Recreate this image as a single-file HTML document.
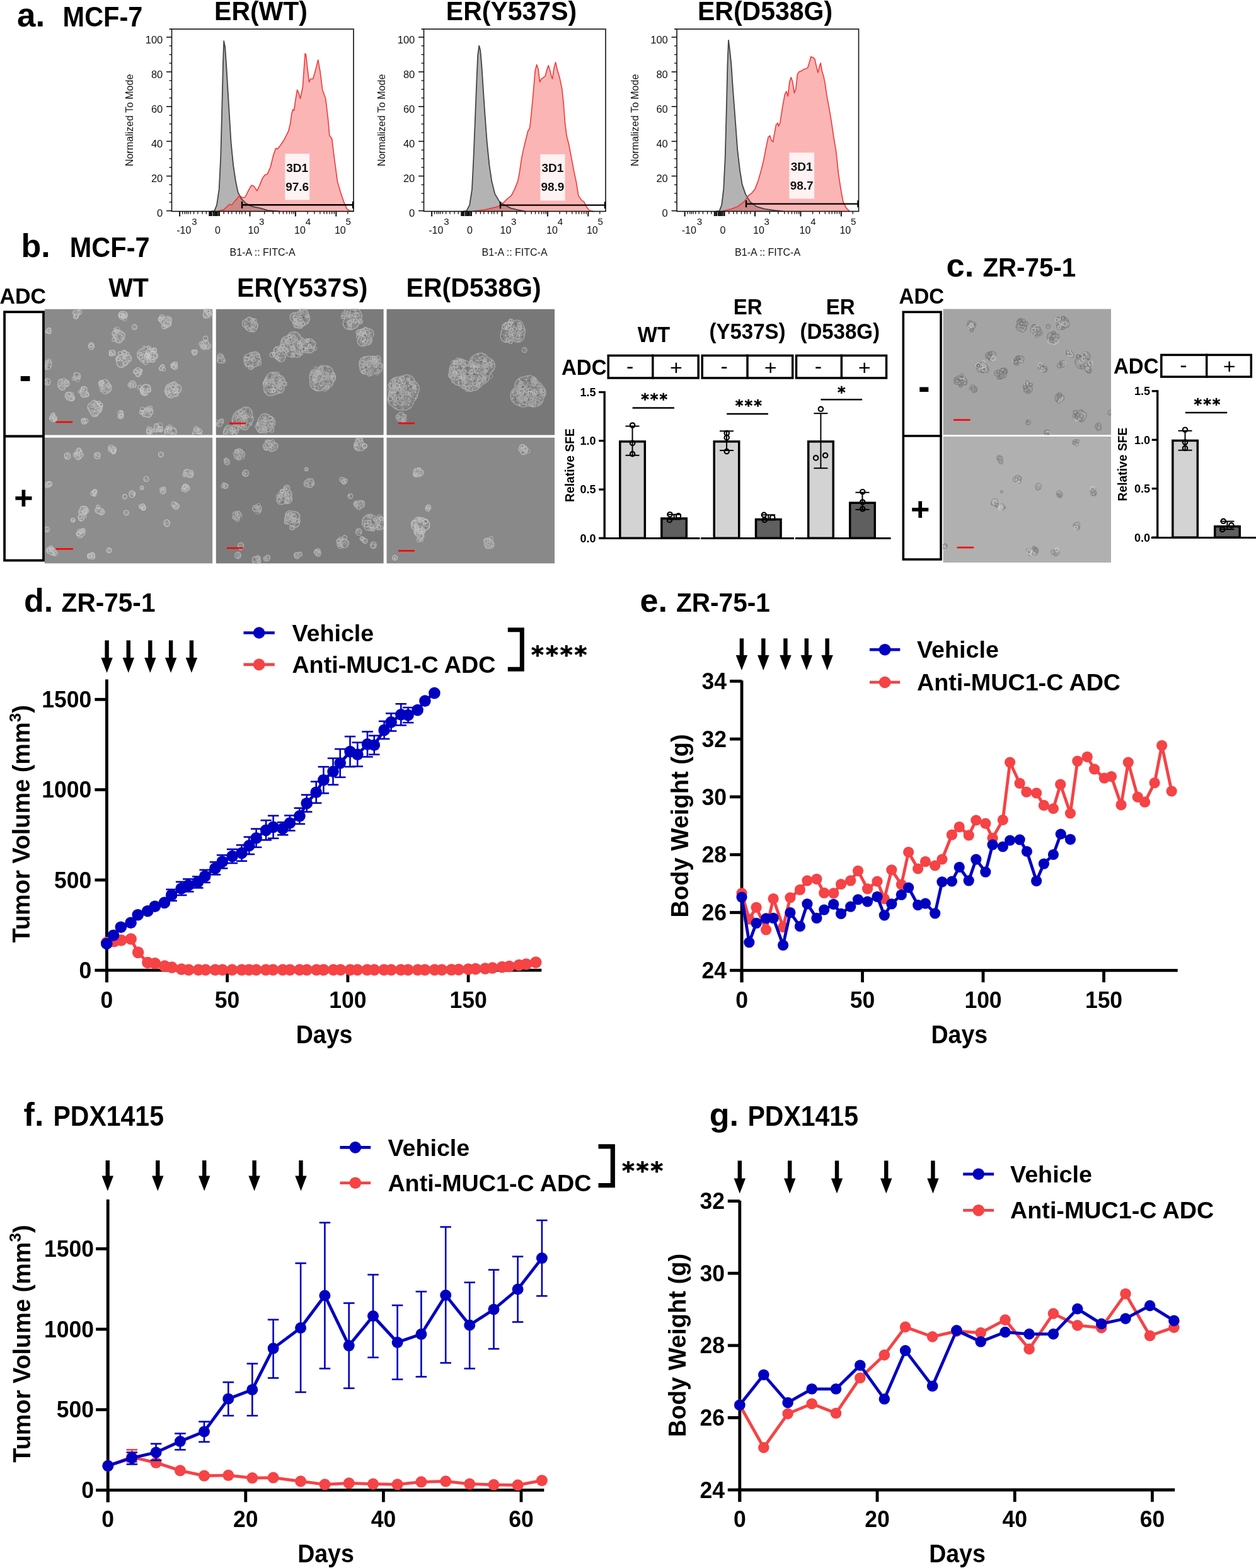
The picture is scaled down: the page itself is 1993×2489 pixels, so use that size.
<!DOCTYPE html>
<html><head><meta charset="utf-8"><title>Figure</title>
<style>
html,body{margin:0;padding:0;background:#fff;}
svg{display:block;}
.b{fill:none;stroke-width:2.8px;}
.u{stroke-opacity:.75;stroke-width:1.3px;}
text{font-family:"Liberation Sans", Arial, Helvetica, sans-serif;}
</style></head><body>
<svg width="1993" height="2489" viewBox="0 0 1993 2489" font-family='"Liberation Sans", Arial, Helvetica, sans-serif'>
<defs><pattern id="pp" width="11" height="10" patternUnits="userSpaceOnUse"><rect width="11" height="10" fill="#fff" fill-opacity=".07"/><circle cx="2" cy="2" r="1.2" fill="#fff" fill-opacity=".5"/><circle cx="7" cy="3.5" r="1" fill="#000" fill-opacity=".4"/><circle cx="4" cy="7.5" r="1.1" fill="#fff" fill-opacity=".4"/><circle cx="9" cy="8" r=".8" fill="#000" fill-opacity=".3"/><circle cx="9.5" cy="1" r=".7" fill="#fff" fill-opacity=".35"/></pattern><pattern id="pd" width="12" height="11" patternUnits="userSpaceOnUse"><rect width="12" height="11" fill="#000" fill-opacity=".03"/><circle cx="2" cy="3" r="1.2" fill="#000" fill-opacity=".35"/><circle cx="8" cy="2" r="1" fill="#fff" fill-opacity=".45"/><circle cx="5" cy="8" r="1.1" fill="#000" fill-opacity=".3"/><circle cx="10" cy="8.5" r=".9" fill="#fff" fill-opacity=".35"/></pattern><filter id="soft" x="-5%" y="-5%" width="110%" height="110%"><feGaussianBlur stdDeviation="0.7"/></filter></defs>
<rect width="1993" height="2489" fill="#fff"/>
<text transform="translate(414.0,32.0) scale(1,1.05)" font-size="41" font-weight="bold" text-anchor="middle" fill="#000" >ER(WT)</text>
<polygon points="335.2,335.4 340.2,334.9 344.0,325.4 347.7,300.4 350.2,250.3 352.2,175.2 354.0,100.1 355.2,65.1 357.2,75.1 359.7,112.6 362.7,162.7 366.5,225.3 370.2,262.8 374.0,287.9 377.7,305.4 382.8,315.4 390.3,322.9 400.3,327.9 412.8,330.4 425.3,334.2 442.8,335.4" fill="#b3b3b3" stroke="none"/>
<polygon points="345.2,335.4 355.2,332.9 364.0,324.2 367.7,325.4 372.7,319.1 380.3,310.4 385.3,314.1 389.0,312.9 395.3,300.4 399.0,294.1 402.8,295.4 407.8,302.9 411.5,295.4 416.5,282.9 420.3,277.8 424.1,276.6 429.1,265.3 434.1,245.3 437.8,235.3 440.3,236.5 445.3,230.3 450.3,222.8 455.3,212.8 457.8,207.8 460.4,197.7 462.9,180.2 464.6,174.0 466.6,175.2 469.1,157.7 471.6,142.7 474.1,147.7 476.6,156.4 480.4,137.7 484.1,85.1 485.4,86.4 490.4,130.2 492.9,125.2 496.6,125.2 500.4,112.6 504.7,95.1 507.9,112.6 511.7,142.7 516.7,156.4 520.4,187.7 522.9,215.3 526.7,220.3 530.4,250.3 535.4,287.9 540.5,305.4 545.5,320.4 550.5,331.7 555.5,334.9 560.5,335.4" fill="rgba(245,70,70,0.40)" stroke="none"/>
<polyline points="335.2,335.4 340.2,334.9 344.0,325.4 347.7,300.4 350.2,250.3 352.2,175.2 354.0,100.1 355.2,65.1 357.2,75.1 359.7,112.6 362.7,162.7 366.5,225.3 370.2,262.8 374.0,287.9 377.7,305.4 382.8,315.4 390.3,322.9 400.3,327.9 412.8,330.4 425.3,334.2 442.8,335.4" fill="none" stroke="#444" stroke-width="1.8" stroke-linejoin="round"/>
<polyline points="345.2,335.4 355.2,332.9 364.0,324.2 367.7,325.4 372.7,319.1 380.3,310.4 385.3,314.1 389.0,312.9 395.3,300.4 399.0,294.1 402.8,295.4 407.8,302.9 411.5,295.4 416.5,282.9 420.3,277.8 424.1,276.6 429.1,265.3 434.1,245.3 437.8,235.3 440.3,236.5 445.3,230.3 450.3,222.8 455.3,212.8 457.8,207.8 460.4,197.7 462.9,180.2 464.6,174.0 466.6,175.2 469.1,157.7 471.6,142.7 474.1,147.7 476.6,156.4 480.4,137.7 484.1,85.1 485.4,86.4 490.4,130.2 492.9,125.2 496.6,125.2 500.4,112.6 504.7,95.1 507.9,112.6 511.7,142.7 516.7,156.4 520.4,187.7 522.9,215.3 526.7,220.3 530.4,250.3 535.4,287.9 540.5,305.4 545.5,320.4 550.5,331.7 555.5,334.9 560.5,335.4" fill="none" stroke="#f03a3a" stroke-width="1.6" stroke-linejoin="round"/>
<rect x="452.3" y="244.0" width="38.8" height="73.4" fill="rgba(255,255,255,0.82)" stroke="none" stroke-width="0" />
<text x="471.7" y="272.5" font-size="19" font-weight="bold" text-anchor="middle" fill="#111" >3D1</text>
<text x="471.7" y="302.5" font-size="19" font-weight="bold" text-anchor="middle" fill="#111" >97.6</text>
<line x1="384.0" y1="325.3" x2="560.0" y2="325.3" stroke="#000" stroke-width="2.4" />
<line x1="384.0" y1="319.8" x2="384.0" y2="330.8" stroke="#000" stroke-width="2.4" />
<line x1="560.0" y1="319.8" x2="560.0" y2="330.8" stroke="#000" stroke-width="2.4" />
<rect x="272.5" y="46.2" width="288.5" height="289.3" fill="none" stroke="#111" stroke-width="1.6" />
<line x1="268.5" y1="46.2" x2="272.5" y2="46.2" stroke="#111" stroke-width="1.6" />
<line x1="264.1" y1="334.6" x2="272.5" y2="334.6" stroke="#111" stroke-width="1.6" />
<text x="258.3" y="344.1" font-size="16.5" font-weight="normal" text-anchor="end" fill="#111" >0</text>
<line x1="268.5" y1="320.8" x2="272.5" y2="320.8" stroke="#111" stroke-width="1.3" />
<line x1="268.5" y1="307.0" x2="272.5" y2="307.0" stroke="#111" stroke-width="1.3" />
<line x1="268.5" y1="293.3" x2="272.5" y2="293.3" stroke="#111" stroke-width="1.3" />
<line x1="264.1" y1="279.5" x2="272.5" y2="279.5" stroke="#111" stroke-width="1.6" />
<text x="258.3" y="289.0" font-size="16.5" font-weight="normal" text-anchor="end" fill="#111" >20</text>
<line x1="268.5" y1="265.7" x2="272.5" y2="265.7" stroke="#111" stroke-width="1.3" />
<line x1="268.5" y1="251.9" x2="272.5" y2="251.9" stroke="#111" stroke-width="1.3" />
<line x1="268.5" y1="238.1" x2="272.5" y2="238.1" stroke="#111" stroke-width="1.3" />
<line x1="264.1" y1="224.4" x2="272.5" y2="224.4" stroke="#111" stroke-width="1.6" />
<text x="258.3" y="233.9" font-size="16.5" font-weight="normal" text-anchor="end" fill="#111" >40</text>
<line x1="268.5" y1="210.6" x2="272.5" y2="210.6" stroke="#111" stroke-width="1.3" />
<line x1="268.5" y1="196.8" x2="272.5" y2="196.8" stroke="#111" stroke-width="1.3" />
<line x1="268.5" y1="183.0" x2="272.5" y2="183.0" stroke="#111" stroke-width="1.3" />
<line x1="264.1" y1="169.2" x2="272.5" y2="169.2" stroke="#111" stroke-width="1.6" />
<text x="258.3" y="178.7" font-size="16.5" font-weight="normal" text-anchor="end" fill="#111" >60</text>
<line x1="268.5" y1="155.5" x2="272.5" y2="155.5" stroke="#111" stroke-width="1.3" />
<line x1="268.5" y1="141.7" x2="272.5" y2="141.7" stroke="#111" stroke-width="1.3" />
<line x1="268.5" y1="127.9" x2="272.5" y2="127.9" stroke="#111" stroke-width="1.3" />
<line x1="264.1" y1="114.1" x2="272.5" y2="114.1" stroke="#111" stroke-width="1.6" />
<text x="258.3" y="123.6" font-size="16.5" font-weight="normal" text-anchor="end" fill="#111" >80</text>
<line x1="268.5" y1="100.3" x2="272.5" y2="100.3" stroke="#111" stroke-width="1.3" />
<line x1="268.5" y1="86.6" x2="272.5" y2="86.6" stroke="#111" stroke-width="1.3" />
<line x1="268.5" y1="72.8" x2="272.5" y2="72.8" stroke="#111" stroke-width="1.3" />
<line x1="264.1" y1="59.0" x2="272.5" y2="59.0" stroke="#111" stroke-width="1.6" />
<text x="258.3" y="68.5" font-size="16.5" font-weight="normal" text-anchor="end" fill="#111" >100</text>
<text transform="translate(211.2,190.9) rotate(-90)" font-size="16" text-anchor="middle" fill="#111">Normalized To Mode</text>
<line x1="285.1" y1="335.5" x2="285.1" y2="343.5" stroke="#111" stroke-width="2" />
<line x1="396.5" y1="335.5" x2="396.5" y2="343.5" stroke="#111" stroke-width="2" />
<line x1="468.9" y1="335.5" x2="468.9" y2="343.5" stroke="#111" stroke-width="2" />
<line x1="533.3" y1="335.5" x2="533.3" y2="343.5" stroke="#111" stroke-width="2" />
<line x1="332.7" y1="335.5" x2="332.7" y2="343.0" stroke="#111" stroke-width="2.8" />
<line x1="335.4" y1="335.5" x2="335.4" y2="343.0" stroke="#111" stroke-width="2.8" />
<line x1="339.0" y1="335.5" x2="339.0" y2="343.0" stroke="#111" stroke-width="2.8" />
<line x1="341.7" y1="335.5" x2="341.7" y2="343.0" stroke="#111" stroke-width="2.8" />
<line x1="344.4" y1="335.5" x2="344.4" y2="343.0" stroke="#111" stroke-width="2.8" />
<line x1="347.6" y1="335.5" x2="347.6" y2="343.0" stroke="#111" stroke-width="2.8" />
<line x1="289.6" y1="335.5" x2="289.6" y2="339.8" stroke="#111" stroke-width="1.3" />
<line x1="293.2" y1="335.5" x2="293.2" y2="339.8" stroke="#111" stroke-width="1.3" />
<line x1="295.9" y1="335.5" x2="295.9" y2="339.8" stroke="#111" stroke-width="1.3" />
<line x1="298.6" y1="335.5" x2="298.6" y2="339.8" stroke="#111" stroke-width="1.3" />
<line x1="302.2" y1="335.5" x2="302.2" y2="339.8" stroke="#111" stroke-width="1.3" />
<line x1="307.6" y1="335.5" x2="307.6" y2="339.8" stroke="#111" stroke-width="1.3" />
<line x1="313.9" y1="335.5" x2="313.9" y2="339.8" stroke="#111" stroke-width="1.3" />
<line x1="321.1" y1="335.5" x2="321.1" y2="339.8" stroke="#111" stroke-width="1.3" />
<line x1="327.3" y1="335.5" x2="327.3" y2="339.8" stroke="#111" stroke-width="1.3" />
<line x1="355.2" y1="335.5" x2="355.2" y2="339.8" stroke="#111" stroke-width="1.3" />
<line x1="362.4" y1="335.5" x2="362.4" y2="339.8" stroke="#111" stroke-width="1.3" />
<line x1="367.8" y1="335.5" x2="367.8" y2="339.8" stroke="#111" stroke-width="1.3" />
<line x1="374.9" y1="335.5" x2="374.9" y2="339.8" stroke="#111" stroke-width="1.3" />
<line x1="380.3" y1="335.5" x2="380.3" y2="339.8" stroke="#111" stroke-width="1.3" />
<line x1="383.9" y1="335.5" x2="383.9" y2="339.8" stroke="#111" stroke-width="1.3" />
<line x1="389.3" y1="335.5" x2="389.3" y2="339.8" stroke="#111" stroke-width="1.3" />
<line x1="419.8" y1="335.5" x2="419.8" y2="339.8" stroke="#111" stroke-width="1.3" />
<line x1="433.3" y1="335.5" x2="433.3" y2="339.8" stroke="#111" stroke-width="1.3" />
<line x1="443.2" y1="335.5" x2="443.2" y2="339.8" stroke="#111" stroke-width="1.3" />
<line x1="449.5" y1="335.5" x2="449.5" y2="339.8" stroke="#111" stroke-width="1.3" />
<line x1="454.9" y1="335.5" x2="454.9" y2="339.8" stroke="#111" stroke-width="1.3" />
<line x1="459.4" y1="335.5" x2="459.4" y2="339.8" stroke="#111" stroke-width="1.3" />
<line x1="463.0" y1="335.5" x2="463.0" y2="339.8" stroke="#111" stroke-width="1.3" />
<line x1="466.2" y1="335.5" x2="466.2" y2="339.8" stroke="#111" stroke-width="1.3" />
<line x1="488.1" y1="335.5" x2="488.1" y2="339.8" stroke="#111" stroke-width="1.3" />
<line x1="498.9" y1="335.5" x2="498.9" y2="339.8" stroke="#111" stroke-width="1.3" />
<line x1="507.8" y1="335.5" x2="507.8" y2="339.8" stroke="#111" stroke-width="1.3" />
<line x1="514.1" y1="335.5" x2="514.1" y2="339.8" stroke="#111" stroke-width="1.3" />
<line x1="518.6" y1="335.5" x2="518.6" y2="339.8" stroke="#111" stroke-width="1.3" />
<line x1="523.1" y1="335.5" x2="523.1" y2="339.8" stroke="#111" stroke-width="1.3" />
<line x1="526.7" y1="335.5" x2="526.7" y2="339.8" stroke="#111" stroke-width="1.3" />
<line x1="530.3" y1="335.5" x2="530.3" y2="339.8" stroke="#111" stroke-width="1.3" />
<line x1="551.8" y1="335.5" x2="551.8" y2="339.8" stroke="#111" stroke-width="1.3" />
<text x="303.3" y="371.0" font-size="16" font-weight="normal" text-anchor="end" fill="#111" >-10</text>
<text x="304.2" y="357.2" font-size="15" font-weight="normal" text-anchor="start" fill="#111" >3</text>
<text x="345.5" y="371.0" font-size="16" font-weight="normal" text-anchor="middle" fill="#111" >0</text>
<text x="393.5" y="371.0" font-size="16" font-weight="normal" text-anchor="start" fill="#111" >10</text>
<text x="411.1" y="357.2" font-size="15" font-weight="normal" text-anchor="start" fill="#111" >3</text>
<text x="467.1" y="371.0" font-size="16" font-weight="normal" text-anchor="start" fill="#111" >10</text>
<text x="484.7" y="357.2" font-size="15" font-weight="normal" text-anchor="start" fill="#111" >4</text>
<text x="530.9" y="371.0" font-size="16" font-weight="normal" text-anchor="start" fill="#111" >10</text>
<text x="548.5" y="357.2" font-size="15" font-weight="normal" text-anchor="start" fill="#111" >5</text>
<text x="416.6" y="405.6" font-size="16" font-weight="normal" text-anchor="middle" fill="#111" >B1-A :: FITC-A</text>
<text transform="translate(811.5,32.0) scale(1,1.05)" font-size="41" font-weight="bold" text-anchor="middle" fill="#000" >ER(Y537S)</text>
<polygon points="735.2,335.4 740.2,334.9 745.2,325.4 749.0,300.4 751.5,250.3 754.0,187.7 756.5,125.2 758.2,87.6 760.2,72.6 762.2,80.1 764.0,100.1 766.5,137.7 769.0,175.2 772.7,225.3 776.5,262.8 780.3,287.9 785.3,307.9 792.8,320.4 800.3,325.4 810.3,330.4 820.3,332.9 832.8,335.4" fill="#b3b3b3" stroke="none"/>
<polygon points="750.2,335.4 770.2,332.9 780.3,330.4 790.3,327.9 797.8,322.9 805.3,315.4 811.5,310.4 816.5,300.4 821.6,287.9 824.1,275.3 827.8,250.3 831.6,232.8 835.3,217.8 837.8,207.8 840.3,204.0 841.6,195.2 844.1,170.2 846.6,142.7 849.1,112.6 851.6,102.6 854.1,110.1 856.6,130.2 859.1,125.2 862.9,122.7 865.4,120.2 867.9,110.1 870.4,103.9 872.9,112.6 875.4,122.7 876.6,125.2 879.1,107.6 881.6,98.9 884.1,110.1 887.9,122.7 891.6,140.2 894.1,162.7 896.6,195.2 899.1,215.3 902.9,230.3 906.7,250.3 910.4,270.3 914.2,287.9 917.9,310.4 922.9,317.9 926.7,320.4 930.4,327.9 935.4,334.2 943.0,335.9" fill="rgba(245,70,70,0.40)" stroke="none"/>
<polyline points="735.2,335.4 740.2,334.9 745.2,325.4 749.0,300.4 751.5,250.3 754.0,187.7 756.5,125.2 758.2,87.6 760.2,72.6 762.2,80.1 764.0,100.1 766.5,137.7 769.0,175.2 772.7,225.3 776.5,262.8 780.3,287.9 785.3,307.9 792.8,320.4 800.3,325.4 810.3,330.4 820.3,332.9 832.8,335.4" fill="none" stroke="#444" stroke-width="1.8" stroke-linejoin="round"/>
<polyline points="750.2,335.4 770.2,332.9 780.3,330.4 790.3,327.9 797.8,322.9 805.3,315.4 811.5,310.4 816.5,300.4 821.6,287.9 824.1,275.3 827.8,250.3 831.6,232.8 835.3,217.8 837.8,207.8 840.3,204.0 841.6,195.2 844.1,170.2 846.6,142.7 849.1,112.6 851.6,102.6 854.1,110.1 856.6,130.2 859.1,125.2 862.9,122.7 865.4,120.2 867.9,110.1 870.4,103.9 872.9,112.6 875.4,122.7 876.6,125.2 879.1,107.6 881.6,98.9 884.1,110.1 887.9,122.7 891.6,140.2 894.1,162.7 896.6,195.2 899.1,215.3 902.9,230.3 906.7,250.3 910.4,270.3 914.2,287.9 917.9,310.4 922.9,317.9 926.7,320.4 930.4,327.9 935.4,334.2 943.0,335.9" fill="none" stroke="#f03a3a" stroke-width="1.6" stroke-linejoin="round"/>
<rect x="857.3" y="244.8" width="39.3" height="73.6" fill="rgba(255,255,255,0.82)" stroke="none" stroke-width="0" />
<text x="876.9" y="273.3" font-size="19" font-weight="bold" text-anchor="middle" fill="#111" >3D1</text>
<text x="876.9" y="303.3" font-size="19" font-weight="bold" text-anchor="middle" fill="#111" >98.9</text>
<line x1="794.0" y1="325.6" x2="960.0" y2="325.6" stroke="#000" stroke-width="2.4" />
<line x1="794.0" y1="320.1" x2="794.0" y2="331.1" stroke="#000" stroke-width="2.4" />
<line x1="960.0" y1="320.1" x2="960.0" y2="331.1" stroke="#000" stroke-width="2.4" />
<rect x="672.5" y="46.2" width="288.5" height="289.3" fill="none" stroke="#111" stroke-width="1.6" />
<line x1="668.5" y1="46.2" x2="672.5" y2="46.2" stroke="#111" stroke-width="1.6" />
<line x1="664.1" y1="334.6" x2="672.5" y2="334.6" stroke="#111" stroke-width="1.6" />
<text x="658.3" y="344.1" font-size="16.5" font-weight="normal" text-anchor="end" fill="#111" >0</text>
<line x1="668.5" y1="320.8" x2="672.5" y2="320.8" stroke="#111" stroke-width="1.3" />
<line x1="668.5" y1="307.0" x2="672.5" y2="307.0" stroke="#111" stroke-width="1.3" />
<line x1="668.5" y1="293.3" x2="672.5" y2="293.3" stroke="#111" stroke-width="1.3" />
<line x1="664.1" y1="279.5" x2="672.5" y2="279.5" stroke="#111" stroke-width="1.6" />
<text x="658.3" y="289.0" font-size="16.5" font-weight="normal" text-anchor="end" fill="#111" >20</text>
<line x1="668.5" y1="265.7" x2="672.5" y2="265.7" stroke="#111" stroke-width="1.3" />
<line x1="668.5" y1="251.9" x2="672.5" y2="251.9" stroke="#111" stroke-width="1.3" />
<line x1="668.5" y1="238.1" x2="672.5" y2="238.1" stroke="#111" stroke-width="1.3" />
<line x1="664.1" y1="224.4" x2="672.5" y2="224.4" stroke="#111" stroke-width="1.6" />
<text x="658.3" y="233.9" font-size="16.5" font-weight="normal" text-anchor="end" fill="#111" >40</text>
<line x1="668.5" y1="210.6" x2="672.5" y2="210.6" stroke="#111" stroke-width="1.3" />
<line x1="668.5" y1="196.8" x2="672.5" y2="196.8" stroke="#111" stroke-width="1.3" />
<line x1="668.5" y1="183.0" x2="672.5" y2="183.0" stroke="#111" stroke-width="1.3" />
<line x1="664.1" y1="169.2" x2="672.5" y2="169.2" stroke="#111" stroke-width="1.6" />
<text x="658.3" y="178.7" font-size="16.5" font-weight="normal" text-anchor="end" fill="#111" >60</text>
<line x1="668.5" y1="155.5" x2="672.5" y2="155.5" stroke="#111" stroke-width="1.3" />
<line x1="668.5" y1="141.7" x2="672.5" y2="141.7" stroke="#111" stroke-width="1.3" />
<line x1="668.5" y1="127.9" x2="672.5" y2="127.9" stroke="#111" stroke-width="1.3" />
<line x1="664.1" y1="114.1" x2="672.5" y2="114.1" stroke="#111" stroke-width="1.6" />
<text x="658.3" y="123.6" font-size="16.5" font-weight="normal" text-anchor="end" fill="#111" >80</text>
<line x1="668.5" y1="100.3" x2="672.5" y2="100.3" stroke="#111" stroke-width="1.3" />
<line x1="668.5" y1="86.6" x2="672.5" y2="86.6" stroke="#111" stroke-width="1.3" />
<line x1="668.5" y1="72.8" x2="672.5" y2="72.8" stroke="#111" stroke-width="1.3" />
<line x1="664.1" y1="59.0" x2="672.5" y2="59.0" stroke="#111" stroke-width="1.6" />
<text x="658.3" y="68.5" font-size="16.5" font-weight="normal" text-anchor="end" fill="#111" >100</text>
<text transform="translate(611.2,190.9) rotate(-90)" font-size="16" text-anchor="middle" fill="#111">Normalized To Mode</text>
<line x1="685.1" y1="335.5" x2="685.1" y2="343.5" stroke="#111" stroke-width="2" />
<line x1="796.5" y1="335.5" x2="796.5" y2="343.5" stroke="#111" stroke-width="2" />
<line x1="868.9" y1="335.5" x2="868.9" y2="343.5" stroke="#111" stroke-width="2" />
<line x1="933.3" y1="335.5" x2="933.3" y2="343.5" stroke="#111" stroke-width="2" />
<line x1="732.7" y1="335.5" x2="732.7" y2="343.0" stroke="#111" stroke-width="2.8" />
<line x1="735.4" y1="335.5" x2="735.4" y2="343.0" stroke="#111" stroke-width="2.8" />
<line x1="739.0" y1="335.5" x2="739.0" y2="343.0" stroke="#111" stroke-width="2.8" />
<line x1="741.7" y1="335.5" x2="741.7" y2="343.0" stroke="#111" stroke-width="2.8" />
<line x1="744.4" y1="335.5" x2="744.4" y2="343.0" stroke="#111" stroke-width="2.8" />
<line x1="747.6" y1="335.5" x2="747.6" y2="343.0" stroke="#111" stroke-width="2.8" />
<line x1="689.6" y1="335.5" x2="689.6" y2="339.8" stroke="#111" stroke-width="1.3" />
<line x1="693.2" y1="335.5" x2="693.2" y2="339.8" stroke="#111" stroke-width="1.3" />
<line x1="695.9" y1="335.5" x2="695.9" y2="339.8" stroke="#111" stroke-width="1.3" />
<line x1="698.6" y1="335.5" x2="698.6" y2="339.8" stroke="#111" stroke-width="1.3" />
<line x1="702.2" y1="335.5" x2="702.2" y2="339.8" stroke="#111" stroke-width="1.3" />
<line x1="707.6" y1="335.5" x2="707.6" y2="339.8" stroke="#111" stroke-width="1.3" />
<line x1="713.9" y1="335.5" x2="713.9" y2="339.8" stroke="#111" stroke-width="1.3" />
<line x1="721.1" y1="335.5" x2="721.1" y2="339.8" stroke="#111" stroke-width="1.3" />
<line x1="727.3" y1="335.5" x2="727.3" y2="339.8" stroke="#111" stroke-width="1.3" />
<line x1="755.2" y1="335.5" x2="755.2" y2="339.8" stroke="#111" stroke-width="1.3" />
<line x1="762.4" y1="335.5" x2="762.4" y2="339.8" stroke="#111" stroke-width="1.3" />
<line x1="767.8" y1="335.5" x2="767.8" y2="339.8" stroke="#111" stroke-width="1.3" />
<line x1="774.9" y1="335.5" x2="774.9" y2="339.8" stroke="#111" stroke-width="1.3" />
<line x1="780.3" y1="335.5" x2="780.3" y2="339.8" stroke="#111" stroke-width="1.3" />
<line x1="783.9" y1="335.5" x2="783.9" y2="339.8" stroke="#111" stroke-width="1.3" />
<line x1="789.3" y1="335.5" x2="789.3" y2="339.8" stroke="#111" stroke-width="1.3" />
<line x1="819.8" y1="335.5" x2="819.8" y2="339.8" stroke="#111" stroke-width="1.3" />
<line x1="833.3" y1="335.5" x2="833.3" y2="339.8" stroke="#111" stroke-width="1.3" />
<line x1="843.2" y1="335.5" x2="843.2" y2="339.8" stroke="#111" stroke-width="1.3" />
<line x1="849.5" y1="335.5" x2="849.5" y2="339.8" stroke="#111" stroke-width="1.3" />
<line x1="854.9" y1="335.5" x2="854.9" y2="339.8" stroke="#111" stroke-width="1.3" />
<line x1="859.4" y1="335.5" x2="859.4" y2="339.8" stroke="#111" stroke-width="1.3" />
<line x1="863.0" y1="335.5" x2="863.0" y2="339.8" stroke="#111" stroke-width="1.3" />
<line x1="866.2" y1="335.5" x2="866.2" y2="339.8" stroke="#111" stroke-width="1.3" />
<line x1="888.1" y1="335.5" x2="888.1" y2="339.8" stroke="#111" stroke-width="1.3" />
<line x1="898.9" y1="335.5" x2="898.9" y2="339.8" stroke="#111" stroke-width="1.3" />
<line x1="907.8" y1="335.5" x2="907.8" y2="339.8" stroke="#111" stroke-width="1.3" />
<line x1="914.1" y1="335.5" x2="914.1" y2="339.8" stroke="#111" stroke-width="1.3" />
<line x1="918.6" y1="335.5" x2="918.6" y2="339.8" stroke="#111" stroke-width="1.3" />
<line x1="923.1" y1="335.5" x2="923.1" y2="339.8" stroke="#111" stroke-width="1.3" />
<line x1="926.7" y1="335.5" x2="926.7" y2="339.8" stroke="#111" stroke-width="1.3" />
<line x1="930.3" y1="335.5" x2="930.3" y2="339.8" stroke="#111" stroke-width="1.3" />
<line x1="951.8" y1="335.5" x2="951.8" y2="339.8" stroke="#111" stroke-width="1.3" />
<text x="703.3" y="371.0" font-size="16" font-weight="normal" text-anchor="end" fill="#111" >-10</text>
<text x="704.2" y="357.2" font-size="15" font-weight="normal" text-anchor="start" fill="#111" >3</text>
<text x="745.5" y="371.0" font-size="16" font-weight="normal" text-anchor="middle" fill="#111" >0</text>
<text x="793.5" y="371.0" font-size="16" font-weight="normal" text-anchor="start" fill="#111" >10</text>
<text x="811.1" y="357.2" font-size="15" font-weight="normal" text-anchor="start" fill="#111" >3</text>
<text x="867.1" y="371.0" font-size="16" font-weight="normal" text-anchor="start" fill="#111" >10</text>
<text x="884.7" y="357.2" font-size="15" font-weight="normal" text-anchor="start" fill="#111" >4</text>
<text x="930.9" y="371.0" font-size="16" font-weight="normal" text-anchor="start" fill="#111" >10</text>
<text x="948.5" y="357.2" font-size="15" font-weight="normal" text-anchor="start" fill="#111" >5</text>
<text x="816.6" y="405.6" font-size="16" font-weight="normal" text-anchor="middle" fill="#111" >B1-A :: FITC-A</text>
<text transform="translate(1214.0,32.0) scale(1,1.05)" font-size="41" font-weight="bold" text-anchor="middle" fill="#000" >ER(D538G)</text>
<polygon points="1136.4,335.4 1141.5,334.9 1145.2,325.4 1148.2,300.4 1150.7,250.3 1152.7,175.2 1154.5,100.1 1156.0,63.8 1157.7,77.6 1160.2,100.1 1162.7,137.7 1166.5,187.7 1170.2,237.8 1174.0,270.3 1177.7,292.9 1182.8,307.9 1190.3,320.4 1200.3,327.9 1212.8,331.7 1230.3,334.2 1242.8,335.4" fill="#b3b3b3" stroke="none"/>
<polygon points="1145.2,335.4 1160.2,331.7 1170.2,327.9 1180.3,320.4 1187.8,310.4 1192.8,306.6 1197.8,300.4 1202.8,287.9 1207.8,270.3 1211.5,255.3 1215.3,235.3 1219.0,217.8 1221.6,215.3 1224.1,222.8 1226.6,225.3 1229.1,210.3 1231.6,197.7 1234.1,195.2 1235.3,200.3 1237.8,195.2 1241.6,170.2 1245.3,150.2 1247.8,145.2 1250.3,152.7 1252.8,130.2 1255.3,122.7 1257.8,130.2 1260.4,147.7 1262.9,140.2 1265.4,117.6 1267.9,113.9 1271.6,112.6 1275.4,110.1 1279.1,108.9 1281.6,107.6 1284.1,100.1 1286.6,90.1 1290.4,91.4 1292.9,93.9 1295.4,105.1 1297.9,115.1 1300.4,105.1 1302.2,100.1 1304.2,112.6 1306.7,120.2 1309.2,132.7 1311.7,150.2 1315.4,170.2 1319.2,192.7 1322.9,217.8 1326.7,240.3 1330.4,275.3 1334.2,300.4 1337.9,320.4 1343.0,330.4 1348.0,335.4" fill="rgba(245,70,70,0.40)" stroke="none"/>
<polyline points="1136.4,335.4 1141.5,334.9 1145.2,325.4 1148.2,300.4 1150.7,250.3 1152.7,175.2 1154.5,100.1 1156.0,63.8 1157.7,77.6 1160.2,100.1 1162.7,137.7 1166.5,187.7 1170.2,237.8 1174.0,270.3 1177.7,292.9 1182.8,307.9 1190.3,320.4 1200.3,327.9 1212.8,331.7 1230.3,334.2 1242.8,335.4" fill="none" stroke="#444" stroke-width="1.8" stroke-linejoin="round"/>
<polyline points="1145.2,335.4 1160.2,331.7 1170.2,327.9 1180.3,320.4 1187.8,310.4 1192.8,306.6 1197.8,300.4 1202.8,287.9 1207.8,270.3 1211.5,255.3 1215.3,235.3 1219.0,217.8 1221.6,215.3 1224.1,222.8 1226.6,225.3 1229.1,210.3 1231.6,197.7 1234.1,195.2 1235.3,200.3 1237.8,195.2 1241.6,170.2 1245.3,150.2 1247.8,145.2 1250.3,152.7 1252.8,130.2 1255.3,122.7 1257.8,130.2 1260.4,147.7 1262.9,140.2 1265.4,117.6 1267.9,113.9 1271.6,112.6 1275.4,110.1 1279.1,108.9 1281.6,107.6 1284.1,100.1 1286.6,90.1 1290.4,91.4 1292.9,93.9 1295.4,105.1 1297.9,115.1 1300.4,105.1 1302.2,100.1 1304.2,112.6 1306.7,120.2 1309.2,132.7 1311.7,150.2 1315.4,170.2 1319.2,192.7 1322.9,217.8 1326.7,240.3 1330.4,275.3 1334.2,300.4 1337.9,320.4 1343.0,330.4 1348.0,335.4" fill="none" stroke="#f03a3a" stroke-width="1.6" stroke-linejoin="round"/>
<rect x="1252.3" y="242.3" width="39.8" height="73.1" fill="rgba(255,255,255,0.82)" stroke="none" stroke-width="0" />
<text x="1272.2" y="270.8" font-size="19" font-weight="bold" text-anchor="middle" fill="#111" >3D1</text>
<text x="1272.2" y="300.8" font-size="19" font-weight="bold" text-anchor="middle" fill="#111" >98.7</text>
<line x1="1184.0" y1="323.6" x2="1361.5" y2="323.6" stroke="#000" stroke-width="2.4" />
<line x1="1184.0" y1="318.1" x2="1184.0" y2="329.1" stroke="#000" stroke-width="2.4" />
<line x1="1361.5" y1="318.1" x2="1361.5" y2="329.1" stroke="#000" stroke-width="2.4" />
<rect x="1074.0" y="46.2" width="288.5" height="289.3" fill="none" stroke="#111" stroke-width="1.6" />
<line x1="1070.0" y1="46.2" x2="1074.0" y2="46.2" stroke="#111" stroke-width="1.6" />
<line x1="1065.6" y1="334.6" x2="1074.0" y2="334.6" stroke="#111" stroke-width="1.6" />
<text x="1059.8" y="344.1" font-size="16.5" font-weight="normal" text-anchor="end" fill="#111" >0</text>
<line x1="1070.0" y1="320.8" x2="1074.0" y2="320.8" stroke="#111" stroke-width="1.3" />
<line x1="1070.0" y1="307.0" x2="1074.0" y2="307.0" stroke="#111" stroke-width="1.3" />
<line x1="1070.0" y1="293.3" x2="1074.0" y2="293.3" stroke="#111" stroke-width="1.3" />
<line x1="1065.6" y1="279.5" x2="1074.0" y2="279.5" stroke="#111" stroke-width="1.6" />
<text x="1059.8" y="289.0" font-size="16.5" font-weight="normal" text-anchor="end" fill="#111" >20</text>
<line x1="1070.0" y1="265.7" x2="1074.0" y2="265.7" stroke="#111" stroke-width="1.3" />
<line x1="1070.0" y1="251.9" x2="1074.0" y2="251.9" stroke="#111" stroke-width="1.3" />
<line x1="1070.0" y1="238.1" x2="1074.0" y2="238.1" stroke="#111" stroke-width="1.3" />
<line x1="1065.6" y1="224.4" x2="1074.0" y2="224.4" stroke="#111" stroke-width="1.6" />
<text x="1059.8" y="233.9" font-size="16.5" font-weight="normal" text-anchor="end" fill="#111" >40</text>
<line x1="1070.0" y1="210.6" x2="1074.0" y2="210.6" stroke="#111" stroke-width="1.3" />
<line x1="1070.0" y1="196.8" x2="1074.0" y2="196.8" stroke="#111" stroke-width="1.3" />
<line x1="1070.0" y1="183.0" x2="1074.0" y2="183.0" stroke="#111" stroke-width="1.3" />
<line x1="1065.6" y1="169.2" x2="1074.0" y2="169.2" stroke="#111" stroke-width="1.6" />
<text x="1059.8" y="178.7" font-size="16.5" font-weight="normal" text-anchor="end" fill="#111" >60</text>
<line x1="1070.0" y1="155.5" x2="1074.0" y2="155.5" stroke="#111" stroke-width="1.3" />
<line x1="1070.0" y1="141.7" x2="1074.0" y2="141.7" stroke="#111" stroke-width="1.3" />
<line x1="1070.0" y1="127.9" x2="1074.0" y2="127.9" stroke="#111" stroke-width="1.3" />
<line x1="1065.6" y1="114.1" x2="1074.0" y2="114.1" stroke="#111" stroke-width="1.6" />
<text x="1059.8" y="123.6" font-size="16.5" font-weight="normal" text-anchor="end" fill="#111" >80</text>
<line x1="1070.0" y1="100.3" x2="1074.0" y2="100.3" stroke="#111" stroke-width="1.3" />
<line x1="1070.0" y1="86.6" x2="1074.0" y2="86.6" stroke="#111" stroke-width="1.3" />
<line x1="1070.0" y1="72.8" x2="1074.0" y2="72.8" stroke="#111" stroke-width="1.3" />
<line x1="1065.6" y1="59.0" x2="1074.0" y2="59.0" stroke="#111" stroke-width="1.6" />
<text x="1059.8" y="68.5" font-size="16.5" font-weight="normal" text-anchor="end" fill="#111" >100</text>
<text transform="translate(1012.7,190.9) rotate(-90)" font-size="16" text-anchor="middle" fill="#111">Normalized To Mode</text>
<line x1="1086.6" y1="335.5" x2="1086.6" y2="343.5" stroke="#111" stroke-width="2" />
<line x1="1198.0" y1="335.5" x2="1198.0" y2="343.5" stroke="#111" stroke-width="2" />
<line x1="1270.4" y1="335.5" x2="1270.4" y2="343.5" stroke="#111" stroke-width="2" />
<line x1="1334.8" y1="335.5" x2="1334.8" y2="343.5" stroke="#111" stroke-width="2" />
<line x1="1134.2" y1="335.5" x2="1134.2" y2="343.0" stroke="#111" stroke-width="2.8" />
<line x1="1136.9" y1="335.5" x2="1136.9" y2="343.0" stroke="#111" stroke-width="2.8" />
<line x1="1140.5" y1="335.5" x2="1140.5" y2="343.0" stroke="#111" stroke-width="2.8" />
<line x1="1143.2" y1="335.5" x2="1143.2" y2="343.0" stroke="#111" stroke-width="2.8" />
<line x1="1145.9" y1="335.5" x2="1145.9" y2="343.0" stroke="#111" stroke-width="2.8" />
<line x1="1149.1" y1="335.5" x2="1149.1" y2="343.0" stroke="#111" stroke-width="2.8" />
<line x1="1091.1" y1="335.5" x2="1091.1" y2="339.8" stroke="#111" stroke-width="1.3" />
<line x1="1094.7" y1="335.5" x2="1094.7" y2="339.8" stroke="#111" stroke-width="1.3" />
<line x1="1097.4" y1="335.5" x2="1097.4" y2="339.8" stroke="#111" stroke-width="1.3" />
<line x1="1100.1" y1="335.5" x2="1100.1" y2="339.8" stroke="#111" stroke-width="1.3" />
<line x1="1103.7" y1="335.5" x2="1103.7" y2="339.8" stroke="#111" stroke-width="1.3" />
<line x1="1109.1" y1="335.5" x2="1109.1" y2="339.8" stroke="#111" stroke-width="1.3" />
<line x1="1115.4" y1="335.5" x2="1115.4" y2="339.8" stroke="#111" stroke-width="1.3" />
<line x1="1122.6" y1="335.5" x2="1122.6" y2="339.8" stroke="#111" stroke-width="1.3" />
<line x1="1128.8" y1="335.5" x2="1128.8" y2="339.8" stroke="#111" stroke-width="1.3" />
<line x1="1156.7" y1="335.5" x2="1156.7" y2="339.8" stroke="#111" stroke-width="1.3" />
<line x1="1163.9" y1="335.5" x2="1163.9" y2="339.8" stroke="#111" stroke-width="1.3" />
<line x1="1169.3" y1="335.5" x2="1169.3" y2="339.8" stroke="#111" stroke-width="1.3" />
<line x1="1176.4" y1="335.5" x2="1176.4" y2="339.8" stroke="#111" stroke-width="1.3" />
<line x1="1181.8" y1="335.5" x2="1181.8" y2="339.8" stroke="#111" stroke-width="1.3" />
<line x1="1185.4" y1="335.5" x2="1185.4" y2="339.8" stroke="#111" stroke-width="1.3" />
<line x1="1190.8" y1="335.5" x2="1190.8" y2="339.8" stroke="#111" stroke-width="1.3" />
<line x1="1221.3" y1="335.5" x2="1221.3" y2="339.8" stroke="#111" stroke-width="1.3" />
<line x1="1234.8" y1="335.5" x2="1234.8" y2="339.8" stroke="#111" stroke-width="1.3" />
<line x1="1244.7" y1="335.5" x2="1244.7" y2="339.8" stroke="#111" stroke-width="1.3" />
<line x1="1251.0" y1="335.5" x2="1251.0" y2="339.8" stroke="#111" stroke-width="1.3" />
<line x1="1256.4" y1="335.5" x2="1256.4" y2="339.8" stroke="#111" stroke-width="1.3" />
<line x1="1260.9" y1="335.5" x2="1260.9" y2="339.8" stroke="#111" stroke-width="1.3" />
<line x1="1264.5" y1="335.5" x2="1264.5" y2="339.8" stroke="#111" stroke-width="1.3" />
<line x1="1267.7" y1="335.5" x2="1267.7" y2="339.8" stroke="#111" stroke-width="1.3" />
<line x1="1289.6" y1="335.5" x2="1289.6" y2="339.8" stroke="#111" stroke-width="1.3" />
<line x1="1300.4" y1="335.5" x2="1300.4" y2="339.8" stroke="#111" stroke-width="1.3" />
<line x1="1309.3" y1="335.5" x2="1309.3" y2="339.8" stroke="#111" stroke-width="1.3" />
<line x1="1315.6" y1="335.5" x2="1315.6" y2="339.8" stroke="#111" stroke-width="1.3" />
<line x1="1320.1" y1="335.5" x2="1320.1" y2="339.8" stroke="#111" stroke-width="1.3" />
<line x1="1324.6" y1="335.5" x2="1324.6" y2="339.8" stroke="#111" stroke-width="1.3" />
<line x1="1328.2" y1="335.5" x2="1328.2" y2="339.8" stroke="#111" stroke-width="1.3" />
<line x1="1331.8" y1="335.5" x2="1331.8" y2="339.8" stroke="#111" stroke-width="1.3" />
<line x1="1353.3" y1="335.5" x2="1353.3" y2="339.8" stroke="#111" stroke-width="1.3" />
<text x="1104.8" y="371.0" font-size="16" font-weight="normal" text-anchor="end" fill="#111" >-10</text>
<text x="1105.7" y="357.2" font-size="15" font-weight="normal" text-anchor="start" fill="#111" >3</text>
<text x="1147.0" y="371.0" font-size="16" font-weight="normal" text-anchor="middle" fill="#111" >0</text>
<text x="1195.0" y="371.0" font-size="16" font-weight="normal" text-anchor="start" fill="#111" >10</text>
<text x="1212.6" y="357.2" font-size="15" font-weight="normal" text-anchor="start" fill="#111" >3</text>
<text x="1268.6" y="371.0" font-size="16" font-weight="normal" text-anchor="start" fill="#111" >10</text>
<text x="1286.2" y="357.2" font-size="15" font-weight="normal" text-anchor="start" fill="#111" >4</text>
<text x="1332.4" y="371.0" font-size="16" font-weight="normal" text-anchor="start" fill="#111" >10</text>
<text x="1350.0" y="357.2" font-size="15" font-weight="normal" text-anchor="start" fill="#111" >5</text>
<text x="1218.1" y="405.6" font-size="16" font-weight="normal" text-anchor="middle" fill="#111" >B1-A :: FITC-A</text>
<text x="27.0" y="42.0" font-size="53" font-weight="bold" text-anchor="start" fill="#000" >a.</text>
<text transform="translate(99.6,42.0) scale(1,1.065)" font-size="41.5" font-weight="bold" text-anchor="start" fill="#000" >MCF-7</text>
<text x="33.5" y="407.6" font-size="52" font-weight="bold" text-anchor="start" fill="#000" >b.</text>
<text transform="translate(110.8,407.6) scale(1,1.065)" font-size="41.5" font-weight="bold" text-anchor="start" fill="#000" >MCF-7</text>
<text transform="translate(-0.6,482.2) scale(1,1.05)" font-size="34" font-weight="bold" text-anchor="start" fill="#000" >ADC</text>
<text transform="translate(204.0,471.3) scale(1,1.05)" font-size="41" font-weight="bold" text-anchor="middle" fill="#000" >WT</text>
<text transform="translate(479.7,471.3) scale(1,1.05)" font-size="41" font-weight="bold" text-anchor="middle" fill="#000" >ER(Y537S)</text>
<text transform="translate(751.6,471.3) scale(1,1.05)" font-size="41" font-weight="bold" text-anchor="middle" fill="#000" >ER(D538G)</text>
<svg x="70.6" y="490.5" width="266.8" height="200.2" overflow="hidden">
<rect width="266.8" height="200.2" fill="#8a8a8a"/>
<g filter="url(#soft)">
<path d="M50.3 5.2a2.6 2.6 0 1 0 5.3 0a2.6 2.6 0 1 0 -5.3 0zM48.5 10.3a2.6 2.6 0 1 0 5.2 0a2.6 2.6 0 1 0 -5.2 0zM49.0 5.9a2.7 2.7 0 1 0 5.4 0a2.7 2.7 0 1 0 -5.4 0zM45.6 6.1a2.7 2.7 0 1 0 5.5 0a2.7 2.7 0 1 0 -5.5 0z" fill="none" stroke="#bcbcbc" stroke-width="2.6"/>
<path d="M50.3 5.2a2.6 2.6 0 1 0 5.3 0a2.6 2.6 0 1 0 -5.3 0zM48.5 10.3a2.6 2.6 0 1 0 5.2 0a2.6 2.6 0 1 0 -5.2 0zM49.0 5.9a2.7 2.7 0 1 0 5.4 0a2.7 2.7 0 1 0 -5.4 0zM45.6 6.1a2.7 2.7 0 1 0 5.5 0a2.7 2.7 0 1 0 -5.5 0z" fill="#909090"/>
<path d="M50.3 5.2a2.6 2.6 0 1 0 5.3 0a2.6 2.6 0 1 0 -5.3 0zM48.5 10.3a2.6 2.6 0 1 0 5.2 0a2.6 2.6 0 1 0 -5.2 0zM49.0 5.9a2.7 2.7 0 1 0 5.4 0a2.7 2.7 0 1 0 -5.4 0zM45.6 6.1a2.7 2.7 0 1 0 5.5 0a2.7 2.7 0 1 0 -5.5 0z" fill="url(#pp)"/>
<circle class="u" cx="50.3" cy="12.2" r="3.1" fill="none" stroke="#b6b6b6"/>
<circle class="u" cx="55.6" cy="5.0" r="3.5" fill="none" stroke="#cecece"/>
<circle class="u" cx="49.6" cy="11.9" r="3.6" fill="none" stroke="#c6c6c6"/>
<path d="M121.6 11.9a3.5 3.5 0 1 0 7.0 0a3.5 3.5 0 1 0 -7.0 0zM118.7 8.8a4.4 4.4 0 1 0 8.8 0a4.4 4.4 0 1 0 -8.8 0zM119.0 12.3a3.2 3.2 0 1 0 6.5 0a3.2 3.2 0 1 0 -6.5 0zM124.9 8.4a2.8 2.8 0 1 0 5.6 0a2.8 2.8 0 1 0 -5.6 0zM121.8 8.8a4.2 4.2 0 1 0 8.4 0a4.2 4.2 0 1 0 -8.4 0z" fill="none" stroke="#bcbcbc" stroke-width="2.6"/>
<path d="M121.6 11.9a3.5 3.5 0 1 0 7.0 0a3.5 3.5 0 1 0 -7.0 0zM118.7 8.8a4.4 4.4 0 1 0 8.8 0a4.4 4.4 0 1 0 -8.8 0zM119.0 12.3a3.2 3.2 0 1 0 6.5 0a3.2 3.2 0 1 0 -6.5 0zM124.9 8.4a2.8 2.8 0 1 0 5.6 0a2.8 2.8 0 1 0 -5.6 0zM121.8 8.8a4.2 4.2 0 1 0 8.4 0a4.2 4.2 0 1 0 -8.4 0z" fill="#909090"/>
<path d="M121.6 11.9a3.5 3.5 0 1 0 7.0 0a3.5 3.5 0 1 0 -7.0 0zM118.7 8.8a4.4 4.4 0 1 0 8.8 0a4.4 4.4 0 1 0 -8.8 0zM119.0 12.3a3.2 3.2 0 1 0 6.5 0a3.2 3.2 0 1 0 -6.5 0zM124.9 8.4a2.8 2.8 0 1 0 5.6 0a2.8 2.8 0 1 0 -5.6 0zM121.8 8.8a4.2 4.2 0 1 0 8.4 0a4.2 4.2 0 1 0 -8.4 0z" fill="url(#pp)"/>
<circle class="u" cx="126.4" cy="11.4" r="2.9" fill="none" stroke="#cdcdcd"/>
<circle class="u" cx="126.7" cy="15.6" r="3.6" fill="none" stroke="#b4b4b4"/>
<circle class="u" cx="123.4" cy="10.2" r="3.7" fill="none" stroke="#cacaca"/>
<circle class="u" cx="124.7" cy="12.3" r="2.6" fill="none" stroke="#bfbfbf"/>
<circle class="u" cx="128.7" cy="10.7" r="3.0" fill="none" stroke="#c7c7c7"/>
<circle class="u" cx="120.5" cy="9.8" r="3.0" fill="none" stroke="#d0d0d0"/>
<path d="M183.0 17.5a4.4 4.4 0 1 0 8.9 0a4.4 4.4 0 1 0 -8.9 0zM183.3 18.1a4.7 4.7 0 1 0 9.4 0a4.7 4.7 0 1 0 -9.4 0zM186.5 22.6a3.9 3.9 0 1 0 7.8 0a3.9 3.9 0 1 0 -7.8 0zM182.9 17.1a4.5 4.5 0 1 0 9.0 0a4.5 4.5 0 1 0 -9.0 0zM189.9 22.9a5.3 5.3 0 1 0 10.7 0a5.3 5.3 0 1 0 -10.7 0zM190.4 17.7a5.4 5.4 0 1 0 10.8 0a5.4 5.4 0 1 0 -10.8 0z" fill="none" stroke="#bcbcbc" stroke-width="2.6"/>
<path d="M183.0 17.5a4.4 4.4 0 1 0 8.9 0a4.4 4.4 0 1 0 -8.9 0zM183.3 18.1a4.7 4.7 0 1 0 9.4 0a4.7 4.7 0 1 0 -9.4 0zM186.5 22.6a3.9 3.9 0 1 0 7.8 0a3.9 3.9 0 1 0 -7.8 0zM182.9 17.1a4.5 4.5 0 1 0 9.0 0a4.5 4.5 0 1 0 -9.0 0zM189.9 22.9a5.3 5.3 0 1 0 10.7 0a5.3 5.3 0 1 0 -10.7 0zM190.4 17.7a5.4 5.4 0 1 0 10.8 0a5.4 5.4 0 1 0 -10.8 0z" fill="#909090"/>
<path d="M183.0 17.5a4.4 4.4 0 1 0 8.9 0a4.4 4.4 0 1 0 -8.9 0zM183.3 18.1a4.7 4.7 0 1 0 9.4 0a4.7 4.7 0 1 0 -9.4 0zM186.5 22.6a3.9 3.9 0 1 0 7.8 0a3.9 3.9 0 1 0 -7.8 0zM182.9 17.1a4.5 4.5 0 1 0 9.0 0a4.5 4.5 0 1 0 -9.0 0zM189.9 22.9a5.3 5.3 0 1 0 10.7 0a5.3 5.3 0 1 0 -10.7 0zM190.4 17.7a5.4 5.4 0 1 0 10.8 0a5.4 5.4 0 1 0 -10.8 0z" fill="url(#pp)"/>
<circle class="u" cx="196.7" cy="17.2" r="2.7" fill="none" stroke="#c7c7c7"/>
<circle class="u" cx="189.7" cy="28.0" r="3.5" fill="none" stroke="#cecece"/>
<circle class="u" cx="183.8" cy="15.6" r="3.0" fill="none" stroke="#bdbdbd"/>
<circle class="u" cx="186.3" cy="12.8" r="3.7" fill="none" stroke="#cacaca"/>
<circle class="u" cx="196.9" cy="23.6" r="2.9" fill="none" stroke="#c4c4c4"/>
<circle class="u" cx="193.4" cy="16.6" r="3.3" fill="none" stroke="#b1b1b1"/>
<circle class="u" cx="192.4" cy="27.8" r="2.6" fill="none" stroke="#cbcbcb"/>
<circle class="u" cx="193.7" cy="22.2" r="3.3" fill="none" stroke="#aeaeae"/>
<circle class="u" cx="183.5" cy="16.5" r="3.0" fill="none" stroke="#c6c6c6"/>
<path d="M139.6 28.7a3.3 3.3 0 1 0 6.6 0a3.3 3.3 0 1 0 -6.6 0z" fill="none" stroke="#bcbcbc" stroke-width="2.6"/>
<path d="M139.6 28.7a3.3 3.3 0 1 0 6.6 0a3.3 3.3 0 1 0 -6.6 0z" fill="#909090"/>
<path d="M139.6 28.7a3.3 3.3 0 1 0 6.6 0a3.3 3.3 0 1 0 -6.6 0z" fill="url(#pp)"/>
<path d="M116.2 42.0a5.4 5.4 0 1 0 10.8 0a5.4 5.4 0 1 0 -10.8 0zM108.0 39.3a4.8 4.8 0 1 0 9.7 0a4.8 4.8 0 1 0 -9.7 0zM113.7 41.0a4.0 4.0 0 1 0 8.0 0a4.0 4.0 0 1 0 -8.0 0zM115.0 40.5a4.3 4.3 0 1 0 8.5 0a4.3 4.3 0 1 0 -8.5 0zM111.7 46.9a6.2 6.2 0 1 0 12.4 0a6.2 6.2 0 1 0 -12.4 0zM116.5 41.8a4.2 4.2 0 1 0 8.4 0a4.2 4.2 0 1 0 -8.4 0zM110.8 44.2a5.5 5.5 0 1 0 11.0 0a5.5 5.5 0 1 0 -11.0 0z" fill="none" stroke="#bcbcbc" stroke-width="2.6"/>
<path d="M116.2 42.0a5.4 5.4 0 1 0 10.8 0a5.4 5.4 0 1 0 -10.8 0zM108.0 39.3a4.8 4.8 0 1 0 9.7 0a4.8 4.8 0 1 0 -9.7 0zM113.7 41.0a4.0 4.0 0 1 0 8.0 0a4.0 4.0 0 1 0 -8.0 0zM115.0 40.5a4.3 4.3 0 1 0 8.5 0a4.3 4.3 0 1 0 -8.5 0zM111.7 46.9a6.2 6.2 0 1 0 12.4 0a6.2 6.2 0 1 0 -12.4 0zM116.5 41.8a4.2 4.2 0 1 0 8.4 0a4.2 4.2 0 1 0 -8.4 0zM110.8 44.2a5.5 5.5 0 1 0 11.0 0a5.5 5.5 0 1 0 -11.0 0z" fill="#8c8c8c"/>
<path d="M116.2 42.0a5.4 5.4 0 1 0 10.8 0a5.4 5.4 0 1 0 -10.8 0zM108.0 39.3a4.8 4.8 0 1 0 9.7 0a4.8 4.8 0 1 0 -9.7 0zM113.7 41.0a4.0 4.0 0 1 0 8.0 0a4.0 4.0 0 1 0 -8.0 0zM115.0 40.5a4.3 4.3 0 1 0 8.5 0a4.3 4.3 0 1 0 -8.5 0zM111.7 46.9a6.2 6.2 0 1 0 12.4 0a6.2 6.2 0 1 0 -12.4 0zM116.5 41.8a4.2 4.2 0 1 0 8.4 0a4.2 4.2 0 1 0 -8.4 0zM110.8 44.2a5.5 5.5 0 1 0 11.0 0a5.5 5.5 0 1 0 -11.0 0z" fill="url(#pp)"/>
<circle class="u" cx="114.0" cy="44.5" r="2.9" fill="none" stroke="#aeaeae"/>
<circle class="u" cx="124.4" cy="47.0" r="2.4" fill="none" stroke="#bababa"/>
<circle class="u" cx="115.4" cy="32.1" r="3.7" fill="none" stroke="#b3b3b3"/>
<circle class="u" cx="111.9" cy="32.5" r="2.1" fill="none" stroke="#c6c6c6"/>
<circle class="u" cx="119.7" cy="36.4" r="2.5" fill="none" stroke="#c3c3c3"/>
<circle class="u" cx="112.6" cy="42.6" r="2.8" fill="none" stroke="#bcbcbc"/>
<circle class="u" cx="110.1" cy="38.2" r="2.6" fill="none" stroke="#bababa"/>
<circle class="u" cx="119.1" cy="36.9" r="3.0" fill="none" stroke="#adadad"/>
<circle class="u" cx="116.2" cy="35.4" r="2.1" fill="none" stroke="#b7b7b7"/>
<circle class="u" cx="117.1" cy="50.8" r="2.6" fill="none" stroke="#b7b7b7"/>
<circle class="u" cx="110.4" cy="48.6" r="3.1" fill="none" stroke="#c3c3c3"/>
<circle class="u" cx="115.1" cy="35.1" r="2.7" fill="none" stroke="#c5c5c5"/>
<path d="M5.4 34.2a2.0 2.0 0 1 0 3.9 0a2.0 2.0 0 1 0 -3.9 0zM4.4 36.3a2.0 2.0 0 1 0 4.0 0a2.0 2.0 0 1 0 -4.0 0zM5.6 32.7a2.0 2.0 0 1 0 4.1 0a2.0 2.0 0 1 0 -4.1 0zM2.3 35.5a2.0 2.0 0 1 0 4.1 0a2.0 2.0 0 1 0 -4.1 0z" fill="none" stroke="#bcbcbc" stroke-width="2.6"/>
<path d="M5.4 34.2a2.0 2.0 0 1 0 3.9 0a2.0 2.0 0 1 0 -3.9 0zM4.4 36.3a2.0 2.0 0 1 0 4.0 0a2.0 2.0 0 1 0 -4.0 0zM5.6 32.7a2.0 2.0 0 1 0 4.1 0a2.0 2.0 0 1 0 -4.1 0zM2.3 35.5a2.0 2.0 0 1 0 4.1 0a2.0 2.0 0 1 0 -4.1 0z" fill="#909090"/>
<path d="M5.4 34.2a2.0 2.0 0 1 0 3.9 0a2.0 2.0 0 1 0 -3.9 0zM4.4 36.3a2.0 2.0 0 1 0 4.0 0a2.0 2.0 0 1 0 -4.0 0zM5.6 32.7a2.0 2.0 0 1 0 4.1 0a2.0 2.0 0 1 0 -4.1 0zM2.3 35.5a2.0 2.0 0 1 0 4.1 0a2.0 2.0 0 1 0 -4.1 0z" fill="url(#pp)"/>
<circle class="u" cx="5.7" cy="33.4" r="2.8" fill="none" stroke="#b6b6b6"/>
<circle class="u" cx="7.8" cy="36.6" r="2.9" fill="none" stroke="#c1c1c1"/>
<path d="M254.3 1.8a3.6 3.6 0 1 0 7.2 0a3.6 3.6 0 1 0 -7.2 0zM252.4 9.2a4.2 4.2 0 1 0 8.3 0a4.2 4.2 0 1 0 -8.3 0zM257.6 3.2a3.1 3.1 0 1 0 6.2 0a3.1 3.1 0 1 0 -6.2 0zM258.5 6.2a2.9 2.9 0 1 0 5.9 0a2.9 2.9 0 1 0 -5.9 0zM253.6 1.6a3.5 3.5 0 1 0 6.9 0a3.5 3.5 0 1 0 -6.9 0z" fill="none" stroke="#bcbcbc" stroke-width="2.6"/>
<path d="M254.3 1.8a3.6 3.6 0 1 0 7.2 0a3.6 3.6 0 1 0 -7.2 0zM252.4 9.2a4.2 4.2 0 1 0 8.3 0a4.2 4.2 0 1 0 -8.3 0zM257.6 3.2a3.1 3.1 0 1 0 6.2 0a3.1 3.1 0 1 0 -6.2 0zM258.5 6.2a2.9 2.9 0 1 0 5.9 0a2.9 2.9 0 1 0 -5.9 0zM253.6 1.6a3.5 3.5 0 1 0 6.9 0a3.5 3.5 0 1 0 -6.9 0z" fill="#909090"/>
<path d="M254.3 1.8a3.6 3.6 0 1 0 7.2 0a3.6 3.6 0 1 0 -7.2 0zM252.4 9.2a4.2 4.2 0 1 0 8.3 0a4.2 4.2 0 1 0 -8.3 0zM257.6 3.2a3.1 3.1 0 1 0 6.2 0a3.1 3.1 0 1 0 -6.2 0zM258.5 6.2a2.9 2.9 0 1 0 5.9 0a2.9 2.9 0 1 0 -5.9 0zM253.6 1.6a3.5 3.5 0 1 0 6.9 0a3.5 3.5 0 1 0 -6.9 0z" fill="url(#pp)"/>
<circle class="u" cx="256.1" cy="2.7" r="2.4" fill="none" stroke="#c7c7c7"/>
<circle class="u" cx="264.1" cy="6.3" r="3.0" fill="none" stroke="#b0b0b0"/>
<circle class="u" cx="261.9" cy="10.0" r="3.6" fill="none" stroke="#b7b7b7"/>
<circle class="u" cx="260.0" cy="5.9" r="3.5" fill="none" stroke="#bbbbbb"/>
<circle class="u" cx="261.0" cy="8.0" r="2.8" fill="none" stroke="#cacaca"/>
<circle class="u" cx="259.4" cy="4.3" r="2.9" fill="none" stroke="#c5c5c5"/>
<path d="M72.0 61.9a1.9 1.9 0 1 0 3.8 0a1.9 1.9 0 1 0 -3.8 0zM73.6 59.8a2.3 2.3 0 1 0 4.6 0a2.3 2.3 0 1 0 -4.6 0zM70.3 58.8a2.5 2.5 0 1 0 5.1 0a2.5 2.5 0 1 0 -5.1 0zM73.4 59.5a2.4 2.4 0 1 0 4.7 0a2.4 2.4 0 1 0 -4.7 0z" fill="none" stroke="#bcbcbc" stroke-width="2.6"/>
<path d="M72.0 61.9a1.9 1.9 0 1 0 3.8 0a1.9 1.9 0 1 0 -3.8 0zM73.6 59.8a2.3 2.3 0 1 0 4.6 0a2.3 2.3 0 1 0 -4.6 0zM70.3 58.8a2.5 2.5 0 1 0 5.1 0a2.5 2.5 0 1 0 -5.1 0zM73.4 59.5a2.4 2.4 0 1 0 4.7 0a2.4 2.4 0 1 0 -4.7 0z" fill="#909090"/>
<path d="M72.0 61.9a1.9 1.9 0 1 0 3.8 0a1.9 1.9 0 1 0 -3.8 0zM73.6 59.8a2.3 2.3 0 1 0 4.6 0a2.3 2.3 0 1 0 -4.6 0zM70.3 58.8a2.5 2.5 0 1 0 5.1 0a2.5 2.5 0 1 0 -5.1 0zM73.4 59.5a2.4 2.4 0 1 0 4.7 0a2.4 2.4 0 1 0 -4.7 0z" fill="url(#pp)"/>
<circle class="u" cx="74.3" cy="56.6" r="3.3" fill="none" stroke="#cecece"/>
<circle class="u" cx="73.7" cy="57.9" r="3.0" fill="none" stroke="#b4b4b4"/>
<path d="M252.2 54.1a3.6 3.6 0 1 0 7.1 0a3.6 3.6 0 1 0 -7.1 0zM249.1 58.5a4.7 4.7 0 1 0 9.3 0a4.7 4.7 0 1 0 -9.3 0zM250.6 58.0a3.3 3.3 0 1 0 6.7 0a3.3 3.3 0 1 0 -6.7 0zM255.2 59.0a3.8 3.8 0 1 0 7.7 0a3.8 3.8 0 1 0 -7.7 0zM249.2 56.8a3.8 3.8 0 1 0 7.7 0a3.8 3.8 0 1 0 -7.7 0zM250.2 54.7a3.4 3.4 0 1 0 6.7 0a3.4 3.4 0 1 0 -6.7 0z" fill="none" stroke="#bcbcbc" stroke-width="2.6"/>
<path d="M252.2 54.1a3.6 3.6 0 1 0 7.1 0a3.6 3.6 0 1 0 -7.1 0zM249.1 58.5a4.7 4.7 0 1 0 9.3 0a4.7 4.7 0 1 0 -9.3 0zM250.6 58.0a3.3 3.3 0 1 0 6.7 0a3.3 3.3 0 1 0 -6.7 0zM255.2 59.0a3.8 3.8 0 1 0 7.7 0a3.8 3.8 0 1 0 -7.7 0zM249.2 56.8a3.8 3.8 0 1 0 7.7 0a3.8 3.8 0 1 0 -7.7 0zM250.2 54.7a3.4 3.4 0 1 0 6.7 0a3.4 3.4 0 1 0 -6.7 0z" fill="#909090"/>
<path d="M252.2 54.1a3.6 3.6 0 1 0 7.1 0a3.6 3.6 0 1 0 -7.1 0zM249.1 58.5a4.7 4.7 0 1 0 9.3 0a4.7 4.7 0 1 0 -9.3 0zM250.6 58.0a3.3 3.3 0 1 0 6.7 0a3.3 3.3 0 1 0 -6.7 0zM255.2 59.0a3.8 3.8 0 1 0 7.7 0a3.8 3.8 0 1 0 -7.7 0zM249.2 56.8a3.8 3.8 0 1 0 7.7 0a3.8 3.8 0 1 0 -7.7 0zM250.2 54.7a3.4 3.4 0 1 0 6.7 0a3.4 3.4 0 1 0 -6.7 0z" fill="url(#pp)"/>
<circle class="u" cx="258.7" cy="59.7" r="2.1" fill="none" stroke="#bbbbbb"/>
<circle class="u" cx="253.7" cy="59.0" r="2.2" fill="none" stroke="#cecece"/>
<circle class="u" cx="248.8" cy="55.6" r="3.8" fill="none" stroke="#b9b9b9"/>
<circle class="u" cx="249.5" cy="55.2" r="2.8" fill="none" stroke="#b8b8b8"/>
<circle class="u" cx="255.5" cy="46.7" r="3.7" fill="none" stroke="#c4c4c4"/>
<circle class="u" cx="250.5" cy="60.0" r="3.1" fill="none" stroke="#afafaf"/>
<circle class="u" cx="262.3" cy="57.9" r="2.1" fill="none" stroke="#adadad"/>
<circle class="u" cx="251.6" cy="58.0" r="2.8" fill="none" stroke="#bfbfbf"/>
<path d="M103.2 68.7a2.0 2.0 0 1 0 4.1 0a2.0 2.0 0 1 0 -4.1 0zM103.4 71.9a1.9 1.9 0 1 0 3.8 0a1.9 1.9 0 1 0 -3.8 0zM105.5 68.1a2.0 2.0 0 1 0 4.0 0a2.0 2.0 0 1 0 -4.0 0zM107.2 70.9a2.3 2.3 0 1 0 4.6 0a2.3 2.3 0 1 0 -4.6 0z" fill="none" stroke="#bcbcbc" stroke-width="2.6"/>
<path d="M103.2 68.7a2.0 2.0 0 1 0 4.1 0a2.0 2.0 0 1 0 -4.1 0zM103.4 71.9a1.9 1.9 0 1 0 3.8 0a1.9 1.9 0 1 0 -3.8 0zM105.5 68.1a2.0 2.0 0 1 0 4.0 0a2.0 2.0 0 1 0 -4.0 0zM107.2 70.9a2.3 2.3 0 1 0 4.6 0a2.3 2.3 0 1 0 -4.6 0z" fill="#909090"/>
<path d="M103.2 68.7a2.0 2.0 0 1 0 4.1 0a2.0 2.0 0 1 0 -4.1 0zM103.4 71.9a1.9 1.9 0 1 0 3.8 0a1.9 1.9 0 1 0 -3.8 0zM105.5 68.1a2.0 2.0 0 1 0 4.0 0a2.0 2.0 0 1 0 -4.0 0zM107.2 70.9a2.3 2.3 0 1 0 4.6 0a2.3 2.3 0 1 0 -4.6 0z" fill="url(#pp)"/>
<circle class="u" cx="109.4" cy="68.3" r="3.2" fill="none" stroke="#b1b1b1"/>
<circle class="u" cx="105.7" cy="71.0" r="2.1" fill="none" stroke="#d0d0d0"/>
<path d="M121.7 81.8a4.7 4.7 0 1 0 9.4 0a4.7 4.7 0 1 0 -9.4 0zM117.5 82.8a4.6 4.6 0 1 0 9.1 0a4.6 4.6 0 1 0 -9.1 0zM128.1 78.7a4.6 4.6 0 1 0 9.1 0a4.6 4.6 0 1 0 -9.1 0zM114.6 82.4a6.4 6.4 0 1 0 12.8 0a6.4 6.4 0 1 0 -12.8 0zM114.1 79.4a5.0 5.0 0 1 0 10.0 0a5.0 5.0 0 1 0 -10.0 0zM115.0 79.2a5.9 5.9 0 1 0 11.8 0a5.9 5.9 0 1 0 -11.8 0zM122.7 84.4a4.7 4.7 0 1 0 9.5 0a4.7 4.7 0 1 0 -9.5 0zM115.6 85.0a6.5 6.5 0 1 0 12.9 0a6.5 6.5 0 1 0 -12.9 0z" fill="none" stroke="#bcbcbc" stroke-width="2.6"/>
<path d="M121.7 81.8a4.7 4.7 0 1 0 9.4 0a4.7 4.7 0 1 0 -9.4 0zM117.5 82.8a4.6 4.6 0 1 0 9.1 0a4.6 4.6 0 1 0 -9.1 0zM128.1 78.7a4.6 4.6 0 1 0 9.1 0a4.6 4.6 0 1 0 -9.1 0zM114.6 82.4a6.4 6.4 0 1 0 12.8 0a6.4 6.4 0 1 0 -12.8 0zM114.1 79.4a5.0 5.0 0 1 0 10.0 0a5.0 5.0 0 1 0 -10.0 0zM115.0 79.2a5.9 5.9 0 1 0 11.8 0a5.9 5.9 0 1 0 -11.8 0zM122.7 84.4a4.7 4.7 0 1 0 9.5 0a4.7 4.7 0 1 0 -9.5 0zM115.6 85.0a6.5 6.5 0 1 0 12.9 0a6.5 6.5 0 1 0 -12.9 0z" fill="#8c8c8c"/>
<path d="M121.7 81.8a4.7 4.7 0 1 0 9.4 0a4.7 4.7 0 1 0 -9.4 0zM117.5 82.8a4.6 4.6 0 1 0 9.1 0a4.6 4.6 0 1 0 -9.1 0zM128.1 78.7a4.6 4.6 0 1 0 9.1 0a4.6 4.6 0 1 0 -9.1 0zM114.6 82.4a6.4 6.4 0 1 0 12.8 0a6.4 6.4 0 1 0 -12.8 0zM114.1 79.4a5.0 5.0 0 1 0 10.0 0a5.0 5.0 0 1 0 -10.0 0zM115.0 79.2a5.9 5.9 0 1 0 11.8 0a5.9 5.9 0 1 0 -11.8 0zM122.7 84.4a4.7 4.7 0 1 0 9.5 0a4.7 4.7 0 1 0 -9.5 0zM115.6 85.0a6.5 6.5 0 1 0 12.9 0a6.5 6.5 0 1 0 -12.9 0z" fill="url(#pp)"/>
<circle class="u" cx="126.6" cy="77.4" r="2.3" fill="none" stroke="#b6b6b6"/>
<circle class="u" cx="127.8" cy="69.8" r="3.0" fill="none" stroke="#c7c7c7"/>
<circle class="u" cx="126.7" cy="76.7" r="2.2" fill="none" stroke="#cdcdcd"/>
<circle class="u" cx="130.6" cy="80.4" r="2.1" fill="none" stroke="#adadad"/>
<circle class="u" cx="129.1" cy="74.2" r="2.3" fill="none" stroke="#b2b2b2"/>
<circle class="u" cx="120.0" cy="70.6" r="2.9" fill="none" stroke="#cecece"/>
<circle class="u" cx="117.8" cy="79.1" r="3.2" fill="none" stroke="#cacaca"/>
<circle class="u" cx="126.3" cy="68.8" r="3.3" fill="none" stroke="#cecece"/>
<circle class="u" cx="127.9" cy="86.6" r="3.1" fill="none" stroke="#cbcbcb"/>
<circle class="u" cx="116.5" cy="80.2" r="2.7" fill="none" stroke="#c2c2c2"/>
<circle class="u" cx="131.3" cy="71.7" r="3.2" fill="none" stroke="#adadad"/>
<circle class="u" cx="128.9" cy="86.0" r="2.5" fill="none" stroke="#afafaf"/>
<circle class="u" cx="132.3" cy="71.3" r="2.5" fill="none" stroke="#bcbcbc"/>
<path d="M157.2 70.1a7.4 7.4 0 1 0 14.8 0a7.4 7.4 0 1 0 -14.8 0zM159.1 75.6a8.0 8.0 0 1 0 16.0 0a8.0 8.0 0 1 0 -16.0 0zM158.7 72.8a6.7 6.7 0 1 0 13.4 0a6.7 6.7 0 1 0 -13.4 0zM147.9 72.6a7.7 7.7 0 1 0 15.3 0a7.7 7.7 0 1 0 -15.3 0zM153.7 69.1a8.5 8.5 0 1 0 17.1 0a8.5 8.5 0 1 0 -17.1 0zM151.3 75.9a6.6 6.6 0 1 0 13.2 0a6.6 6.6 0 1 0 -13.2 0zM163.8 74.0a5.8 5.8 0 1 0 11.7 0a5.8 5.8 0 1 0 -11.7 0zM163.3 73.6a7.4 7.4 0 1 0 14.8 0a7.4 7.4 0 1 0 -14.8 0zM162.6 76.3a6.5 6.5 0 1 0 12.9 0a6.5 6.5 0 1 0 -12.9 0zM151.0 77.5a6.9 6.9 0 1 0 13.9 0a6.9 6.9 0 1 0 -13.9 0z" fill="none" stroke="#bcbcbc" stroke-width="2.6"/>
<path d="M157.2 70.1a7.4 7.4 0 1 0 14.8 0a7.4 7.4 0 1 0 -14.8 0zM159.1 75.6a8.0 8.0 0 1 0 16.0 0a8.0 8.0 0 1 0 -16.0 0zM158.7 72.8a6.7 6.7 0 1 0 13.4 0a6.7 6.7 0 1 0 -13.4 0zM147.9 72.6a7.7 7.7 0 1 0 15.3 0a7.7 7.7 0 1 0 -15.3 0zM153.7 69.1a8.5 8.5 0 1 0 17.1 0a8.5 8.5 0 1 0 -17.1 0zM151.3 75.9a6.6 6.6 0 1 0 13.2 0a6.6 6.6 0 1 0 -13.2 0zM163.8 74.0a5.8 5.8 0 1 0 11.7 0a5.8 5.8 0 1 0 -11.7 0zM163.3 73.6a7.4 7.4 0 1 0 14.8 0a7.4 7.4 0 1 0 -14.8 0zM162.6 76.3a6.5 6.5 0 1 0 12.9 0a6.5 6.5 0 1 0 -12.9 0zM151.0 77.5a6.9 6.9 0 1 0 13.9 0a6.9 6.9 0 1 0 -13.9 0z" fill="#8c8c8c"/>
<path d="M157.2 70.1a7.4 7.4 0 1 0 14.8 0a7.4 7.4 0 1 0 -14.8 0zM159.1 75.6a8.0 8.0 0 1 0 16.0 0a8.0 8.0 0 1 0 -16.0 0zM158.7 72.8a6.7 6.7 0 1 0 13.4 0a6.7 6.7 0 1 0 -13.4 0zM147.9 72.6a7.7 7.7 0 1 0 15.3 0a7.7 7.7 0 1 0 -15.3 0zM153.7 69.1a8.5 8.5 0 1 0 17.1 0a8.5 8.5 0 1 0 -17.1 0zM151.3 75.9a6.6 6.6 0 1 0 13.2 0a6.6 6.6 0 1 0 -13.2 0zM163.8 74.0a5.8 5.8 0 1 0 11.7 0a5.8 5.8 0 1 0 -11.7 0zM163.3 73.6a7.4 7.4 0 1 0 14.8 0a7.4 7.4 0 1 0 -14.8 0zM162.6 76.3a6.5 6.5 0 1 0 12.9 0a6.5 6.5 0 1 0 -12.9 0zM151.0 77.5a6.9 6.9 0 1 0 13.9 0a6.9 6.9 0 1 0 -13.9 0z" fill="url(#pp)"/>
<circle class="u" cx="171.5" cy="65.1" r="2.8" fill="none" stroke="#c4c4c4"/>
<circle class="u" cx="161.3" cy="76.2" r="3.2" fill="none" stroke="#c4c4c4"/>
<circle class="u" cx="165.0" cy="67.6" r="3.6" fill="none" stroke="#cacaca"/>
<circle class="u" cx="174.7" cy="66.0" r="3.2" fill="none" stroke="#cacaca"/>
<circle class="u" cx="152.0" cy="70.8" r="2.3" fill="none" stroke="#c9c9c9"/>
<circle class="u" cx="152.9" cy="76.2" r="2.8" fill="none" stroke="#cacaca"/>
<circle class="u" cx="166.3" cy="73.5" r="3.7" fill="none" stroke="#bebebe"/>
<circle class="u" cx="174.4" cy="64.6" r="3.2" fill="none" stroke="#c2c2c2"/>
<circle class="u" cx="164.7" cy="76.2" r="3.5" fill="none" stroke="#cdcdcd"/>
<circle class="u" cx="165.9" cy="61.2" r="2.8" fill="none" stroke="#b8b8b8"/>
<circle class="u" cx="170.4" cy="77.9" r="3.0" fill="none" stroke="#cfcfcf"/>
<circle class="u" cx="171.8" cy="68.8" r="2.2" fill="none" stroke="#c9c9c9"/>
<circle class="u" cx="163.6" cy="69.9" r="2.8" fill="none" stroke="#c6c6c6"/>
<circle class="u" cx="176.4" cy="74.6" r="3.7" fill="none" stroke="#c7c7c7"/>
<circle class="u" cx="166.9" cy="73.9" r="2.6" fill="none" stroke="#aeaeae"/>
<circle class="u" cx="163.0" cy="73.3" r="3.8" fill="none" stroke="#cbcbcb"/>
<circle class="u" cx="175.3" cy="77.6" r="2.4" fill="none" stroke="#b4b4b4"/>
<circle class="u" cx="157.8" cy="60.7" r="2.2" fill="none" stroke="#adadad"/>
<circle class="u" cx="162.4" cy="73.7" r="3.1" fill="none" stroke="#cccccc"/>
<circle class="u" cx="165.6" cy="76.3" r="2.6" fill="none" stroke="#d0d0d0"/>
<circle class="u" cx="172.8" cy="81.8" r="2.7" fill="none" stroke="#bebebe"/>
<circle class="u" cx="160.4" cy="84.7" r="3.7" fill="none" stroke="#c4c4c4"/>
<path d="M236.9 70.8a1.7 1.7 0 1 0 3.5 0a1.7 1.7 0 1 0 -3.5 0zM234.1 67.8a2.5 2.5 0 1 0 5.0 0a2.5 2.5 0 1 0 -5.0 0zM237.9 67.5a1.9 1.9 0 1 0 3.9 0a1.9 1.9 0 1 0 -3.9 0zM235.8 70.7a1.9 1.9 0 1 0 3.8 0a1.9 1.9 0 1 0 -3.8 0z" fill="none" stroke="#bcbcbc" stroke-width="2.6"/>
<path d="M236.9 70.8a1.7 1.7 0 1 0 3.5 0a1.7 1.7 0 1 0 -3.5 0zM234.1 67.8a2.5 2.5 0 1 0 5.0 0a2.5 2.5 0 1 0 -5.0 0zM237.9 67.5a1.9 1.9 0 1 0 3.9 0a1.9 1.9 0 1 0 -3.9 0zM235.8 70.7a1.9 1.9 0 1 0 3.8 0a1.9 1.9 0 1 0 -3.8 0z" fill="#909090"/>
<path d="M236.9 70.8a1.7 1.7 0 1 0 3.5 0a1.7 1.7 0 1 0 -3.5 0zM234.1 67.8a2.5 2.5 0 1 0 5.0 0a2.5 2.5 0 1 0 -5.0 0zM237.9 67.5a1.9 1.9 0 1 0 3.9 0a1.9 1.9 0 1 0 -3.9 0zM235.8 70.7a1.9 1.9 0 1 0 3.8 0a1.9 1.9 0 1 0 -3.8 0z" fill="url(#pp)"/>
<circle class="u" cx="236.8" cy="68.7" r="2.2" fill="none" stroke="#adadad"/>
<circle class="u" cx="238.6" cy="68.8" r="2.8" fill="none" stroke="#c1c1c1"/>
<path d="M3.1 86.6a3.8 3.8 0 1 0 7.6 0a3.8 3.8 0 1 0 -7.6 0zM2.2 87.4a3.8 3.8 0 1 0 7.7 0a3.8 3.8 0 1 0 -7.7 0zM0.5 92.1a3.1 3.1 0 1 0 6.3 0a3.1 3.1 0 1 0 -6.3 0zM-0.1 90.3a4.4 4.4 0 1 0 8.7 0a4.4 4.4 0 1 0 -8.7 0zM2.4 90.6a3.6 3.6 0 1 0 7.1 0a3.6 3.6 0 1 0 -7.1 0z" fill="none" stroke="#bcbcbc" stroke-width="2.6"/>
<path d="M3.1 86.6a3.8 3.8 0 1 0 7.6 0a3.8 3.8 0 1 0 -7.6 0zM2.2 87.4a3.8 3.8 0 1 0 7.7 0a3.8 3.8 0 1 0 -7.7 0zM0.5 92.1a3.1 3.1 0 1 0 6.3 0a3.1 3.1 0 1 0 -6.3 0zM-0.1 90.3a4.4 4.4 0 1 0 8.7 0a4.4 4.4 0 1 0 -8.7 0zM2.4 90.6a3.6 3.6 0 1 0 7.1 0a3.6 3.6 0 1 0 -7.1 0z" fill="#909090"/>
<path d="M3.1 86.6a3.8 3.8 0 1 0 7.6 0a3.8 3.8 0 1 0 -7.6 0zM2.2 87.4a3.8 3.8 0 1 0 7.7 0a3.8 3.8 0 1 0 -7.7 0zM0.5 92.1a3.1 3.1 0 1 0 6.3 0a3.1 3.1 0 1 0 -6.3 0zM-0.1 90.3a4.4 4.4 0 1 0 8.7 0a4.4 4.4 0 1 0 -8.7 0zM2.4 90.6a3.6 3.6 0 1 0 7.1 0a3.6 3.6 0 1 0 -7.1 0z" fill="url(#pp)"/>
<circle class="u" cx="-0.3" cy="89.9" r="3.4" fill="none" stroke="#b7b7b7"/>
<circle class="u" cx="1.1" cy="86.3" r="3.4" fill="none" stroke="#bdbdbd"/>
<circle class="u" cx="1.7" cy="92.4" r="2.8" fill="none" stroke="#b6b6b6"/>
<circle class="u" cx="-0.0" cy="90.6" r="2.3" fill="none" stroke="#bebebe"/>
<circle class="u" cx="3.6" cy="84.5" r="2.4" fill="none" stroke="#adadad"/>
<circle class="u" cx="5.1" cy="82.9" r="2.0" fill="none" stroke="#b8b8b8"/>
<circle class="u" cx="7.7" cy="82.5" r="3.0" fill="none" stroke="#b2b2b2"/>
<path d="M144.7 97.3a3.6 3.6 0 1 0 7.2 0a3.6 3.6 0 1 0 -7.2 0zM145.5 98.1a3.7 3.7 0 1 0 7.5 0a3.7 3.7 0 1 0 -7.5 0zM145.5 104.3a2.7 2.7 0 1 0 5.5 0a2.7 2.7 0 1 0 -5.5 0zM146.8 99.6a3.0 3.0 0 1 0 5.9 0a3.0 3.0 0 1 0 -5.9 0zM142.7 99.6a3.2 3.2 0 1 0 6.3 0a3.2 3.2 0 1 0 -6.3 0z" fill="none" stroke="#bcbcbc" stroke-width="2.6"/>
<path d="M144.7 97.3a3.6 3.6 0 1 0 7.2 0a3.6 3.6 0 1 0 -7.2 0zM145.5 98.1a3.7 3.7 0 1 0 7.5 0a3.7 3.7 0 1 0 -7.5 0zM145.5 104.3a2.7 2.7 0 1 0 5.5 0a2.7 2.7 0 1 0 -5.5 0zM146.8 99.6a3.0 3.0 0 1 0 5.9 0a3.0 3.0 0 1 0 -5.9 0zM142.7 99.6a3.2 3.2 0 1 0 6.3 0a3.2 3.2 0 1 0 -6.3 0z" fill="#909090"/>
<path d="M144.7 97.3a3.6 3.6 0 1 0 7.2 0a3.6 3.6 0 1 0 -7.2 0zM145.5 98.1a3.7 3.7 0 1 0 7.5 0a3.7 3.7 0 1 0 -7.5 0zM145.5 104.3a2.7 2.7 0 1 0 5.5 0a2.7 2.7 0 1 0 -5.5 0zM146.8 99.6a3.0 3.0 0 1 0 5.9 0a3.0 3.0 0 1 0 -5.9 0zM142.7 99.6a3.2 3.2 0 1 0 6.3 0a3.2 3.2 0 1 0 -6.3 0z" fill="url(#pp)"/>
<circle class="u" cx="151.6" cy="102.1" r="2.5" fill="none" stroke="#c8c8c8"/>
<circle class="u" cx="153.2" cy="97.5" r="2.1" fill="none" stroke="#cacaca"/>
<circle class="u" cx="147.8" cy="103.7" r="3.0" fill="none" stroke="#b6b6b6"/>
<circle class="u" cx="151.3" cy="98.9" r="2.7" fill="none" stroke="#b7b7b7"/>
<circle class="u" cx="144.3" cy="99.6" r="3.1" fill="none" stroke="#c0c0c0"/>
<path d="M183.3 94.3a2.0 2.0 0 1 0 4.1 0a2.0 2.0 0 1 0 -4.1 0zM185.6 90.8a1.9 1.9 0 1 0 3.8 0a1.9 1.9 0 1 0 -3.8 0zM183.8 94.7a1.8 1.8 0 1 0 3.6 0a1.8 1.8 0 1 0 -3.6 0zM184.4 91.6a2.2 2.2 0 1 0 4.4 0a2.2 2.2 0 1 0 -4.4 0z" fill="none" stroke="#bcbcbc" stroke-width="2.6"/>
<path d="M183.3 94.3a2.0 2.0 0 1 0 4.1 0a2.0 2.0 0 1 0 -4.1 0zM185.6 90.8a1.9 1.9 0 1 0 3.8 0a1.9 1.9 0 1 0 -3.8 0zM183.8 94.7a1.8 1.8 0 1 0 3.6 0a1.8 1.8 0 1 0 -3.6 0zM184.4 91.6a2.2 2.2 0 1 0 4.4 0a2.2 2.2 0 1 0 -4.4 0z" fill="#909090"/>
<path d="M183.3 94.3a2.0 2.0 0 1 0 4.1 0a2.0 2.0 0 1 0 -4.1 0zM185.6 90.8a1.9 1.9 0 1 0 3.8 0a1.9 1.9 0 1 0 -3.8 0zM183.8 94.7a1.8 1.8 0 1 0 3.6 0a1.8 1.8 0 1 0 -3.6 0zM184.4 91.6a2.2 2.2 0 1 0 4.4 0a2.2 2.2 0 1 0 -4.4 0z" fill="url(#pp)"/>
<circle class="u" cx="189.2" cy="95.7" r="2.6" fill="none" stroke="#bebebe"/>
<circle class="u" cx="184.7" cy="94.6" r="3.3" fill="none" stroke="#b8b8b8"/>
<path d="M200.9 90.1a2.7 2.7 0 1 0 5.5 0a2.7 2.7 0 1 0 -5.5 0zM201.0 90.0a3.2 3.2 0 1 0 6.4 0a3.2 3.2 0 1 0 -6.4 0zM203.3 91.3a3.6 3.6 0 1 0 7.1 0a3.6 3.6 0 1 0 -7.1 0zM204.6 91.0a2.4 2.4 0 1 0 4.8 0a2.4 2.4 0 1 0 -4.8 0z" fill="none" stroke="#bcbcbc" stroke-width="2.6"/>
<path d="M200.9 90.1a2.7 2.7 0 1 0 5.5 0a2.7 2.7 0 1 0 -5.5 0zM201.0 90.0a3.2 3.2 0 1 0 6.4 0a3.2 3.2 0 1 0 -6.4 0zM203.3 91.3a3.6 3.6 0 1 0 7.1 0a3.6 3.6 0 1 0 -7.1 0zM204.6 91.0a2.4 2.4 0 1 0 4.8 0a2.4 2.4 0 1 0 -4.8 0z" fill="#909090"/>
<path d="M200.9 90.1a2.7 2.7 0 1 0 5.5 0a2.7 2.7 0 1 0 -5.5 0zM201.0 90.0a3.2 3.2 0 1 0 6.4 0a3.2 3.2 0 1 0 -6.4 0zM203.3 91.3a3.6 3.6 0 1 0 7.1 0a3.6 3.6 0 1 0 -7.1 0zM204.6 91.0a2.4 2.4 0 1 0 4.8 0a2.4 2.4 0 1 0 -4.8 0z" fill="url(#pp)"/>
<circle class="u" cx="207.4" cy="87.3" r="3.3" fill="none" stroke="#c5c5c5"/>
<circle class="u" cx="205.4" cy="90.9" r="3.1" fill="none" stroke="#d1d1d1"/>
<circle class="u" cx="207.6" cy="87.4" r="3.3" fill="none" stroke="#b5b5b5"/>
<circle class="u" cx="204.2" cy="87.7" r="2.2" fill="none" stroke="#bebebe"/>
<path d="M46.8 108.5a2.9 2.9 0 1 0 5.8 0a2.9 2.9 0 1 0 -5.8 0zM49.6 105.6a3.0 3.0 0 1 0 5.9 0a3.0 3.0 0 1 0 -5.9 0zM47.2 104.4a2.5 2.5 0 1 0 5.0 0a2.5 2.5 0 1 0 -5.0 0zM49.2 105.8a3.4 3.4 0 1 0 6.9 0a3.4 3.4 0 1 0 -6.9 0z" fill="none" stroke="#bcbcbc" stroke-width="2.6"/>
<path d="M46.8 108.5a2.9 2.9 0 1 0 5.8 0a2.9 2.9 0 1 0 -5.8 0zM49.6 105.6a3.0 3.0 0 1 0 5.9 0a3.0 3.0 0 1 0 -5.9 0zM47.2 104.4a2.5 2.5 0 1 0 5.0 0a2.5 2.5 0 1 0 -5.0 0zM49.2 105.8a3.4 3.4 0 1 0 6.9 0a3.4 3.4 0 1 0 -6.9 0z" fill="#909090"/>
<path d="M46.8 108.5a2.9 2.9 0 1 0 5.8 0a2.9 2.9 0 1 0 -5.8 0zM49.6 105.6a3.0 3.0 0 1 0 5.9 0a3.0 3.0 0 1 0 -5.9 0zM47.2 104.4a2.5 2.5 0 1 0 5.0 0a2.5 2.5 0 1 0 -5.0 0zM49.2 105.8a3.4 3.4 0 1 0 6.9 0a3.4 3.4 0 1 0 -6.9 0z" fill="url(#pp)"/>
<circle class="u" cx="46.5" cy="110.5" r="2.7" fill="none" stroke="#b5b5b5"/>
<circle class="u" cx="52.3" cy="112.5" r="3.1" fill="none" stroke="#aeaeae"/>
<circle class="u" cx="48.3" cy="109.0" r="2.2" fill="none" stroke="#b3b3b3"/>
<circle class="u" cx="54.8" cy="108.8" r="2.3" fill="none" stroke="#c3c3c3"/>
<path d="M22.3 116.8a4.0 4.0 0 1 0 7.9 0a4.0 4.0 0 1 0 -7.9 0zM24.8 124.2a3.7 3.7 0 1 0 7.3 0a3.7 3.7 0 1 0 -7.3 0zM21.7 120.6a4.0 4.0 0 1 0 7.9 0a4.0 4.0 0 1 0 -7.9 0zM29.5 118.2a4.7 4.7 0 1 0 9.4 0a4.7 4.7 0 1 0 -9.4 0zM29.1 118.0a3.9 3.9 0 1 0 7.8 0a3.9 3.9 0 1 0 -7.8 0z" fill="none" stroke="#bcbcbc" stroke-width="2.6"/>
<path d="M22.3 116.8a4.0 4.0 0 1 0 7.9 0a4.0 4.0 0 1 0 -7.9 0zM24.8 124.2a3.7 3.7 0 1 0 7.3 0a3.7 3.7 0 1 0 -7.3 0zM21.7 120.6a4.0 4.0 0 1 0 7.9 0a4.0 4.0 0 1 0 -7.9 0zM29.5 118.2a4.7 4.7 0 1 0 9.4 0a4.7 4.7 0 1 0 -9.4 0zM29.1 118.0a3.9 3.9 0 1 0 7.8 0a3.9 3.9 0 1 0 -7.8 0z" fill="#909090"/>
<path d="M22.3 116.8a4.0 4.0 0 1 0 7.9 0a4.0 4.0 0 1 0 -7.9 0zM24.8 124.2a3.7 3.7 0 1 0 7.3 0a3.7 3.7 0 1 0 -7.3 0zM21.7 120.6a4.0 4.0 0 1 0 7.9 0a4.0 4.0 0 1 0 -7.9 0zM29.5 118.2a4.7 4.7 0 1 0 9.4 0a4.7 4.7 0 1 0 -9.4 0zM29.1 118.0a3.9 3.9 0 1 0 7.8 0a3.9 3.9 0 1 0 -7.8 0z" fill="url(#pp)"/>
<circle class="u" cx="28.5" cy="116.2" r="2.5" fill="none" stroke="#aeaeae"/>
<circle class="u" cx="29.7" cy="120.0" r="3.2" fill="none" stroke="#b2b2b2"/>
<circle class="u" cx="30.9" cy="113.5" r="3.7" fill="none" stroke="#bbbbbb"/>
<circle class="u" cx="34.0" cy="117.1" r="2.6" fill="none" stroke="#b0b0b0"/>
<circle class="u" cx="34.5" cy="115.0" r="2.6" fill="none" stroke="#bdbdbd"/>
<circle class="u" cx="28.9" cy="120.7" r="2.1" fill="none" stroke="#bababa"/>
<circle class="u" cx="30.9" cy="124.9" r="2.3" fill="none" stroke="#b4b4b4"/>
<path d="M33.6 136.2a3.3 3.3 0 1 0 6.6 0a3.3 3.3 0 1 0 -6.6 0zM36.9 137.9a3.4 3.4 0 1 0 6.7 0a3.4 3.4 0 1 0 -6.7 0zM34.2 138.8a4.4 4.4 0 1 0 8.7 0a4.4 4.4 0 1 0 -8.7 0zM37.7 141.1a4.0 4.0 0 1 0 8.0 0a4.0 4.0 0 1 0 -8.0 0zM38.4 141.0a4.4 4.4 0 1 0 8.9 0a4.4 4.4 0 1 0 -8.9 0z" fill="none" stroke="#bcbcbc" stroke-width="2.6"/>
<path d="M33.6 136.2a3.3 3.3 0 1 0 6.6 0a3.3 3.3 0 1 0 -6.6 0zM36.9 137.9a3.4 3.4 0 1 0 6.7 0a3.4 3.4 0 1 0 -6.7 0zM34.2 138.8a4.4 4.4 0 1 0 8.7 0a4.4 4.4 0 1 0 -8.7 0zM37.7 141.1a4.0 4.0 0 1 0 8.0 0a4.0 4.0 0 1 0 -8.0 0zM38.4 141.0a4.4 4.4 0 1 0 8.9 0a4.4 4.4 0 1 0 -8.9 0z" fill="#909090"/>
<path d="M33.6 136.2a3.3 3.3 0 1 0 6.6 0a3.3 3.3 0 1 0 -6.6 0zM36.9 137.9a3.4 3.4 0 1 0 6.7 0a3.4 3.4 0 1 0 -6.7 0zM34.2 138.8a4.4 4.4 0 1 0 8.7 0a4.4 4.4 0 1 0 -8.7 0zM37.7 141.1a4.0 4.0 0 1 0 8.0 0a4.0 4.0 0 1 0 -8.0 0zM38.4 141.0a4.4 4.4 0 1 0 8.9 0a4.4 4.4 0 1 0 -8.9 0z" fill="url(#pp)"/>
<circle class="u" cx="36.5" cy="140.3" r="2.1" fill="none" stroke="#b0b0b0"/>
<circle class="u" cx="39.3" cy="135.3" r="3.7" fill="none" stroke="#bdbdbd"/>
<circle class="u" cx="42.9" cy="141.9" r="3.4" fill="none" stroke="#cbcbcb"/>
<circle class="u" cx="41.7" cy="140.5" r="2.9" fill="none" stroke="#b1b1b1"/>
<circle class="u" cx="43.5" cy="134.9" r="2.6" fill="none" stroke="#bdbdbd"/>
<circle class="u" cx="35.3" cy="138.4" r="3.0" fill="none" stroke="#b4b4b4"/>
<path d="M57.8 135.2a4.1 4.1 0 1 0 8.3 0a4.1 4.1 0 1 0 -8.3 0zM56.9 131.4a3.4 3.4 0 1 0 6.9 0a3.4 3.4 0 1 0 -6.9 0zM63.0 135.0a3.2 3.2 0 1 0 6.4 0a3.2 3.2 0 1 0 -6.4 0zM59.1 129.5a3.5 3.5 0 1 0 7.1 0a3.5 3.5 0 1 0 -7.1 0zM58.2 127.9a4.4 4.4 0 1 0 8.8 0a4.4 4.4 0 1 0 -8.8 0z" fill="none" stroke="#bcbcbc" stroke-width="2.6"/>
<path d="M57.8 135.2a4.1 4.1 0 1 0 8.3 0a4.1 4.1 0 1 0 -8.3 0zM56.9 131.4a3.4 3.4 0 1 0 6.9 0a3.4 3.4 0 1 0 -6.9 0zM63.0 135.0a3.2 3.2 0 1 0 6.4 0a3.2 3.2 0 1 0 -6.4 0zM59.1 129.5a3.5 3.5 0 1 0 7.1 0a3.5 3.5 0 1 0 -7.1 0zM58.2 127.9a4.4 4.4 0 1 0 8.8 0a4.4 4.4 0 1 0 -8.8 0z" fill="#909090"/>
<path d="M57.8 135.2a4.1 4.1 0 1 0 8.3 0a4.1 4.1 0 1 0 -8.3 0zM56.9 131.4a3.4 3.4 0 1 0 6.9 0a3.4 3.4 0 1 0 -6.9 0zM63.0 135.0a3.2 3.2 0 1 0 6.4 0a3.2 3.2 0 1 0 -6.4 0zM59.1 129.5a3.5 3.5 0 1 0 7.1 0a3.5 3.5 0 1 0 -7.1 0zM58.2 127.9a4.4 4.4 0 1 0 8.8 0a4.4 4.4 0 1 0 -8.8 0z" fill="url(#pp)"/>
<circle class="u" cx="55.9" cy="131.3" r="2.2" fill="none" stroke="#c4c4c4"/>
<circle class="u" cx="67.7" cy="136.4" r="2.6" fill="none" stroke="#c5c5c5"/>
<circle class="u" cx="61.1" cy="126.1" r="2.4" fill="none" stroke="#cbcbcb"/>
<circle class="u" cx="63.2" cy="137.4" r="3.2" fill="none" stroke="#b5b5b5"/>
<circle class="u" cx="60.1" cy="129.1" r="2.3" fill="none" stroke="#cacaca"/>
<circle class="u" cx="58.8" cy="130.6" r="3.1" fill="none" stroke="#adadad"/>
<circle class="u" cx="66.2" cy="135.5" r="3.8" fill="none" stroke="#bfbfbf"/>
<path d="M94.8 125.2a5.5 5.5 0 1 0 10.9 0a5.5 5.5 0 1 0 -10.9 0zM90.9 118.0a5.3 5.3 0 1 0 10.6 0a5.3 5.3 0 1 0 -10.6 0zM91.2 127.8a5.6 5.6 0 1 0 11.1 0a5.6 5.6 0 1 0 -11.1 0zM90.7 119.0a5.0 5.0 0 1 0 10.1 0a5.0 5.0 0 1 0 -10.1 0zM87.5 118.4a4.0 4.0 0 1 0 7.9 0a4.0 4.0 0 1 0 -7.9 0zM93.2 118.8a4.5 4.5 0 1 0 9.1 0a4.5 4.5 0 1 0 -9.1 0zM90.6 122.9a4.2 4.2 0 1 0 8.4 0a4.2 4.2 0 1 0 -8.4 0z" fill="none" stroke="#bcbcbc" stroke-width="2.6"/>
<path d="M94.8 125.2a5.5 5.5 0 1 0 10.9 0a5.5 5.5 0 1 0 -10.9 0zM90.9 118.0a5.3 5.3 0 1 0 10.6 0a5.3 5.3 0 1 0 -10.6 0zM91.2 127.8a5.6 5.6 0 1 0 11.1 0a5.6 5.6 0 1 0 -11.1 0zM90.7 119.0a5.0 5.0 0 1 0 10.1 0a5.0 5.0 0 1 0 -10.1 0zM87.5 118.4a4.0 4.0 0 1 0 7.9 0a4.0 4.0 0 1 0 -7.9 0zM93.2 118.8a4.5 4.5 0 1 0 9.1 0a4.5 4.5 0 1 0 -9.1 0zM90.6 122.9a4.2 4.2 0 1 0 8.4 0a4.2 4.2 0 1 0 -8.4 0z" fill="#8c8c8c"/>
<path d="M94.8 125.2a5.5 5.5 0 1 0 10.9 0a5.5 5.5 0 1 0 -10.9 0zM90.9 118.0a5.3 5.3 0 1 0 10.6 0a5.3 5.3 0 1 0 -10.6 0zM91.2 127.8a5.6 5.6 0 1 0 11.1 0a5.6 5.6 0 1 0 -11.1 0zM90.7 119.0a5.0 5.0 0 1 0 10.1 0a5.0 5.0 0 1 0 -10.1 0zM87.5 118.4a4.0 4.0 0 1 0 7.9 0a4.0 4.0 0 1 0 -7.9 0zM93.2 118.8a4.5 4.5 0 1 0 9.1 0a4.5 4.5 0 1 0 -9.1 0zM90.6 122.9a4.2 4.2 0 1 0 8.4 0a4.2 4.2 0 1 0 -8.4 0z" fill="url(#pp)"/>
<circle class="u" cx="91.2" cy="116.5" r="2.9" fill="none" stroke="#d0d0d0"/>
<circle class="u" cx="90.3" cy="123.3" r="3.5" fill="none" stroke="#b6b6b6"/>
<circle class="u" cx="89.3" cy="117.9" r="3.5" fill="none" stroke="#cacaca"/>
<circle class="u" cx="93.8" cy="124.2" r="2.1" fill="none" stroke="#c7c7c7"/>
<circle class="u" cx="100.8" cy="121.4" r="2.8" fill="none" stroke="#c7c7c7"/>
<circle class="u" cx="92.9" cy="118.7" r="3.2" fill="none" stroke="#b8b8b8"/>
<circle class="u" cx="91.3" cy="128.0" r="3.3" fill="none" stroke="#b2b2b2"/>
<circle class="u" cx="102.8" cy="123.7" r="2.0" fill="none" stroke="#aeaeae"/>
<circle class="u" cx="96.6" cy="130.1" r="2.1" fill="none" stroke="#afafaf"/>
<circle class="u" cx="101.5" cy="121.6" r="3.6" fill="none" stroke="#b5b5b5"/>
<path d="M0.7 115.7a4.0 4.0 0 1 0 7.9 0a4.0 4.0 0 1 0 -7.9 0z" fill="none" stroke="#bcbcbc" stroke-width="2.6"/>
<path d="M0.7 115.7a4.0 4.0 0 1 0 7.9 0a4.0 4.0 0 1 0 -7.9 0z" fill="#909090"/>
<path d="M0.7 115.7a4.0 4.0 0 1 0 7.9 0a4.0 4.0 0 1 0 -7.9 0z" fill="url(#pp)"/>
<circle class="u" cx="2.7" cy="116.5" r="2.3" fill="none" stroke="#b9b9b9"/>
<path d="M139.4 120.1a2.6 2.6 0 1 0 5.2 0a2.6 2.6 0 1 0 -5.2 0zM134.7 121.3a2.8 2.8 0 1 0 5.5 0a2.8 2.8 0 1 0 -5.5 0zM136.0 117.5a2.7 2.7 0 1 0 5.4 0a2.7 2.7 0 1 0 -5.4 0zM139.6 121.2a2.6 2.6 0 1 0 5.2 0a2.6 2.6 0 1 0 -5.2 0z" fill="none" stroke="#bcbcbc" stroke-width="2.6"/>
<path d="M139.4 120.1a2.6 2.6 0 1 0 5.2 0a2.6 2.6 0 1 0 -5.2 0zM134.7 121.3a2.8 2.8 0 1 0 5.5 0a2.8 2.8 0 1 0 -5.5 0zM136.0 117.5a2.7 2.7 0 1 0 5.4 0a2.7 2.7 0 1 0 -5.4 0zM139.6 121.2a2.6 2.6 0 1 0 5.2 0a2.6 2.6 0 1 0 -5.2 0z" fill="#909090"/>
<path d="M139.4 120.1a2.6 2.6 0 1 0 5.2 0a2.6 2.6 0 1 0 -5.2 0zM134.7 121.3a2.8 2.8 0 1 0 5.5 0a2.8 2.8 0 1 0 -5.5 0zM136.0 117.5a2.7 2.7 0 1 0 5.4 0a2.7 2.7 0 1 0 -5.4 0zM139.6 121.2a2.6 2.6 0 1 0 5.2 0a2.6 2.6 0 1 0 -5.2 0z" fill="url(#pp)"/>
<circle class="u" cx="138.7" cy="120.5" r="2.2" fill="none" stroke="#cdcdcd"/>
<circle class="u" cx="134.5" cy="119.9" r="2.3" fill="none" stroke="#b9b9b9"/>
<circle class="u" cx="141.5" cy="116.3" r="2.4" fill="none" stroke="#adadad"/>
<path d="M155.1 125.2a4.8 4.8 0 1 0 9.6 0a4.8 4.8 0 1 0 -9.6 0zM154.8 125.3a3.4 3.4 0 1 0 6.8 0a3.4 3.4 0 1 0 -6.8 0zM158.5 125.5a4.5 4.5 0 1 0 8.9 0a4.5 4.5 0 1 0 -8.9 0zM152.7 127.9a4.4 4.4 0 1 0 8.9 0a4.4 4.4 0 1 0 -8.9 0zM154.4 132.2a4.7 4.7 0 1 0 9.4 0a4.7 4.7 0 1 0 -9.4 0zM161.0 128.2a3.3 3.3 0 1 0 6.7 0a3.3 3.3 0 1 0 -6.7 0z" fill="none" stroke="#bcbcbc" stroke-width="2.6"/>
<path d="M155.1 125.2a4.8 4.8 0 1 0 9.6 0a4.8 4.8 0 1 0 -9.6 0zM154.8 125.3a3.4 3.4 0 1 0 6.8 0a3.4 3.4 0 1 0 -6.8 0zM158.5 125.5a4.5 4.5 0 1 0 8.9 0a4.5 4.5 0 1 0 -8.9 0zM152.7 127.9a4.4 4.4 0 1 0 8.9 0a4.4 4.4 0 1 0 -8.9 0zM154.4 132.2a4.7 4.7 0 1 0 9.4 0a4.7 4.7 0 1 0 -9.4 0zM161.0 128.2a3.3 3.3 0 1 0 6.7 0a3.3 3.3 0 1 0 -6.7 0z" fill="#909090"/>
<path d="M155.1 125.2a4.8 4.8 0 1 0 9.6 0a4.8 4.8 0 1 0 -9.6 0zM154.8 125.3a3.4 3.4 0 1 0 6.8 0a3.4 3.4 0 1 0 -6.8 0zM158.5 125.5a4.5 4.5 0 1 0 8.9 0a4.5 4.5 0 1 0 -8.9 0zM152.7 127.9a4.4 4.4 0 1 0 8.9 0a4.4 4.4 0 1 0 -8.9 0zM154.4 132.2a4.7 4.7 0 1 0 9.4 0a4.7 4.7 0 1 0 -9.4 0zM161.0 128.2a3.3 3.3 0 1 0 6.7 0a3.3 3.3 0 1 0 -6.7 0z" fill="url(#pp)"/>
<circle class="u" cx="162.9" cy="129.7" r="2.3" fill="none" stroke="#b5b5b5"/>
<circle class="u" cx="154.8" cy="132.8" r="2.7" fill="none" stroke="#b6b6b6"/>
<circle class="u" cx="154.1" cy="127.6" r="2.6" fill="none" stroke="#cecece"/>
<circle class="u" cx="151.5" cy="124.8" r="3.4" fill="none" stroke="#c2c2c2"/>
<circle class="u" cx="158.6" cy="134.1" r="2.8" fill="none" stroke="#c7c7c7"/>
<circle class="u" cx="154.4" cy="130.6" r="2.0" fill="none" stroke="#c8c8c8"/>
<circle class="u" cx="165.7" cy="128.8" r="3.0" fill="none" stroke="#c9c9c9"/>
<circle class="u" cx="157.5" cy="133.9" r="2.4" fill="none" stroke="#c0c0c0"/>
<path d="M193.8 133.9a6.6 6.6 0 1 0 13.3 0a6.6 6.6 0 1 0 -13.3 0zM200.5 133.2a5.0 5.0 0 1 0 10.0 0a5.0 5.0 0 1 0 -10.0 0zM205.1 126.8a5.7 5.7 0 1 0 11.3 0a5.7 5.7 0 1 0 -11.3 0zM198.0 122.4a5.1 5.1 0 1 0 10.2 0a5.1 5.1 0 1 0 -10.2 0zM204.9 124.8a5.0 5.0 0 1 0 10.0 0a5.0 5.0 0 1 0 -10.0 0zM197.9 127.4a6.2 6.2 0 1 0 12.5 0a6.2 6.2 0 1 0 -12.5 0zM192.8 125.4a5.1 5.1 0 1 0 10.2 0a5.1 5.1 0 1 0 -10.2 0zM195.2 125.3a6.2 6.2 0 1 0 12.3 0a6.2 6.2 0 1 0 -12.3 0z" fill="none" stroke="#bcbcbc" stroke-width="2.6"/>
<path d="M193.8 133.9a6.6 6.6 0 1 0 13.3 0a6.6 6.6 0 1 0 -13.3 0zM200.5 133.2a5.0 5.0 0 1 0 10.0 0a5.0 5.0 0 1 0 -10.0 0zM205.1 126.8a5.7 5.7 0 1 0 11.3 0a5.7 5.7 0 1 0 -11.3 0zM198.0 122.4a5.1 5.1 0 1 0 10.2 0a5.1 5.1 0 1 0 -10.2 0zM204.9 124.8a5.0 5.0 0 1 0 10.0 0a5.0 5.0 0 1 0 -10.0 0zM197.9 127.4a6.2 6.2 0 1 0 12.5 0a6.2 6.2 0 1 0 -12.5 0zM192.8 125.4a5.1 5.1 0 1 0 10.2 0a5.1 5.1 0 1 0 -10.2 0zM195.2 125.3a6.2 6.2 0 1 0 12.3 0a6.2 6.2 0 1 0 -12.3 0z" fill="#8c8c8c"/>
<path d="M193.8 133.9a6.6 6.6 0 1 0 13.3 0a6.6 6.6 0 1 0 -13.3 0zM200.5 133.2a5.0 5.0 0 1 0 10.0 0a5.0 5.0 0 1 0 -10.0 0zM205.1 126.8a5.7 5.7 0 1 0 11.3 0a5.7 5.7 0 1 0 -11.3 0zM198.0 122.4a5.1 5.1 0 1 0 10.2 0a5.1 5.1 0 1 0 -10.2 0zM204.9 124.8a5.0 5.0 0 1 0 10.0 0a5.0 5.0 0 1 0 -10.0 0zM197.9 127.4a6.2 6.2 0 1 0 12.5 0a6.2 6.2 0 1 0 -12.5 0zM192.8 125.4a5.1 5.1 0 1 0 10.2 0a5.1 5.1 0 1 0 -10.2 0zM195.2 125.3a6.2 6.2 0 1 0 12.3 0a6.2 6.2 0 1 0 -12.3 0z" fill="url(#pp)"/>
<circle class="u" cx="195.8" cy="121.9" r="2.0" fill="none" stroke="#b2b2b2"/>
<circle class="u" cx="207.8" cy="129.1" r="3.7" fill="none" stroke="#d0d0d0"/>
<circle class="u" cx="194.1" cy="129.4" r="3.5" fill="none" stroke="#c9c9c9"/>
<circle class="u" cx="204.1" cy="123.6" r="3.0" fill="none" stroke="#bcbcbc"/>
<circle class="u" cx="208.3" cy="126.7" r="2.3" fill="none" stroke="#c5c5c5"/>
<circle class="u" cx="206.1" cy="131.0" r="2.9" fill="none" stroke="#cacaca"/>
<circle class="u" cx="197.0" cy="122.5" r="2.5" fill="none" stroke="#b7b7b7"/>
<circle class="u" cx="194.8" cy="132.6" r="3.3" fill="none" stroke="#d0d0d0"/>
<circle class="u" cx="196.6" cy="126.3" r="3.8" fill="none" stroke="#b4b4b4"/>
<circle class="u" cx="206.1" cy="119.0" r="3.5" fill="none" stroke="#c8c8c8"/>
<circle class="u" cx="209.0" cy="135.2" r="3.7" fill="none" stroke="#c1c1c1"/>
<circle class="u" cx="197.6" cy="135.9" r="3.0" fill="none" stroke="#bcbcbc"/>
<circle class="u" cx="197.1" cy="121.9" r="2.4" fill="none" stroke="#adadad"/>
<path d="M68.9 155.7a5.6 5.6 0 1 0 11.2 0a5.6 5.6 0 1 0 -11.2 0zM72.0 153.0a5.1 5.1 0 1 0 10.3 0a5.1 5.1 0 1 0 -10.3 0zM74.3 153.6a6.1 6.1 0 1 0 12.2 0a6.1 6.1 0 1 0 -12.2 0zM73.6 163.2a6.2 6.2 0 1 0 12.3 0a6.2 6.2 0 1 0 -12.3 0zM78.9 158.9a5.7 5.7 0 1 0 11.5 0a5.7 5.7 0 1 0 -11.5 0zM70.4 158.3a5.9 5.9 0 1 0 11.8 0a5.9 5.9 0 1 0 -11.8 0zM74.6 150.6a4.4 4.4 0 1 0 8.7 0a4.4 4.4 0 1 0 -8.7 0z" fill="none" stroke="#bcbcbc" stroke-width="2.6"/>
<path d="M68.9 155.7a5.6 5.6 0 1 0 11.2 0a5.6 5.6 0 1 0 -11.2 0zM72.0 153.0a5.1 5.1 0 1 0 10.3 0a5.1 5.1 0 1 0 -10.3 0zM74.3 153.6a6.1 6.1 0 1 0 12.2 0a6.1 6.1 0 1 0 -12.2 0zM73.6 163.2a6.2 6.2 0 1 0 12.3 0a6.2 6.2 0 1 0 -12.3 0zM78.9 158.9a5.7 5.7 0 1 0 11.5 0a5.7 5.7 0 1 0 -11.5 0zM70.4 158.3a5.9 5.9 0 1 0 11.8 0a5.9 5.9 0 1 0 -11.8 0zM74.6 150.6a4.4 4.4 0 1 0 8.7 0a4.4 4.4 0 1 0 -8.7 0z" fill="#8c8c8c"/>
<path d="M68.9 155.7a5.6 5.6 0 1 0 11.2 0a5.6 5.6 0 1 0 -11.2 0zM72.0 153.0a5.1 5.1 0 1 0 10.3 0a5.1 5.1 0 1 0 -10.3 0zM74.3 153.6a6.1 6.1 0 1 0 12.2 0a6.1 6.1 0 1 0 -12.2 0zM73.6 163.2a6.2 6.2 0 1 0 12.3 0a6.2 6.2 0 1 0 -12.3 0zM78.9 158.9a5.7 5.7 0 1 0 11.5 0a5.7 5.7 0 1 0 -11.5 0zM70.4 158.3a5.9 5.9 0 1 0 11.8 0a5.9 5.9 0 1 0 -11.8 0zM74.6 150.6a4.4 4.4 0 1 0 8.7 0a4.4 4.4 0 1 0 -8.7 0z" fill="url(#pp)"/>
<circle class="u" cx="89.2" cy="152.4" r="3.1" fill="none" stroke="#cfcfcf"/>
<circle class="u" cx="80.6" cy="166.1" r="3.4" fill="none" stroke="#c3c3c3"/>
<circle class="u" cx="82.2" cy="157.8" r="2.0" fill="none" stroke="#b6b6b6"/>
<circle class="u" cx="81.2" cy="150.7" r="3.4" fill="none" stroke="#c4c4c4"/>
<circle class="u" cx="73.6" cy="162.8" r="2.1" fill="none" stroke="#bebebe"/>
<circle class="u" cx="82.4" cy="153.7" r="3.3" fill="none" stroke="#b9b9b9"/>
<circle class="u" cx="87.5" cy="157.9" r="2.9" fill="none" stroke="#aeaeae"/>
<circle class="u" cx="75.4" cy="154.5" r="2.0" fill="none" stroke="#b4b4b4"/>
<circle class="u" cx="86.3" cy="161.5" r="2.1" fill="none" stroke="#cfcfcf"/>
<circle class="u" cx="86.2" cy="148.9" r="2.6" fill="none" stroke="#cecece"/>
<circle class="u" cx="89.4" cy="156.0" r="2.5" fill="none" stroke="#c5c5c5"/>
<circle class="u" cx="75.6" cy="153.3" r="2.6" fill="none" stroke="#afafaf"/>
<path d="M119.3 168.6a2.7 2.7 0 1 0 5.4 0a2.7 2.7 0 1 0 -5.4 0zM117.0 165.3a2.2 2.2 0 1 0 4.3 0a2.2 2.2 0 1 0 -4.3 0zM118.6 167.1a2.8 2.8 0 1 0 5.6 0a2.8 2.8 0 1 0 -5.6 0zM117.7 164.9a3.3 3.3 0 1 0 6.6 0a3.3 3.3 0 1 0 -6.6 0z" fill="none" stroke="#bcbcbc" stroke-width="2.6"/>
<path d="M119.3 168.6a2.7 2.7 0 1 0 5.4 0a2.7 2.7 0 1 0 -5.4 0zM117.0 165.3a2.2 2.2 0 1 0 4.3 0a2.2 2.2 0 1 0 -4.3 0zM118.6 167.1a2.8 2.8 0 1 0 5.6 0a2.8 2.8 0 1 0 -5.6 0zM117.7 164.9a3.3 3.3 0 1 0 6.6 0a3.3 3.3 0 1 0 -6.6 0z" fill="#909090"/>
<path d="M119.3 168.6a2.7 2.7 0 1 0 5.4 0a2.7 2.7 0 1 0 -5.4 0zM117.0 165.3a2.2 2.2 0 1 0 4.3 0a2.2 2.2 0 1 0 -4.3 0zM118.6 167.1a2.8 2.8 0 1 0 5.6 0a2.8 2.8 0 1 0 -5.6 0zM117.7 164.9a3.3 3.3 0 1 0 6.6 0a3.3 3.3 0 1 0 -6.6 0z" fill="url(#pp)"/>
<circle class="u" cx="118.9" cy="171.0" r="2.1" fill="none" stroke="#c1c1c1"/>
<circle class="u" cx="122.0" cy="165.5" r="2.5" fill="none" stroke="#c6c6c6"/>
<circle class="u" cx="121.1" cy="170.4" r="3.7" fill="none" stroke="#d1d1d1"/>
<path d="M159.9 166.1a4.7 4.7 0 1 0 9.3 0a4.7 4.7 0 1 0 -9.3 0zM161.0 162.6a4.8 4.8 0 1 0 9.7 0a4.8 4.8 0 1 0 -9.7 0zM161.2 162.6a5.2 5.2 0 1 0 10.4 0a5.2 5.2 0 1 0 -10.4 0zM161.3 163.5a4.5 4.5 0 1 0 8.9 0a4.5 4.5 0 1 0 -8.9 0zM157.9 165.4a3.8 3.8 0 1 0 7.7 0a3.8 3.8 0 1 0 -7.7 0zM154.6 165.6a4.5 4.5 0 1 0 9.0 0a4.5 4.5 0 1 0 -9.0 0z" fill="none" stroke="#bcbcbc" stroke-width="2.6"/>
<path d="M159.9 166.1a4.7 4.7 0 1 0 9.3 0a4.7 4.7 0 1 0 -9.3 0zM161.0 162.6a4.8 4.8 0 1 0 9.7 0a4.8 4.8 0 1 0 -9.7 0zM161.2 162.6a5.2 5.2 0 1 0 10.4 0a5.2 5.2 0 1 0 -10.4 0zM161.3 163.5a4.5 4.5 0 1 0 8.9 0a4.5 4.5 0 1 0 -8.9 0zM157.9 165.4a3.8 3.8 0 1 0 7.7 0a3.8 3.8 0 1 0 -7.7 0zM154.6 165.6a4.5 4.5 0 1 0 9.0 0a4.5 4.5 0 1 0 -9.0 0z" fill="#909090"/>
<path d="M159.9 166.1a4.7 4.7 0 1 0 9.3 0a4.7 4.7 0 1 0 -9.3 0zM161.0 162.6a4.8 4.8 0 1 0 9.7 0a4.8 4.8 0 1 0 -9.7 0zM161.2 162.6a5.2 5.2 0 1 0 10.4 0a5.2 5.2 0 1 0 -10.4 0zM161.3 163.5a4.5 4.5 0 1 0 8.9 0a4.5 4.5 0 1 0 -8.9 0zM157.9 165.4a3.8 3.8 0 1 0 7.7 0a3.8 3.8 0 1 0 -7.7 0zM154.6 165.6a4.5 4.5 0 1 0 9.0 0a4.5 4.5 0 1 0 -9.0 0z" fill="url(#pp)"/>
<circle class="u" cx="155.4" cy="159.3" r="3.5" fill="none" stroke="#b9b9b9"/>
<circle class="u" cx="162.4" cy="159.2" r="2.8" fill="none" stroke="#bababa"/>
<circle class="u" cx="153.9" cy="163.9" r="2.9" fill="none" stroke="#d1d1d1"/>
<circle class="u" cx="163.4" cy="159.2" r="2.6" fill="none" stroke="#adadad"/>
<circle class="u" cx="161.4" cy="160.3" r="3.6" fill="none" stroke="#b4b4b4"/>
<circle class="u" cx="159.6" cy="162.6" r="2.6" fill="none" stroke="#bbbbbb"/>
<circle class="u" cx="168.7" cy="164.0" r="3.3" fill="none" stroke="#bababa"/>
<circle class="u" cx="162.7" cy="159.4" r="2.1" fill="none" stroke="#bababa"/>
<circle class="u" cx="167.7" cy="157.1" r="3.2" fill="none" stroke="#c1c1c1"/>
<path d="M10.9 170.0a2.4 2.4 0 1 0 4.7 0a2.4 2.4 0 1 0 -4.7 0zM10.1 170.8a2.9 2.9 0 1 0 5.7 0a2.9 2.9 0 1 0 -5.7 0zM8.7 173.4a2.8 2.8 0 1 0 5.6 0a2.8 2.8 0 1 0 -5.6 0zM10.5 175.1a3.2 3.2 0 1 0 6.5 0a3.2 3.2 0 1 0 -6.5 0z" fill="none" stroke="#bcbcbc" stroke-width="2.6"/>
<path d="M10.9 170.0a2.4 2.4 0 1 0 4.7 0a2.4 2.4 0 1 0 -4.7 0zM10.1 170.8a2.9 2.9 0 1 0 5.7 0a2.9 2.9 0 1 0 -5.7 0zM8.7 173.4a2.8 2.8 0 1 0 5.6 0a2.8 2.8 0 1 0 -5.6 0zM10.5 175.1a3.2 3.2 0 1 0 6.5 0a3.2 3.2 0 1 0 -6.5 0z" fill="#909090"/>
<path d="M10.9 170.0a2.4 2.4 0 1 0 4.7 0a2.4 2.4 0 1 0 -4.7 0zM10.1 170.8a2.9 2.9 0 1 0 5.7 0a2.9 2.9 0 1 0 -5.7 0zM8.7 173.4a2.8 2.8 0 1 0 5.6 0a2.8 2.8 0 1 0 -5.6 0zM10.5 175.1a3.2 3.2 0 1 0 6.5 0a3.2 3.2 0 1 0 -6.5 0z" fill="url(#pp)"/>
<circle class="u" cx="16.3" cy="172.7" r="3.0" fill="none" stroke="#cdcdcd"/>
<circle class="u" cx="10.8" cy="172.4" r="2.1" fill="none" stroke="#cccccc"/>
<circle class="u" cx="13.8" cy="167.1" r="2.5" fill="none" stroke="#c4c4c4"/>
<circle class="u" cx="16.8" cy="175.4" r="2.6" fill="none" stroke="#d0d0d0"/>
<path d="M59.9 178.7a2.5 2.5 0 1 0 5.0 0a2.5 2.5 0 1 0 -5.0 0zM60.2 177.5a1.7 1.7 0 1 0 3.3 0a1.7 1.7 0 1 0 -3.3 0zM60.0 179.3a2.2 2.2 0 1 0 4.3 0a2.2 2.2 0 1 0 -4.3 0zM61.0 179.5a2.5 2.5 0 1 0 5.1 0a2.5 2.5 0 1 0 -5.1 0z" fill="none" stroke="#bcbcbc" stroke-width="2.6"/>
<path d="M59.9 178.7a2.5 2.5 0 1 0 5.0 0a2.5 2.5 0 1 0 -5.0 0zM60.2 177.5a1.7 1.7 0 1 0 3.3 0a1.7 1.7 0 1 0 -3.3 0zM60.0 179.3a2.2 2.2 0 1 0 4.3 0a2.2 2.2 0 1 0 -4.3 0zM61.0 179.5a2.5 2.5 0 1 0 5.1 0a2.5 2.5 0 1 0 -5.1 0z" fill="#909090"/>
<path d="M59.9 178.7a2.5 2.5 0 1 0 5.0 0a2.5 2.5 0 1 0 -5.0 0zM60.2 177.5a1.7 1.7 0 1 0 3.3 0a1.7 1.7 0 1 0 -3.3 0zM60.0 179.3a2.2 2.2 0 1 0 4.3 0a2.2 2.2 0 1 0 -4.3 0zM61.0 179.5a2.5 2.5 0 1 0 5.1 0a2.5 2.5 0 1 0 -5.1 0z" fill="url(#pp)"/>
<circle class="u" cx="61.6" cy="177.0" r="3.6" fill="none" stroke="#c4c4c4"/>
<circle class="u" cx="65.6" cy="177.6" r="3.6" fill="none" stroke="#c6c6c6"/>
<path d="M163.7 194.6a2.7 2.7 0 1 0 5.4 0a2.7 2.7 0 1 0 -5.4 0zM162.9 195.8a2.6 2.6 0 1 0 5.3 0a2.6 2.6 0 1 0 -5.3 0zM162.9 192.3a3.6 3.6 0 1 0 7.1 0a3.6 3.6 0 1 0 -7.1 0zM164.1 196.3a2.3 2.3 0 1 0 4.7 0a2.3 2.3 0 1 0 -4.7 0z" fill="none" stroke="#bcbcbc" stroke-width="2.6"/>
<path d="M163.7 194.6a2.7 2.7 0 1 0 5.4 0a2.7 2.7 0 1 0 -5.4 0zM162.9 195.8a2.6 2.6 0 1 0 5.3 0a2.6 2.6 0 1 0 -5.3 0zM162.9 192.3a3.6 3.6 0 1 0 7.1 0a3.6 3.6 0 1 0 -7.1 0zM164.1 196.3a2.3 2.3 0 1 0 4.7 0a2.3 2.3 0 1 0 -4.7 0z" fill="#909090"/>
<path d="M163.7 194.6a2.7 2.7 0 1 0 5.4 0a2.7 2.7 0 1 0 -5.4 0zM162.9 195.8a2.6 2.6 0 1 0 5.3 0a2.6 2.6 0 1 0 -5.3 0zM162.9 192.3a3.6 3.6 0 1 0 7.1 0a3.6 3.6 0 1 0 -7.1 0zM164.1 196.3a2.3 2.3 0 1 0 4.7 0a2.3 2.3 0 1 0 -4.7 0z" fill="url(#pp)"/>
<circle class="u" cx="165.0" cy="193.9" r="2.7" fill="none" stroke="#cacaca"/>
<circle class="u" cx="165.4" cy="194.1" r="3.5" fill="none" stroke="#bfbfbf"/>
<circle class="u" cx="169.6" cy="195.3" r="2.2" fill="none" stroke="#c3c3c3"/>
<circle class="u" cx="165.4" cy="189.4" r="2.7" fill="none" stroke="#adadad"/>
<path d="M173.3 191.0a3.1 3.1 0 1 0 6.1 0a3.1 3.1 0 1 0 -6.1 0zM176.8 191.0a3.3 3.3 0 1 0 6.7 0a3.3 3.3 0 1 0 -6.7 0zM175.8 189.2a3.2 3.2 0 1 0 6.4 0a3.2 3.2 0 1 0 -6.4 0zM174.6 185.9a3.2 3.2 0 1 0 6.5 0a3.2 3.2 0 1 0 -6.5 0zM174.5 190.6a2.9 2.9 0 1 0 5.8 0a2.9 2.9 0 1 0 -5.8 0z" fill="none" stroke="#bcbcbc" stroke-width="2.6"/>
<path d="M173.3 191.0a3.1 3.1 0 1 0 6.1 0a3.1 3.1 0 1 0 -6.1 0zM176.8 191.0a3.3 3.3 0 1 0 6.7 0a3.3 3.3 0 1 0 -6.7 0zM175.8 189.2a3.2 3.2 0 1 0 6.4 0a3.2 3.2 0 1 0 -6.4 0zM174.6 185.9a3.2 3.2 0 1 0 6.5 0a3.2 3.2 0 1 0 -6.5 0zM174.5 190.6a2.9 2.9 0 1 0 5.8 0a2.9 2.9 0 1 0 -5.8 0z" fill="#909090"/>
<path d="M173.3 191.0a3.1 3.1 0 1 0 6.1 0a3.1 3.1 0 1 0 -6.1 0zM176.8 191.0a3.3 3.3 0 1 0 6.7 0a3.3 3.3 0 1 0 -6.7 0zM175.8 189.2a3.2 3.2 0 1 0 6.4 0a3.2 3.2 0 1 0 -6.4 0zM174.6 185.9a3.2 3.2 0 1 0 6.5 0a3.2 3.2 0 1 0 -6.5 0zM174.5 190.6a2.9 2.9 0 1 0 5.8 0a2.9 2.9 0 1 0 -5.8 0z" fill="url(#pp)"/>
<circle class="u" cx="176.1" cy="192.6" r="2.7" fill="none" stroke="#c2c2c2"/>
<circle class="u" cx="183.4" cy="183.9" r="3.6" fill="none" stroke="#bababa"/>
<circle class="u" cx="185.1" cy="190.1" r="2.9" fill="none" stroke="#b5b5b5"/>
<circle class="u" cx="183.6" cy="190.4" r="3.4" fill="none" stroke="#d0d0d0"/>
<circle class="u" cx="184.8" cy="193.2" r="2.1" fill="none" stroke="#c7c7c7"/>
<path d="M198.8 194.7a5.0 5.0 0 1 0 9.9 0a5.0 5.0 0 1 0 -9.9 0zM191.6 197.4a4.7 4.7 0 1 0 9.3 0a4.7 4.7 0 1 0 -9.3 0zM194.7 192.8a3.9 3.9 0 1 0 7.9 0a3.9 3.9 0 1 0 -7.9 0zM191.6 196.3a5.2 5.2 0 1 0 10.4 0a5.2 5.2 0 1 0 -10.4 0zM194.4 197.9a5.1 5.1 0 1 0 10.2 0a5.1 5.1 0 1 0 -10.2 0zM193.1 197.7a4.8 4.8 0 1 0 9.5 0a4.8 4.8 0 1 0 -9.5 0z" fill="none" stroke="#bcbcbc" stroke-width="2.6"/>
<path d="M198.8 194.7a5.0 5.0 0 1 0 9.9 0a5.0 5.0 0 1 0 -9.9 0zM191.6 197.4a4.7 4.7 0 1 0 9.3 0a4.7 4.7 0 1 0 -9.3 0zM194.7 192.8a3.9 3.9 0 1 0 7.9 0a3.9 3.9 0 1 0 -7.9 0zM191.6 196.3a5.2 5.2 0 1 0 10.4 0a5.2 5.2 0 1 0 -10.4 0zM194.4 197.9a5.1 5.1 0 1 0 10.2 0a5.1 5.1 0 1 0 -10.2 0zM193.1 197.7a4.8 4.8 0 1 0 9.5 0a4.8 4.8 0 1 0 -9.5 0z" fill="#909090"/>
<path d="M198.8 194.7a5.0 5.0 0 1 0 9.9 0a5.0 5.0 0 1 0 -9.9 0zM191.6 197.4a4.7 4.7 0 1 0 9.3 0a4.7 4.7 0 1 0 -9.3 0zM194.7 192.8a3.9 3.9 0 1 0 7.9 0a3.9 3.9 0 1 0 -7.9 0zM191.6 196.3a5.2 5.2 0 1 0 10.4 0a5.2 5.2 0 1 0 -10.4 0zM194.4 197.9a5.1 5.1 0 1 0 10.2 0a5.1 5.1 0 1 0 -10.2 0zM193.1 197.7a4.8 4.8 0 1 0 9.5 0a4.8 4.8 0 1 0 -9.5 0z" fill="url(#pp)"/>
<circle class="u" cx="195.5" cy="188.9" r="2.4" fill="none" stroke="#d0d0d0"/>
<circle class="u" cx="203.1" cy="199.7" r="2.5" fill="none" stroke="#c4c4c4"/>
<circle class="u" cx="198.9" cy="199.3" r="3.2" fill="none" stroke="#b6b6b6"/>
<circle class="u" cx="199.6" cy="189.3" r="2.2" fill="none" stroke="#c3c3c3"/>
<circle class="u" cx="203.0" cy="198.7" r="2.7" fill="none" stroke="#afafaf"/>
<circle class="u" cx="198.7" cy="187.6" r="3.4" fill="none" stroke="#c1c1c1"/>
<circle class="u" cx="197.1" cy="193.0" r="2.4" fill="none" stroke="#b5b5b5"/>
<circle class="u" cx="193.0" cy="192.9" r="2.6" fill="none" stroke="#cdcdcd"/>
<path d="M239.1 192.4a2.8 2.8 0 1 0 5.6 0a2.8 2.8 0 1 0 -5.6 0zM241.5 198.2a3.5 3.5 0 1 0 7.0 0a3.5 3.5 0 1 0 -7.0 0zM235.6 197.6a3.6 3.6 0 1 0 7.2 0a3.6 3.6 0 1 0 -7.2 0zM237.9 198.0a2.8 2.8 0 1 0 5.6 0a2.8 2.8 0 1 0 -5.6 0z" fill="none" stroke="#bcbcbc" stroke-width="2.6"/>
<path d="M239.1 192.4a2.8 2.8 0 1 0 5.6 0a2.8 2.8 0 1 0 -5.6 0zM241.5 198.2a3.5 3.5 0 1 0 7.0 0a3.5 3.5 0 1 0 -7.0 0zM235.6 197.6a3.6 3.6 0 1 0 7.2 0a3.6 3.6 0 1 0 -7.2 0zM237.9 198.0a2.8 2.8 0 1 0 5.6 0a2.8 2.8 0 1 0 -5.6 0z" fill="#909090"/>
<path d="M239.1 192.4a2.8 2.8 0 1 0 5.6 0a2.8 2.8 0 1 0 -5.6 0zM241.5 198.2a3.5 3.5 0 1 0 7.0 0a3.5 3.5 0 1 0 -7.0 0zM235.6 197.6a3.6 3.6 0 1 0 7.2 0a3.6 3.6 0 1 0 -7.2 0zM237.9 198.0a2.8 2.8 0 1 0 5.6 0a2.8 2.8 0 1 0 -5.6 0z" fill="url(#pp)"/>
<circle class="u" cx="240.4" cy="190.4" r="3.8" fill="none" stroke="#c8c8c8"/>
<circle class="u" cx="240.4" cy="200.8" r="3.8" fill="none" stroke="#b9b9b9"/>
<circle class="u" cx="246.2" cy="194.3" r="3.7" fill="none" stroke="#d1d1d1"/>
<circle class="u" cx="244.1" cy="191.2" r="2.3" fill="none" stroke="#adadad"/>
</g>
</svg>
<svg x="342.5" y="490.5" width="266.3" height="200.2" overflow="hidden">
<rect width="266.3" height="200.2" fill="#7b7b7b"/>
<g filter="url(#soft)">
<path d="M52.5 29.7a6.1 6.1 0 1 0 12.2 0a6.1 6.1 0 1 0 -12.2 0zM48.9 29.8a5.3 5.3 0 1 0 10.6 0a5.3 5.3 0 1 0 -10.6 0zM46.3 19.8a4.4 4.4 0 1 0 8.9 0a4.4 4.4 0 1 0 -8.9 0zM55.4 26.0a5.3 5.3 0 1 0 10.6 0a5.3 5.3 0 1 0 -10.6 0zM49.1 24.5a5.3 5.3 0 1 0 10.6 0a5.3 5.3 0 1 0 -10.6 0zM47.2 21.6a6.6 6.6 0 1 0 13.1 0a6.6 6.6 0 1 0 -13.1 0zM51.1 24.1a4.3 4.3 0 1 0 8.5 0a4.3 4.3 0 1 0 -8.5 0zM42.7 23.1a5.2 5.2 0 1 0 10.3 0a5.2 5.2 0 1 0 -10.3 0z" fill="none" stroke="#adadad" stroke-width="2.6"/>
<path d="M52.5 29.7a6.1 6.1 0 1 0 12.2 0a6.1 6.1 0 1 0 -12.2 0zM48.9 29.8a5.3 5.3 0 1 0 10.6 0a5.3 5.3 0 1 0 -10.6 0zM46.3 19.8a4.4 4.4 0 1 0 8.9 0a4.4 4.4 0 1 0 -8.9 0zM55.4 26.0a5.3 5.3 0 1 0 10.6 0a5.3 5.3 0 1 0 -10.6 0zM49.1 24.5a5.3 5.3 0 1 0 10.6 0a5.3 5.3 0 1 0 -10.6 0zM47.2 21.6a6.6 6.6 0 1 0 13.1 0a6.6 6.6 0 1 0 -13.1 0zM51.1 24.1a4.3 4.3 0 1 0 8.5 0a4.3 4.3 0 1 0 -8.5 0zM42.7 23.1a5.2 5.2 0 1 0 10.3 0a5.2 5.2 0 1 0 -10.3 0z" fill="#7d7d7d"/>
<path d="M52.5 29.7a6.1 6.1 0 1 0 12.2 0a6.1 6.1 0 1 0 -12.2 0zM48.9 29.8a5.3 5.3 0 1 0 10.6 0a5.3 5.3 0 1 0 -10.6 0zM46.3 19.8a4.4 4.4 0 1 0 8.9 0a4.4 4.4 0 1 0 -8.9 0zM55.4 26.0a5.3 5.3 0 1 0 10.6 0a5.3 5.3 0 1 0 -10.6 0zM49.1 24.5a5.3 5.3 0 1 0 10.6 0a5.3 5.3 0 1 0 -10.6 0zM47.2 21.6a6.6 6.6 0 1 0 13.1 0a6.6 6.6 0 1 0 -13.1 0zM51.1 24.1a4.3 4.3 0 1 0 8.5 0a4.3 4.3 0 1 0 -8.5 0zM42.7 23.1a5.2 5.2 0 1 0 10.3 0a5.2 5.2 0 1 0 -10.3 0z" fill="url(#pp)"/>
<circle class="u" cx="55.8" cy="31.5" r="2.1" fill="none" stroke="#a6a6a6"/>
<circle class="u" cx="47.5" cy="27.7" r="2.4" fill="none" stroke="#a6a6a6"/>
<circle class="u" cx="55.7" cy="31.8" r="2.5" fill="none" stroke="#9e9e9e"/>
<circle class="u" cx="58.4" cy="18.2" r="3.2" fill="none" stroke="#a4a4a4"/>
<circle class="u" cx="64.1" cy="24.4" r="2.2" fill="none" stroke="#aaaaaa"/>
<circle class="u" cx="52.8" cy="16.1" r="3.7" fill="none" stroke="#adadad"/>
<circle class="u" cx="58.5" cy="17.3" r="2.5" fill="none" stroke="#b3b3b3"/>
<circle class="u" cx="61.5" cy="18.4" r="2.9" fill="none" stroke="#b3b3b3"/>
<circle class="u" cx="59.4" cy="26.0" r="3.4" fill="none" stroke="#adadad"/>
<circle class="u" cx="58.0" cy="31.7" r="3.3" fill="none" stroke="#b6b6b6"/>
<circle class="u" cx="49.4" cy="29.8" r="2.9" fill="none" stroke="#bababa"/>
<circle class="u" cx="47.8" cy="24.0" r="2.9" fill="none" stroke="#9f9f9f"/>
<circle class="u" cx="62.8" cy="27.2" r="3.8" fill="none" stroke="#b3b3b3"/>
<path d="M121.7 16.4a7.3 7.3 0 1 0 14.5 0a7.3 7.3 0 1 0 -14.5 0zM132.7 13.1a7.4 7.4 0 1 0 14.8 0a7.4 7.4 0 1 0 -14.8 0zM127.5 10.5a7.3 7.3 0 1 0 14.6 0a7.3 7.3 0 1 0 -14.6 0zM131.6 11.9a7.1 7.1 0 1 0 14.3 0a7.1 7.1 0 1 0 -14.3 0zM122.4 20.8a8.8 8.8 0 1 0 17.6 0a8.8 8.8 0 1 0 -17.6 0zM131.9 14.3a8.3 8.3 0 1 0 16.7 0a8.3 8.3 0 1 0 -16.7 0zM129.7 8.7a8.3 8.3 0 1 0 16.6 0a8.3 8.3 0 1 0 -16.6 0zM118.0 13.2a7.0 7.0 0 1 0 14.0 0a7.0 7.0 0 1 0 -14.0 0zM132.6 17.0a7.5 7.5 0 1 0 15.0 0a7.5 7.5 0 1 0 -15.0 0zM126.8 20.3a7.2 7.2 0 1 0 14.4 0a7.2 7.2 0 1 0 -14.4 0z" fill="none" stroke="#adadad" stroke-width="2.6"/>
<path d="M121.7 16.4a7.3 7.3 0 1 0 14.5 0a7.3 7.3 0 1 0 -14.5 0zM132.7 13.1a7.4 7.4 0 1 0 14.8 0a7.4 7.4 0 1 0 -14.8 0zM127.5 10.5a7.3 7.3 0 1 0 14.6 0a7.3 7.3 0 1 0 -14.6 0zM131.6 11.9a7.1 7.1 0 1 0 14.3 0a7.1 7.1 0 1 0 -14.3 0zM122.4 20.8a8.8 8.8 0 1 0 17.6 0a8.8 8.8 0 1 0 -17.6 0zM131.9 14.3a8.3 8.3 0 1 0 16.7 0a8.3 8.3 0 1 0 -16.7 0zM129.7 8.7a8.3 8.3 0 1 0 16.6 0a8.3 8.3 0 1 0 -16.6 0zM118.0 13.2a7.0 7.0 0 1 0 14.0 0a7.0 7.0 0 1 0 -14.0 0zM132.6 17.0a7.5 7.5 0 1 0 15.0 0a7.5 7.5 0 1 0 -15.0 0zM126.8 20.3a7.2 7.2 0 1 0 14.4 0a7.2 7.2 0 1 0 -14.4 0z" fill="#7d7d7d"/>
<path d="M121.7 16.4a7.3 7.3 0 1 0 14.5 0a7.3 7.3 0 1 0 -14.5 0zM132.7 13.1a7.4 7.4 0 1 0 14.8 0a7.4 7.4 0 1 0 -14.8 0zM127.5 10.5a7.3 7.3 0 1 0 14.6 0a7.3 7.3 0 1 0 -14.6 0zM131.6 11.9a7.1 7.1 0 1 0 14.3 0a7.1 7.1 0 1 0 -14.3 0zM122.4 20.8a8.8 8.8 0 1 0 17.6 0a8.8 8.8 0 1 0 -17.6 0zM131.9 14.3a8.3 8.3 0 1 0 16.7 0a8.3 8.3 0 1 0 -16.7 0zM129.7 8.7a8.3 8.3 0 1 0 16.6 0a8.3 8.3 0 1 0 -16.6 0zM118.0 13.2a7.0 7.0 0 1 0 14.0 0a7.0 7.0 0 1 0 -14.0 0zM132.6 17.0a7.5 7.5 0 1 0 15.0 0a7.5 7.5 0 1 0 -15.0 0zM126.8 20.3a7.2 7.2 0 1 0 14.4 0a7.2 7.2 0 1 0 -14.4 0z" fill="url(#pp)"/>
<circle class="u" cx="126.9" cy="20.4" r="3.0" fill="none" stroke="#b5b5b5"/>
<circle class="u" cx="124.8" cy="7.8" r="2.1" fill="none" stroke="#a6a6a6"/>
<circle class="u" cx="136.7" cy="23.6" r="3.5" fill="none" stroke="#bbbbbb"/>
<circle class="u" cx="135.7" cy="1.9" r="2.5" fill="none" stroke="#bdbdbd"/>
<circle class="u" cx="130.1" cy="10.4" r="2.0" fill="none" stroke="#9e9e9e"/>
<circle class="u" cx="132.2" cy="7.0" r="2.2" fill="none" stroke="#b5b5b5"/>
<circle class="u" cx="129.9" cy="17.0" r="2.3" fill="none" stroke="#b1b1b1"/>
<circle class="u" cx="135.6" cy="20.3" r="3.3" fill="none" stroke="#aeaeae"/>
<circle class="u" cx="127.8" cy="22.6" r="2.0" fill="none" stroke="#acacac"/>
<circle class="u" cx="126.7" cy="16.9" r="2.2" fill="none" stroke="#bfbfbf"/>
<circle class="u" cx="125.6" cy="13.6" r="3.1" fill="none" stroke="#bcbcbc"/>
<circle class="u" cx="133.8" cy="14.2" r="2.3" fill="none" stroke="#b8b8b8"/>
<circle class="u" cx="138.3" cy="23.9" r="3.2" fill="none" stroke="#b2b2b2"/>
<circle class="u" cx="134.5" cy="27.5" r="3.4" fill="none" stroke="#b1b1b1"/>
<circle class="u" cx="133.9" cy="25.1" r="2.7" fill="none" stroke="#b3b3b3"/>
<circle class="u" cx="127.2" cy="24.0" r="2.1" fill="none" stroke="#a9a9a9"/>
<circle class="u" cx="144.8" cy="11.4" r="2.6" fill="none" stroke="#bdbdbd"/>
<circle class="u" cx="127.0" cy="26.6" r="3.3" fill="none" stroke="#adadad"/>
<circle class="u" cx="132.0" cy="15.3" r="3.6" fill="none" stroke="#9f9f9f"/>
<circle class="u" cx="137.8" cy="1.5" r="3.0" fill="none" stroke="#a4a4a4"/>
<circle class="u" cx="141.3" cy="3.8" r="3.3" fill="none" stroke="#b0b0b0"/>
<circle class="u" cx="126.1" cy="19.7" r="2.4" fill="none" stroke="#b6b6b6"/>
<circle class="u" cx="126.4" cy="16.5" r="2.2" fill="none" stroke="#b6b6b6"/>
<circle class="u" cx="129.2" cy="23.4" r="2.6" fill="none" stroke="#bebebe"/>
<path d="M210.1 13.2a6.8 6.8 0 1 0 13.6 0a6.8 6.8 0 1 0 -13.6 0zM202.2 22.8a8.9 8.9 0 1 0 17.8 0a8.9 8.9 0 1 0 -17.8 0zM204.9 17.9a8.5 8.5 0 1 0 17.0 0a8.5 8.5 0 1 0 -17.0 0zM213.6 5.7a7.3 7.3 0 1 0 14.6 0a7.3 7.3 0 1 0 -14.6 0zM214.2 8.3a7.8 7.8 0 1 0 15.6 0a7.8 7.8 0 1 0 -15.6 0zM212.0 13.5a8.7 8.7 0 1 0 17.4 0a8.7 8.7 0 1 0 -17.4 0zM210.1 16.1a9.4 9.4 0 1 0 18.7 0a9.4 9.4 0 1 0 -18.7 0zM209.6 22.5a8.2 8.2 0 1 0 16.5 0a8.2 8.2 0 1 0 -16.5 0zM211.9 8.8a7.3 7.3 0 1 0 14.6 0a7.3 7.3 0 1 0 -14.6 0zM205.2 23.1a8.3 8.3 0 1 0 16.5 0a8.3 8.3 0 1 0 -16.5 0zM218.4 11.3a6.5 6.5 0 1 0 13.1 0a6.5 6.5 0 1 0 -13.1 0z" fill="none" stroke="#adadad" stroke-width="2.6"/>
<path d="M210.1 13.2a6.8 6.8 0 1 0 13.6 0a6.8 6.8 0 1 0 -13.6 0zM202.2 22.8a8.9 8.9 0 1 0 17.8 0a8.9 8.9 0 1 0 -17.8 0zM204.9 17.9a8.5 8.5 0 1 0 17.0 0a8.5 8.5 0 1 0 -17.0 0zM213.6 5.7a7.3 7.3 0 1 0 14.6 0a7.3 7.3 0 1 0 -14.6 0zM214.2 8.3a7.8 7.8 0 1 0 15.6 0a7.8 7.8 0 1 0 -15.6 0zM212.0 13.5a8.7 8.7 0 1 0 17.4 0a8.7 8.7 0 1 0 -17.4 0zM210.1 16.1a9.4 9.4 0 1 0 18.7 0a9.4 9.4 0 1 0 -18.7 0zM209.6 22.5a8.2 8.2 0 1 0 16.5 0a8.2 8.2 0 1 0 -16.5 0zM211.9 8.8a7.3 7.3 0 1 0 14.6 0a7.3 7.3 0 1 0 -14.6 0zM205.2 23.1a8.3 8.3 0 1 0 16.5 0a8.3 8.3 0 1 0 -16.5 0zM218.4 11.3a6.5 6.5 0 1 0 13.1 0a6.5 6.5 0 1 0 -13.1 0z" fill="#7d7d7d"/>
<path d="M210.1 13.2a6.8 6.8 0 1 0 13.6 0a6.8 6.8 0 1 0 -13.6 0zM202.2 22.8a8.9 8.9 0 1 0 17.8 0a8.9 8.9 0 1 0 -17.8 0zM204.9 17.9a8.5 8.5 0 1 0 17.0 0a8.5 8.5 0 1 0 -17.0 0zM213.6 5.7a7.3 7.3 0 1 0 14.6 0a7.3 7.3 0 1 0 -14.6 0zM214.2 8.3a7.8 7.8 0 1 0 15.6 0a7.8 7.8 0 1 0 -15.6 0zM212.0 13.5a8.7 8.7 0 1 0 17.4 0a8.7 8.7 0 1 0 -17.4 0zM210.1 16.1a9.4 9.4 0 1 0 18.7 0a9.4 9.4 0 1 0 -18.7 0zM209.6 22.5a8.2 8.2 0 1 0 16.5 0a8.2 8.2 0 1 0 -16.5 0zM211.9 8.8a7.3 7.3 0 1 0 14.6 0a7.3 7.3 0 1 0 -14.6 0zM205.2 23.1a8.3 8.3 0 1 0 16.5 0a8.3 8.3 0 1 0 -16.5 0zM218.4 11.3a6.5 6.5 0 1 0 13.1 0a6.5 6.5 0 1 0 -13.1 0z" fill="url(#pp)"/>
<circle class="u" cx="211.2" cy="12.4" r="2.1" fill="none" stroke="#a0a0a0"/>
<circle class="u" cx="224.8" cy="4.0" r="3.5" fill="none" stroke="#aaaaaa"/>
<circle class="u" cx="205.8" cy="5.1" r="2.7" fill="none" stroke="#b3b3b3"/>
<circle class="u" cx="216.6" cy="18.2" r="2.5" fill="none" stroke="#bebebe"/>
<circle class="u" cx="202.5" cy="8.2" r="2.8" fill="none" stroke="#a8a8a8"/>
<circle class="u" cx="219.0" cy="0.6" r="2.0" fill="none" stroke="#b6b6b6"/>
<circle class="u" cx="220.1" cy="16.8" r="3.6" fill="none" stroke="#9f9f9f"/>
<circle class="u" cx="216.8" cy="29.0" r="2.8" fill="none" stroke="#a2a2a2"/>
<circle class="u" cx="219.5" cy="20.4" r="3.3" fill="none" stroke="#a1a1a1"/>
<circle class="u" cx="223.7" cy="9.0" r="3.7" fill="none" stroke="#bfbfbf"/>
<circle class="u" cx="213.8" cy="21.3" r="2.9" fill="none" stroke="#a1a1a1"/>
<circle class="u" cx="214.1" cy="11.5" r="2.0" fill="none" stroke="#c2c2c2"/>
<circle class="u" cx="212.5" cy="25.2" r="2.8" fill="none" stroke="#a9a9a9"/>
<circle class="u" cx="229.2" cy="19.6" r="3.7" fill="none" stroke="#c1c1c1"/>
<circle class="u" cx="221.2" cy="18.5" r="3.1" fill="none" stroke="#c2c2c2"/>
<circle class="u" cx="203.7" cy="10.6" r="3.2" fill="none" stroke="#a7a7a7"/>
<circle class="u" cx="207.7" cy="11.8" r="2.4" fill="none" stroke="#a1a1a1"/>
<circle class="u" cx="213.0" cy="28.7" r="2.8" fill="none" stroke="#b6b6b6"/>
<circle class="u" cx="206.7" cy="2.5" r="2.7" fill="none" stroke="#a9a9a9"/>
<circle class="u" cx="211.9" cy="21.5" r="3.5" fill="none" stroke="#bfbfbf"/>
<circle class="u" cx="213.0" cy="22.3" r="3.0" fill="none" stroke="#b3b3b3"/>
<circle class="u" cx="209.7" cy="9.7" r="2.0" fill="none" stroke="#a7a7a7"/>
<circle class="u" cx="225.9" cy="18.9" r="2.1" fill="none" stroke="#a0a0a0"/>
<circle class="u" cx="210.5" cy="7.8" r="3.4" fill="none" stroke="#b0b0b0"/>
<circle class="u" cx="219.7" cy="9.5" r="2.9" fill="none" stroke="#bbbbbb"/>
<circle class="u" cx="228.9" cy="20.8" r="2.3" fill="none" stroke="#bababa"/>
<circle class="u" cx="229.5" cy="12.7" r="2.6" fill="none" stroke="#a1a1a1"/>
<circle class="u" cx="201.4" cy="12.7" r="2.5" fill="none" stroke="#bfbfbf"/>
<path d="M235.9 49.8a5.2 5.2 0 1 0 10.4 0a5.2 5.2 0 1 0 -10.4 0zM225.2 50.9a7.6 7.6 0 1 0 15.2 0a7.6 7.6 0 1 0 -15.2 0zM235.1 39.2a7.4 7.4 0 1 0 14.8 0a7.4 7.4 0 1 0 -14.8 0zM228.2 40.1a6.5 6.5 0 1 0 12.9 0a6.5 6.5 0 1 0 -12.9 0zM232.8 49.5a7.2 7.2 0 1 0 14.4 0a7.2 7.2 0 1 0 -14.4 0zM227.9 45.6a8.1 8.1 0 1 0 16.2 0a8.1 8.1 0 1 0 -16.2 0zM231.5 37.6a6.8 6.8 0 1 0 13.6 0a6.8 6.8 0 1 0 -13.6 0zM233.1 38.9a6.3 6.3 0 1 0 12.7 0a6.3 6.3 0 1 0 -12.7 0zM228.5 47.2a5.2 5.2 0 1 0 10.4 0a5.2 5.2 0 1 0 -10.4 0zM225.8 39.1a6.9 6.9 0 1 0 13.8 0a6.9 6.9 0 1 0 -13.8 0z" fill="none" stroke="#adadad" stroke-width="2.6"/>
<path d="M235.9 49.8a5.2 5.2 0 1 0 10.4 0a5.2 5.2 0 1 0 -10.4 0zM225.2 50.9a7.6 7.6 0 1 0 15.2 0a7.6 7.6 0 1 0 -15.2 0zM235.1 39.2a7.4 7.4 0 1 0 14.8 0a7.4 7.4 0 1 0 -14.8 0zM228.2 40.1a6.5 6.5 0 1 0 12.9 0a6.5 6.5 0 1 0 -12.9 0zM232.8 49.5a7.2 7.2 0 1 0 14.4 0a7.2 7.2 0 1 0 -14.4 0zM227.9 45.6a8.1 8.1 0 1 0 16.2 0a8.1 8.1 0 1 0 -16.2 0zM231.5 37.6a6.8 6.8 0 1 0 13.6 0a6.8 6.8 0 1 0 -13.6 0zM233.1 38.9a6.3 6.3 0 1 0 12.7 0a6.3 6.3 0 1 0 -12.7 0zM228.5 47.2a5.2 5.2 0 1 0 10.4 0a5.2 5.2 0 1 0 -10.4 0zM225.8 39.1a6.9 6.9 0 1 0 13.8 0a6.9 6.9 0 1 0 -13.8 0z" fill="#7d7d7d"/>
<path d="M235.9 49.8a5.2 5.2 0 1 0 10.4 0a5.2 5.2 0 1 0 -10.4 0zM225.2 50.9a7.6 7.6 0 1 0 15.2 0a7.6 7.6 0 1 0 -15.2 0zM235.1 39.2a7.4 7.4 0 1 0 14.8 0a7.4 7.4 0 1 0 -14.8 0zM228.2 40.1a6.5 6.5 0 1 0 12.9 0a6.5 6.5 0 1 0 -12.9 0zM232.8 49.5a7.2 7.2 0 1 0 14.4 0a7.2 7.2 0 1 0 -14.4 0zM227.9 45.6a8.1 8.1 0 1 0 16.2 0a8.1 8.1 0 1 0 -16.2 0zM231.5 37.6a6.8 6.8 0 1 0 13.6 0a6.8 6.8 0 1 0 -13.6 0zM233.1 38.9a6.3 6.3 0 1 0 12.7 0a6.3 6.3 0 1 0 -12.7 0zM228.5 47.2a5.2 5.2 0 1 0 10.4 0a5.2 5.2 0 1 0 -10.4 0zM225.8 39.1a6.9 6.9 0 1 0 13.8 0a6.9 6.9 0 1 0 -13.8 0z" fill="url(#pp)"/>
<circle class="u" cx="243.1" cy="46.4" r="2.2" fill="none" stroke="#a2a2a2"/>
<circle class="u" cx="235.4" cy="55.1" r="2.7" fill="none" stroke="#acacac"/>
<circle class="u" cx="231.3" cy="39.5" r="2.0" fill="none" stroke="#b1b1b1"/>
<circle class="u" cx="225.7" cy="43.4" r="2.8" fill="none" stroke="#b7b7b7"/>
<circle class="u" cx="235.3" cy="37.3" r="2.9" fill="none" stroke="#afafaf"/>
<circle class="u" cx="237.3" cy="51.6" r="3.0" fill="none" stroke="#bfbfbf"/>
<circle class="u" cx="241.9" cy="40.2" r="3.2" fill="none" stroke="#9f9f9f"/>
<circle class="u" cx="244.3" cy="47.5" r="3.6" fill="none" stroke="#a3a3a3"/>
<circle class="u" cx="237.2" cy="31.5" r="2.6" fill="none" stroke="#b7b7b7"/>
<circle class="u" cx="240.6" cy="37.1" r="3.3" fill="none" stroke="#b9b9b9"/>
<circle class="u" cx="226.2" cy="36.8" r="3.6" fill="none" stroke="#c1c1c1"/>
<circle class="u" cx="231.2" cy="41.2" r="2.5" fill="none" stroke="#a6a6a6"/>
<circle class="u" cx="225.9" cy="38.8" r="2.1" fill="none" stroke="#b7b7b7"/>
<circle class="u" cx="234.5" cy="36.1" r="2.9" fill="none" stroke="#a4a4a4"/>
<circle class="u" cx="235.7" cy="40.9" r="3.8" fill="none" stroke="#bbbbbb"/>
<circle class="u" cx="231.4" cy="38.7" r="3.6" fill="none" stroke="#c1c1c1"/>
<circle class="u" cx="243.3" cy="52.1" r="3.5" fill="none" stroke="#b6b6b6"/>
<circle class="u" cx="233.4" cy="35.3" r="3.7" fill="none" stroke="#c1c1c1"/>
<circle class="u" cx="227.5" cy="51.2" r="2.8" fill="none" stroke="#a4a4a4"/>
<circle class="u" cx="233.9" cy="47.5" r="3.6" fill="none" stroke="#c1c1c1"/>
<path d="M119.0 65.2a8.7 8.7 0 1 0 17.4 0a8.7 8.7 0 1 0 -17.4 0zM117.8 63.3a8.0 8.0 0 1 0 16.1 0a8.0 8.0 0 1 0 -16.1 0zM113.3 58.3a7.8 7.8 0 1 0 15.6 0a7.8 7.8 0 1 0 -15.6 0zM109.9 59.6a9.6 9.6 0 1 0 19.2 0a9.6 9.6 0 1 0 -19.2 0zM104.9 52.5a7.9 7.9 0 1 0 15.7 0a7.9 7.9 0 1 0 -15.7 0zM111.1 67.4a8.1 8.1 0 1 0 16.3 0a8.1 8.1 0 1 0 -16.3 0zM106.3 56.0a9.9 9.9 0 1 0 19.7 0a9.9 9.9 0 1 0 -19.7 0zM112.7 48.9a11.1 11.1 0 1 0 22.1 0a11.1 11.1 0 1 0 -22.1 0zM102.7 56.7a10.6 10.6 0 1 0 21.2 0a10.6 10.6 0 1 0 -21.2 0zM113.6 50.3a8.6 8.6 0 1 0 17.2 0a8.6 8.6 0 1 0 -17.2 0zM109.9 62.7a10.4 10.4 0 1 0 20.7 0a10.4 10.4 0 1 0 -20.7 0zM119.3 65.8a9.3 9.3 0 1 0 18.5 0a9.3 9.3 0 1 0 -18.5 0zM120.0 56.8a11.1 11.1 0 1 0 22.1 0a11.1 11.1 0 1 0 -22.1 0z" fill="none" stroke="#adadad" stroke-width="2.6"/>
<path d="M119.0 65.2a8.7 8.7 0 1 0 17.4 0a8.7 8.7 0 1 0 -17.4 0zM117.8 63.3a8.0 8.0 0 1 0 16.1 0a8.0 8.0 0 1 0 -16.1 0zM113.3 58.3a7.8 7.8 0 1 0 15.6 0a7.8 7.8 0 1 0 -15.6 0zM109.9 59.6a9.6 9.6 0 1 0 19.2 0a9.6 9.6 0 1 0 -19.2 0zM104.9 52.5a7.9 7.9 0 1 0 15.7 0a7.9 7.9 0 1 0 -15.7 0zM111.1 67.4a8.1 8.1 0 1 0 16.3 0a8.1 8.1 0 1 0 -16.3 0zM106.3 56.0a9.9 9.9 0 1 0 19.7 0a9.9 9.9 0 1 0 -19.7 0zM112.7 48.9a11.1 11.1 0 1 0 22.1 0a11.1 11.1 0 1 0 -22.1 0zM102.7 56.7a10.6 10.6 0 1 0 21.2 0a10.6 10.6 0 1 0 -21.2 0zM113.6 50.3a8.6 8.6 0 1 0 17.2 0a8.6 8.6 0 1 0 -17.2 0zM109.9 62.7a10.4 10.4 0 1 0 20.7 0a10.4 10.4 0 1 0 -20.7 0zM119.3 65.8a9.3 9.3 0 1 0 18.5 0a9.3 9.3 0 1 0 -18.5 0zM120.0 56.8a11.1 11.1 0 1 0 22.1 0a11.1 11.1 0 1 0 -22.1 0z" fill="#7d7d7d"/>
<path d="M119.0 65.2a8.7 8.7 0 1 0 17.4 0a8.7 8.7 0 1 0 -17.4 0zM117.8 63.3a8.0 8.0 0 1 0 16.1 0a8.0 8.0 0 1 0 -16.1 0zM113.3 58.3a7.8 7.8 0 1 0 15.6 0a7.8 7.8 0 1 0 -15.6 0zM109.9 59.6a9.6 9.6 0 1 0 19.2 0a9.6 9.6 0 1 0 -19.2 0zM104.9 52.5a7.9 7.9 0 1 0 15.7 0a7.9 7.9 0 1 0 -15.7 0zM111.1 67.4a8.1 8.1 0 1 0 16.3 0a8.1 8.1 0 1 0 -16.3 0zM106.3 56.0a9.9 9.9 0 1 0 19.7 0a9.9 9.9 0 1 0 -19.7 0zM112.7 48.9a11.1 11.1 0 1 0 22.1 0a11.1 11.1 0 1 0 -22.1 0zM102.7 56.7a10.6 10.6 0 1 0 21.2 0a10.6 10.6 0 1 0 -21.2 0zM113.6 50.3a8.6 8.6 0 1 0 17.2 0a8.6 8.6 0 1 0 -17.2 0zM109.9 62.7a10.4 10.4 0 1 0 20.7 0a10.4 10.4 0 1 0 -20.7 0zM119.3 65.8a9.3 9.3 0 1 0 18.5 0a9.3 9.3 0 1 0 -18.5 0zM120.0 56.8a11.1 11.1 0 1 0 22.1 0a11.1 11.1 0 1 0 -22.1 0z" fill="url(#pp)"/>
<circle class="u" cx="129.2" cy="68.4" r="3.0" fill="none" stroke="#a9a9a9"/>
<circle class="u" cx="110.7" cy="58.8" r="3.0" fill="none" stroke="#9e9e9e"/>
<circle class="u" cx="110.2" cy="63.2" r="2.5" fill="none" stroke="#acacac"/>
<circle class="u" cx="124.1" cy="44.9" r="2.9" fill="none" stroke="#b5b5b5"/>
<circle class="u" cx="115.5" cy="64.5" r="2.0" fill="none" stroke="#a8a8a8"/>
<circle class="u" cx="107.7" cy="49.5" r="3.5" fill="none" stroke="#b0b0b0"/>
<circle class="u" cx="132.9" cy="58.0" r="3.5" fill="none" stroke="#adadad"/>
<circle class="u" cx="120.5" cy="41.7" r="2.5" fill="none" stroke="#a4a4a4"/>
<circle class="u" cx="111.8" cy="50.3" r="2.6" fill="none" stroke="#9e9e9e"/>
<circle class="u" cx="112.4" cy="66.3" r="2.7" fill="none" stroke="#bdbdbd"/>
<circle class="u" cx="108.2" cy="51.4" r="3.6" fill="none" stroke="#b9b9b9"/>
<circle class="u" cx="106.0" cy="59.7" r="3.2" fill="none" stroke="#b6b6b6"/>
<circle class="u" cx="113.5" cy="50.9" r="3.1" fill="none" stroke="#b5b5b5"/>
<circle class="u" cx="135.4" cy="53.1" r="3.5" fill="none" stroke="#bababa"/>
<circle class="u" cx="126.5" cy="46.5" r="2.6" fill="none" stroke="#a7a7a7"/>
<circle class="u" cx="116.9" cy="43.2" r="3.0" fill="none" stroke="#a3a3a3"/>
<circle class="u" cx="127.2" cy="48.5" r="2.8" fill="none" stroke="#9f9f9f"/>
<circle class="u" cx="106.1" cy="58.0" r="2.8" fill="none" stroke="#ababab"/>
<circle class="u" cx="119.8" cy="57.0" r="2.9" fill="none" stroke="#c1c1c1"/>
<circle class="u" cx="117.1" cy="48.7" r="3.2" fill="none" stroke="#b4b4b4"/>
<circle class="u" cx="123.2" cy="66.7" r="3.6" fill="none" stroke="#a7a7a7"/>
<circle class="u" cx="135.3" cy="66.2" r="2.9" fill="none" stroke="#ababab"/>
<circle class="u" cx="106.2" cy="57.9" r="2.3" fill="none" stroke="#b6b6b6"/>
<circle class="u" cx="117.5" cy="43.7" r="2.5" fill="none" stroke="#b4b4b4"/>
<circle class="u" cx="122.6" cy="72.0" r="2.3" fill="none" stroke="#bbbbbb"/>
<circle class="u" cx="127.8" cy="51.6" r="2.4" fill="none" stroke="#c1c1c1"/>
<circle class="u" cx="116.8" cy="43.6" r="2.1" fill="none" stroke="#bfbfbf"/>
<circle class="u" cx="114.1" cy="52.2" r="2.8" fill="none" stroke="#bababa"/>
<circle class="u" cx="122.8" cy="51.6" r="3.1" fill="none" stroke="#a4a4a4"/>
<circle class="u" cx="132.6" cy="57.0" r="3.6" fill="none" stroke="#b8b8b8"/>
<circle class="u" cx="114.1" cy="53.5" r="2.9" fill="none" stroke="#a3a3a3"/>
<circle class="u" cx="130.7" cy="70.3" r="2.6" fill="none" stroke="#b9b9b9"/>
<circle class="u" cx="122.0" cy="73.8" r="3.3" fill="none" stroke="#a9a9a9"/>
<circle class="u" cx="129.8" cy="65.8" r="2.9" fill="none" stroke="#a1a1a1"/>
<circle class="u" cx="122.7" cy="62.8" r="3.1" fill="none" stroke="#bebebe"/>
<circle class="u" cx="121.8" cy="62.2" r="3.3" fill="none" stroke="#bcbcbc"/>
<circle class="u" cx="134.5" cy="55.9" r="2.6" fill="none" stroke="#bdbdbd"/>
<path d="M147.4 62.9a4.4 4.4 0 1 0 8.9 0a4.4 4.4 0 1 0 -8.9 0zM138.4 61.9a5.1 5.1 0 1 0 10.3 0a5.1 5.1 0 1 0 -10.3 0zM142.9 61.9a6.3 6.3 0 1 0 12.5 0a6.3 6.3 0 1 0 -12.5 0zM137.6 60.2a4.7 4.7 0 1 0 9.5 0a4.7 4.7 0 1 0 -9.5 0zM141.0 55.1a5.7 5.7 0 1 0 11.4 0a5.7 5.7 0 1 0 -11.4 0zM149.1 55.3a4.3 4.3 0 1 0 8.6 0a4.3 4.3 0 1 0 -8.6 0zM144.4 52.8a5.0 5.0 0 1 0 10.0 0a5.0 5.0 0 1 0 -10.0 0zM137.1 62.6a6.5 6.5 0 1 0 13.0 0a6.5 6.5 0 1 0 -13.0 0z" fill="none" stroke="#adadad" stroke-width="2.6"/>
<path d="M147.4 62.9a4.4 4.4 0 1 0 8.9 0a4.4 4.4 0 1 0 -8.9 0zM138.4 61.9a5.1 5.1 0 1 0 10.3 0a5.1 5.1 0 1 0 -10.3 0zM142.9 61.9a6.3 6.3 0 1 0 12.5 0a6.3 6.3 0 1 0 -12.5 0zM137.6 60.2a4.7 4.7 0 1 0 9.5 0a4.7 4.7 0 1 0 -9.5 0zM141.0 55.1a5.7 5.7 0 1 0 11.4 0a5.7 5.7 0 1 0 -11.4 0zM149.1 55.3a4.3 4.3 0 1 0 8.6 0a4.3 4.3 0 1 0 -8.6 0zM144.4 52.8a5.0 5.0 0 1 0 10.0 0a5.0 5.0 0 1 0 -10.0 0zM137.1 62.6a6.5 6.5 0 1 0 13.0 0a6.5 6.5 0 1 0 -13.0 0z" fill="#7d7d7d"/>
<path d="M147.4 62.9a4.4 4.4 0 1 0 8.9 0a4.4 4.4 0 1 0 -8.9 0zM138.4 61.9a5.1 5.1 0 1 0 10.3 0a5.1 5.1 0 1 0 -10.3 0zM142.9 61.9a6.3 6.3 0 1 0 12.5 0a6.3 6.3 0 1 0 -12.5 0zM137.6 60.2a4.7 4.7 0 1 0 9.5 0a4.7 4.7 0 1 0 -9.5 0zM141.0 55.1a5.7 5.7 0 1 0 11.4 0a5.7 5.7 0 1 0 -11.4 0zM149.1 55.3a4.3 4.3 0 1 0 8.6 0a4.3 4.3 0 1 0 -8.6 0zM144.4 52.8a5.0 5.0 0 1 0 10.0 0a5.0 5.0 0 1 0 -10.0 0zM137.1 62.6a6.5 6.5 0 1 0 13.0 0a6.5 6.5 0 1 0 -13.0 0z" fill="url(#pp)"/>
<circle class="u" cx="139.6" cy="64.8" r="3.4" fill="none" stroke="#a3a3a3"/>
<circle class="u" cx="148.6" cy="58.3" r="2.3" fill="none" stroke="#b6b6b6"/>
<circle class="u" cx="153.6" cy="61.3" r="2.2" fill="none" stroke="#afafaf"/>
<circle class="u" cx="152.9" cy="50.6" r="2.1" fill="none" stroke="#a0a0a0"/>
<circle class="u" cx="148.7" cy="57.2" r="2.5" fill="none" stroke="#a2a2a2"/>
<circle class="u" cx="149.0" cy="59.9" r="3.1" fill="none" stroke="#b9b9b9"/>
<circle class="u" cx="143.8" cy="50.1" r="3.2" fill="none" stroke="#acacac"/>
<circle class="u" cx="140.5" cy="51.4" r="3.2" fill="none" stroke="#a6a6a6"/>
<circle class="u" cx="156.9" cy="62.7" r="3.1" fill="none" stroke="#aaaaaa"/>
<circle class="u" cx="141.3" cy="54.2" r="2.9" fill="none" stroke="#a0a0a0"/>
<circle class="u" cx="143.4" cy="64.4" r="2.4" fill="none" stroke="#bebebe"/>
<circle class="u" cx="139.9" cy="62.9" r="3.3" fill="none" stroke="#b9b9b9"/>
<circle class="u" cx="145.9" cy="50.1" r="2.5" fill="none" stroke="#c2c2c2"/>
<path d="M96.9 76.9a6.3 6.3 0 1 0 12.7 0a6.3 6.3 0 1 0 -12.7 0zM95.9 70.1a4.4 4.4 0 1 0 8.8 0a4.4 4.4 0 1 0 -8.8 0zM96.1 67.0a5.1 5.1 0 1 0 10.2 0a5.1 5.1 0 1 0 -10.2 0zM95.2 71.3a5.5 5.5 0 1 0 11.1 0a5.5 5.5 0 1 0 -11.1 0zM91.8 72.3a5.2 5.2 0 1 0 10.4 0a5.2 5.2 0 1 0 -10.4 0zM93.4 65.1a4.3 4.3 0 1 0 8.5 0a4.3 4.3 0 1 0 -8.5 0zM91.1 71.1a6.2 6.2 0 1 0 12.4 0a6.2 6.2 0 1 0 -12.4 0zM95.3 72.1a5.2 5.2 0 1 0 10.3 0a5.2 5.2 0 1 0 -10.3 0z" fill="none" stroke="#adadad" stroke-width="2.6"/>
<path d="M96.9 76.9a6.3 6.3 0 1 0 12.7 0a6.3 6.3 0 1 0 -12.7 0zM95.9 70.1a4.4 4.4 0 1 0 8.8 0a4.4 4.4 0 1 0 -8.8 0zM96.1 67.0a5.1 5.1 0 1 0 10.2 0a5.1 5.1 0 1 0 -10.2 0zM95.2 71.3a5.5 5.5 0 1 0 11.1 0a5.5 5.5 0 1 0 -11.1 0zM91.8 72.3a5.2 5.2 0 1 0 10.4 0a5.2 5.2 0 1 0 -10.4 0zM93.4 65.1a4.3 4.3 0 1 0 8.5 0a4.3 4.3 0 1 0 -8.5 0zM91.1 71.1a6.2 6.2 0 1 0 12.4 0a6.2 6.2 0 1 0 -12.4 0zM95.3 72.1a5.2 5.2 0 1 0 10.3 0a5.2 5.2 0 1 0 -10.3 0z" fill="#7d7d7d"/>
<path d="M96.9 76.9a6.3 6.3 0 1 0 12.7 0a6.3 6.3 0 1 0 -12.7 0zM95.9 70.1a4.4 4.4 0 1 0 8.8 0a4.4 4.4 0 1 0 -8.8 0zM96.1 67.0a5.1 5.1 0 1 0 10.2 0a5.1 5.1 0 1 0 -10.2 0zM95.2 71.3a5.5 5.5 0 1 0 11.1 0a5.5 5.5 0 1 0 -11.1 0zM91.8 72.3a5.2 5.2 0 1 0 10.4 0a5.2 5.2 0 1 0 -10.4 0zM93.4 65.1a4.3 4.3 0 1 0 8.5 0a4.3 4.3 0 1 0 -8.5 0zM91.1 71.1a6.2 6.2 0 1 0 12.4 0a6.2 6.2 0 1 0 -12.4 0zM95.3 72.1a5.2 5.2 0 1 0 10.3 0a5.2 5.2 0 1 0 -10.3 0z" fill="url(#pp)"/>
<circle class="u" cx="98.7" cy="65.6" r="2.2" fill="none" stroke="#bbbbbb"/>
<circle class="u" cx="102.8" cy="62.3" r="2.5" fill="none" stroke="#adadad"/>
<circle class="u" cx="99.6" cy="79.2" r="2.6" fill="none" stroke="#aaaaaa"/>
<circle class="u" cx="101.5" cy="61.4" r="3.1" fill="none" stroke="#a1a1a1"/>
<circle class="u" cx="95.3" cy="65.7" r="3.8" fill="none" stroke="#b8b8b8"/>
<circle class="u" cx="103.8" cy="63.9" r="3.0" fill="none" stroke="#bfbfbf"/>
<circle class="u" cx="102.2" cy="66.5" r="2.3" fill="none" stroke="#ababab"/>
<circle class="u" cx="96.1" cy="71.0" r="2.6" fill="none" stroke="#b3b3b3"/>
<circle class="u" cx="108.5" cy="74.0" r="3.2" fill="none" stroke="#a9a9a9"/>
<circle class="u" cx="97.5" cy="77.4" r="2.6" fill="none" stroke="#b9b9b9"/>
<circle class="u" cx="91.8" cy="71.4" r="2.3" fill="none" stroke="#bfbfbf"/>
<circle class="u" cx="96.6" cy="76.8" r="2.1" fill="none" stroke="#c2c2c2"/>
<circle class="u" cx="89.4" cy="72.7" r="3.7" fill="none" stroke="#c1c1c1"/>
<path d="M54.8 75.5a7.2 7.2 0 1 0 14.5 0a7.2 7.2 0 1 0 -14.5 0zM53.8 79.6a6.1 6.1 0 1 0 12.2 0a6.1 6.1 0 1 0 -12.2 0zM45.3 78.8a6.8 6.8 0 1 0 13.7 0a6.8 6.8 0 1 0 -13.7 0zM51.4 75.9a5.7 5.7 0 1 0 11.3 0a5.7 5.7 0 1 0 -11.3 0zM59.0 80.1a5.8 5.8 0 1 0 11.6 0a5.8 5.8 0 1 0 -11.6 0zM45.4 84.0a6.1 6.1 0 1 0 12.3 0a6.1 6.1 0 1 0 -12.3 0zM53.9 84.9a6.6 6.6 0 1 0 13.2 0a6.6 6.6 0 1 0 -13.2 0zM47.0 79.5a5.2 5.2 0 1 0 10.3 0a5.2 5.2 0 1 0 -10.3 0zM48.6 85.8a4.8 4.8 0 1 0 9.6 0a4.8 4.8 0 1 0 -9.6 0z" fill="none" stroke="#adadad" stroke-width="2.6"/>
<path d="M54.8 75.5a7.2 7.2 0 1 0 14.5 0a7.2 7.2 0 1 0 -14.5 0zM53.8 79.6a6.1 6.1 0 1 0 12.2 0a6.1 6.1 0 1 0 -12.2 0zM45.3 78.8a6.8 6.8 0 1 0 13.7 0a6.8 6.8 0 1 0 -13.7 0zM51.4 75.9a5.7 5.7 0 1 0 11.3 0a5.7 5.7 0 1 0 -11.3 0zM59.0 80.1a5.8 5.8 0 1 0 11.6 0a5.8 5.8 0 1 0 -11.6 0zM45.4 84.0a6.1 6.1 0 1 0 12.3 0a6.1 6.1 0 1 0 -12.3 0zM53.9 84.9a6.6 6.6 0 1 0 13.2 0a6.6 6.6 0 1 0 -13.2 0zM47.0 79.5a5.2 5.2 0 1 0 10.3 0a5.2 5.2 0 1 0 -10.3 0zM48.6 85.8a4.8 4.8 0 1 0 9.6 0a4.8 4.8 0 1 0 -9.6 0z" fill="#7d7d7d"/>
<path d="M54.8 75.5a7.2 7.2 0 1 0 14.5 0a7.2 7.2 0 1 0 -14.5 0zM53.8 79.6a6.1 6.1 0 1 0 12.2 0a6.1 6.1 0 1 0 -12.2 0zM45.3 78.8a6.8 6.8 0 1 0 13.7 0a6.8 6.8 0 1 0 -13.7 0zM51.4 75.9a5.7 5.7 0 1 0 11.3 0a5.7 5.7 0 1 0 -11.3 0zM59.0 80.1a5.8 5.8 0 1 0 11.6 0a5.8 5.8 0 1 0 -11.6 0zM45.4 84.0a6.1 6.1 0 1 0 12.3 0a6.1 6.1 0 1 0 -12.3 0zM53.9 84.9a6.6 6.6 0 1 0 13.2 0a6.6 6.6 0 1 0 -13.2 0zM47.0 79.5a5.2 5.2 0 1 0 10.3 0a5.2 5.2 0 1 0 -10.3 0zM48.6 85.8a4.8 4.8 0 1 0 9.6 0a4.8 4.8 0 1 0 -9.6 0z" fill="url(#pp)"/>
<circle class="u" cx="66.0" cy="87.3" r="2.5" fill="none" stroke="#a1a1a1"/>
<circle class="u" cx="58.3" cy="91.5" r="2.9" fill="none" stroke="#a0a0a0"/>
<circle class="u" cx="68.6" cy="87.0" r="3.2" fill="none" stroke="#a4a4a4"/>
<circle class="u" cx="60.1" cy="81.0" r="2.7" fill="none" stroke="#bdbdbd"/>
<circle class="u" cx="57.5" cy="76.3" r="3.6" fill="none" stroke="#b4b4b4"/>
<circle class="u" cx="66.3" cy="74.1" r="2.8" fill="none" stroke="#b6b6b6"/>
<circle class="u" cx="48.1" cy="79.2" r="3.4" fill="none" stroke="#b8b8b8"/>
<circle class="u" cx="63.6" cy="71.6" r="2.5" fill="none" stroke="#a5a5a5"/>
<circle class="u" cx="58.8" cy="72.1" r="2.9" fill="none" stroke="#b0b0b0"/>
<circle class="u" cx="50.0" cy="88.5" r="3.4" fill="none" stroke="#b3b3b3"/>
<circle class="u" cx="69.4" cy="85.0" r="2.8" fill="none" stroke="#a5a5a5"/>
<circle class="u" cx="56.1" cy="91.5" r="2.0" fill="none" stroke="#a2a2a2"/>
<circle class="u" cx="55.4" cy="92.7" r="3.3" fill="none" stroke="#c1c1c1"/>
<circle class="u" cx="50.5" cy="79.9" r="3.0" fill="none" stroke="#b1b1b1"/>
<circle class="u" cx="48.8" cy="79.5" r="3.7" fill="none" stroke="#adadad"/>
<circle class="u" cx="54.6" cy="77.6" r="2.5" fill="none" stroke="#b0b0b0"/>
<path d="M3.2 77.7a3.7 3.7 0 1 0 7.4 0a3.7 3.7 0 1 0 -7.4 0zM7.2 81.8a3.7 3.7 0 1 0 7.4 0a3.7 3.7 0 1 0 -7.4 0zM6.2 76.3a2.8 2.8 0 1 0 5.7 0a2.8 2.8 0 1 0 -5.7 0zM2.7 81.4a3.6 3.6 0 1 0 7.2 0a3.6 3.6 0 1 0 -7.2 0z" fill="none" stroke="#adadad" stroke-width="2.6"/>
<path d="M3.2 77.7a3.7 3.7 0 1 0 7.4 0a3.7 3.7 0 1 0 -7.4 0zM7.2 81.8a3.7 3.7 0 1 0 7.4 0a3.7 3.7 0 1 0 -7.4 0zM6.2 76.3a2.8 2.8 0 1 0 5.7 0a2.8 2.8 0 1 0 -5.7 0zM2.7 81.4a3.6 3.6 0 1 0 7.2 0a3.6 3.6 0 1 0 -7.2 0z" fill="#818181"/>
<path d="M3.2 77.7a3.7 3.7 0 1 0 7.4 0a3.7 3.7 0 1 0 -7.4 0zM7.2 81.8a3.7 3.7 0 1 0 7.4 0a3.7 3.7 0 1 0 -7.4 0zM6.2 76.3a2.8 2.8 0 1 0 5.7 0a2.8 2.8 0 1 0 -5.7 0zM2.7 81.4a3.6 3.6 0 1 0 7.2 0a3.6 3.6 0 1 0 -7.2 0z" fill="url(#pp)"/>
<circle class="u" cx="6.6" cy="74.4" r="3.7" fill="none" stroke="#bdbdbd"/>
<circle class="u" cx="6.4" cy="81.8" r="3.4" fill="none" stroke="#ababab"/>
<circle class="u" cx="9.3" cy="75.2" r="2.6" fill="none" stroke="#aeaeae"/>
<circle class="u" cx="11.9" cy="81.5" r="2.7" fill="none" stroke="#9e9e9e"/>
<path d="M85.9 122.9a9.9 9.9 0 1 0 19.8 0a9.9 9.9 0 1 0 -19.8 0zM77.8 114.9a10.4 10.4 0 1 0 20.9 0a10.4 10.4 0 1 0 -20.9 0zM83.4 125.8a9.4 9.4 0 1 0 18.8 0a9.4 9.4 0 1 0 -18.8 0zM81.0 111.3a9.6 9.6 0 1 0 19.1 0a9.6 9.6 0 1 0 -19.1 0zM75.6 118.8a8.4 8.4 0 1 0 16.9 0a8.4 8.4 0 1 0 -16.9 0zM95.3 116.4a6.9 6.9 0 1 0 13.8 0a6.9 6.9 0 1 0 -13.8 0zM93.1 125.8a7.4 7.4 0 1 0 14.8 0a7.4 7.4 0 1 0 -14.8 0zM90.2 118.9a8.4 8.4 0 1 0 16.8 0a8.4 8.4 0 1 0 -16.8 0zM90.4 116.0a9.4 9.4 0 1 0 18.7 0a9.4 9.4 0 1 0 -18.7 0zM85.9 115.2a8.9 8.9 0 1 0 17.8 0a8.9 8.9 0 1 0 -17.8 0zM92.6 117.8a8.6 8.6 0 1 0 17.2 0a8.6 8.6 0 1 0 -17.2 0zM76.8 126.7a10.3 10.3 0 1 0 20.6 0a10.3 10.3 0 1 0 -20.6 0z" fill="none" stroke="#adadad" stroke-width="2.6"/>
<path d="M85.9 122.9a9.9 9.9 0 1 0 19.8 0a9.9 9.9 0 1 0 -19.8 0zM77.8 114.9a10.4 10.4 0 1 0 20.9 0a10.4 10.4 0 1 0 -20.9 0zM83.4 125.8a9.4 9.4 0 1 0 18.8 0a9.4 9.4 0 1 0 -18.8 0zM81.0 111.3a9.6 9.6 0 1 0 19.1 0a9.6 9.6 0 1 0 -19.1 0zM75.6 118.8a8.4 8.4 0 1 0 16.9 0a8.4 8.4 0 1 0 -16.9 0zM95.3 116.4a6.9 6.9 0 1 0 13.8 0a6.9 6.9 0 1 0 -13.8 0zM93.1 125.8a7.4 7.4 0 1 0 14.8 0a7.4 7.4 0 1 0 -14.8 0zM90.2 118.9a8.4 8.4 0 1 0 16.8 0a8.4 8.4 0 1 0 -16.8 0zM90.4 116.0a9.4 9.4 0 1 0 18.7 0a9.4 9.4 0 1 0 -18.7 0zM85.9 115.2a8.9 8.9 0 1 0 17.8 0a8.9 8.9 0 1 0 -17.8 0zM92.6 117.8a8.6 8.6 0 1 0 17.2 0a8.6 8.6 0 1 0 -17.2 0zM76.8 126.7a10.3 10.3 0 1 0 20.6 0a10.3 10.3 0 1 0 -20.6 0z" fill="#7d7d7d"/>
<path d="M85.9 122.9a9.9 9.9 0 1 0 19.8 0a9.9 9.9 0 1 0 -19.8 0zM77.8 114.9a10.4 10.4 0 1 0 20.9 0a10.4 10.4 0 1 0 -20.9 0zM83.4 125.8a9.4 9.4 0 1 0 18.8 0a9.4 9.4 0 1 0 -18.8 0zM81.0 111.3a9.6 9.6 0 1 0 19.1 0a9.6 9.6 0 1 0 -19.1 0zM75.6 118.8a8.4 8.4 0 1 0 16.9 0a8.4 8.4 0 1 0 -16.9 0zM95.3 116.4a6.9 6.9 0 1 0 13.8 0a6.9 6.9 0 1 0 -13.8 0zM93.1 125.8a7.4 7.4 0 1 0 14.8 0a7.4 7.4 0 1 0 -14.8 0zM90.2 118.9a8.4 8.4 0 1 0 16.8 0a8.4 8.4 0 1 0 -16.8 0zM90.4 116.0a9.4 9.4 0 1 0 18.7 0a9.4 9.4 0 1 0 -18.7 0zM85.9 115.2a8.9 8.9 0 1 0 17.8 0a8.9 8.9 0 1 0 -17.8 0zM92.6 117.8a8.6 8.6 0 1 0 17.2 0a8.6 8.6 0 1 0 -17.2 0zM76.8 126.7a10.3 10.3 0 1 0 20.6 0a10.3 10.3 0 1 0 -20.6 0z" fill="url(#pp)"/>
<circle class="u" cx="102.8" cy="125.3" r="2.8" fill="none" stroke="#b6b6b6"/>
<circle class="u" cx="99.3" cy="123.7" r="2.5" fill="none" stroke="#afafaf"/>
<circle class="u" cx="97.2" cy="103.5" r="3.4" fill="none" stroke="#b7b7b7"/>
<circle class="u" cx="101.9" cy="123.3" r="3.2" fill="none" stroke="#a8a8a8"/>
<circle class="u" cx="77.7" cy="117.3" r="2.2" fill="none" stroke="#bdbdbd"/>
<circle class="u" cx="101.1" cy="124.3" r="3.6" fill="none" stroke="#a5a5a5"/>
<circle class="u" cx="82.7" cy="116.6" r="3.6" fill="none" stroke="#c2c2c2"/>
<circle class="u" cx="90.4" cy="129.1" r="3.6" fill="none" stroke="#b2b2b2"/>
<circle class="u" cx="96.3" cy="131.9" r="2.6" fill="none" stroke="#afafaf"/>
<circle class="u" cx="109.4" cy="118.9" r="3.2" fill="none" stroke="#c0c0c0"/>
<circle class="u" cx="101.4" cy="116.4" r="3.0" fill="none" stroke="#aeaeae"/>
<circle class="u" cx="94.1" cy="103.1" r="2.4" fill="none" stroke="#a8a8a8"/>
<circle class="u" cx="90.3" cy="107.9" r="2.2" fill="none" stroke="#a5a5a5"/>
<circle class="u" cx="81.5" cy="113.3" r="3.7" fill="none" stroke="#b1b1b1"/>
<circle class="u" cx="88.3" cy="114.0" r="2.7" fill="none" stroke="#a8a8a8"/>
<circle class="u" cx="90.3" cy="110.1" r="2.4" fill="none" stroke="#ababab"/>
<circle class="u" cx="83.8" cy="119.8" r="3.1" fill="none" stroke="#a4a4a4"/>
<circle class="u" cx="103.1" cy="108.7" r="3.0" fill="none" stroke="#a0a0a0"/>
<circle class="u" cx="86.9" cy="130.0" r="3.2" fill="none" stroke="#bcbcbc"/>
<circle class="u" cx="100.3" cy="112.2" r="2.9" fill="none" stroke="#aaaaaa"/>
<circle class="u" cx="97.4" cy="122.4" r="2.5" fill="none" stroke="#a1a1a1"/>
<circle class="u" cx="79.9" cy="114.7" r="3.0" fill="none" stroke="#b7b7b7"/>
<circle class="u" cx="94.3" cy="125.2" r="3.0" fill="none" stroke="#bebebe"/>
<circle class="u" cx="92.2" cy="118.5" r="2.0" fill="none" stroke="#a9a9a9"/>
<circle class="u" cx="89.6" cy="114.9" r="2.4" fill="none" stroke="#b7b7b7"/>
<circle class="u" cx="102.6" cy="117.1" r="3.1" fill="none" stroke="#b1b1b1"/>
<circle class="u" cx="102.4" cy="119.4" r="2.3" fill="none" stroke="#a7a7a7"/>
<circle class="u" cx="94.9" cy="104.7" r="2.1" fill="none" stroke="#a0a0a0"/>
<circle class="u" cx="92.3" cy="112.8" r="2.6" fill="none" stroke="#a7a7a7"/>
<circle class="u" cx="95.9" cy="118.9" r="2.3" fill="none" stroke="#acacac"/>
<circle class="u" cx="105.1" cy="112.7" r="2.4" fill="none" stroke="#b7b7b7"/>
<circle class="u" cx="91.4" cy="129.6" r="2.6" fill="none" stroke="#c1c1c1"/>
<path d="M152.3 119.2a10.3 10.3 0 1 0 20.6 0a10.3 10.3 0 1 0 -20.6 0zM163.3 102.2a11.3 11.3 0 1 0 22.7 0a11.3 11.3 0 1 0 -22.7 0zM150.6 116.0a10.2 10.2 0 1 0 20.5 0a10.2 10.2 0 1 0 -20.5 0zM150.2 108.6a9.8 9.8 0 1 0 19.7 0a9.8 9.8 0 1 0 -19.7 0zM149.7 117.5a10.3 10.3 0 1 0 20.6 0a10.3 10.3 0 1 0 -20.6 0zM156.8 109.4a9.7 9.7 0 1 0 19.5 0a9.7 9.7 0 1 0 -19.5 0zM162.5 115.4a9.4 9.4 0 1 0 18.8 0a9.4 9.4 0 1 0 -18.8 0zM154.6 108.5a8.7 8.7 0 1 0 17.3 0a8.7 8.7 0 1 0 -17.3 0zM151.6 108.6a9.3 9.3 0 1 0 18.5 0a9.3 9.3 0 1 0 -18.5 0zM164.9 114.9a10.4 10.4 0 1 0 20.8 0a10.4 10.4 0 1 0 -20.8 0zM149.2 107.7a11.2 11.2 0 1 0 22.5 0a11.2 11.2 0 1 0 -22.5 0zM159.9 100.1a7.6 7.6 0 1 0 15.2 0a7.6 7.6 0 1 0 -15.2 0zM157.4 119.8a8.2 8.2 0 1 0 16.3 0a8.2 8.2 0 1 0 -16.3 0zM161.9 107.8a11.4 11.4 0 1 0 22.8 0a11.4 11.4 0 1 0 -22.8 0z" fill="none" stroke="#adadad" stroke-width="2.6"/>
<path d="M152.3 119.2a10.3 10.3 0 1 0 20.6 0a10.3 10.3 0 1 0 -20.6 0zM163.3 102.2a11.3 11.3 0 1 0 22.7 0a11.3 11.3 0 1 0 -22.7 0zM150.6 116.0a10.2 10.2 0 1 0 20.5 0a10.2 10.2 0 1 0 -20.5 0zM150.2 108.6a9.8 9.8 0 1 0 19.7 0a9.8 9.8 0 1 0 -19.7 0zM149.7 117.5a10.3 10.3 0 1 0 20.6 0a10.3 10.3 0 1 0 -20.6 0zM156.8 109.4a9.7 9.7 0 1 0 19.5 0a9.7 9.7 0 1 0 -19.5 0zM162.5 115.4a9.4 9.4 0 1 0 18.8 0a9.4 9.4 0 1 0 -18.8 0zM154.6 108.5a8.7 8.7 0 1 0 17.3 0a8.7 8.7 0 1 0 -17.3 0zM151.6 108.6a9.3 9.3 0 1 0 18.5 0a9.3 9.3 0 1 0 -18.5 0zM164.9 114.9a10.4 10.4 0 1 0 20.8 0a10.4 10.4 0 1 0 -20.8 0zM149.2 107.7a11.2 11.2 0 1 0 22.5 0a11.2 11.2 0 1 0 -22.5 0zM159.9 100.1a7.6 7.6 0 1 0 15.2 0a7.6 7.6 0 1 0 -15.2 0zM157.4 119.8a8.2 8.2 0 1 0 16.3 0a8.2 8.2 0 1 0 -16.3 0zM161.9 107.8a11.4 11.4 0 1 0 22.8 0a11.4 11.4 0 1 0 -22.8 0z" fill="#7d7d7d"/>
<path d="M152.3 119.2a10.3 10.3 0 1 0 20.6 0a10.3 10.3 0 1 0 -20.6 0zM163.3 102.2a11.3 11.3 0 1 0 22.7 0a11.3 11.3 0 1 0 -22.7 0zM150.6 116.0a10.2 10.2 0 1 0 20.5 0a10.2 10.2 0 1 0 -20.5 0zM150.2 108.6a9.8 9.8 0 1 0 19.7 0a9.8 9.8 0 1 0 -19.7 0zM149.7 117.5a10.3 10.3 0 1 0 20.6 0a10.3 10.3 0 1 0 -20.6 0zM156.8 109.4a9.7 9.7 0 1 0 19.5 0a9.7 9.7 0 1 0 -19.5 0zM162.5 115.4a9.4 9.4 0 1 0 18.8 0a9.4 9.4 0 1 0 -18.8 0zM154.6 108.5a8.7 8.7 0 1 0 17.3 0a8.7 8.7 0 1 0 -17.3 0zM151.6 108.6a9.3 9.3 0 1 0 18.5 0a9.3 9.3 0 1 0 -18.5 0zM164.9 114.9a10.4 10.4 0 1 0 20.8 0a10.4 10.4 0 1 0 -20.8 0zM149.2 107.7a11.2 11.2 0 1 0 22.5 0a11.2 11.2 0 1 0 -22.5 0zM159.9 100.1a7.6 7.6 0 1 0 15.2 0a7.6 7.6 0 1 0 -15.2 0zM157.4 119.8a8.2 8.2 0 1 0 16.3 0a8.2 8.2 0 1 0 -16.3 0zM161.9 107.8a11.4 11.4 0 1 0 22.8 0a11.4 11.4 0 1 0 -22.8 0z" fill="url(#pp)"/>
<circle class="u" cx="172.9" cy="127.0" r="3.5" fill="none" stroke="#aaaaaa"/>
<circle class="u" cx="175.0" cy="105.4" r="3.5" fill="none" stroke="#acacac"/>
<circle class="u" cx="163.3" cy="112.6" r="3.1" fill="none" stroke="#a7a7a7"/>
<circle class="u" cx="160.9" cy="95.8" r="3.1" fill="none" stroke="#9e9e9e"/>
<circle class="u" cx="186.3" cy="105.0" r="3.2" fill="none" stroke="#acacac"/>
<circle class="u" cx="153.1" cy="103.6" r="2.8" fill="none" stroke="#bababa"/>
<circle class="u" cx="159.4" cy="103.2" r="3.7" fill="none" stroke="#adadad"/>
<circle class="u" cx="165.9" cy="107.6" r="2.8" fill="none" stroke="#9f9f9f"/>
<circle class="u" cx="169.1" cy="109.8" r="2.1" fill="none" stroke="#a2a2a2"/>
<circle class="u" cx="177.7" cy="120.5" r="2.6" fill="none" stroke="#a8a8a8"/>
<circle class="u" cx="186.9" cy="108.4" r="3.2" fill="none" stroke="#bbbbbb"/>
<circle class="u" cx="173.2" cy="101.9" r="3.5" fill="none" stroke="#a6a6a6"/>
<circle class="u" cx="159.0" cy="106.0" r="2.3" fill="none" stroke="#bababa"/>
<circle class="u" cx="178.3" cy="105.0" r="3.6" fill="none" stroke="#aaaaaa"/>
<circle class="u" cx="159.0" cy="94.7" r="3.4" fill="none" stroke="#a0a0a0"/>
<circle class="u" cx="158.8" cy="114.8" r="2.5" fill="none" stroke="#bcbcbc"/>
<circle class="u" cx="154.7" cy="115.9" r="3.1" fill="none" stroke="#b1b1b1"/>
<circle class="u" cx="183.6" cy="115.5" r="3.6" fill="none" stroke="#a4a4a4"/>
<circle class="u" cx="161.1" cy="100.1" r="2.6" fill="none" stroke="#b8b8b8"/>
<circle class="u" cx="172.0" cy="109.8" r="3.6" fill="none" stroke="#acacac"/>
<circle class="u" cx="173.2" cy="103.5" r="3.3" fill="none" stroke="#a1a1a1"/>
<circle class="u" cx="159.9" cy="126.0" r="3.2" fill="none" stroke="#bbbbbb"/>
<circle class="u" cx="156.8" cy="113.3" r="2.9" fill="none" stroke="#bababa"/>
<circle class="u" cx="167.9" cy="102.2" r="2.8" fill="none" stroke="#b2b2b2"/>
<circle class="u" cx="153.1" cy="102.5" r="3.5" fill="none" stroke="#a3a3a3"/>
<circle class="u" cx="164.9" cy="114.6" r="2.0" fill="none" stroke="#a0a0a0"/>
<circle class="u" cx="175.9" cy="125.1" r="3.2" fill="none" stroke="#bbbbbb"/>
<circle class="u" cx="167.5" cy="117.4" r="3.7" fill="none" stroke="#bcbcbc"/>
<circle class="u" cx="171.7" cy="109.4" r="2.7" fill="none" stroke="#b5b5b5"/>
<circle class="u" cx="167.7" cy="92.5" r="3.0" fill="none" stroke="#acacac"/>
<circle class="u" cx="186.0" cy="110.8" r="3.8" fill="none" stroke="#bfbfbf"/>
<circle class="u" cx="163.5" cy="101.0" r="2.4" fill="none" stroke="#bababa"/>
<circle class="u" cx="186.0" cy="103.0" r="2.3" fill="none" stroke="#b3b3b3"/>
<circle class="u" cx="157.1" cy="109.2" r="3.4" fill="none" stroke="#c0c0c0"/>
<circle class="u" cx="166.8" cy="94.9" r="3.2" fill="none" stroke="#b6b6b6"/>
<circle class="u" cx="160.2" cy="108.1" r="3.4" fill="none" stroke="#a2a2a2"/>
<circle class="u" cx="162.1" cy="101.1" r="3.0" fill="none" stroke="#b5b5b5"/>
<circle class="u" cx="151.0" cy="112.7" r="2.4" fill="none" stroke="#9e9e9e"/>
<circle class="u" cx="179.3" cy="107.4" r="2.5" fill="none" stroke="#adadad"/>
<circle class="u" cx="153.9" cy="99.9" r="3.3" fill="none" stroke="#a9a9a9"/>
<circle class="u" cx="157.1" cy="107.6" r="2.9" fill="none" stroke="#adadad"/>
<circle class="u" cx="175.1" cy="120.4" r="2.7" fill="none" stroke="#a5a5a5"/>
<path d="M242.4 84.1a7.1 7.1 0 1 0 14.2 0a7.1 7.1 0 1 0 -14.2 0zM228.2 86.0a9.6 9.6 0 1 0 19.2 0a9.6 9.6 0 1 0 -19.2 0zM232.4 83.6a7.8 7.8 0 1 0 15.7 0a7.8 7.8 0 1 0 -15.7 0zM242.4 94.4a7.9 7.9 0 1 0 15.8 0a7.9 7.9 0 1 0 -15.8 0zM238.4 97.4a7.1 7.1 0 1 0 14.2 0a7.1 7.1 0 1 0 -14.2 0zM243.3 94.1a7.3 7.3 0 1 0 14.6 0a7.3 7.3 0 1 0 -14.6 0zM242.1 82.5a7.3 7.3 0 1 0 14.6 0a7.3 7.3 0 1 0 -14.6 0zM229.0 94.4a8.8 8.8 0 1 0 17.6 0a8.8 8.8 0 1 0 -17.6 0zM233.2 87.8a7.3 7.3 0 1 0 14.6 0a7.3 7.3 0 1 0 -14.6 0zM235.2 87.9a9.6 9.6 0 1 0 19.2 0a9.6 9.6 0 1 0 -19.2 0zM247.7 93.4a8.0 8.0 0 1 0 16.0 0a8.0 8.0 0 1 0 -16.0 0zM236.4 82.4a7.0 7.0 0 1 0 14.1 0a7.0 7.0 0 1 0 -14.1 0z" fill="none" stroke="#adadad" stroke-width="2.6"/>
<path d="M242.4 84.1a7.1 7.1 0 1 0 14.2 0a7.1 7.1 0 1 0 -14.2 0zM228.2 86.0a9.6 9.6 0 1 0 19.2 0a9.6 9.6 0 1 0 -19.2 0zM232.4 83.6a7.8 7.8 0 1 0 15.7 0a7.8 7.8 0 1 0 -15.7 0zM242.4 94.4a7.9 7.9 0 1 0 15.8 0a7.9 7.9 0 1 0 -15.8 0zM238.4 97.4a7.1 7.1 0 1 0 14.2 0a7.1 7.1 0 1 0 -14.2 0zM243.3 94.1a7.3 7.3 0 1 0 14.6 0a7.3 7.3 0 1 0 -14.6 0zM242.1 82.5a7.3 7.3 0 1 0 14.6 0a7.3 7.3 0 1 0 -14.6 0zM229.0 94.4a8.8 8.8 0 1 0 17.6 0a8.8 8.8 0 1 0 -17.6 0zM233.2 87.8a7.3 7.3 0 1 0 14.6 0a7.3 7.3 0 1 0 -14.6 0zM235.2 87.9a9.6 9.6 0 1 0 19.2 0a9.6 9.6 0 1 0 -19.2 0zM247.7 93.4a8.0 8.0 0 1 0 16.0 0a8.0 8.0 0 1 0 -16.0 0zM236.4 82.4a7.0 7.0 0 1 0 14.1 0a7.0 7.0 0 1 0 -14.1 0z" fill="#7d7d7d"/>
<path d="M242.4 84.1a7.1 7.1 0 1 0 14.2 0a7.1 7.1 0 1 0 -14.2 0zM228.2 86.0a9.6 9.6 0 1 0 19.2 0a9.6 9.6 0 1 0 -19.2 0zM232.4 83.6a7.8 7.8 0 1 0 15.7 0a7.8 7.8 0 1 0 -15.7 0zM242.4 94.4a7.9 7.9 0 1 0 15.8 0a7.9 7.9 0 1 0 -15.8 0zM238.4 97.4a7.1 7.1 0 1 0 14.2 0a7.1 7.1 0 1 0 -14.2 0zM243.3 94.1a7.3 7.3 0 1 0 14.6 0a7.3 7.3 0 1 0 -14.6 0zM242.1 82.5a7.3 7.3 0 1 0 14.6 0a7.3 7.3 0 1 0 -14.6 0zM229.0 94.4a8.8 8.8 0 1 0 17.6 0a8.8 8.8 0 1 0 -17.6 0zM233.2 87.8a7.3 7.3 0 1 0 14.6 0a7.3 7.3 0 1 0 -14.6 0zM235.2 87.9a9.6 9.6 0 1 0 19.2 0a9.6 9.6 0 1 0 -19.2 0zM247.7 93.4a8.0 8.0 0 1 0 16.0 0a8.0 8.0 0 1 0 -16.0 0zM236.4 82.4a7.0 7.0 0 1 0 14.1 0a7.0 7.0 0 1 0 -14.1 0z" fill="url(#pp)"/>
<circle class="u" cx="242.6" cy="89.0" r="2.4" fill="none" stroke="#acacac"/>
<circle class="u" cx="243.9" cy="103.0" r="3.8" fill="none" stroke="#ababab"/>
<circle class="u" cx="251.0" cy="83.5" r="3.3" fill="none" stroke="#aaaaaa"/>
<circle class="u" cx="242.2" cy="89.0" r="3.5" fill="none" stroke="#a5a5a5"/>
<circle class="u" cx="238.3" cy="92.1" r="3.5" fill="none" stroke="#b3b3b3"/>
<circle class="u" cx="236.3" cy="80.7" r="2.5" fill="none" stroke="#a0a0a0"/>
<circle class="u" cx="251.2" cy="82.0" r="3.5" fill="none" stroke="#c1c1c1"/>
<circle class="u" cx="243.3" cy="86.3" r="3.5" fill="none" stroke="#b5b5b5"/>
<circle class="u" cx="247.1" cy="97.5" r="2.9" fill="none" stroke="#a2a2a2"/>
<circle class="u" cx="258.3" cy="82.4" r="3.5" fill="none" stroke="#acacac"/>
<circle class="u" cx="252.2" cy="87.3" r="3.3" fill="none" stroke="#a7a7a7"/>
<circle class="u" cx="252.6" cy="90.2" r="2.4" fill="none" stroke="#bababa"/>
<circle class="u" cx="238.7" cy="97.9" r="3.1" fill="none" stroke="#a7a7a7"/>
<circle class="u" cx="238.3" cy="79.9" r="3.7" fill="none" stroke="#b0b0b0"/>
<circle class="u" cx="256.7" cy="77.4" r="3.4" fill="none" stroke="#adadad"/>
<circle class="u" cx="246.2" cy="95.1" r="3.5" fill="none" stroke="#a2a2a2"/>
<circle class="u" cx="236.7" cy="86.1" r="2.1" fill="none" stroke="#a5a5a5"/>
<circle class="u" cx="252.2" cy="79.3" r="3.7" fill="none" stroke="#bfbfbf"/>
<circle class="u" cx="258.0" cy="97.5" r="2.1" fill="none" stroke="#adadad"/>
<circle class="u" cx="232.0" cy="95.8" r="3.1" fill="none" stroke="#a5a5a5"/>
<circle class="u" cx="235.1" cy="89.3" r="2.4" fill="none" stroke="#ababab"/>
<circle class="u" cx="258.5" cy="78.8" r="3.4" fill="none" stroke="#a0a0a0"/>
<circle class="u" cx="256.1" cy="83.9" r="3.5" fill="none" stroke="#a4a4a4"/>
<circle class="u" cx="256.2" cy="102.5" r="2.5" fill="none" stroke="#9f9f9f"/>
<circle class="u" cx="230.7" cy="90.0" r="3.5" fill="none" stroke="#acacac"/>
<circle class="u" cx="261.4" cy="89.4" r="3.5" fill="none" stroke="#b5b5b5"/>
<circle class="u" cx="234.7" cy="99.6" r="2.8" fill="none" stroke="#c0c0c0"/>
<circle class="u" cx="232.2" cy="85.1" r="2.9" fill="none" stroke="#adadad"/>
<circle class="u" cx="239.1" cy="85.2" r="2.3" fill="none" stroke="#b3b3b3"/>
<circle class="u" cx="252.0" cy="83.1" r="3.6" fill="none" stroke="#bbbbbb"/>
<circle class="u" cx="248.6" cy="79.7" r="3.8" fill="none" stroke="#bbbbbb"/>
<circle class="u" cx="242.0" cy="87.5" r="3.0" fill="none" stroke="#9e9e9e"/>
<path d="M40.9 172.1a7.4 7.4 0 1 0 14.8 0a7.4 7.4 0 1 0 -14.8 0zM27.7 172.9a8.2 8.2 0 1 0 16.3 0a8.2 8.2 0 1 0 -16.3 0zM26.3 176.2a9.1 9.1 0 1 0 18.3 0a9.1 9.1 0 1 0 -18.3 0zM27.7 177.8a9.0 9.0 0 1 0 18.0 0a9.0 9.0 0 1 0 -18.0 0zM40.3 175.6a7.2 7.2 0 1 0 14.5 0a7.2 7.2 0 1 0 -14.5 0zM39.0 184.8a6.6 6.6 0 1 0 13.2 0a6.6 6.6 0 1 0 -13.2 0zM40.0 179.0a7.9 7.9 0 1 0 15.8 0a7.9 7.9 0 1 0 -15.8 0zM38.7 166.4a9.2 9.2 0 1 0 18.3 0a9.2 9.2 0 1 0 -18.3 0zM35.7 174.2a6.3 6.3 0 1 0 12.6 0a6.3 6.3 0 1 0 -12.6 0zM30.2 168.8a7.0 7.0 0 1 0 14.0 0a7.0 7.0 0 1 0 -14.0 0zM42.7 174.0a8.1 8.1 0 1 0 16.3 0a8.1 8.1 0 1 0 -16.3 0z" fill="none" stroke="#adadad" stroke-width="2.6"/>
<path d="M40.9 172.1a7.4 7.4 0 1 0 14.8 0a7.4 7.4 0 1 0 -14.8 0zM27.7 172.9a8.2 8.2 0 1 0 16.3 0a8.2 8.2 0 1 0 -16.3 0zM26.3 176.2a9.1 9.1 0 1 0 18.3 0a9.1 9.1 0 1 0 -18.3 0zM27.7 177.8a9.0 9.0 0 1 0 18.0 0a9.0 9.0 0 1 0 -18.0 0zM40.3 175.6a7.2 7.2 0 1 0 14.5 0a7.2 7.2 0 1 0 -14.5 0zM39.0 184.8a6.6 6.6 0 1 0 13.2 0a6.6 6.6 0 1 0 -13.2 0zM40.0 179.0a7.9 7.9 0 1 0 15.8 0a7.9 7.9 0 1 0 -15.8 0zM38.7 166.4a9.2 9.2 0 1 0 18.3 0a9.2 9.2 0 1 0 -18.3 0zM35.7 174.2a6.3 6.3 0 1 0 12.6 0a6.3 6.3 0 1 0 -12.6 0zM30.2 168.8a7.0 7.0 0 1 0 14.0 0a7.0 7.0 0 1 0 -14.0 0zM42.7 174.0a8.1 8.1 0 1 0 16.3 0a8.1 8.1 0 1 0 -16.3 0z" fill="#7d7d7d"/>
<path d="M40.9 172.1a7.4 7.4 0 1 0 14.8 0a7.4 7.4 0 1 0 -14.8 0zM27.7 172.9a8.2 8.2 0 1 0 16.3 0a8.2 8.2 0 1 0 -16.3 0zM26.3 176.2a9.1 9.1 0 1 0 18.3 0a9.1 9.1 0 1 0 -18.3 0zM27.7 177.8a9.0 9.0 0 1 0 18.0 0a9.0 9.0 0 1 0 -18.0 0zM40.3 175.6a7.2 7.2 0 1 0 14.5 0a7.2 7.2 0 1 0 -14.5 0zM39.0 184.8a6.6 6.6 0 1 0 13.2 0a6.6 6.6 0 1 0 -13.2 0zM40.0 179.0a7.9 7.9 0 1 0 15.8 0a7.9 7.9 0 1 0 -15.8 0zM38.7 166.4a9.2 9.2 0 1 0 18.3 0a9.2 9.2 0 1 0 -18.3 0zM35.7 174.2a6.3 6.3 0 1 0 12.6 0a6.3 6.3 0 1 0 -12.6 0zM30.2 168.8a7.0 7.0 0 1 0 14.0 0a7.0 7.0 0 1 0 -14.0 0zM42.7 174.0a8.1 8.1 0 1 0 16.3 0a8.1 8.1 0 1 0 -16.3 0z" fill="url(#pp)"/>
<circle class="u" cx="40.4" cy="172.7" r="2.3" fill="none" stroke="#c0c0c0"/>
<circle class="u" cx="43.0" cy="179.8" r="2.5" fill="none" stroke="#b8b8b8"/>
<circle class="u" cx="42.9" cy="182.4" r="2.5" fill="none" stroke="#afafaf"/>
<circle class="u" cx="42.8" cy="167.2" r="3.6" fill="none" stroke="#c2c2c2"/>
<circle class="u" cx="45.3" cy="171.7" r="2.6" fill="none" stroke="#c0c0c0"/>
<circle class="u" cx="47.0" cy="171.2" r="2.8" fill="none" stroke="#ababab"/>
<circle class="u" cx="43.4" cy="172.9" r="2.6" fill="none" stroke="#b9b9b9"/>
<circle class="u" cx="45.8" cy="173.5" r="3.1" fill="none" stroke="#b6b6b6"/>
<circle class="u" cx="50.4" cy="168.4" r="3.8" fill="none" stroke="#a5a5a5"/>
<circle class="u" cx="47.6" cy="179.1" r="3.1" fill="none" stroke="#a2a2a2"/>
<circle class="u" cx="42.8" cy="182.1" r="2.1" fill="none" stroke="#c1c1c1"/>
<circle class="u" cx="35.9" cy="188.3" r="3.3" fill="none" stroke="#a6a6a6"/>
<circle class="u" cx="44.8" cy="174.9" r="3.8" fill="none" stroke="#9f9f9f"/>
<circle class="u" cx="43.2" cy="186.7" r="2.0" fill="none" stroke="#bababa"/>
<circle class="u" cx="55.3" cy="182.4" r="2.1" fill="none" stroke="#b1b1b1"/>
<circle class="u" cx="45.5" cy="183.3" r="2.9" fill="none" stroke="#ababab"/>
<circle class="u" cx="34.0" cy="183.1" r="2.4" fill="none" stroke="#a4a4a4"/>
<circle class="u" cx="40.2" cy="167.9" r="3.7" fill="none" stroke="#adadad"/>
<circle class="u" cx="41.2" cy="175.8" r="2.0" fill="none" stroke="#a1a1a1"/>
<circle class="u" cx="34.8" cy="166.7" r="3.7" fill="none" stroke="#aeaeae"/>
<circle class="u" cx="41.1" cy="166.9" r="2.1" fill="none" stroke="#adadad"/>
<circle class="u" cx="39.4" cy="162.5" r="3.7" fill="none" stroke="#bcbcbc"/>
<circle class="u" cx="33.1" cy="171.1" r="2.9" fill="none" stroke="#afafaf"/>
<circle class="u" cx="38.6" cy="165.1" r="3.5" fill="none" stroke="#aeaeae"/>
<circle class="u" cx="29.9" cy="178.0" r="3.2" fill="none" stroke="#b1b1b1"/>
<circle class="u" cx="31.0" cy="170.2" r="3.1" fill="none" stroke="#a7a7a7"/>
<circle class="u" cx="39.1" cy="186.4" r="2.1" fill="none" stroke="#aeaeae"/>
<circle class="u" cx="49.2" cy="170.9" r="2.8" fill="none" stroke="#b7b7b7"/>
<path d="M76.8 179.4a8.3 8.3 0 1 0 16.7 0a8.3 8.3 0 1 0 -16.7 0zM64.3 187.7a8.4 8.4 0 1 0 16.8 0a8.4 8.4 0 1 0 -16.8 0zM66.0 190.2a6.1 6.1 0 1 0 12.2 0a6.1 6.1 0 1 0 -12.2 0zM70.5 174.5a7.2 7.2 0 1 0 14.3 0a7.2 7.2 0 1 0 -14.3 0zM75.3 183.8a8.2 8.2 0 1 0 16.4 0a8.2 8.2 0 1 0 -16.4 0zM73.0 174.1a6.8 6.8 0 1 0 13.6 0a6.8 6.8 0 1 0 -13.6 0zM71.0 184.9a9.6 9.6 0 1 0 19.3 0a9.6 9.6 0 1 0 -19.3 0zM66.9 180.4a8.6 8.6 0 1 0 17.1 0a8.6 8.6 0 1 0 -17.1 0zM78.4 181.2a6.9 6.9 0 1 0 13.8 0a6.9 6.9 0 1 0 -13.8 0zM79.1 181.3a6.7 6.7 0 1 0 13.4 0a6.7 6.7 0 1 0 -13.4 0zM70.2 176.1a8.1 8.1 0 1 0 16.3 0a8.1 8.1 0 1 0 -16.3 0z" fill="none" stroke="#adadad" stroke-width="2.6"/>
<path d="M76.8 179.4a8.3 8.3 0 1 0 16.7 0a8.3 8.3 0 1 0 -16.7 0zM64.3 187.7a8.4 8.4 0 1 0 16.8 0a8.4 8.4 0 1 0 -16.8 0zM66.0 190.2a6.1 6.1 0 1 0 12.2 0a6.1 6.1 0 1 0 -12.2 0zM70.5 174.5a7.2 7.2 0 1 0 14.3 0a7.2 7.2 0 1 0 -14.3 0zM75.3 183.8a8.2 8.2 0 1 0 16.4 0a8.2 8.2 0 1 0 -16.4 0zM73.0 174.1a6.8 6.8 0 1 0 13.6 0a6.8 6.8 0 1 0 -13.6 0zM71.0 184.9a9.6 9.6 0 1 0 19.3 0a9.6 9.6 0 1 0 -19.3 0zM66.9 180.4a8.6 8.6 0 1 0 17.1 0a8.6 8.6 0 1 0 -17.1 0zM78.4 181.2a6.9 6.9 0 1 0 13.8 0a6.9 6.9 0 1 0 -13.8 0zM79.1 181.3a6.7 6.7 0 1 0 13.4 0a6.7 6.7 0 1 0 -13.4 0zM70.2 176.1a8.1 8.1 0 1 0 16.3 0a8.1 8.1 0 1 0 -16.3 0z" fill="#7d7d7d"/>
<path d="M76.8 179.4a8.3 8.3 0 1 0 16.7 0a8.3 8.3 0 1 0 -16.7 0zM64.3 187.7a8.4 8.4 0 1 0 16.8 0a8.4 8.4 0 1 0 -16.8 0zM66.0 190.2a6.1 6.1 0 1 0 12.2 0a6.1 6.1 0 1 0 -12.2 0zM70.5 174.5a7.2 7.2 0 1 0 14.3 0a7.2 7.2 0 1 0 -14.3 0zM75.3 183.8a8.2 8.2 0 1 0 16.4 0a8.2 8.2 0 1 0 -16.4 0zM73.0 174.1a6.8 6.8 0 1 0 13.6 0a6.8 6.8 0 1 0 -13.6 0zM71.0 184.9a9.6 9.6 0 1 0 19.3 0a9.6 9.6 0 1 0 -19.3 0zM66.9 180.4a8.6 8.6 0 1 0 17.1 0a8.6 8.6 0 1 0 -17.1 0zM78.4 181.2a6.9 6.9 0 1 0 13.8 0a6.9 6.9 0 1 0 -13.8 0zM79.1 181.3a6.7 6.7 0 1 0 13.4 0a6.7 6.7 0 1 0 -13.4 0zM70.2 176.1a8.1 8.1 0 1 0 16.3 0a8.1 8.1 0 1 0 -16.3 0z" fill="url(#pp)"/>
<circle class="u" cx="72.2" cy="189.4" r="2.8" fill="none" stroke="#b1b1b1"/>
<circle class="u" cx="64.0" cy="186.6" r="2.1" fill="none" stroke="#a5a5a5"/>
<circle class="u" cx="88.5" cy="178.7" r="3.1" fill="none" stroke="#b5b5b5"/>
<circle class="u" cx="78.0" cy="192.7" r="2.4" fill="none" stroke="#a3a3a3"/>
<circle class="u" cx="90.7" cy="182.4" r="3.6" fill="none" stroke="#9e9e9e"/>
<circle class="u" cx="75.3" cy="175.2" r="2.9" fill="none" stroke="#b6b6b6"/>
<circle class="u" cx="86.7" cy="185.0" r="3.0" fill="none" stroke="#bebebe"/>
<circle class="u" cx="69.1" cy="182.5" r="3.1" fill="none" stroke="#b3b3b3"/>
<circle class="u" cx="74.7" cy="194.0" r="2.5" fill="none" stroke="#9e9e9e"/>
<circle class="u" cx="76.0" cy="187.4" r="2.9" fill="none" stroke="#b0b0b0"/>
<circle class="u" cx="86.6" cy="173.7" r="3.3" fill="none" stroke="#c2c2c2"/>
<circle class="u" cx="76.8" cy="192.4" r="2.4" fill="none" stroke="#a1a1a1"/>
<circle class="u" cx="66.9" cy="182.2" r="2.2" fill="none" stroke="#c0c0c0"/>
<circle class="u" cx="81.6" cy="182.7" r="2.0" fill="none" stroke="#a0a0a0"/>
<circle class="u" cx="76.0" cy="169.3" r="2.1" fill="none" stroke="#9e9e9e"/>
<circle class="u" cx="69.2" cy="181.2" r="2.0" fill="none" stroke="#9e9e9e"/>
<circle class="u" cx="79.3" cy="189.8" r="2.5" fill="none" stroke="#b2b2b2"/>
<circle class="u" cx="77.6" cy="190.5" r="2.4" fill="none" stroke="#bebebe"/>
<circle class="u" cx="78.4" cy="194.5" r="2.8" fill="none" stroke="#aaaaaa"/>
<circle class="u" cx="76.0" cy="184.3" r="2.3" fill="none" stroke="#b5b5b5"/>
<circle class="u" cx="78.1" cy="176.2" r="2.3" fill="none" stroke="#bfbfbf"/>
<circle class="u" cx="88.7" cy="191.0" r="3.6" fill="none" stroke="#a3a3a3"/>
<circle class="u" cx="80.6" cy="178.1" r="2.1" fill="none" stroke="#a8a8a8"/>
<circle class="u" cx="71.1" cy="192.9" r="2.8" fill="none" stroke="#bbbbbb"/>
<circle class="u" cx="75.0" cy="178.7" r="2.4" fill="none" stroke="#b9b9b9"/>
<circle class="u" cx="88.7" cy="193.1" r="3.5" fill="none" stroke="#a6a6a6"/>
<circle class="u" cx="75.9" cy="190.6" r="2.8" fill="none" stroke="#a7a7a7"/>
<circle class="u" cx="85.1" cy="184.8" r="2.4" fill="none" stroke="#aaaaaa"/>
<path d="M12.7 197.5a5.9 5.9 0 1 0 11.7 0a5.9 5.9 0 1 0 -11.7 0zM14.8 191.3a5.2 5.2 0 1 0 10.3 0a5.2 5.2 0 1 0 -10.3 0zM15.5 197.2a6.3 6.3 0 1 0 12.6 0a6.3 6.3 0 1 0 -12.6 0zM23.9 191.0a5.7 5.7 0 1 0 11.4 0a5.7 5.7 0 1 0 -11.4 0zM20.1 196.9a6.2 6.2 0 1 0 12.4 0a6.2 6.2 0 1 0 -12.4 0zM22.2 192.3a6.5 6.5 0 1 0 13.0 0a6.5 6.5 0 1 0 -13.0 0zM25.2 193.1a5.1 5.1 0 1 0 10.2 0a5.1 5.1 0 1 0 -10.2 0zM15.7 196.8a5.2 5.2 0 1 0 10.4 0a5.2 5.2 0 1 0 -10.4 0z" fill="none" stroke="#adadad" stroke-width="2.6"/>
<path d="M12.7 197.5a5.9 5.9 0 1 0 11.7 0a5.9 5.9 0 1 0 -11.7 0zM14.8 191.3a5.2 5.2 0 1 0 10.3 0a5.2 5.2 0 1 0 -10.3 0zM15.5 197.2a6.3 6.3 0 1 0 12.6 0a6.3 6.3 0 1 0 -12.6 0zM23.9 191.0a5.7 5.7 0 1 0 11.4 0a5.7 5.7 0 1 0 -11.4 0zM20.1 196.9a6.2 6.2 0 1 0 12.4 0a6.2 6.2 0 1 0 -12.4 0zM22.2 192.3a6.5 6.5 0 1 0 13.0 0a6.5 6.5 0 1 0 -13.0 0zM25.2 193.1a5.1 5.1 0 1 0 10.2 0a5.1 5.1 0 1 0 -10.2 0zM15.7 196.8a5.2 5.2 0 1 0 10.4 0a5.2 5.2 0 1 0 -10.4 0z" fill="#7d7d7d"/>
<path d="M12.7 197.5a5.9 5.9 0 1 0 11.7 0a5.9 5.9 0 1 0 -11.7 0zM14.8 191.3a5.2 5.2 0 1 0 10.3 0a5.2 5.2 0 1 0 -10.3 0zM15.5 197.2a6.3 6.3 0 1 0 12.6 0a6.3 6.3 0 1 0 -12.6 0zM23.9 191.0a5.7 5.7 0 1 0 11.4 0a5.7 5.7 0 1 0 -11.4 0zM20.1 196.9a6.2 6.2 0 1 0 12.4 0a6.2 6.2 0 1 0 -12.4 0zM22.2 192.3a6.5 6.5 0 1 0 13.0 0a6.5 6.5 0 1 0 -13.0 0zM25.2 193.1a5.1 5.1 0 1 0 10.2 0a5.1 5.1 0 1 0 -10.2 0zM15.7 196.8a5.2 5.2 0 1 0 10.4 0a5.2 5.2 0 1 0 -10.4 0z" fill="url(#pp)"/>
<circle class="u" cx="23.5" cy="195.9" r="2.2" fill="none" stroke="#a4a4a4"/>
<circle class="u" cx="15.9" cy="191.7" r="3.3" fill="none" stroke="#a3a3a3"/>
<circle class="u" cx="16.8" cy="197.8" r="2.2" fill="none" stroke="#a0a0a0"/>
<circle class="u" cx="21.0" cy="192.4" r="3.2" fill="none" stroke="#a4a4a4"/>
<circle class="u" cx="28.4" cy="191.1" r="2.8" fill="none" stroke="#b2b2b2"/>
<circle class="u" cx="32.4" cy="189.1" r="3.5" fill="none" stroke="#b7b7b7"/>
<circle class="u" cx="29.0" cy="197.6" r="3.0" fill="none" stroke="#c2c2c2"/>
<circle class="u" cx="24.2" cy="191.1" r="2.6" fill="none" stroke="#c1c1c1"/>
<circle class="u" cx="15.1" cy="195.2" r="3.5" fill="none" stroke="#bababa"/>
<circle class="u" cx="18.9" cy="189.5" r="2.6" fill="none" stroke="#a2a2a2"/>
<circle class="u" cx="26.6" cy="195.1" r="2.5" fill="none" stroke="#b4b4b4"/>
<circle class="u" cx="29.5" cy="194.6" r="2.4" fill="none" stroke="#bdbdbd"/>
<circle class="u" cx="21.7" cy="201.5" r="2.6" fill="none" stroke="#9f9f9f"/>
<path d="M6.9 179.0a2.3 2.3 0 1 0 4.7 0a2.3 2.3 0 1 0 -4.7 0zM4.5 180.9a2.8 2.8 0 1 0 5.7 0a2.8 2.8 0 1 0 -5.7 0zM4.7 179.2a2.6 2.6 0 1 0 5.3 0a2.6 2.6 0 1 0 -5.3 0zM1.6 182.7a3.6 3.6 0 1 0 7.2 0a3.6 3.6 0 1 0 -7.2 0z" fill="none" stroke="#adadad" stroke-width="2.6"/>
<path d="M6.9 179.0a2.3 2.3 0 1 0 4.7 0a2.3 2.3 0 1 0 -4.7 0zM4.5 180.9a2.8 2.8 0 1 0 5.7 0a2.8 2.8 0 1 0 -5.7 0zM4.7 179.2a2.6 2.6 0 1 0 5.3 0a2.6 2.6 0 1 0 -5.3 0zM1.6 182.7a3.6 3.6 0 1 0 7.2 0a3.6 3.6 0 1 0 -7.2 0z" fill="#818181"/>
<path d="M6.9 179.0a2.3 2.3 0 1 0 4.7 0a2.3 2.3 0 1 0 -4.7 0zM4.5 180.9a2.8 2.8 0 1 0 5.7 0a2.8 2.8 0 1 0 -5.7 0zM4.7 179.2a2.6 2.6 0 1 0 5.3 0a2.6 2.6 0 1 0 -5.3 0zM1.6 182.7a3.6 3.6 0 1 0 7.2 0a3.6 3.6 0 1 0 -7.2 0z" fill="url(#pp)"/>
<circle class="u" cx="0.8" cy="178.8" r="3.0" fill="none" stroke="#adadad"/>
<circle class="u" cx="9.3" cy="176.9" r="2.9" fill="none" stroke="#b0b0b0"/>
<circle class="u" cx="3.9" cy="183.1" r="2.1" fill="none" stroke="#a5a5a5"/>
<circle class="u" cx="6.4" cy="178.0" r="2.4" fill="none" stroke="#a4a4a4"/>
</g>
</svg>
<svg x="613.3" y="490.5" width="266.8" height="200.2" overflow="hidden">
<rect width="266.8" height="200.2" fill="#787878"/>
<g filter="url(#soft)">
<path d="M202.4 32.6a7.2 7.2 0 1 0 14.4 0a7.2 7.2 0 1 0 -14.4 0zM197.9 41.1a10.1 10.1 0 1 0 20.1 0a10.1 10.1 0 1 0 -20.1 0zM186.1 30.1a9.5 9.5 0 1 0 19.1 0a9.5 9.5 0 1 0 -19.1 0zM184.2 30.2a7.7 7.7 0 1 0 15.3 0a7.7 7.7 0 1 0 -15.3 0zM182.1 38.8a10.0 10.0 0 1 0 20.0 0a10.0 10.0 0 1 0 -20.0 0zM200.8 35.3a9.3 9.3 0 1 0 18.5 0a9.3 9.3 0 1 0 -18.5 0zM185.9 37.8a7.1 7.1 0 1 0 14.3 0a7.1 7.1 0 1 0 -14.3 0zM198.3 37.1a8.3 8.3 0 1 0 16.6 0a8.3 8.3 0 1 0 -16.6 0zM181.5 43.2a9.2 9.2 0 1 0 18.4 0a9.2 9.2 0 1 0 -18.4 0zM186.4 33.6a7.1 7.1 0 1 0 14.2 0a7.1 7.1 0 1 0 -14.2 0zM187.7 39.5a9.1 9.1 0 1 0 18.3 0a9.1 9.1 0 1 0 -18.3 0zM200.6 35.6a7.7 7.7 0 1 0 15.5 0a7.7 7.7 0 1 0 -15.5 0zM196.8 29.3a10.1 10.1 0 1 0 20.1 0a10.1 10.1 0 1 0 -20.1 0z" fill="none" stroke="#aaaaaa" stroke-width="2.6"/>
<path d="M202.4 32.6a7.2 7.2 0 1 0 14.4 0a7.2 7.2 0 1 0 -14.4 0zM197.9 41.1a10.1 10.1 0 1 0 20.1 0a10.1 10.1 0 1 0 -20.1 0zM186.1 30.1a9.5 9.5 0 1 0 19.1 0a9.5 9.5 0 1 0 -19.1 0zM184.2 30.2a7.7 7.7 0 1 0 15.3 0a7.7 7.7 0 1 0 -15.3 0zM182.1 38.8a10.0 10.0 0 1 0 20.0 0a10.0 10.0 0 1 0 -20.0 0zM200.8 35.3a9.3 9.3 0 1 0 18.5 0a9.3 9.3 0 1 0 -18.5 0zM185.9 37.8a7.1 7.1 0 1 0 14.3 0a7.1 7.1 0 1 0 -14.3 0zM198.3 37.1a8.3 8.3 0 1 0 16.6 0a8.3 8.3 0 1 0 -16.6 0zM181.5 43.2a9.2 9.2 0 1 0 18.4 0a9.2 9.2 0 1 0 -18.4 0zM186.4 33.6a7.1 7.1 0 1 0 14.2 0a7.1 7.1 0 1 0 -14.2 0zM187.7 39.5a9.1 9.1 0 1 0 18.3 0a9.1 9.1 0 1 0 -18.3 0zM200.6 35.6a7.7 7.7 0 1 0 15.5 0a7.7 7.7 0 1 0 -15.5 0zM196.8 29.3a10.1 10.1 0 1 0 20.1 0a10.1 10.1 0 1 0 -20.1 0z" fill="#7a7a7a"/>
<path d="M202.4 32.6a7.2 7.2 0 1 0 14.4 0a7.2 7.2 0 1 0 -14.4 0zM197.9 41.1a10.1 10.1 0 1 0 20.1 0a10.1 10.1 0 1 0 -20.1 0zM186.1 30.1a9.5 9.5 0 1 0 19.1 0a9.5 9.5 0 1 0 -19.1 0zM184.2 30.2a7.7 7.7 0 1 0 15.3 0a7.7 7.7 0 1 0 -15.3 0zM182.1 38.8a10.0 10.0 0 1 0 20.0 0a10.0 10.0 0 1 0 -20.0 0zM200.8 35.3a9.3 9.3 0 1 0 18.5 0a9.3 9.3 0 1 0 -18.5 0zM185.9 37.8a7.1 7.1 0 1 0 14.3 0a7.1 7.1 0 1 0 -14.3 0zM198.3 37.1a8.3 8.3 0 1 0 16.6 0a8.3 8.3 0 1 0 -16.6 0zM181.5 43.2a9.2 9.2 0 1 0 18.4 0a9.2 9.2 0 1 0 -18.4 0zM186.4 33.6a7.1 7.1 0 1 0 14.2 0a7.1 7.1 0 1 0 -14.2 0zM187.7 39.5a9.1 9.1 0 1 0 18.3 0a9.1 9.1 0 1 0 -18.3 0zM200.6 35.6a7.7 7.7 0 1 0 15.5 0a7.7 7.7 0 1 0 -15.5 0zM196.8 29.3a10.1 10.1 0 1 0 20.1 0a10.1 10.1 0 1 0 -20.1 0z" fill="url(#pp)"/>
<circle class="u" cx="211.5" cy="27.3" r="3.4" fill="none" stroke="#a8a8a8"/>
<circle class="u" cx="215.8" cy="33.7" r="2.3" fill="none" stroke="#b6b6b6"/>
<circle class="u" cx="196.2" cy="24.1" r="3.0" fill="none" stroke="#adadad"/>
<circle class="u" cx="209.8" cy="30.1" r="3.5" fill="none" stroke="#a8a8a8"/>
<circle class="u" cx="211.0" cy="24.6" r="2.8" fill="none" stroke="#b0b0b0"/>
<circle class="u" cx="211.8" cy="28.6" r="2.9" fill="none" stroke="#a3a3a3"/>
<circle class="u" cx="192.2" cy="48.7" r="2.3" fill="none" stroke="#bcbcbc"/>
<circle class="u" cx="196.9" cy="52.3" r="2.6" fill="none" stroke="#bebebe"/>
<circle class="u" cx="195.4" cy="23.8" r="2.9" fill="none" stroke="#b3b3b3"/>
<circle class="u" cx="190.5" cy="30.6" r="2.4" fill="none" stroke="#adadad"/>
<circle class="u" cx="211.4" cy="30.2" r="2.1" fill="none" stroke="#b9b9b9"/>
<circle class="u" cx="196.3" cy="19.3" r="2.3" fill="none" stroke="#b6b6b6"/>
<circle class="u" cx="211.9" cy="40.8" r="2.5" fill="none" stroke="#a3a3a3"/>
<circle class="u" cx="202.8" cy="31.7" r="2.9" fill="none" stroke="#bababa"/>
<circle class="u" cx="199.0" cy="43.7" r="3.6" fill="none" stroke="#aaaaaa"/>
<circle class="u" cx="198.1" cy="32.7" r="2.7" fill="none" stroke="#a1a1a1"/>
<circle class="u" cx="196.4" cy="31.3" r="3.7" fill="none" stroke="#9b9b9b"/>
<circle class="u" cx="198.4" cy="33.2" r="2.5" fill="none" stroke="#b9b9b9"/>
<circle class="u" cx="202.9" cy="42.0" r="3.2" fill="none" stroke="#a9a9a9"/>
<circle class="u" cx="215.5" cy="40.4" r="2.3" fill="none" stroke="#9c9c9c"/>
<circle class="u" cx="191.1" cy="47.1" r="3.3" fill="none" stroke="#9f9f9f"/>
<circle class="u" cx="197.2" cy="38.3" r="2.8" fill="none" stroke="#b7b7b7"/>
<circle class="u" cx="197.7" cy="19.2" r="3.4" fill="none" stroke="#bababa"/>
<circle class="u" cx="195.4" cy="24.2" r="2.4" fill="none" stroke="#b3b3b3"/>
<circle class="u" cx="196.5" cy="40.8" r="2.8" fill="none" stroke="#bbbbbb"/>
<circle class="u" cx="208.1" cy="45.3" r="2.7" fill="none" stroke="#aeaeae"/>
<circle class="u" cx="209.3" cy="49.2" r="2.5" fill="none" stroke="#b1b1b1"/>
<circle class="u" cx="196.7" cy="36.8" r="3.0" fill="none" stroke="#a0a0a0"/>
<circle class="u" cx="201.8" cy="36.8" r="2.3" fill="none" stroke="#9e9e9e"/>
<circle class="u" cx="190.5" cy="26.4" r="3.8" fill="none" stroke="#bdbdbd"/>
<circle class="u" cx="207.2" cy="35.4" r="2.8" fill="none" stroke="#a4a4a4"/>
<circle class="u" cx="187.2" cy="28.2" r="3.4" fill="none" stroke="#b5b5b5"/>
<circle class="u" cx="198.3" cy="47.1" r="2.9" fill="none" stroke="#9b9b9b"/>
<circle class="u" cx="209.6" cy="38.2" r="2.2" fill="none" stroke="#b5b5b5"/>
<circle class="u" cx="199.1" cy="41.2" r="2.3" fill="none" stroke="#a3a3a3"/>
<circle class="u" cx="201.3" cy="48.1" r="2.8" fill="none" stroke="#a6a6a6"/>
<circle class="u" cx="193.7" cy="29.5" r="3.6" fill="none" stroke="#bebebe"/>
<path d="M215.6 65.2a3.3 3.3 0 1 0 6.6 0a3.3 3.3 0 1 0 -6.6 0z" fill="none" stroke="#aaaaaa" stroke-width="2.6"/>
<path d="M215.6 65.2a3.3 3.3 0 1 0 6.6 0a3.3 3.3 0 1 0 -6.6 0z" fill="#7e7e7e"/>
<path d="M215.6 65.2a3.3 3.3 0 1 0 6.6 0a3.3 3.3 0 1 0 -6.6 0z" fill="url(#pp)"/>
<path d="M106.5 90.8a10.3 10.3 0 1 0 20.7 0a10.3 10.3 0 1 0 -20.7 0zM105.5 97.9a9.9 9.9 0 1 0 19.8 0a9.9 9.9 0 1 0 -19.8 0zM104.1 98.5a8.4 8.4 0 1 0 16.7 0a8.4 8.4 0 1 0 -16.7 0zM110.2 91.8a10.4 10.4 0 1 0 20.8 0a10.4 10.4 0 1 0 -20.8 0zM117.8 94.5a9.3 9.3 0 1 0 18.6 0a9.3 9.3 0 1 0 -18.6 0zM118.0 98.5a8.0 8.0 0 1 0 16.0 0a8.0 8.0 0 1 0 -16.0 0zM107.0 95.5a9.4 9.4 0 1 0 18.7 0a9.4 9.4 0 1 0 -18.7 0zM115.9 90.3a8.0 8.0 0 1 0 16.0 0a8.0 8.0 0 1 0 -16.0 0zM99.7 101.9a10.2 10.2 0 1 0 20.5 0a10.2 10.2 0 1 0 -20.5 0zM112.4 109.2a8.3 8.3 0 1 0 16.5 0a8.3 8.3 0 1 0 -16.5 0zM103.9 107.3a12.4 12.4 0 1 0 24.7 0a12.4 12.4 0 1 0 -24.7 0zM119.3 104.7a8.8 8.8 0 1 0 17.7 0a8.8 8.8 0 1 0 -17.7 0zM100.5 95.8a10.1 10.1 0 1 0 20.2 0a10.1 10.1 0 1 0 -20.2 0zM109.7 91.1a8.5 8.5 0 1 0 17.0 0a8.5 8.5 0 1 0 -17.0 0zM108.8 102.0a12.0 12.0 0 1 0 23.9 0a12.0 12.0 0 1 0 -23.9 0z" fill="none" stroke="#aaaaaa" stroke-width="2.6"/>
<path d="M106.5 90.8a10.3 10.3 0 1 0 20.7 0a10.3 10.3 0 1 0 -20.7 0zM105.5 97.9a9.9 9.9 0 1 0 19.8 0a9.9 9.9 0 1 0 -19.8 0zM104.1 98.5a8.4 8.4 0 1 0 16.7 0a8.4 8.4 0 1 0 -16.7 0zM110.2 91.8a10.4 10.4 0 1 0 20.8 0a10.4 10.4 0 1 0 -20.8 0zM117.8 94.5a9.3 9.3 0 1 0 18.6 0a9.3 9.3 0 1 0 -18.6 0zM118.0 98.5a8.0 8.0 0 1 0 16.0 0a8.0 8.0 0 1 0 -16.0 0zM107.0 95.5a9.4 9.4 0 1 0 18.7 0a9.4 9.4 0 1 0 -18.7 0zM115.9 90.3a8.0 8.0 0 1 0 16.0 0a8.0 8.0 0 1 0 -16.0 0zM99.7 101.9a10.2 10.2 0 1 0 20.5 0a10.2 10.2 0 1 0 -20.5 0zM112.4 109.2a8.3 8.3 0 1 0 16.5 0a8.3 8.3 0 1 0 -16.5 0zM103.9 107.3a12.4 12.4 0 1 0 24.7 0a12.4 12.4 0 1 0 -24.7 0zM119.3 104.7a8.8 8.8 0 1 0 17.7 0a8.8 8.8 0 1 0 -17.7 0zM100.5 95.8a10.1 10.1 0 1 0 20.2 0a10.1 10.1 0 1 0 -20.2 0zM109.7 91.1a8.5 8.5 0 1 0 17.0 0a8.5 8.5 0 1 0 -17.0 0zM108.8 102.0a12.0 12.0 0 1 0 23.9 0a12.0 12.0 0 1 0 -23.9 0z" fill="#7a7a7a"/>
<path d="M106.5 90.8a10.3 10.3 0 1 0 20.7 0a10.3 10.3 0 1 0 -20.7 0zM105.5 97.9a9.9 9.9 0 1 0 19.8 0a9.9 9.9 0 1 0 -19.8 0zM104.1 98.5a8.4 8.4 0 1 0 16.7 0a8.4 8.4 0 1 0 -16.7 0zM110.2 91.8a10.4 10.4 0 1 0 20.8 0a10.4 10.4 0 1 0 -20.8 0zM117.8 94.5a9.3 9.3 0 1 0 18.6 0a9.3 9.3 0 1 0 -18.6 0zM118.0 98.5a8.0 8.0 0 1 0 16.0 0a8.0 8.0 0 1 0 -16.0 0zM107.0 95.5a9.4 9.4 0 1 0 18.7 0a9.4 9.4 0 1 0 -18.7 0zM115.9 90.3a8.0 8.0 0 1 0 16.0 0a8.0 8.0 0 1 0 -16.0 0zM99.7 101.9a10.2 10.2 0 1 0 20.5 0a10.2 10.2 0 1 0 -20.5 0zM112.4 109.2a8.3 8.3 0 1 0 16.5 0a8.3 8.3 0 1 0 -16.5 0zM103.9 107.3a12.4 12.4 0 1 0 24.7 0a12.4 12.4 0 1 0 -24.7 0zM119.3 104.7a8.8 8.8 0 1 0 17.7 0a8.8 8.8 0 1 0 -17.7 0zM100.5 95.8a10.1 10.1 0 1 0 20.2 0a10.1 10.1 0 1 0 -20.2 0zM109.7 91.1a8.5 8.5 0 1 0 17.0 0a8.5 8.5 0 1 0 -17.0 0zM108.8 102.0a12.0 12.0 0 1 0 23.9 0a12.0 12.0 0 1 0 -23.9 0z" fill="url(#pp)"/>
<circle class="u" cx="105.7" cy="84.4" r="3.2" fill="none" stroke="#9b9b9b"/>
<circle class="u" cx="108.6" cy="84.7" r="3.3" fill="none" stroke="#adadad"/>
<circle class="u" cx="109.6" cy="109.8" r="3.4" fill="none" stroke="#a4a4a4"/>
<circle class="u" cx="104.5" cy="97.1" r="3.7" fill="none" stroke="#b8b8b8"/>
<circle class="u" cx="134.5" cy="91.9" r="2.5" fill="none" stroke="#a3a3a3"/>
<circle class="u" cx="108.0" cy="100.1" r="2.8" fill="none" stroke="#b4b4b4"/>
<circle class="u" cx="131.2" cy="92.0" r="3.5" fill="none" stroke="#9e9e9e"/>
<circle class="u" cx="105.8" cy="114.9" r="2.3" fill="none" stroke="#aaaaaa"/>
<circle class="u" cx="123.3" cy="101.7" r="3.6" fill="none" stroke="#bfbfbf"/>
<circle class="u" cx="113.8" cy="93.7" r="2.5" fill="none" stroke="#a3a3a3"/>
<circle class="u" cx="110.2" cy="85.0" r="2.8" fill="none" stroke="#aeaeae"/>
<circle class="u" cx="129.1" cy="108.8" r="3.7" fill="none" stroke="#b6b6b6"/>
<circle class="u" cx="129.7" cy="107.5" r="3.3" fill="none" stroke="#a4a4a4"/>
<circle class="u" cx="128.6" cy="91.1" r="3.3" fill="none" stroke="#a9a9a9"/>
<circle class="u" cx="135.5" cy="98.8" r="3.0" fill="none" stroke="#a0a0a0"/>
<circle class="u" cx="114.8" cy="100.6" r="3.1" fill="none" stroke="#bbbbbb"/>
<circle class="u" cx="124.0" cy="112.2" r="2.9" fill="none" stroke="#a9a9a9"/>
<circle class="u" cx="113.3" cy="80.8" r="3.3" fill="none" stroke="#acacac"/>
<circle class="u" cx="129.1" cy="96.7" r="3.3" fill="none" stroke="#b3b3b3"/>
<circle class="u" cx="119.3" cy="81.2" r="2.4" fill="none" stroke="#b1b1b1"/>
<circle class="u" cx="104.8" cy="108.7" r="3.8" fill="none" stroke="#b2b2b2"/>
<circle class="u" cx="131.5" cy="100.4" r="3.3" fill="none" stroke="#bbbbbb"/>
<circle class="u" cx="107.5" cy="84.9" r="2.0" fill="none" stroke="#bdbdbd"/>
<circle class="u" cx="116.0" cy="84.1" r="3.6" fill="none" stroke="#bbbbbb"/>
<circle class="u" cx="132.4" cy="109.9" r="3.4" fill="none" stroke="#a2a2a2"/>
<circle class="u" cx="117.5" cy="84.2" r="2.3" fill="none" stroke="#b8b8b8"/>
<circle class="u" cx="128.0" cy="111.2" r="2.8" fill="none" stroke="#a4a4a4"/>
<circle class="u" cx="105.6" cy="93.9" r="2.4" fill="none" stroke="#bebebe"/>
<circle class="u" cx="119.0" cy="99.9" r="2.9" fill="none" stroke="#b9b9b9"/>
<circle class="u" cx="108.6" cy="85.0" r="2.9" fill="none" stroke="#b3b3b3"/>
<circle class="u" cx="112.8" cy="108.2" r="2.9" fill="none" stroke="#9c9c9c"/>
<circle class="u" cx="133.1" cy="107.6" r="2.3" fill="none" stroke="#b6b6b6"/>
<circle class="u" cx="120.7" cy="87.1" r="3.2" fill="none" stroke="#b8b8b8"/>
<circle class="u" cx="122.8" cy="93.9" r="2.3" fill="none" stroke="#a9a9a9"/>
<circle class="u" cx="107.5" cy="101.7" r="2.0" fill="none" stroke="#afafaf"/>
<circle class="u" cx="129.7" cy="96.9" r="3.0" fill="none" stroke="#a9a9a9"/>
<circle class="u" cx="100.7" cy="105.9" r="2.6" fill="none" stroke="#b3b3b3"/>
<circle class="u" cx="103.6" cy="100.9" r="3.6" fill="none" stroke="#9d9d9d"/>
<circle class="u" cx="122.9" cy="89.6" r="3.2" fill="none" stroke="#b8b8b8"/>
<circle class="u" cx="110.9" cy="89.2" r="3.5" fill="none" stroke="#9e9e9e"/>
<circle class="u" cx="109.7" cy="90.2" r="3.0" fill="none" stroke="#bababa"/>
<circle class="u" cx="122.7" cy="84.4" r="2.6" fill="none" stroke="#a3a3a3"/>
<circle class="u" cx="108.8" cy="101.9" r="2.5" fill="none" stroke="#bebebe"/>
<circle class="u" cx="131.7" cy="111.0" r="2.7" fill="none" stroke="#a8a8a8"/>
<circle class="u" cx="115.7" cy="104.4" r="2.8" fill="none" stroke="#a1a1a1"/>
<circle class="u" cx="108.0" cy="103.2" r="3.6" fill="none" stroke="#bdbdbd"/>
<circle class="u" cx="103.2" cy="105.0" r="3.7" fill="none" stroke="#a7a7a7"/>
<circle class="u" cx="125.8" cy="105.0" r="2.3" fill="none" stroke="#b4b4b4"/>
<path d="M131.8 101.9a11.7 11.7 0 1 0 23.4 0a11.7 11.7 0 1 0 -23.4 0zM139.4 108.1a10.9 10.9 0 1 0 21.9 0a10.9 10.9 0 1 0 -21.9 0zM129.8 103.3a9.5 9.5 0 1 0 19.1 0a9.5 9.5 0 1 0 -19.1 0zM147.9 87.5a10.3 10.3 0 1 0 20.6 0a10.3 10.3 0 1 0 -20.6 0zM132.9 84.3a11.4 11.4 0 1 0 22.9 0a11.4 11.4 0 1 0 -22.9 0zM136.8 84.0a12.4 12.4 0 1 0 24.7 0a12.4 12.4 0 1 0 -24.7 0zM140.1 83.2a9.3 9.3 0 1 0 18.6 0a9.3 9.3 0 1 0 -18.6 0zM131.6 88.8a9.7 9.7 0 1 0 19.3 0a9.7 9.7 0 1 0 -19.3 0zM132.2 99.7a12.5 12.5 0 1 0 24.9 0a12.5 12.5 0 1 0 -24.9 0zM131.4 103.5a12.2 12.2 0 1 0 24.3 0a12.2 12.2 0 1 0 -24.3 0zM145.6 108.2a8.5 8.5 0 1 0 17.0 0a8.5 8.5 0 1 0 -17.0 0zM147.1 97.6a9.6 9.6 0 1 0 19.3 0a9.6 9.6 0 1 0 -19.3 0zM148.3 90.1a11.5 11.5 0 1 0 23.1 0a11.5 11.5 0 1 0 -23.1 0zM131.1 100.1a9.0 9.0 0 1 0 18.1 0a9.0 9.0 0 1 0 -18.1 0zM143.9 89.1a9.3 9.3 0 1 0 18.5 0a9.3 9.3 0 1 0 -18.5 0z" fill="none" stroke="#aaaaaa" stroke-width="2.6"/>
<path d="M131.8 101.9a11.7 11.7 0 1 0 23.4 0a11.7 11.7 0 1 0 -23.4 0zM139.4 108.1a10.9 10.9 0 1 0 21.9 0a10.9 10.9 0 1 0 -21.9 0zM129.8 103.3a9.5 9.5 0 1 0 19.1 0a9.5 9.5 0 1 0 -19.1 0zM147.9 87.5a10.3 10.3 0 1 0 20.6 0a10.3 10.3 0 1 0 -20.6 0zM132.9 84.3a11.4 11.4 0 1 0 22.9 0a11.4 11.4 0 1 0 -22.9 0zM136.8 84.0a12.4 12.4 0 1 0 24.7 0a12.4 12.4 0 1 0 -24.7 0zM140.1 83.2a9.3 9.3 0 1 0 18.6 0a9.3 9.3 0 1 0 -18.6 0zM131.6 88.8a9.7 9.7 0 1 0 19.3 0a9.7 9.7 0 1 0 -19.3 0zM132.2 99.7a12.5 12.5 0 1 0 24.9 0a12.5 12.5 0 1 0 -24.9 0zM131.4 103.5a12.2 12.2 0 1 0 24.3 0a12.2 12.2 0 1 0 -24.3 0zM145.6 108.2a8.5 8.5 0 1 0 17.0 0a8.5 8.5 0 1 0 -17.0 0zM147.1 97.6a9.6 9.6 0 1 0 19.3 0a9.6 9.6 0 1 0 -19.3 0zM148.3 90.1a11.5 11.5 0 1 0 23.1 0a11.5 11.5 0 1 0 -23.1 0zM131.1 100.1a9.0 9.0 0 1 0 18.1 0a9.0 9.0 0 1 0 -18.1 0zM143.9 89.1a9.3 9.3 0 1 0 18.5 0a9.3 9.3 0 1 0 -18.5 0z" fill="#7a7a7a"/>
<path d="M131.8 101.9a11.7 11.7 0 1 0 23.4 0a11.7 11.7 0 1 0 -23.4 0zM139.4 108.1a10.9 10.9 0 1 0 21.9 0a10.9 10.9 0 1 0 -21.9 0zM129.8 103.3a9.5 9.5 0 1 0 19.1 0a9.5 9.5 0 1 0 -19.1 0zM147.9 87.5a10.3 10.3 0 1 0 20.6 0a10.3 10.3 0 1 0 -20.6 0zM132.9 84.3a11.4 11.4 0 1 0 22.9 0a11.4 11.4 0 1 0 -22.9 0zM136.8 84.0a12.4 12.4 0 1 0 24.7 0a12.4 12.4 0 1 0 -24.7 0zM140.1 83.2a9.3 9.3 0 1 0 18.6 0a9.3 9.3 0 1 0 -18.6 0zM131.6 88.8a9.7 9.7 0 1 0 19.3 0a9.7 9.7 0 1 0 -19.3 0zM132.2 99.7a12.5 12.5 0 1 0 24.9 0a12.5 12.5 0 1 0 -24.9 0zM131.4 103.5a12.2 12.2 0 1 0 24.3 0a12.2 12.2 0 1 0 -24.3 0zM145.6 108.2a8.5 8.5 0 1 0 17.0 0a8.5 8.5 0 1 0 -17.0 0zM147.1 97.6a9.6 9.6 0 1 0 19.3 0a9.6 9.6 0 1 0 -19.3 0zM148.3 90.1a11.5 11.5 0 1 0 23.1 0a11.5 11.5 0 1 0 -23.1 0zM131.1 100.1a9.0 9.0 0 1 0 18.1 0a9.0 9.0 0 1 0 -18.1 0zM143.9 89.1a9.3 9.3 0 1 0 18.5 0a9.3 9.3 0 1 0 -18.5 0z" fill="url(#pp)"/>
<circle class="u" cx="144.1" cy="90.4" r="2.6" fill="none" stroke="#bdbdbd"/>
<circle class="u" cx="155.2" cy="100.5" r="2.4" fill="none" stroke="#a4a4a4"/>
<circle class="u" cx="140.4" cy="101.0" r="2.6" fill="none" stroke="#a4a4a4"/>
<circle class="u" cx="150.0" cy="111.7" r="2.6" fill="none" stroke="#a8a8a8"/>
<circle class="u" cx="149.6" cy="91.4" r="2.3" fill="none" stroke="#bababa"/>
<circle class="u" cx="133.3" cy="103.7" r="2.2" fill="none" stroke="#aeaeae"/>
<circle class="u" cx="155.6" cy="86.8" r="3.4" fill="none" stroke="#b1b1b1"/>
<circle class="u" cx="133.5" cy="108.4" r="2.7" fill="none" stroke="#acacac"/>
<circle class="u" cx="140.9" cy="88.7" r="3.5" fill="none" stroke="#b1b1b1"/>
<circle class="u" cx="136.7" cy="88.6" r="3.8" fill="none" stroke="#bfbfbf"/>
<circle class="u" cx="156.3" cy="85.0" r="2.7" fill="none" stroke="#aeaeae"/>
<circle class="u" cx="155.3" cy="98.1" r="3.8" fill="none" stroke="#9f9f9f"/>
<circle class="u" cx="164.1" cy="90.0" r="3.6" fill="none" stroke="#9d9d9d"/>
<circle class="u" cx="143.0" cy="112.9" r="2.0" fill="none" stroke="#9e9e9e"/>
<circle class="u" cx="144.2" cy="102.9" r="2.3" fill="none" stroke="#b3b3b3"/>
<circle class="u" cx="165.4" cy="106.9" r="3.2" fill="none" stroke="#9c9c9c"/>
<circle class="u" cx="156.9" cy="90.5" r="2.9" fill="none" stroke="#afafaf"/>
<circle class="u" cx="158.1" cy="107.0" r="2.1" fill="none" stroke="#a2a2a2"/>
<circle class="u" cx="164.7" cy="87.5" r="2.9" fill="none" stroke="#b4b4b4"/>
<circle class="u" cx="154.3" cy="91.1" r="2.9" fill="none" stroke="#9f9f9f"/>
<circle class="u" cx="153.9" cy="100.6" r="2.4" fill="none" stroke="#9c9c9c"/>
<circle class="u" cx="151.7" cy="108.2" r="3.1" fill="none" stroke="#bababa"/>
<circle class="u" cx="162.9" cy="86.8" r="2.9" fill="none" stroke="#bcbcbc"/>
<circle class="u" cx="152.4" cy="101.8" r="3.5" fill="none" stroke="#b2b2b2"/>
<circle class="u" cx="152.1" cy="108.1" r="2.5" fill="none" stroke="#aaaaaa"/>
<circle class="u" cx="137.8" cy="101.8" r="3.4" fill="none" stroke="#b9b9b9"/>
<circle class="u" cx="136.5" cy="91.1" r="2.5" fill="none" stroke="#b7b7b7"/>
<circle class="u" cx="158.5" cy="95.5" r="3.3" fill="none" stroke="#b4b4b4"/>
<circle class="u" cx="147.2" cy="93.4" r="3.0" fill="none" stroke="#a2a2a2"/>
<circle class="u" cx="154.2" cy="110.4" r="3.2" fill="none" stroke="#b2b2b2"/>
<circle class="u" cx="148.3" cy="79.7" r="2.9" fill="none" stroke="#9c9c9c"/>
<circle class="u" cx="151.6" cy="78.5" r="3.5" fill="none" stroke="#b1b1b1"/>
<circle class="u" cx="157.6" cy="98.4" r="2.2" fill="none" stroke="#b2b2b2"/>
<circle class="u" cx="140.8" cy="93.9" r="3.7" fill="none" stroke="#bfbfbf"/>
<circle class="u" cx="159.9" cy="88.3" r="2.5" fill="none" stroke="#a2a2a2"/>
<circle class="u" cx="156.5" cy="81.5" r="2.5" fill="none" stroke="#bcbcbc"/>
<circle class="u" cx="137.5" cy="90.9" r="2.7" fill="none" stroke="#b5b5b5"/>
<circle class="u" cx="133.6" cy="100.7" r="2.2" fill="none" stroke="#b4b4b4"/>
<circle class="u" cx="146.4" cy="115.0" r="2.4" fill="none" stroke="#a7a7a7"/>
<circle class="u" cx="137.0" cy="93.3" r="2.9" fill="none" stroke="#bdbdbd"/>
<circle class="u" cx="154.3" cy="112.9" r="3.2" fill="none" stroke="#b8b8b8"/>
<circle class="u" cx="136.4" cy="100.6" r="2.6" fill="none" stroke="#acacac"/>
<circle class="u" cx="148.8" cy="104.9" r="2.9" fill="none" stroke="#a2a2a2"/>
<circle class="u" cx="134.4" cy="99.1" r="2.6" fill="none" stroke="#a1a1a1"/>
<circle class="u" cx="134.6" cy="85.0" r="2.4" fill="none" stroke="#b1b1b1"/>
<circle class="u" cx="139.0" cy="80.6" r="3.2" fill="none" stroke="#a6a6a6"/>
<circle class="u" cx="153.9" cy="113.7" r="2.5" fill="none" stroke="#9b9b9b"/>
<circle class="u" cx="155.1" cy="89.9" r="2.6" fill="none" stroke="#a6a6a6"/>
<path d="M124.7 121.7a8.4 8.4 0 1 0 16.8 0a8.4 8.4 0 1 0 -16.8 0zM116.0 114.6a10.5 10.5 0 1 0 21.0 0a10.5 10.5 0 1 0 -21.0 0zM134.8 112.8a7.5 7.5 0 1 0 15.1 0a7.5 7.5 0 1 0 -15.1 0zM130.3 119.2a8.6 8.6 0 1 0 17.1 0a8.6 8.6 0 1 0 -17.1 0zM130.9 115.3a10.8 10.8 0 1 0 21.6 0a10.8 10.8 0 1 0 -21.6 0zM118.2 105.3a10.3 10.3 0 1 0 20.7 0a10.3 10.3 0 1 0 -20.7 0zM129.2 109.5a8.2 8.2 0 1 0 16.5 0a8.2 8.2 0 1 0 -16.5 0zM136.6 109.3a7.8 7.8 0 1 0 15.7 0a7.8 7.8 0 1 0 -15.7 0zM120.9 101.4a9.5 9.5 0 1 0 18.9 0a9.5 9.5 0 1 0 -18.9 0zM123.1 103.7a8.0 8.0 0 1 0 15.9 0a8.0 8.0 0 1 0 -15.9 0zM124.4 114.6a9.8 9.8 0 1 0 19.6 0a9.8 9.8 0 1 0 -19.6 0zM130.8 118.8a8.6 8.6 0 1 0 17.3 0a8.6 8.6 0 1 0 -17.3 0zM114.3 116.3a8.6 8.6 0 1 0 17.3 0a8.6 8.6 0 1 0 -17.3 0z" fill="none" stroke="#aaaaaa" stroke-width="2.6"/>
<path d="M124.7 121.7a8.4 8.4 0 1 0 16.8 0a8.4 8.4 0 1 0 -16.8 0zM116.0 114.6a10.5 10.5 0 1 0 21.0 0a10.5 10.5 0 1 0 -21.0 0zM134.8 112.8a7.5 7.5 0 1 0 15.1 0a7.5 7.5 0 1 0 -15.1 0zM130.3 119.2a8.6 8.6 0 1 0 17.1 0a8.6 8.6 0 1 0 -17.1 0zM130.9 115.3a10.8 10.8 0 1 0 21.6 0a10.8 10.8 0 1 0 -21.6 0zM118.2 105.3a10.3 10.3 0 1 0 20.7 0a10.3 10.3 0 1 0 -20.7 0zM129.2 109.5a8.2 8.2 0 1 0 16.5 0a8.2 8.2 0 1 0 -16.5 0zM136.6 109.3a7.8 7.8 0 1 0 15.7 0a7.8 7.8 0 1 0 -15.7 0zM120.9 101.4a9.5 9.5 0 1 0 18.9 0a9.5 9.5 0 1 0 -18.9 0zM123.1 103.7a8.0 8.0 0 1 0 15.9 0a8.0 8.0 0 1 0 -15.9 0zM124.4 114.6a9.8 9.8 0 1 0 19.6 0a9.8 9.8 0 1 0 -19.6 0zM130.8 118.8a8.6 8.6 0 1 0 17.3 0a8.6 8.6 0 1 0 -17.3 0zM114.3 116.3a8.6 8.6 0 1 0 17.3 0a8.6 8.6 0 1 0 -17.3 0z" fill="#7a7a7a"/>
<path d="M124.7 121.7a8.4 8.4 0 1 0 16.8 0a8.4 8.4 0 1 0 -16.8 0zM116.0 114.6a10.5 10.5 0 1 0 21.0 0a10.5 10.5 0 1 0 -21.0 0zM134.8 112.8a7.5 7.5 0 1 0 15.1 0a7.5 7.5 0 1 0 -15.1 0zM130.3 119.2a8.6 8.6 0 1 0 17.1 0a8.6 8.6 0 1 0 -17.1 0zM130.9 115.3a10.8 10.8 0 1 0 21.6 0a10.8 10.8 0 1 0 -21.6 0zM118.2 105.3a10.3 10.3 0 1 0 20.7 0a10.3 10.3 0 1 0 -20.7 0zM129.2 109.5a8.2 8.2 0 1 0 16.5 0a8.2 8.2 0 1 0 -16.5 0zM136.6 109.3a7.8 7.8 0 1 0 15.7 0a7.8 7.8 0 1 0 -15.7 0zM120.9 101.4a9.5 9.5 0 1 0 18.9 0a9.5 9.5 0 1 0 -18.9 0zM123.1 103.7a8.0 8.0 0 1 0 15.9 0a8.0 8.0 0 1 0 -15.9 0zM124.4 114.6a9.8 9.8 0 1 0 19.6 0a9.8 9.8 0 1 0 -19.6 0zM130.8 118.8a8.6 8.6 0 1 0 17.3 0a8.6 8.6 0 1 0 -17.3 0zM114.3 116.3a8.6 8.6 0 1 0 17.3 0a8.6 8.6 0 1 0 -17.3 0z" fill="url(#pp)"/>
<circle class="u" cx="122.9" cy="113.5" r="2.4" fill="none" stroke="#a3a3a3"/>
<circle class="u" cx="118.1" cy="108.6" r="2.2" fill="none" stroke="#bdbdbd"/>
<circle class="u" cx="131.7" cy="108.2" r="3.3" fill="none" stroke="#a9a9a9"/>
<circle class="u" cx="128.0" cy="111.3" r="2.9" fill="none" stroke="#aeaeae"/>
<circle class="u" cx="136.2" cy="98.8" r="3.3" fill="none" stroke="#b6b6b6"/>
<circle class="u" cx="134.0" cy="114.5" r="2.9" fill="none" stroke="#9f9f9f"/>
<circle class="u" cx="139.8" cy="119.5" r="3.0" fill="none" stroke="#b1b1b1"/>
<circle class="u" cx="123.3" cy="98.3" r="2.2" fill="none" stroke="#afafaf"/>
<circle class="u" cx="145.8" cy="119.2" r="2.8" fill="none" stroke="#a0a0a0"/>
<circle class="u" cx="128.3" cy="125.0" r="2.9" fill="none" stroke="#bdbdbd"/>
<circle class="u" cx="127.3" cy="119.8" r="3.7" fill="none" stroke="#b1b1b1"/>
<circle class="u" cx="145.6" cy="121.4" r="2.7" fill="none" stroke="#bebebe"/>
<circle class="u" cx="123.2" cy="100.0" r="3.6" fill="none" stroke="#adadad"/>
<circle class="u" cx="136.3" cy="111.2" r="2.6" fill="none" stroke="#b9b9b9"/>
<circle class="u" cx="147.8" cy="112.5" r="3.8" fill="none" stroke="#b5b5b5"/>
<circle class="u" cx="136.7" cy="108.1" r="3.0" fill="none" stroke="#b1b1b1"/>
<circle class="u" cx="123.1" cy="116.3" r="3.4" fill="none" stroke="#a1a1a1"/>
<circle class="u" cx="146.5" cy="115.6" r="3.7" fill="none" stroke="#b9b9b9"/>
<circle class="u" cx="129.1" cy="103.4" r="3.6" fill="none" stroke="#9c9c9c"/>
<circle class="u" cx="133.9" cy="127.3" r="3.6" fill="none" stroke="#a9a9a9"/>
<circle class="u" cx="138.4" cy="108.7" r="3.1" fill="none" stroke="#9d9d9d"/>
<circle class="u" cx="134.3" cy="119.4" r="2.0" fill="none" stroke="#a9a9a9"/>
<circle class="u" cx="124.3" cy="111.8" r="3.2" fill="none" stroke="#9c9c9c"/>
<circle class="u" cx="120.9" cy="110.4" r="2.7" fill="none" stroke="#bcbcbc"/>
<circle class="u" cx="141.5" cy="120.0" r="2.8" fill="none" stroke="#a8a8a8"/>
<circle class="u" cx="146.6" cy="109.6" r="2.9" fill="none" stroke="#ababab"/>
<circle class="u" cx="117.8" cy="118.3" r="3.4" fill="none" stroke="#b2b2b2"/>
<circle class="u" cx="140.6" cy="123.3" r="2.2" fill="none" stroke="#a7a7a7"/>
<circle class="u" cx="148.1" cy="113.9" r="3.8" fill="none" stroke="#b2b2b2"/>
<circle class="u" cx="125.6" cy="108.1" r="2.8" fill="none" stroke="#acacac"/>
<circle class="u" cx="125.5" cy="116.0" r="2.4" fill="none" stroke="#b6b6b6"/>
<circle class="u" cx="148.7" cy="107.1" r="3.1" fill="none" stroke="#9c9c9c"/>
<circle class="u" cx="128.4" cy="127.0" r="3.8" fill="none" stroke="#afafaf"/>
<circle class="u" cx="120.4" cy="105.7" r="2.4" fill="none" stroke="#b5b5b5"/>
<circle class="u" cx="122.9" cy="123.9" r="2.8" fill="none" stroke="#b3b3b3"/>
<circle class="u" cx="121.6" cy="107.4" r="2.8" fill="none" stroke="#bebebe"/>
<circle class="u" cx="133.9" cy="100.5" r="2.9" fill="none" stroke="#bcbcbc"/>
<path d="M211.8 121.0a14.7 14.7 0 1 0 29.4 0a14.7 14.7 0 1 0 -29.4 0zM222.8 141.6a12.8 12.8 0 1 0 25.6 0a12.8 12.8 0 1 0 -25.6 0zM197.4 137.8a14.7 14.7 0 1 0 29.4 0a14.7 14.7 0 1 0 -29.4 0zM203.7 141.3a13.6 13.6 0 1 0 27.2 0a13.6 13.6 0 1 0 -27.2 0zM209.8 124.7a13.8 13.8 0 1 0 27.6 0a13.8 13.8 0 1 0 -27.6 0zM210.2 138.4a13.0 13.0 0 1 0 26.1 0a13.0 13.0 0 1 0 -26.1 0zM208.7 125.5a12.1 12.1 0 1 0 24.2 0a12.1 12.1 0 1 0 -24.2 0zM229.0 132.5a11.6 11.6 0 1 0 23.2 0a11.6 11.6 0 1 0 -23.2 0zM225.1 127.4a11.6 11.6 0 1 0 23.2 0a11.6 11.6 0 1 0 -23.2 0zM204.1 122.6a14.3 14.3 0 1 0 28.7 0a14.3 14.3 0 1 0 -28.7 0zM209.1 122.4a11.6 11.6 0 1 0 23.1 0a11.6 11.6 0 1 0 -23.1 0zM226.9 136.2a10.0 10.0 0 1 0 19.9 0a10.0 10.0 0 1 0 -19.9 0zM222.7 130.2a12.7 12.7 0 1 0 25.4 0a12.7 12.7 0 1 0 -25.4 0zM212.0 127.0a14.0 14.0 0 1 0 28.0 0a14.0 14.0 0 1 0 -28.0 0zM212.0 137.5a12.7 12.7 0 1 0 25.3 0a12.7 12.7 0 1 0 -25.3 0zM202.7 142.1a11.8 11.8 0 1 0 23.6 0a11.8 11.8 0 1 0 -23.6 0zM219.0 134.7a9.5 9.5 0 1 0 19.0 0a9.5 9.5 0 1 0 -19.0 0zM204.0 134.1a9.6 9.6 0 1 0 19.2 0a9.6 9.6 0 1 0 -19.2 0z" fill="none" stroke="#aaaaaa" stroke-width="2.6"/>
<path d="M211.8 121.0a14.7 14.7 0 1 0 29.4 0a14.7 14.7 0 1 0 -29.4 0zM222.8 141.6a12.8 12.8 0 1 0 25.6 0a12.8 12.8 0 1 0 -25.6 0zM197.4 137.8a14.7 14.7 0 1 0 29.4 0a14.7 14.7 0 1 0 -29.4 0zM203.7 141.3a13.6 13.6 0 1 0 27.2 0a13.6 13.6 0 1 0 -27.2 0zM209.8 124.7a13.8 13.8 0 1 0 27.6 0a13.8 13.8 0 1 0 -27.6 0zM210.2 138.4a13.0 13.0 0 1 0 26.1 0a13.0 13.0 0 1 0 -26.1 0zM208.7 125.5a12.1 12.1 0 1 0 24.2 0a12.1 12.1 0 1 0 -24.2 0zM229.0 132.5a11.6 11.6 0 1 0 23.2 0a11.6 11.6 0 1 0 -23.2 0zM225.1 127.4a11.6 11.6 0 1 0 23.2 0a11.6 11.6 0 1 0 -23.2 0zM204.1 122.6a14.3 14.3 0 1 0 28.7 0a14.3 14.3 0 1 0 -28.7 0zM209.1 122.4a11.6 11.6 0 1 0 23.1 0a11.6 11.6 0 1 0 -23.1 0zM226.9 136.2a10.0 10.0 0 1 0 19.9 0a10.0 10.0 0 1 0 -19.9 0zM222.7 130.2a12.7 12.7 0 1 0 25.4 0a12.7 12.7 0 1 0 -25.4 0zM212.0 127.0a14.0 14.0 0 1 0 28.0 0a14.0 14.0 0 1 0 -28.0 0zM212.0 137.5a12.7 12.7 0 1 0 25.3 0a12.7 12.7 0 1 0 -25.3 0zM202.7 142.1a11.8 11.8 0 1 0 23.6 0a11.8 11.8 0 1 0 -23.6 0zM219.0 134.7a9.5 9.5 0 1 0 19.0 0a9.5 9.5 0 1 0 -19.0 0zM204.0 134.1a9.6 9.6 0 1 0 19.2 0a9.6 9.6 0 1 0 -19.2 0z" fill="#7a7a7a"/>
<path d="M211.8 121.0a14.7 14.7 0 1 0 29.4 0a14.7 14.7 0 1 0 -29.4 0zM222.8 141.6a12.8 12.8 0 1 0 25.6 0a12.8 12.8 0 1 0 -25.6 0zM197.4 137.8a14.7 14.7 0 1 0 29.4 0a14.7 14.7 0 1 0 -29.4 0zM203.7 141.3a13.6 13.6 0 1 0 27.2 0a13.6 13.6 0 1 0 -27.2 0zM209.8 124.7a13.8 13.8 0 1 0 27.6 0a13.8 13.8 0 1 0 -27.6 0zM210.2 138.4a13.0 13.0 0 1 0 26.1 0a13.0 13.0 0 1 0 -26.1 0zM208.7 125.5a12.1 12.1 0 1 0 24.2 0a12.1 12.1 0 1 0 -24.2 0zM229.0 132.5a11.6 11.6 0 1 0 23.2 0a11.6 11.6 0 1 0 -23.2 0zM225.1 127.4a11.6 11.6 0 1 0 23.2 0a11.6 11.6 0 1 0 -23.2 0zM204.1 122.6a14.3 14.3 0 1 0 28.7 0a14.3 14.3 0 1 0 -28.7 0zM209.1 122.4a11.6 11.6 0 1 0 23.1 0a11.6 11.6 0 1 0 -23.1 0zM226.9 136.2a10.0 10.0 0 1 0 19.9 0a10.0 10.0 0 1 0 -19.9 0zM222.7 130.2a12.7 12.7 0 1 0 25.4 0a12.7 12.7 0 1 0 -25.4 0zM212.0 127.0a14.0 14.0 0 1 0 28.0 0a14.0 14.0 0 1 0 -28.0 0zM212.0 137.5a12.7 12.7 0 1 0 25.3 0a12.7 12.7 0 1 0 -25.3 0zM202.7 142.1a11.8 11.8 0 1 0 23.6 0a11.8 11.8 0 1 0 -23.6 0zM219.0 134.7a9.5 9.5 0 1 0 19.0 0a9.5 9.5 0 1 0 -19.0 0zM204.0 134.1a9.6 9.6 0 1 0 19.2 0a9.6 9.6 0 1 0 -19.2 0z" fill="url(#pp)"/>
<circle class="u" cx="219.0" cy="147.7" r="3.6" fill="none" stroke="#bebebe"/>
<circle class="u" cx="239.9" cy="120.4" r="3.0" fill="none" stroke="#a3a3a3"/>
<circle class="u" cx="219.5" cy="127.4" r="2.5" fill="none" stroke="#b9b9b9"/>
<circle class="u" cx="208.6" cy="125.3" r="2.8" fill="none" stroke="#a5a5a5"/>
<circle class="u" cx="209.1" cy="133.1" r="2.4" fill="none" stroke="#bababa"/>
<circle class="u" cx="236.6" cy="132.4" r="2.4" fill="none" stroke="#b9b9b9"/>
<circle class="u" cx="224.8" cy="122.7" r="3.1" fill="none" stroke="#a3a3a3"/>
<circle class="u" cx="238.3" cy="120.0" r="2.9" fill="none" stroke="#a0a0a0"/>
<circle class="u" cx="213.4" cy="142.5" r="2.7" fill="none" stroke="#a1a1a1"/>
<circle class="u" cx="232.9" cy="152.0" r="3.7" fill="none" stroke="#bababa"/>
<circle class="u" cx="211.2" cy="119.8" r="2.2" fill="none" stroke="#a2a2a2"/>
<circle class="u" cx="226.5" cy="132.7" r="2.2" fill="none" stroke="#b7b7b7"/>
<circle class="u" cx="230.0" cy="143.0" r="2.7" fill="none" stroke="#b9b9b9"/>
<circle class="u" cx="248.5" cy="135.0" r="2.5" fill="none" stroke="#b0b0b0"/>
<circle class="u" cx="218.7" cy="134.9" r="3.7" fill="none" stroke="#a1a1a1"/>
<circle class="u" cx="234.1" cy="113.0" r="2.8" fill="none" stroke="#bebebe"/>
<circle class="u" cx="235.0" cy="137.0" r="2.9" fill="none" stroke="#9d9d9d"/>
<circle class="u" cx="232.7" cy="117.7" r="3.4" fill="none" stroke="#a5a5a5"/>
<circle class="u" cx="248.4" cy="137.3" r="2.4" fill="none" stroke="#aaaaaa"/>
<circle class="u" cx="239.3" cy="146.2" r="2.8" fill="none" stroke="#a2a2a2"/>
<circle class="u" cx="239.8" cy="136.8" r="3.4" fill="none" stroke="#a0a0a0"/>
<circle class="u" cx="229.2" cy="151.7" r="3.1" fill="none" stroke="#b8b8b8"/>
<circle class="u" cx="213.6" cy="116.6" r="2.3" fill="none" stroke="#bdbdbd"/>
<circle class="u" cx="234.6" cy="135.0" r="2.2" fill="none" stroke="#b7b7b7"/>
<circle class="u" cx="204.4" cy="132.9" r="3.8" fill="none" stroke="#bebebe"/>
<circle class="u" cx="216.3" cy="124.5" r="3.7" fill="none" stroke="#b6b6b6"/>
<circle class="u" cx="232.5" cy="149.9" r="2.0" fill="none" stroke="#9b9b9b"/>
<circle class="u" cx="214.0" cy="118.4" r="3.5" fill="none" stroke="#b6b6b6"/>
<circle class="u" cx="239.8" cy="148.7" r="3.8" fill="none" stroke="#b4b4b4"/>
<circle class="u" cx="214.2" cy="135.1" r="2.1" fill="none" stroke="#b2b2b2"/>
<circle class="u" cx="234.4" cy="131.7" r="3.5" fill="none" stroke="#bcbcbc"/>
<circle class="u" cx="213.9" cy="150.7" r="2.3" fill="none" stroke="#a6a6a6"/>
<circle class="u" cx="206.7" cy="124.7" r="3.0" fill="none" stroke="#9e9e9e"/>
<circle class="u" cx="242.6" cy="126.0" r="3.4" fill="none" stroke="#a3a3a3"/>
<circle class="u" cx="223.2" cy="139.6" r="2.3" fill="none" stroke="#ababab"/>
<circle class="u" cx="210.7" cy="143.6" r="3.5" fill="none" stroke="#a7a7a7"/>
<circle class="u" cx="243.5" cy="125.0" r="2.6" fill="none" stroke="#a1a1a1"/>
<circle class="u" cx="244.9" cy="128.4" r="2.1" fill="none" stroke="#b4b4b4"/>
<circle class="u" cx="215.8" cy="144.0" r="3.4" fill="none" stroke="#a3a3a3"/>
<circle class="u" cx="224.7" cy="150.5" r="3.6" fill="none" stroke="#9e9e9e"/>
<circle class="u" cx="236.7" cy="116.5" r="2.3" fill="none" stroke="#b3b3b3"/>
<circle class="u" cx="212.5" cy="120.0" r="3.0" fill="none" stroke="#a6a6a6"/>
<circle class="u" cx="215.4" cy="133.4" r="2.8" fill="none" stroke="#aaaaaa"/>
<circle class="u" cx="235.5" cy="140.5" r="2.6" fill="none" stroke="#a9a9a9"/>
<circle class="u" cx="208.1" cy="125.7" r="2.5" fill="none" stroke="#afafaf"/>
<circle class="u" cx="220.9" cy="143.0" r="2.3" fill="none" stroke="#bebebe"/>
<circle class="u" cx="246.0" cy="124.8" r="2.3" fill="none" stroke="#a0a0a0"/>
<circle class="u" cx="236.8" cy="141.3" r="2.8" fill="none" stroke="#9b9b9b"/>
<circle class="u" cx="209.6" cy="142.6" r="3.5" fill="none" stroke="#a2a2a2"/>
<circle class="u" cx="247.5" cy="133.8" r="2.7" fill="none" stroke="#a6a6a6"/>
<circle class="u" cx="233.5" cy="143.5" r="2.5" fill="none" stroke="#a4a4a4"/>
<circle class="u" cx="228.5" cy="150.2" r="3.5" fill="none" stroke="#a6a6a6"/>
<circle class="u" cx="212.7" cy="141.7" r="3.5" fill="none" stroke="#b7b7b7"/>
<circle class="u" cx="236.4" cy="132.7" r="3.4" fill="none" stroke="#a5a5a5"/>
<circle class="u" cx="211.7" cy="125.7" r="3.0" fill="none" stroke="#a6a6a6"/>
<circle class="u" cx="228.6" cy="134.4" r="3.7" fill="none" stroke="#bbbbbb"/>
<circle class="u" cx="219.9" cy="135.3" r="3.5" fill="none" stroke="#adadad"/>
<circle class="u" cx="208.4" cy="137.0" r="2.3" fill="none" stroke="#a3a3a3"/>
<circle class="u" cx="234.6" cy="115.2" r="3.8" fill="none" stroke="#ababab"/>
<circle class="u" cx="248.3" cy="129.7" r="2.9" fill="none" stroke="#bcbcbc"/>
<circle class="u" cx="229.9" cy="138.8" r="3.5" fill="none" stroke="#a0a0a0"/>
<circle class="u" cx="206.8" cy="131.6" r="3.2" fill="none" stroke="#a3a3a3"/>
<circle class="u" cx="227.8" cy="128.9" r="3.0" fill="none" stroke="#bcbcbc"/>
<circle class="u" cx="214.4" cy="129.9" r="3.8" fill="none" stroke="#b5b5b5"/>
<circle class="u" cx="232.4" cy="112.2" r="3.7" fill="none" stroke="#b0b0b0"/>
<circle class="u" cx="234.1" cy="118.8" r="2.5" fill="none" stroke="#a5a5a5"/>
<path d="M11.9 134.5a12.8 12.8 0 1 0 25.6 0a12.8 12.8 0 1 0 -25.6 0zM3.2 140.7a9.6 9.6 0 1 0 19.2 0a9.6 9.6 0 1 0 -19.2 0zM15.1 125.3a11.1 11.1 0 1 0 22.3 0a11.1 11.1 0 1 0 -22.3 0zM7.9 146.6a12.9 12.9 0 1 0 25.9 0a12.9 12.9 0 1 0 -25.9 0zM8.7 133.3a9.6 9.6 0 1 0 19.2 0a9.6 9.6 0 1 0 -19.2 0zM2.7 143.3a11.8 11.8 0 1 0 23.6 0a11.8 11.8 0 1 0 -23.6 0zM8.7 119.0a9.6 9.6 0 1 0 19.2 0a9.6 9.6 0 1 0 -19.2 0zM9.9 141.0a10.6 10.6 0 1 0 21.2 0a10.6 10.6 0 1 0 -21.2 0zM5.3 140.6a10.1 10.1 0 1 0 20.1 0a10.1 10.1 0 1 0 -20.1 0zM9.0 124.0a13.0 13.0 0 1 0 26.0 0a13.0 13.0 0 1 0 -26.0 0zM19.5 144.2a11.7 11.7 0 1 0 23.3 0a11.7 11.7 0 1 0 -23.3 0zM19.8 118.7a12.6 12.6 0 1 0 25.1 0a12.6 12.6 0 1 0 -25.1 0zM19.4 133.2a14.8 14.8 0 1 0 29.5 0a14.8 14.8 0 1 0 -29.5 0zM5.1 120.9a12.0 12.0 0 1 0 24.0 0a12.0 12.0 0 1 0 -24.0 0zM25.9 126.6a12.7 12.7 0 1 0 25.5 0a12.7 12.7 0 1 0 -25.5 0zM11.3 129.3a9.4 9.4 0 1 0 18.7 0a9.4 9.4 0 1 0 -18.7 0zM14.4 144.7a14.1 14.1 0 1 0 28.1 0a14.1 14.1 0 1 0 -28.1 0zM17.2 117.5a9.5 9.5 0 1 0 19.0 0a9.5 9.5 0 1 0 -19.0 0z" fill="none" stroke="#aaaaaa" stroke-width="2.6"/>
<path d="M11.9 134.5a12.8 12.8 0 1 0 25.6 0a12.8 12.8 0 1 0 -25.6 0zM3.2 140.7a9.6 9.6 0 1 0 19.2 0a9.6 9.6 0 1 0 -19.2 0zM15.1 125.3a11.1 11.1 0 1 0 22.3 0a11.1 11.1 0 1 0 -22.3 0zM7.9 146.6a12.9 12.9 0 1 0 25.9 0a12.9 12.9 0 1 0 -25.9 0zM8.7 133.3a9.6 9.6 0 1 0 19.2 0a9.6 9.6 0 1 0 -19.2 0zM2.7 143.3a11.8 11.8 0 1 0 23.6 0a11.8 11.8 0 1 0 -23.6 0zM8.7 119.0a9.6 9.6 0 1 0 19.2 0a9.6 9.6 0 1 0 -19.2 0zM9.9 141.0a10.6 10.6 0 1 0 21.2 0a10.6 10.6 0 1 0 -21.2 0zM5.3 140.6a10.1 10.1 0 1 0 20.1 0a10.1 10.1 0 1 0 -20.1 0zM9.0 124.0a13.0 13.0 0 1 0 26.0 0a13.0 13.0 0 1 0 -26.0 0zM19.5 144.2a11.7 11.7 0 1 0 23.3 0a11.7 11.7 0 1 0 -23.3 0zM19.8 118.7a12.6 12.6 0 1 0 25.1 0a12.6 12.6 0 1 0 -25.1 0zM19.4 133.2a14.8 14.8 0 1 0 29.5 0a14.8 14.8 0 1 0 -29.5 0zM5.1 120.9a12.0 12.0 0 1 0 24.0 0a12.0 12.0 0 1 0 -24.0 0zM25.9 126.6a12.7 12.7 0 1 0 25.5 0a12.7 12.7 0 1 0 -25.5 0zM11.3 129.3a9.4 9.4 0 1 0 18.7 0a9.4 9.4 0 1 0 -18.7 0zM14.4 144.7a14.1 14.1 0 1 0 28.1 0a14.1 14.1 0 1 0 -28.1 0zM17.2 117.5a9.5 9.5 0 1 0 19.0 0a9.5 9.5 0 1 0 -19.0 0z" fill="#7a7a7a"/>
<path d="M11.9 134.5a12.8 12.8 0 1 0 25.6 0a12.8 12.8 0 1 0 -25.6 0zM3.2 140.7a9.6 9.6 0 1 0 19.2 0a9.6 9.6 0 1 0 -19.2 0zM15.1 125.3a11.1 11.1 0 1 0 22.3 0a11.1 11.1 0 1 0 -22.3 0zM7.9 146.6a12.9 12.9 0 1 0 25.9 0a12.9 12.9 0 1 0 -25.9 0zM8.7 133.3a9.6 9.6 0 1 0 19.2 0a9.6 9.6 0 1 0 -19.2 0zM2.7 143.3a11.8 11.8 0 1 0 23.6 0a11.8 11.8 0 1 0 -23.6 0zM8.7 119.0a9.6 9.6 0 1 0 19.2 0a9.6 9.6 0 1 0 -19.2 0zM9.9 141.0a10.6 10.6 0 1 0 21.2 0a10.6 10.6 0 1 0 -21.2 0zM5.3 140.6a10.1 10.1 0 1 0 20.1 0a10.1 10.1 0 1 0 -20.1 0zM9.0 124.0a13.0 13.0 0 1 0 26.0 0a13.0 13.0 0 1 0 -26.0 0zM19.5 144.2a11.7 11.7 0 1 0 23.3 0a11.7 11.7 0 1 0 -23.3 0zM19.8 118.7a12.6 12.6 0 1 0 25.1 0a12.6 12.6 0 1 0 -25.1 0zM19.4 133.2a14.8 14.8 0 1 0 29.5 0a14.8 14.8 0 1 0 -29.5 0zM5.1 120.9a12.0 12.0 0 1 0 24.0 0a12.0 12.0 0 1 0 -24.0 0zM25.9 126.6a12.7 12.7 0 1 0 25.5 0a12.7 12.7 0 1 0 -25.5 0zM11.3 129.3a9.4 9.4 0 1 0 18.7 0a9.4 9.4 0 1 0 -18.7 0zM14.4 144.7a14.1 14.1 0 1 0 28.1 0a14.1 14.1 0 1 0 -28.1 0zM17.2 117.5a9.5 9.5 0 1 0 19.0 0a9.5 9.5 0 1 0 -19.0 0z" fill="url(#pp)"/>
<circle class="u" cx="36.4" cy="134.1" r="2.0" fill="none" stroke="#b0b0b0"/>
<circle class="u" cx="44.8" cy="122.5" r="2.2" fill="none" stroke="#b3b3b3"/>
<circle class="u" cx="15.9" cy="115.4" r="2.7" fill="none" stroke="#a3a3a3"/>
<circle class="u" cx="41.6" cy="117.5" r="3.3" fill="none" stroke="#afafaf"/>
<circle class="u" cx="36.8" cy="134.5" r="2.4" fill="none" stroke="#a3a3a3"/>
<circle class="u" cx="28.9" cy="150.6" r="3.2" fill="none" stroke="#a1a1a1"/>
<circle class="u" cx="25.3" cy="131.7" r="3.7" fill="none" stroke="#b0b0b0"/>
<circle class="u" cx="17.3" cy="122.2" r="3.2" fill="none" stroke="#bbbbbb"/>
<circle class="u" cx="27.2" cy="140.1" r="3.4" fill="none" stroke="#a4a4a4"/>
<circle class="u" cx="37.7" cy="142.0" r="2.3" fill="none" stroke="#a2a2a2"/>
<circle class="u" cx="23.4" cy="138.6" r="3.5" fill="none" stroke="#afafaf"/>
<circle class="u" cx="17.7" cy="121.7" r="3.4" fill="none" stroke="#bebebe"/>
<circle class="u" cx="29.6" cy="132.0" r="2.6" fill="none" stroke="#9e9e9e"/>
<circle class="u" cx="6.2" cy="135.0" r="3.1" fill="none" stroke="#a8a8a8"/>
<circle class="u" cx="42.8" cy="127.8" r="3.8" fill="none" stroke="#aaaaaa"/>
<circle class="u" cx="20.3" cy="126.2" r="3.0" fill="none" stroke="#b2b2b2"/>
<circle class="u" cx="26.8" cy="150.3" r="2.2" fill="none" stroke="#acacac"/>
<circle class="u" cx="12.2" cy="121.9" r="2.3" fill="none" stroke="#a2a2a2"/>
<circle class="u" cx="11.5" cy="145.3" r="2.8" fill="none" stroke="#a2a2a2"/>
<circle class="u" cx="18.1" cy="143.0" r="2.2" fill="none" stroke="#b0b0b0"/>
<circle class="u" cx="11.8" cy="134.4" r="2.0" fill="none" stroke="#bcbcbc"/>
<circle class="u" cx="32.4" cy="134.2" r="2.5" fill="none" stroke="#b8b8b8"/>
<circle class="u" cx="43.5" cy="124.1" r="2.4" fill="none" stroke="#bababa"/>
<circle class="u" cx="32.5" cy="133.6" r="2.2" fill="none" stroke="#afafaf"/>
<circle class="u" cx="9.5" cy="121.8" r="3.7" fill="none" stroke="#b6b6b6"/>
<circle class="u" cx="24.5" cy="122.3" r="3.6" fill="none" stroke="#bdbdbd"/>
<circle class="u" cx="28.0" cy="126.2" r="3.3" fill="none" stroke="#aeaeae"/>
<circle class="u" cx="13.1" cy="129.2" r="3.4" fill="none" stroke="#b8b8b8"/>
<circle class="u" cx="26.4" cy="119.3" r="3.3" fill="none" stroke="#9e9e9e"/>
<circle class="u" cx="23.1" cy="128.3" r="2.0" fill="none" stroke="#9e9e9e"/>
<circle class="u" cx="11.6" cy="113.1" r="2.8" fill="none" stroke="#b2b2b2"/>
<circle class="u" cx="6.5" cy="121.0" r="3.7" fill="none" stroke="#b9b9b9"/>
<circle class="u" cx="21.8" cy="137.4" r="3.6" fill="none" stroke="#a5a5a5"/>
<circle class="u" cx="26.0" cy="110.4" r="2.3" fill="none" stroke="#a2a2a2"/>
<circle class="u" cx="5.9" cy="142.0" r="3.5" fill="none" stroke="#bfbfbf"/>
<circle class="u" cx="22.2" cy="150.2" r="3.6" fill="none" stroke="#a8a8a8"/>
<circle class="u" cx="15.4" cy="126.3" r="3.5" fill="none" stroke="#ababab"/>
<circle class="u" cx="6.1" cy="133.6" r="2.6" fill="none" stroke="#b9b9b9"/>
<circle class="u" cx="10.1" cy="135.9" r="3.3" fill="none" stroke="#b3b3b3"/>
<circle class="u" cx="19.4" cy="110.9" r="3.5" fill="none" stroke="#aaaaaa"/>
<circle class="u" cx="11.4" cy="115.0" r="2.1" fill="none" stroke="#b3b3b3"/>
<circle class="u" cx="10.3" cy="129.5" r="2.2" fill="none" stroke="#a5a5a5"/>
<circle class="u" cx="24.8" cy="110.1" r="3.8" fill="none" stroke="#b6b6b6"/>
<circle class="u" cx="40.3" cy="117.5" r="2.3" fill="none" stroke="#b4b4b4"/>
<circle class="u" cx="38.6" cy="117.2" r="2.5" fill="none" stroke="#b4b4b4"/>
<circle class="u" cx="13.0" cy="141.8" r="3.3" fill="none" stroke="#b4b4b4"/>
<circle class="u" cx="37.1" cy="146.1" r="2.1" fill="none" stroke="#a2a2a2"/>
<circle class="u" cx="34.9" cy="112.1" r="2.5" fill="none" stroke="#b7b7b7"/>
<circle class="u" cx="31.6" cy="147.0" r="2.6" fill="none" stroke="#9e9e9e"/>
<circle class="u" cx="9.0" cy="139.0" r="3.5" fill="none" stroke="#9e9e9e"/>
<circle class="u" cx="24.5" cy="133.4" r="2.4" fill="none" stroke="#a4a4a4"/>
<circle class="u" cx="34.5" cy="111.6" r="2.4" fill="none" stroke="#acacac"/>
<circle class="u" cx="8.7" cy="129.6" r="3.7" fill="none" stroke="#bebebe"/>
<circle class="u" cx="39.3" cy="135.6" r="3.0" fill="none" stroke="#b3b3b3"/>
<circle class="u" cx="4.1" cy="128.0" r="2.2" fill="none" stroke="#acacac"/>
<circle class="u" cx="29.5" cy="123.6" r="2.3" fill="none" stroke="#b1b1b1"/>
<circle class="u" cx="35.4" cy="145.6" r="2.2" fill="none" stroke="#a1a1a1"/>
<circle class="u" cx="14.4" cy="149.8" r="3.1" fill="none" stroke="#b1b1b1"/>
<circle class="u" cx="14.7" cy="121.4" r="3.8" fill="none" stroke="#b1b1b1"/>
<circle class="u" cx="20.7" cy="127.6" r="2.4" fill="none" stroke="#b0b0b0"/>
<circle class="u" cx="43.6" cy="126.6" r="2.1" fill="none" stroke="#b8b8b8"/>
<circle class="u" cx="29.1" cy="149.5" r="2.3" fill="none" stroke="#9d9d9d"/>
<circle class="u" cx="27.1" cy="115.9" r="3.1" fill="none" stroke="#b5b5b5"/>
<circle class="u" cx="12.4" cy="123.6" r="2.6" fill="none" stroke="#aeaeae"/>
<circle class="u" cx="25.1" cy="143.9" r="3.5" fill="none" stroke="#a7a7a7"/>
<circle class="u" cx="21.4" cy="113.1" r="2.8" fill="none" stroke="#b8b8b8"/>
<path d="M18.9 172.6a4.2 4.2 0 1 0 8.4 0a4.2 4.2 0 1 0 -8.4 0zM18.9 168.4a4.3 4.3 0 1 0 8.7 0a4.3 4.3 0 1 0 -8.7 0zM16.9 174.0a3.8 3.8 0 1 0 7.6 0a3.8 3.8 0 1 0 -7.6 0zM20.9 170.6a4.1 4.1 0 1 0 8.1 0a4.1 4.1 0 1 0 -8.1 0zM22.7 171.7a2.8 2.8 0 1 0 5.6 0a2.8 2.8 0 1 0 -5.6 0z" fill="none" stroke="#aaaaaa" stroke-width="2.6"/>
<path d="M18.9 172.6a4.2 4.2 0 1 0 8.4 0a4.2 4.2 0 1 0 -8.4 0zM18.9 168.4a4.3 4.3 0 1 0 8.7 0a4.3 4.3 0 1 0 -8.7 0zM16.9 174.0a3.8 3.8 0 1 0 7.6 0a3.8 3.8 0 1 0 -7.6 0zM20.9 170.6a4.1 4.1 0 1 0 8.1 0a4.1 4.1 0 1 0 -8.1 0zM22.7 171.7a2.8 2.8 0 1 0 5.6 0a2.8 2.8 0 1 0 -5.6 0z" fill="#7e7e7e"/>
<path d="M18.9 172.6a4.2 4.2 0 1 0 8.4 0a4.2 4.2 0 1 0 -8.4 0zM18.9 168.4a4.3 4.3 0 1 0 8.7 0a4.3 4.3 0 1 0 -8.7 0zM16.9 174.0a3.8 3.8 0 1 0 7.6 0a3.8 3.8 0 1 0 -7.6 0zM20.9 170.6a4.1 4.1 0 1 0 8.1 0a4.1 4.1 0 1 0 -8.1 0zM22.7 171.7a2.8 2.8 0 1 0 5.6 0a2.8 2.8 0 1 0 -5.6 0z" fill="url(#pp)"/>
<circle class="u" cx="26.2" cy="177.1" r="2.4" fill="none" stroke="#bebebe"/>
<circle class="u" cx="28.8" cy="176.0" r="2.6" fill="none" stroke="#bdbdbd"/>
<circle class="u" cx="22.1" cy="174.3" r="3.2" fill="none" stroke="#a6a6a6"/>
<circle class="u" cx="29.2" cy="170.0" r="2.5" fill="none" stroke="#adadad"/>
<circle class="u" cx="17.5" cy="170.4" r="2.5" fill="none" stroke="#afafaf"/>
<circle class="u" cx="18.0" cy="171.7" r="3.0" fill="none" stroke="#aaaaaa"/>
</g>
</svg>
<svg x="70.6" y="694.4" width="266.8" height="200.2" overflow="hidden">
<rect width="266.8" height="200.2" fill="#8d8d8d"/>
<g filter="url(#soft)">
<path d="M32.5 29.5a4.0 4.0 0 1 0 7.9 0a4.0 4.0 0 1 0 -7.9 0z" fill="none" stroke="#bfbfbf" stroke-width="2.6"/>
<path d="M32.5 29.5a4.0 4.0 0 1 0 7.9 0a4.0 4.0 0 1 0 -7.9 0z" fill="#939393"/>
<path d="M32.5 29.5a4.0 4.0 0 1 0 7.9 0a4.0 4.0 0 1 0 -7.9 0z" fill="url(#pp)"/>
<circle class="u" cx="34.4" cy="28.5" r="3.0" fill="none" stroke="#b7b7b7"/>
<path d="M51.5 22.8a3.6 3.6 0 1 0 7.1 0a3.6 3.6 0 1 0 -7.1 0zM52.2 29.0a3.1 3.1 0 1 0 6.1 0a3.1 3.1 0 1 0 -6.1 0zM49.5 30.6a4.1 4.1 0 1 0 8.2 0a4.1 4.1 0 1 0 -8.2 0zM53.9 27.5a3.5 3.5 0 1 0 7.0 0a3.5 3.5 0 1 0 -7.0 0zM48.3 27.9a3.6 3.6 0 1 0 7.2 0a3.6 3.6 0 1 0 -7.2 0z" fill="none" stroke="#bfbfbf" stroke-width="2.6"/>
<path d="M51.5 22.8a3.6 3.6 0 1 0 7.1 0a3.6 3.6 0 1 0 -7.1 0zM52.2 29.0a3.1 3.1 0 1 0 6.1 0a3.1 3.1 0 1 0 -6.1 0zM49.5 30.6a4.1 4.1 0 1 0 8.2 0a4.1 4.1 0 1 0 -8.2 0zM53.9 27.5a3.5 3.5 0 1 0 7.0 0a3.5 3.5 0 1 0 -7.0 0zM48.3 27.9a3.6 3.6 0 1 0 7.2 0a3.6 3.6 0 1 0 -7.2 0z" fill="#939393"/>
<path d="M51.5 22.8a3.6 3.6 0 1 0 7.1 0a3.6 3.6 0 1 0 -7.1 0zM52.2 29.0a3.1 3.1 0 1 0 6.1 0a3.1 3.1 0 1 0 -6.1 0zM49.5 30.6a4.1 4.1 0 1 0 8.2 0a4.1 4.1 0 1 0 -8.2 0zM53.9 27.5a3.5 3.5 0 1 0 7.0 0a3.5 3.5 0 1 0 -7.0 0zM48.3 27.9a3.6 3.6 0 1 0 7.2 0a3.6 3.6 0 1 0 -7.2 0z" fill="url(#pp)"/>
<circle class="u" cx="48.5" cy="27.8" r="3.2" fill="none" stroke="#b4b4b4"/>
<circle class="u" cx="54.3" cy="20.1" r="3.7" fill="none" stroke="#c6c6c6"/>
<circle class="u" cx="54.0" cy="26.5" r="2.2" fill="none" stroke="#d2d2d2"/>
<circle class="u" cx="52.3" cy="30.1" r="3.6" fill="none" stroke="#bbbbbb"/>
<circle class="u" cx="49.5" cy="25.1" r="2.1" fill="none" stroke="#c5c5c5"/>
<path d="M79.9 28.7a4.0 4.0 0 1 0 7.9 0a4.0 4.0 0 1 0 -7.9 0z" fill="none" stroke="#bfbfbf" stroke-width="2.6"/>
<path d="M79.9 28.7a4.0 4.0 0 1 0 7.9 0a4.0 4.0 0 1 0 -7.9 0z" fill="#939393"/>
<path d="M79.9 28.7a4.0 4.0 0 1 0 7.9 0a4.0 4.0 0 1 0 -7.9 0z" fill="url(#pp)"/>
<circle class="u" cx="84.6" cy="27.6" r="2.4" fill="none" stroke="#bfbfbf"/>
<path d="M106.3 19.3a3.5 3.5 0 1 0 6.9 0a3.5 3.5 0 1 0 -6.9 0zM102.1 16.3a3.5 3.5 0 1 0 7.0 0a3.5 3.5 0 1 0 -7.0 0zM106.0 21.0a2.9 2.9 0 1 0 5.7 0a2.9 2.9 0 1 0 -5.7 0zM102.7 17.9a3.4 3.4 0 1 0 6.8 0a3.4 3.4 0 1 0 -6.8 0z" fill="none" stroke="#bfbfbf" stroke-width="2.6"/>
<path d="M106.3 19.3a3.5 3.5 0 1 0 6.9 0a3.5 3.5 0 1 0 -6.9 0zM102.1 16.3a3.5 3.5 0 1 0 7.0 0a3.5 3.5 0 1 0 -7.0 0zM106.0 21.0a2.9 2.9 0 1 0 5.7 0a2.9 2.9 0 1 0 -5.7 0zM102.7 17.9a3.4 3.4 0 1 0 6.8 0a3.4 3.4 0 1 0 -6.8 0z" fill="#939393"/>
<path d="M106.3 19.3a3.5 3.5 0 1 0 6.9 0a3.5 3.5 0 1 0 -6.9 0zM102.1 16.3a3.5 3.5 0 1 0 7.0 0a3.5 3.5 0 1 0 -7.0 0zM106.0 21.0a2.9 2.9 0 1 0 5.7 0a2.9 2.9 0 1 0 -5.7 0zM102.7 17.9a3.4 3.4 0 1 0 6.8 0a3.4 3.4 0 1 0 -6.8 0z" fill="url(#pp)"/>
<circle class="u" cx="109.1" cy="20.0" r="3.5" fill="none" stroke="#d3d3d3"/>
<circle class="u" cx="103.7" cy="20.2" r="2.4" fill="none" stroke="#bababa"/>
<circle class="u" cx="105.3" cy="17.0" r="2.2" fill="none" stroke="#c0c0c0"/>
<circle class="u" cx="109.5" cy="22.7" r="3.5" fill="none" stroke="#cccccc"/>
<path d="M181.5 27.2a3.3 3.3 0 1 0 6.6 0a3.3 3.3 0 1 0 -6.6 0z" fill="none" stroke="#bfbfbf" stroke-width="2.6"/>
<path d="M181.5 27.2a3.3 3.3 0 1 0 6.6 0a3.3 3.3 0 1 0 -6.6 0z" fill="#939393"/>
<path d="M181.5 27.2a3.3 3.3 0 1 0 6.6 0a3.3 3.3 0 1 0 -6.6 0z" fill="url(#pp)"/>
<path d="M222.0 57.8a3.5 3.5 0 1 0 7.0 0a3.5 3.5 0 1 0 -7.0 0zM228.8 57.6a3.4 3.4 0 1 0 6.7 0a3.4 3.4 0 1 0 -6.7 0zM224.2 58.6a3.5 3.5 0 1 0 7.1 0a3.5 3.5 0 1 0 -7.1 0zM221.5 56.0a4.3 4.3 0 1 0 8.5 0a4.3 4.3 0 1 0 -8.5 0zM223.5 55.4a3.7 3.7 0 1 0 7.4 0a3.7 3.7 0 1 0 -7.4 0z" fill="none" stroke="#bfbfbf" stroke-width="2.6"/>
<path d="M222.0 57.8a3.5 3.5 0 1 0 7.0 0a3.5 3.5 0 1 0 -7.0 0zM228.8 57.6a3.4 3.4 0 1 0 6.7 0a3.4 3.4 0 1 0 -6.7 0zM224.2 58.6a3.5 3.5 0 1 0 7.1 0a3.5 3.5 0 1 0 -7.1 0zM221.5 56.0a4.3 4.3 0 1 0 8.5 0a4.3 4.3 0 1 0 -8.5 0zM223.5 55.4a3.7 3.7 0 1 0 7.4 0a3.7 3.7 0 1 0 -7.4 0z" fill="#939393"/>
<path d="M222.0 57.8a3.5 3.5 0 1 0 7.0 0a3.5 3.5 0 1 0 -7.0 0zM228.8 57.6a3.4 3.4 0 1 0 6.7 0a3.4 3.4 0 1 0 -6.7 0zM224.2 58.6a3.5 3.5 0 1 0 7.1 0a3.5 3.5 0 1 0 -7.1 0zM221.5 56.0a4.3 4.3 0 1 0 8.5 0a4.3 4.3 0 1 0 -8.5 0zM223.5 55.4a3.7 3.7 0 1 0 7.4 0a3.7 3.7 0 1 0 -7.4 0z" fill="url(#pp)"/>
<circle class="u" cx="232.5" cy="54.8" r="3.1" fill="none" stroke="#b2b2b2"/>
<circle class="u" cx="223.5" cy="57.8" r="2.7" fill="none" stroke="#bfbfbf"/>
<circle class="u" cx="223.8" cy="54.8" r="2.9" fill="none" stroke="#b6b6b6"/>
<circle class="u" cx="221.8" cy="59.9" r="2.7" fill="none" stroke="#b1b1b1"/>
<circle class="u" cx="233.4" cy="57.5" r="2.1" fill="none" stroke="#b3b3b3"/>
<circle class="u" cx="231.9" cy="60.4" r="3.8" fill="none" stroke="#c1c1c1"/>
<path d="M158.2 66.0a3.3 3.3 0 1 0 6.6 0a3.3 3.3 0 1 0 -6.6 0z" fill="none" stroke="#bfbfbf" stroke-width="2.6"/>
<path d="M158.2 66.0a3.3 3.3 0 1 0 6.6 0a3.3 3.3 0 1 0 -6.6 0z" fill="#939393"/>
<path d="M158.2 66.0a3.3 3.3 0 1 0 6.6 0a3.3 3.3 0 1 0 -6.6 0z" fill="url(#pp)"/>
<path d="M3.1 76.5a2.1 2.1 0 1 0 4.2 0a2.1 2.1 0 1 0 -4.2 0zM2.3 76.8a2.5 2.5 0 1 0 5.0 0a2.5 2.5 0 1 0 -5.0 0zM4.2 74.4a2.3 2.3 0 1 0 4.5 0a2.3 2.3 0 1 0 -4.5 0zM6.0 75.5a1.9 1.9 0 1 0 3.7 0a1.9 1.9 0 1 0 -3.7 0z" fill="none" stroke="#bfbfbf" stroke-width="2.6"/>
<path d="M3.1 76.5a2.1 2.1 0 1 0 4.2 0a2.1 2.1 0 1 0 -4.2 0zM2.3 76.8a2.5 2.5 0 1 0 5.0 0a2.5 2.5 0 1 0 -5.0 0zM4.2 74.4a2.3 2.3 0 1 0 4.5 0a2.3 2.3 0 1 0 -4.5 0zM6.0 75.5a1.9 1.9 0 1 0 3.7 0a1.9 1.9 0 1 0 -3.7 0z" fill="#939393"/>
<path d="M3.1 76.5a2.1 2.1 0 1 0 4.2 0a2.1 2.1 0 1 0 -4.2 0zM2.3 76.8a2.5 2.5 0 1 0 5.0 0a2.5 2.5 0 1 0 -5.0 0zM4.2 74.4a2.3 2.3 0 1 0 4.5 0a2.3 2.3 0 1 0 -4.5 0zM6.0 75.5a1.9 1.9 0 1 0 3.7 0a1.9 1.9 0 1 0 -3.7 0z" fill="url(#pp)"/>
<circle class="u" cx="4.5" cy="73.8" r="3.2" fill="none" stroke="#c5c5c5"/>
<circle class="u" cx="8.3" cy="73.6" r="3.5" fill="none" stroke="#d3d3d3"/>
<path d="M152.5 80.0a2.0 2.0 0 1 0 4.0 0a2.0 2.0 0 1 0 -4.0 0z" fill="none" stroke="#bfbfbf" stroke-width="2.6"/>
<path d="M152.5 80.0a2.0 2.0 0 1 0 4.0 0a2.0 2.0 0 1 0 -4.0 0z" fill="#939393"/>
<path d="M152.5 80.0a2.0 2.0 0 1 0 4.0 0a2.0 2.0 0 1 0 -4.0 0z" fill="url(#pp)"/>
<path d="M184.0 85.6a2.3 2.3 0 1 0 4.7 0a2.3 2.3 0 1 0 -4.7 0zM186.6 84.3a2.5 2.5 0 1 0 5.0 0a2.5 2.5 0 1 0 -5.0 0zM186.4 82.0a2.6 2.6 0 1 0 5.2 0a2.6 2.6 0 1 0 -5.2 0zM186.4 86.8a1.8 1.8 0 1 0 3.5 0a1.8 1.8 0 1 0 -3.5 0z" fill="none" stroke="#bfbfbf" stroke-width="2.6"/>
<path d="M184.0 85.6a2.3 2.3 0 1 0 4.7 0a2.3 2.3 0 1 0 -4.7 0zM186.6 84.3a2.5 2.5 0 1 0 5.0 0a2.5 2.5 0 1 0 -5.0 0zM186.4 82.0a2.6 2.6 0 1 0 5.2 0a2.6 2.6 0 1 0 -5.2 0zM186.4 86.8a1.8 1.8 0 1 0 3.5 0a1.8 1.8 0 1 0 -3.5 0z" fill="#939393"/>
<path d="M184.0 85.6a2.3 2.3 0 1 0 4.7 0a2.3 2.3 0 1 0 -4.7 0zM186.6 84.3a2.5 2.5 0 1 0 5.0 0a2.5 2.5 0 1 0 -5.0 0zM186.4 82.0a2.6 2.6 0 1 0 5.2 0a2.6 2.6 0 1 0 -5.2 0zM186.4 86.8a1.8 1.8 0 1 0 3.5 0a1.8 1.8 0 1 0 -3.5 0z" fill="url(#pp)"/>
<circle class="u" cx="185.4" cy="82.4" r="2.3" fill="none" stroke="#bcbcbc"/>
<circle class="u" cx="190.2" cy="85.5" r="2.4" fill="none" stroke="#b3b3b3"/>
<path d="M224.2 80.7a2.7 2.7 0 1 0 5.4 0a2.7 2.7 0 1 0 -5.4 0zM220.7 77.8a2.8 2.8 0 1 0 5.5 0a2.8 2.8 0 1 0 -5.5 0zM218.3 82.1a2.8 2.8 0 1 0 5.6 0a2.8 2.8 0 1 0 -5.6 0zM220.5 82.8a2.9 2.9 0 1 0 5.8 0a2.9 2.9 0 1 0 -5.8 0z" fill="none" stroke="#bfbfbf" stroke-width="2.6"/>
<path d="M224.2 80.7a2.7 2.7 0 1 0 5.4 0a2.7 2.7 0 1 0 -5.4 0zM220.7 77.8a2.8 2.8 0 1 0 5.5 0a2.8 2.8 0 1 0 -5.5 0zM218.3 82.1a2.8 2.8 0 1 0 5.6 0a2.8 2.8 0 1 0 -5.6 0zM220.5 82.8a2.9 2.9 0 1 0 5.8 0a2.9 2.9 0 1 0 -5.8 0z" fill="#939393"/>
<path d="M224.2 80.7a2.7 2.7 0 1 0 5.4 0a2.7 2.7 0 1 0 -5.4 0zM220.7 77.8a2.8 2.8 0 1 0 5.5 0a2.8 2.8 0 1 0 -5.5 0zM218.3 82.1a2.8 2.8 0 1 0 5.6 0a2.8 2.8 0 1 0 -5.6 0zM220.5 82.8a2.9 2.9 0 1 0 5.8 0a2.9 2.9 0 1 0 -5.8 0z" fill="url(#pp)"/>
<circle class="u" cx="221.9" cy="79.0" r="3.1" fill="none" stroke="#d0d0d0"/>
<circle class="u" cx="226.5" cy="77.7" r="2.1" fill="none" stroke="#bfbfbf"/>
<circle class="u" cx="224.6" cy="81.4" r="2.5" fill="none" stroke="#c0c0c0"/>
<path d="M77.4 86.4a1.9 1.9 0 1 0 3.8 0a1.9 1.9 0 1 0 -3.8 0zM76.4 86.7a2.1 2.1 0 1 0 4.3 0a2.1 2.1 0 1 0 -4.3 0zM77.1 90.3a2.0 2.0 0 1 0 3.9 0a2.0 2.0 0 1 0 -3.9 0zM76.8 86.6a2.1 2.1 0 1 0 4.1 0a2.1 2.1 0 1 0 -4.1 0z" fill="none" stroke="#bfbfbf" stroke-width="2.6"/>
<path d="M77.4 86.4a1.9 1.9 0 1 0 3.8 0a1.9 1.9 0 1 0 -3.8 0zM76.4 86.7a2.1 2.1 0 1 0 4.3 0a2.1 2.1 0 1 0 -4.3 0zM77.1 90.3a2.0 2.0 0 1 0 3.9 0a2.0 2.0 0 1 0 -3.9 0zM76.8 86.6a2.1 2.1 0 1 0 4.1 0a2.1 2.1 0 1 0 -4.1 0z" fill="#939393"/>
<path d="M77.4 86.4a1.9 1.9 0 1 0 3.8 0a1.9 1.9 0 1 0 -3.8 0zM76.4 86.7a2.1 2.1 0 1 0 4.3 0a2.1 2.1 0 1 0 -4.3 0zM77.1 90.3a2.0 2.0 0 1 0 3.9 0a2.0 2.0 0 1 0 -3.9 0zM76.8 86.6a2.1 2.1 0 1 0 4.1 0a2.1 2.1 0 1 0 -4.1 0z" fill="url(#pp)"/>
<circle class="u" cx="76.4" cy="88.9" r="3.2" fill="none" stroke="#cacaca"/>
<circle class="u" cx="80.0" cy="86.0" r="3.4" fill="none" stroke="#d3d3d3"/>
<path d="M124.4 93.9a2.9 2.9 0 1 0 5.8 0a2.9 2.9 0 1 0 -5.8 0z" fill="none" stroke="#bfbfbf" stroke-width="2.6"/>
<path d="M124.4 93.9a2.9 2.9 0 1 0 5.8 0a2.9 2.9 0 1 0 -5.8 0z" fill="#939393"/>
<path d="M124.4 93.9a2.9 2.9 0 1 0 5.8 0a2.9 2.9 0 1 0 -5.8 0z" fill="url(#pp)"/>
<path d="M135.0 89.8a4.0 4.0 0 1 0 7.9 0a4.0 4.0 0 1 0 -7.9 0z" fill="none" stroke="#bfbfbf" stroke-width="2.6"/>
<path d="M135.0 89.8a4.0 4.0 0 1 0 7.9 0a4.0 4.0 0 1 0 -7.9 0z" fill="#939393"/>
<path d="M135.0 89.8a4.0 4.0 0 1 0 7.9 0a4.0 4.0 0 1 0 -7.9 0z" fill="url(#pp)"/>
<circle class="u" cx="141.9" cy="89.6" r="2.1" fill="none" stroke="#cfcfcf"/>
<path d="M206.0 106.8a2.2 2.2 0 1 0 4.5 0a2.2 2.2 0 1 0 -4.5 0zM204.4 109.5a2.5 2.5 0 1 0 5.1 0a2.5 2.5 0 1 0 -5.1 0zM205.8 108.5a2.1 2.1 0 1 0 4.1 0a2.1 2.1 0 1 0 -4.1 0zM207.4 108.7a2.9 2.9 0 1 0 5.8 0a2.9 2.9 0 1 0 -5.8 0z" fill="none" stroke="#bfbfbf" stroke-width="2.6"/>
<path d="M206.0 106.8a2.2 2.2 0 1 0 4.5 0a2.2 2.2 0 1 0 -4.5 0zM204.4 109.5a2.5 2.5 0 1 0 5.1 0a2.5 2.5 0 1 0 -5.1 0zM205.8 108.5a2.1 2.1 0 1 0 4.1 0a2.1 2.1 0 1 0 -4.1 0zM207.4 108.7a2.9 2.9 0 1 0 5.8 0a2.9 2.9 0 1 0 -5.8 0z" fill="#939393"/>
<path d="M206.0 106.8a2.2 2.2 0 1 0 4.5 0a2.2 2.2 0 1 0 -4.5 0zM204.4 109.5a2.5 2.5 0 1 0 5.1 0a2.5 2.5 0 1 0 -5.1 0zM205.8 108.5a2.1 2.1 0 1 0 4.1 0a2.1 2.1 0 1 0 -4.1 0zM207.4 108.7a2.9 2.9 0 1 0 5.8 0a2.9 2.9 0 1 0 -5.8 0z" fill="url(#pp)"/>
<circle class="u" cx="208.8" cy="111.1" r="3.7" fill="none" stroke="#b7b7b7"/>
<circle class="u" cx="205.3" cy="105.8" r="3.8" fill="none" stroke="#d0d0d0"/>
<path d="M154.8 111.1a2.5 2.5 0 1 0 4.9 0a2.5 2.5 0 1 0 -4.9 0zM151.9 110.1a2.4 2.4 0 1 0 4.8 0a2.4 2.4 0 1 0 -4.8 0zM154.3 108.4a2.0 2.0 0 1 0 3.9 0a2.0 2.0 0 1 0 -3.9 0zM156.5 111.7a1.7 1.7 0 1 0 3.4 0a1.7 1.7 0 1 0 -3.4 0z" fill="none" stroke="#bfbfbf" stroke-width="2.6"/>
<path d="M154.8 111.1a2.5 2.5 0 1 0 4.9 0a2.5 2.5 0 1 0 -4.9 0zM151.9 110.1a2.4 2.4 0 1 0 4.8 0a2.4 2.4 0 1 0 -4.8 0zM154.3 108.4a2.0 2.0 0 1 0 3.9 0a2.0 2.0 0 1 0 -3.9 0zM156.5 111.7a1.7 1.7 0 1 0 3.4 0a1.7 1.7 0 1 0 -3.4 0z" fill="#939393"/>
<path d="M154.8 111.1a2.5 2.5 0 1 0 4.9 0a2.5 2.5 0 1 0 -4.9 0zM151.9 110.1a2.4 2.4 0 1 0 4.8 0a2.4 2.4 0 1 0 -4.8 0zM154.3 108.4a2.0 2.0 0 1 0 3.9 0a2.0 2.0 0 1 0 -3.9 0zM156.5 111.7a1.7 1.7 0 1 0 3.4 0a1.7 1.7 0 1 0 -3.4 0z" fill="url(#pp)"/>
<circle class="u" cx="152.6" cy="109.5" r="2.7" fill="none" stroke="#c6c6c6"/>
<circle class="u" cx="156.8" cy="112.5" r="3.1" fill="none" stroke="#cfcfcf"/>
<path d="M126.4 119.6a3.3 3.3 0 1 0 6.6 0a3.3 3.3 0 1 0 -6.6 0z" fill="none" stroke="#bfbfbf" stroke-width="2.6"/>
<path d="M126.4 119.6a3.3 3.3 0 1 0 6.6 0a3.3 3.3 0 1 0 -6.6 0z" fill="#939393"/>
<path d="M126.4 119.6a3.3 3.3 0 1 0 6.6 0a3.3 3.3 0 1 0 -6.6 0z" fill="url(#pp)"/>
<path d="M57.5 118.0a4.7 4.7 0 1 0 9.4 0a4.7 4.7 0 1 0 -9.4 0zM54.6 117.8a3.7 3.7 0 1 0 7.5 0a3.7 3.7 0 1 0 -7.5 0zM55.4 116.6a3.3 3.3 0 1 0 6.6 0a3.3 3.3 0 1 0 -6.6 0zM60.0 114.8a4.1 4.1 0 1 0 8.3 0a4.1 4.1 0 1 0 -8.3 0zM57.1 113.1a3.3 3.3 0 1 0 6.7 0a3.3 3.3 0 1 0 -6.7 0z" fill="none" stroke="#bfbfbf" stroke-width="2.6"/>
<path d="M57.5 118.0a4.7 4.7 0 1 0 9.4 0a4.7 4.7 0 1 0 -9.4 0zM54.6 117.8a3.7 3.7 0 1 0 7.5 0a3.7 3.7 0 1 0 -7.5 0zM55.4 116.6a3.3 3.3 0 1 0 6.6 0a3.3 3.3 0 1 0 -6.6 0zM60.0 114.8a4.1 4.1 0 1 0 8.3 0a4.1 4.1 0 1 0 -8.3 0zM57.1 113.1a3.3 3.3 0 1 0 6.7 0a3.3 3.3 0 1 0 -6.7 0z" fill="#939393"/>
<path d="M57.5 118.0a4.7 4.7 0 1 0 9.4 0a4.7 4.7 0 1 0 -9.4 0zM54.6 117.8a3.7 3.7 0 1 0 7.5 0a3.7 3.7 0 1 0 -7.5 0zM55.4 116.6a3.3 3.3 0 1 0 6.6 0a3.3 3.3 0 1 0 -6.6 0zM60.0 114.8a4.1 4.1 0 1 0 8.3 0a4.1 4.1 0 1 0 -8.3 0zM57.1 113.1a3.3 3.3 0 1 0 6.7 0a3.3 3.3 0 1 0 -6.7 0z" fill="url(#pp)"/>
<circle class="u" cx="64.4" cy="111.9" r="2.6" fill="none" stroke="#c4c4c4"/>
<circle class="u" cx="58.1" cy="118.9" r="2.8" fill="none" stroke="#b5b5b5"/>
<circle class="u" cx="64.3" cy="116.7" r="3.1" fill="none" stroke="#c5c5c5"/>
<circle class="u" cx="68.0" cy="116.9" r="2.6" fill="none" stroke="#bdbdbd"/>
<circle class="u" cx="63.0" cy="118.5" r="2.6" fill="none" stroke="#d3d3d3"/>
<circle class="u" cx="64.4" cy="119.0" r="3.1" fill="none" stroke="#bdbdbd"/>
<circle class="u" cx="64.2" cy="124.8" r="2.1" fill="none" stroke="#c6c6c6"/>
<path d="M83.4 116.0a2.9 2.9 0 1 0 5.7 0a2.9 2.9 0 1 0 -5.7 0zM86.2 117.2a3.7 3.7 0 1 0 7.4 0a3.7 3.7 0 1 0 -7.4 0zM80.9 115.7a3.9 3.9 0 1 0 7.8 0a3.9 3.9 0 1 0 -7.8 0zM86.9 118.5a3.5 3.5 0 1 0 6.9 0a3.5 3.5 0 1 0 -6.9 0zM81.9 116.4a3.9 3.9 0 1 0 7.9 0a3.9 3.9 0 1 0 -7.9 0z" fill="none" stroke="#bfbfbf" stroke-width="2.6"/>
<path d="M83.4 116.0a2.9 2.9 0 1 0 5.7 0a2.9 2.9 0 1 0 -5.7 0zM86.2 117.2a3.7 3.7 0 1 0 7.4 0a3.7 3.7 0 1 0 -7.4 0zM80.9 115.7a3.9 3.9 0 1 0 7.8 0a3.9 3.9 0 1 0 -7.8 0zM86.9 118.5a3.5 3.5 0 1 0 6.9 0a3.5 3.5 0 1 0 -6.9 0zM81.9 116.4a3.9 3.9 0 1 0 7.9 0a3.9 3.9 0 1 0 -7.9 0z" fill="#939393"/>
<path d="M83.4 116.0a2.9 2.9 0 1 0 5.7 0a2.9 2.9 0 1 0 -5.7 0zM86.2 117.2a3.7 3.7 0 1 0 7.4 0a3.7 3.7 0 1 0 -7.4 0zM80.9 115.7a3.9 3.9 0 1 0 7.8 0a3.9 3.9 0 1 0 -7.8 0zM86.9 118.5a3.5 3.5 0 1 0 6.9 0a3.5 3.5 0 1 0 -6.9 0zM81.9 116.4a3.9 3.9 0 1 0 7.9 0a3.9 3.9 0 1 0 -7.9 0z" fill="url(#pp)"/>
<circle class="u" cx="87.0" cy="116.1" r="3.7" fill="none" stroke="#b4b4b4"/>
<circle class="u" cx="92.8" cy="118.3" r="2.6" fill="none" stroke="#bababa"/>
<circle class="u" cx="84.9" cy="110.0" r="2.6" fill="none" stroke="#d1d1d1"/>
<circle class="u" cx="84.9" cy="111.5" r="3.0" fill="none" stroke="#b0b0b0"/>
<circle class="u" cx="91.4" cy="119.3" r="3.2" fill="none" stroke="#b3b3b3"/>
<path d="M42.4 131.2a2.6 2.6 0 1 0 5.3 0a2.6 2.6 0 1 0 -5.3 0z" fill="none" stroke="#bfbfbf" stroke-width="2.6"/>
<path d="M42.4 131.2a2.6 2.6 0 1 0 5.3 0a2.6 2.6 0 1 0 -5.3 0z" fill="#939393"/>
<path d="M42.4 131.2a2.6 2.6 0 1 0 5.3 0a2.6 2.6 0 1 0 -5.3 0z" fill="url(#pp)"/>
<path d="M54.3 127.3a4.0 4.0 0 1 0 7.9 0a4.0 4.0 0 1 0 -7.9 0z" fill="none" stroke="#bfbfbf" stroke-width="2.6"/>
<path d="M54.3 127.3a4.0 4.0 0 1 0 7.9 0a4.0 4.0 0 1 0 -7.9 0z" fill="#939393"/>
<path d="M54.3 127.3a4.0 4.0 0 1 0 7.9 0a4.0 4.0 0 1 0 -7.9 0z" fill="url(#pp)"/>
<circle class="u" cx="56.7" cy="125.5" r="3.0" fill="none" stroke="#bebebe"/>
<path d="M190.1 135.9a4.0 4.0 0 1 0 7.9 0a4.0 4.0 0 1 0 -7.9 0z" fill="none" stroke="#bfbfbf" stroke-width="2.6"/>
<path d="M190.1 135.9a4.0 4.0 0 1 0 7.9 0a4.0 4.0 0 1 0 -7.9 0z" fill="#939393"/>
<path d="M190.1 135.9a4.0 4.0 0 1 0 7.9 0a4.0 4.0 0 1 0 -7.9 0z" fill="url(#pp)"/>
<circle class="u" cx="194.5" cy="137.9" r="3.7" fill="none" stroke="#b6b6b6"/>
<path d="M58.3 148.0a2.9 2.9 0 1 0 5.8 0a2.9 2.9 0 1 0 -5.8 0zM55.0 150.1a4.2 4.2 0 1 0 8.4 0a4.2 4.2 0 1 0 -8.4 0zM52.6 154.4a4.0 4.0 0 1 0 8.0 0a4.0 4.0 0 1 0 -8.0 0zM52.2 153.5a4.4 4.4 0 1 0 8.9 0a4.4 4.4 0 1 0 -8.9 0zM56.7 152.5a3.3 3.3 0 1 0 6.6 0a3.3 3.3 0 1 0 -6.6 0z" fill="none" stroke="#bfbfbf" stroke-width="2.6"/>
<path d="M58.3 148.0a2.9 2.9 0 1 0 5.8 0a2.9 2.9 0 1 0 -5.8 0zM55.0 150.1a4.2 4.2 0 1 0 8.4 0a4.2 4.2 0 1 0 -8.4 0zM52.6 154.4a4.0 4.0 0 1 0 8.0 0a4.0 4.0 0 1 0 -8.0 0zM52.2 153.5a4.4 4.4 0 1 0 8.9 0a4.4 4.4 0 1 0 -8.9 0zM56.7 152.5a3.3 3.3 0 1 0 6.6 0a3.3 3.3 0 1 0 -6.6 0z" fill="#939393"/>
<path d="M58.3 148.0a2.9 2.9 0 1 0 5.8 0a2.9 2.9 0 1 0 -5.8 0zM55.0 150.1a4.2 4.2 0 1 0 8.4 0a4.2 4.2 0 1 0 -8.4 0zM52.6 154.4a4.0 4.0 0 1 0 8.0 0a4.0 4.0 0 1 0 -8.0 0zM52.2 153.5a4.4 4.4 0 1 0 8.9 0a4.4 4.4 0 1 0 -8.9 0zM56.7 152.5a3.3 3.3 0 1 0 6.6 0a3.3 3.3 0 1 0 -6.6 0z" fill="url(#pp)"/>
<circle class="u" cx="60.5" cy="147.5" r="2.4" fill="none" stroke="#c6c6c6"/>
<circle class="u" cx="55.1" cy="148.3" r="3.0" fill="none" stroke="#b1b1b1"/>
<circle class="u" cx="60.2" cy="150.7" r="2.1" fill="none" stroke="#cccccc"/>
<circle class="u" cx="61.5" cy="150.3" r="2.7" fill="none" stroke="#b0b0b0"/>
<circle class="u" cx="53.8" cy="152.9" r="3.1" fill="none" stroke="#d1d1d1"/>
<circle class="u" cx="57.5" cy="150.1" r="2.7" fill="none" stroke="#c0c0c0"/>
<path d="M0.6 146.0a3.3 3.3 0 1 0 6.6 0a3.3 3.3 0 1 0 -6.6 0z" fill="none" stroke="#bfbfbf" stroke-width="2.6"/>
<path d="M0.6 146.0a3.3 3.3 0 1 0 6.6 0a3.3 3.3 0 1 0 -6.6 0z" fill="#939393"/>
<path d="M0.6 146.0a3.3 3.3 0 1 0 6.6 0a3.3 3.3 0 1 0 -6.6 0z" fill="url(#pp)"/>
<path d="M7.8 180.9a4.2 4.2 0 1 0 8.3 0a4.2 4.2 0 1 0 -8.3 0zM4.5 180.4a3.7 3.7 0 1 0 7.4 0a3.7 3.7 0 1 0 -7.4 0zM11.4 181.2a3.3 3.3 0 1 0 6.7 0a3.3 3.3 0 1 0 -6.7 0zM7.3 180.6a3.2 3.2 0 1 0 6.3 0a3.2 3.2 0 1 0 -6.3 0zM7.3 179.8a3.2 3.2 0 1 0 6.4 0a3.2 3.2 0 1 0 -6.4 0z" fill="none" stroke="#bfbfbf" stroke-width="2.6"/>
<path d="M7.8 180.9a4.2 4.2 0 1 0 8.3 0a4.2 4.2 0 1 0 -8.3 0zM4.5 180.4a3.7 3.7 0 1 0 7.4 0a3.7 3.7 0 1 0 -7.4 0zM11.4 181.2a3.3 3.3 0 1 0 6.7 0a3.3 3.3 0 1 0 -6.7 0zM7.3 180.6a3.2 3.2 0 1 0 6.3 0a3.2 3.2 0 1 0 -6.3 0zM7.3 179.8a3.2 3.2 0 1 0 6.4 0a3.2 3.2 0 1 0 -6.4 0z" fill="#939393"/>
<path d="M7.8 180.9a4.2 4.2 0 1 0 8.3 0a4.2 4.2 0 1 0 -8.3 0zM4.5 180.4a3.7 3.7 0 1 0 7.4 0a3.7 3.7 0 1 0 -7.4 0zM11.4 181.2a3.3 3.3 0 1 0 6.7 0a3.3 3.3 0 1 0 -6.7 0zM7.3 180.6a3.2 3.2 0 1 0 6.3 0a3.2 3.2 0 1 0 -6.3 0zM7.3 179.8a3.2 3.2 0 1 0 6.4 0a3.2 3.2 0 1 0 -6.4 0z" fill="url(#pp)"/>
<circle class="u" cx="17.0" cy="184.5" r="3.5" fill="none" stroke="#cdcdcd"/>
<circle class="u" cx="7.1" cy="177.4" r="3.4" fill="none" stroke="#bfbfbf"/>
<circle class="u" cx="6.0" cy="179.7" r="3.1" fill="none" stroke="#c6c6c6"/>
<circle class="u" cx="9.1" cy="175.7" r="2.4" fill="none" stroke="#bbbbbb"/>
<circle class="u" cx="10.7" cy="175.6" r="3.5" fill="none" stroke="#bdbdbd"/>
<circle class="u" cx="11.2" cy="177.9" r="2.5" fill="none" stroke="#cfcfcf"/>
<circle class="u" cx="15.1" cy="185.5" r="2.1" fill="none" stroke="#c6c6c6"/>
<path d="M69.0 188.9a3.1 3.1 0 1 0 6.3 0a3.1 3.1 0 1 0 -6.3 0zM72.7 185.9a2.9 2.9 0 1 0 5.9 0a2.9 2.9 0 1 0 -5.9 0zM74.1 189.9a2.6 2.6 0 1 0 5.2 0a2.6 2.6 0 1 0 -5.2 0zM71.2 188.2a2.4 2.4 0 1 0 4.7 0a2.4 2.4 0 1 0 -4.7 0z" fill="none" stroke="#bfbfbf" stroke-width="2.6"/>
<path d="M69.0 188.9a3.1 3.1 0 1 0 6.3 0a3.1 3.1 0 1 0 -6.3 0zM72.7 185.9a2.9 2.9 0 1 0 5.9 0a2.9 2.9 0 1 0 -5.9 0zM74.1 189.9a2.6 2.6 0 1 0 5.2 0a2.6 2.6 0 1 0 -5.2 0zM71.2 188.2a2.4 2.4 0 1 0 4.7 0a2.4 2.4 0 1 0 -4.7 0z" fill="#939393"/>
<path d="M69.0 188.9a3.1 3.1 0 1 0 6.3 0a3.1 3.1 0 1 0 -6.3 0zM72.7 185.9a2.9 2.9 0 1 0 5.9 0a2.9 2.9 0 1 0 -5.9 0zM74.1 189.9a2.6 2.6 0 1 0 5.2 0a2.6 2.6 0 1 0 -5.2 0zM71.2 188.2a2.4 2.4 0 1 0 4.7 0a2.4 2.4 0 1 0 -4.7 0z" fill="url(#pp)"/>
<circle class="u" cx="71.1" cy="187.4" r="3.0" fill="none" stroke="#d3d3d3"/>
<circle class="u" cx="73.4" cy="187.2" r="3.2" fill="none" stroke="#bbbbbb"/>
<circle class="u" cx="77.1" cy="187.2" r="2.8" fill="none" stroke="#c8c8c8"/>
<path d="M99.2 179.3a3.3 3.3 0 1 0 6.6 0a3.3 3.3 0 1 0 -6.6 0z" fill="none" stroke="#bfbfbf" stroke-width="2.6"/>
<path d="M99.2 179.3a3.3 3.3 0 1 0 6.6 0a3.3 3.3 0 1 0 -6.6 0z" fill="#939393"/>
<path d="M99.2 179.3a3.3 3.3 0 1 0 6.6 0a3.3 3.3 0 1 0 -6.6 0z" fill="url(#pp)"/>
</g>
</svg>
<svg x="342.5" y="694.4" width="266.3" height="200.2" overflow="hidden">
<rect width="266.3" height="200.2" fill="#7c7c7c"/>
<g filter="url(#soft)">
<path d="M75.9 13.8a5.8 5.8 0 1 0 11.6 0a5.8 5.8 0 1 0 -11.6 0zM76.8 13.4a5.0 5.0 0 1 0 10.1 0a5.0 5.0 0 1 0 -10.1 0zM82.8 16.5a5.1 5.1 0 1 0 10.3 0a5.1 5.1 0 1 0 -10.3 0zM82.3 10.6a4.4 4.4 0 1 0 8.8 0a4.4 4.4 0 1 0 -8.8 0zM85.6 15.4a5.3 5.3 0 1 0 10.6 0a5.3 5.3 0 1 0 -10.6 0zM86.2 14.0a5.9 5.9 0 1 0 11.8 0a5.9 5.9 0 1 0 -11.8 0zM79.3 8.4a4.1 4.1 0 1 0 8.2 0a4.1 4.1 0 1 0 -8.2 0z" fill="none" stroke="#aeaeae" stroke-width="2.6"/>
<path d="M75.9 13.8a5.8 5.8 0 1 0 11.6 0a5.8 5.8 0 1 0 -11.6 0zM76.8 13.4a5.0 5.0 0 1 0 10.1 0a5.0 5.0 0 1 0 -10.1 0zM82.8 16.5a5.1 5.1 0 1 0 10.3 0a5.1 5.1 0 1 0 -10.3 0zM82.3 10.6a4.4 4.4 0 1 0 8.8 0a4.4 4.4 0 1 0 -8.8 0zM85.6 15.4a5.3 5.3 0 1 0 10.6 0a5.3 5.3 0 1 0 -10.6 0zM86.2 14.0a5.9 5.9 0 1 0 11.8 0a5.9 5.9 0 1 0 -11.8 0zM79.3 8.4a4.1 4.1 0 1 0 8.2 0a4.1 4.1 0 1 0 -8.2 0z" fill="#7e7e7e"/>
<path d="M75.9 13.8a5.8 5.8 0 1 0 11.6 0a5.8 5.8 0 1 0 -11.6 0zM76.8 13.4a5.0 5.0 0 1 0 10.1 0a5.0 5.0 0 1 0 -10.1 0zM82.8 16.5a5.1 5.1 0 1 0 10.3 0a5.1 5.1 0 1 0 -10.3 0zM82.3 10.6a4.4 4.4 0 1 0 8.8 0a4.4 4.4 0 1 0 -8.8 0zM85.6 15.4a5.3 5.3 0 1 0 10.6 0a5.3 5.3 0 1 0 -10.6 0zM86.2 14.0a5.9 5.9 0 1 0 11.8 0a5.9 5.9 0 1 0 -11.8 0zM79.3 8.4a4.1 4.1 0 1 0 8.2 0a4.1 4.1 0 1 0 -8.2 0z" fill="url(#pp)"/>
<circle class="u" cx="92.9" cy="13.1" r="2.1" fill="none" stroke="#a6a6a6"/>
<circle class="u" cx="86.3" cy="14.0" r="2.8" fill="none" stroke="#afafaf"/>
<circle class="u" cx="89.9" cy="6.8" r="3.2" fill="none" stroke="#b1b1b1"/>
<circle class="u" cx="82.9" cy="7.1" r="2.5" fill="none" stroke="#c3c3c3"/>
<circle class="u" cx="94.7" cy="12.2" r="3.3" fill="none" stroke="#aaaaaa"/>
<circle class="u" cx="86.8" cy="17.4" r="2.1" fill="none" stroke="#bbbbbb"/>
<circle class="u" cx="79.2" cy="17.4" r="2.7" fill="none" stroke="#c2c2c2"/>
<circle class="u" cx="86.3" cy="12.2" r="2.4" fill="none" stroke="#c0c0c0"/>
<circle class="u" cx="77.1" cy="14.2" r="2.7" fill="none" stroke="#a1a1a1"/>
<circle class="u" cx="80.5" cy="6.4" r="2.5" fill="none" stroke="#a2a2a2"/>
<path d="M29.9 29.5a4.7 4.7 0 1 0 9.5 0a4.7 4.7 0 1 0 -9.5 0zM35.8 26.7a3.5 3.5 0 1 0 6.9 0a3.5 3.5 0 1 0 -6.9 0zM38.2 26.6a3.6 3.6 0 1 0 7.2 0a3.6 3.6 0 1 0 -7.2 0zM30.2 23.5a3.6 3.6 0 1 0 7.3 0a3.6 3.6 0 1 0 -7.3 0zM32.5 22.9a4.5 4.5 0 1 0 9.0 0a4.5 4.5 0 1 0 -9.0 0zM36.2 27.2a3.7 3.7 0 1 0 7.4 0a3.7 3.7 0 1 0 -7.4 0z" fill="none" stroke="#aeaeae" stroke-width="2.6"/>
<path d="M29.9 29.5a4.7 4.7 0 1 0 9.5 0a4.7 4.7 0 1 0 -9.5 0zM35.8 26.7a3.5 3.5 0 1 0 6.9 0a3.5 3.5 0 1 0 -6.9 0zM38.2 26.6a3.6 3.6 0 1 0 7.2 0a3.6 3.6 0 1 0 -7.2 0zM30.2 23.5a3.6 3.6 0 1 0 7.3 0a3.6 3.6 0 1 0 -7.3 0zM32.5 22.9a4.5 4.5 0 1 0 9.0 0a4.5 4.5 0 1 0 -9.0 0zM36.2 27.2a3.7 3.7 0 1 0 7.4 0a3.7 3.7 0 1 0 -7.4 0z" fill="#828282"/>
<path d="M29.9 29.5a4.7 4.7 0 1 0 9.5 0a4.7 4.7 0 1 0 -9.5 0zM35.8 26.7a3.5 3.5 0 1 0 6.9 0a3.5 3.5 0 1 0 -6.9 0zM38.2 26.6a3.6 3.6 0 1 0 7.2 0a3.6 3.6 0 1 0 -7.2 0zM30.2 23.5a3.6 3.6 0 1 0 7.3 0a3.6 3.6 0 1 0 -7.3 0zM32.5 22.9a4.5 4.5 0 1 0 9.0 0a4.5 4.5 0 1 0 -9.0 0zM36.2 27.2a3.7 3.7 0 1 0 7.4 0a3.7 3.7 0 1 0 -7.4 0z" fill="url(#pp)"/>
<circle class="u" cx="36.3" cy="32.8" r="3.4" fill="none" stroke="#aaaaaa"/>
<circle class="u" cx="40.1" cy="22.4" r="2.7" fill="none" stroke="#bebebe"/>
<circle class="u" cx="35.6" cy="22.8" r="3.8" fill="none" stroke="#a6a6a6"/>
<circle class="u" cx="36.9" cy="32.0" r="2.6" fill="none" stroke="#a9a9a9"/>
<circle class="u" cx="39.5" cy="25.9" r="3.0" fill="none" stroke="#a7a7a7"/>
<circle class="u" cx="33.3" cy="21.9" r="2.8" fill="none" stroke="#c2c2c2"/>
<circle class="u" cx="31.1" cy="25.5" r="3.6" fill="none" stroke="#a5a5a5"/>
<circle class="u" cx="41.7" cy="31.2" r="3.5" fill="none" stroke="#a8a8a8"/>
<path d="M15.4 40.2a2.6 2.6 0 1 0 5.1 0a2.6 2.6 0 1 0 -5.1 0zM15.5 40.5a2.5 2.5 0 1 0 5.0 0a2.5 2.5 0 1 0 -5.0 0zM13.9 37.0a1.7 1.7 0 1 0 3.5 0a1.7 1.7 0 1 0 -3.5 0zM17.8 38.7a1.9 1.9 0 1 0 3.7 0a1.9 1.9 0 1 0 -3.7 0z" fill="none" stroke="#aeaeae" stroke-width="2.6"/>
<path d="M15.4 40.2a2.6 2.6 0 1 0 5.1 0a2.6 2.6 0 1 0 -5.1 0zM15.5 40.5a2.5 2.5 0 1 0 5.0 0a2.5 2.5 0 1 0 -5.0 0zM13.9 37.0a1.7 1.7 0 1 0 3.5 0a1.7 1.7 0 1 0 -3.5 0zM17.8 38.7a1.9 1.9 0 1 0 3.7 0a1.9 1.9 0 1 0 -3.7 0z" fill="#828282"/>
<path d="M15.4 40.2a2.6 2.6 0 1 0 5.1 0a2.6 2.6 0 1 0 -5.1 0zM15.5 40.5a2.5 2.5 0 1 0 5.0 0a2.5 2.5 0 1 0 -5.0 0zM13.9 37.0a1.7 1.7 0 1 0 3.5 0a1.7 1.7 0 1 0 -3.5 0zM17.8 38.7a1.9 1.9 0 1 0 3.7 0a1.9 1.9 0 1 0 -3.7 0z" fill="url(#pp)"/>
<circle class="u" cx="16.5" cy="36.1" r="3.5" fill="none" stroke="#b5b5b5"/>
<circle class="u" cx="16.6" cy="39.7" r="3.3" fill="none" stroke="#a1a1a1"/>
<path d="M224.8 14.7a5.6 5.6 0 1 0 11.3 0a5.6 5.6 0 1 0 -11.3 0zM221.6 7.9a5.8 5.8 0 1 0 11.6 0a5.8 5.8 0 1 0 -11.6 0zM225.7 10.9a4.3 4.3 0 1 0 8.7 0a4.3 4.3 0 1 0 -8.7 0zM224.3 10.6a4.1 4.1 0 1 0 8.2 0a4.1 4.1 0 1 0 -8.2 0zM222.6 13.5a4.0 4.0 0 1 0 8.0 0a4.0 4.0 0 1 0 -8.0 0zM220.1 14.6a5.9 5.9 0 1 0 11.8 0a5.9 5.9 0 1 0 -11.8 0zM221.9 5.8a5.0 5.0 0 1 0 10.1 0a5.0 5.0 0 1 0 -10.1 0z" fill="none" stroke="#aeaeae" stroke-width="2.6"/>
<path d="M224.8 14.7a5.6 5.6 0 1 0 11.3 0a5.6 5.6 0 1 0 -11.3 0zM221.6 7.9a5.8 5.8 0 1 0 11.6 0a5.8 5.8 0 1 0 -11.6 0zM225.7 10.9a4.3 4.3 0 1 0 8.7 0a4.3 4.3 0 1 0 -8.7 0zM224.3 10.6a4.1 4.1 0 1 0 8.2 0a4.1 4.1 0 1 0 -8.2 0zM222.6 13.5a4.0 4.0 0 1 0 8.0 0a4.0 4.0 0 1 0 -8.0 0zM220.1 14.6a5.9 5.9 0 1 0 11.8 0a5.9 5.9 0 1 0 -11.8 0zM221.9 5.8a5.0 5.0 0 1 0 10.1 0a5.0 5.0 0 1 0 -10.1 0z" fill="#7e7e7e"/>
<path d="M224.8 14.7a5.6 5.6 0 1 0 11.3 0a5.6 5.6 0 1 0 -11.3 0zM221.6 7.9a5.8 5.8 0 1 0 11.6 0a5.8 5.8 0 1 0 -11.6 0zM225.7 10.9a4.3 4.3 0 1 0 8.7 0a4.3 4.3 0 1 0 -8.7 0zM224.3 10.6a4.1 4.1 0 1 0 8.2 0a4.1 4.1 0 1 0 -8.2 0zM222.6 13.5a4.0 4.0 0 1 0 8.0 0a4.0 4.0 0 1 0 -8.0 0zM220.1 14.6a5.9 5.9 0 1 0 11.8 0a5.9 5.9 0 1 0 -11.8 0zM221.9 5.8a5.0 5.0 0 1 0 10.1 0a5.0 5.0 0 1 0 -10.1 0z" fill="url(#pp)"/>
<circle class="u" cx="230.9" cy="11.4" r="2.0" fill="none" stroke="#c0c0c0"/>
<circle class="u" cx="227.0" cy="1.4" r="2.0" fill="none" stroke="#b6b6b6"/>
<circle class="u" cx="221.9" cy="11.0" r="2.6" fill="none" stroke="#c3c3c3"/>
<circle class="u" cx="235.9" cy="13.2" r="3.3" fill="none" stroke="#c0c0c0"/>
<circle class="u" cx="229.2" cy="2.3" r="3.4" fill="none" stroke="#c0c0c0"/>
<circle class="u" cx="225.2" cy="16.3" r="3.6" fill="none" stroke="#bfbfbf"/>
<circle class="u" cx="222.6" cy="14.2" r="3.6" fill="none" stroke="#b4b4b4"/>
<circle class="u" cx="225.7" cy="6.0" r="3.0" fill="none" stroke="#b5b5b5"/>
<circle class="u" cx="236.3" cy="13.7" r="3.8" fill="none" stroke="#bfbfbf"/>
<circle class="u" cx="229.0" cy="4.3" r="3.3" fill="none" stroke="#b4b4b4"/>
<path d="M43.4 56.7a4.0 4.0 0 1 0 7.9 0a4.0 4.0 0 1 0 -7.9 0z" fill="none" stroke="#aeaeae" stroke-width="2.6"/>
<path d="M43.4 56.7a4.0 4.0 0 1 0 7.9 0a4.0 4.0 0 1 0 -7.9 0z" fill="#828282"/>
<path d="M43.4 56.7a4.0 4.0 0 1 0 7.9 0a4.0 4.0 0 1 0 -7.9 0z" fill="url(#pp)"/>
<circle class="u" cx="44.4" cy="57.8" r="2.2" fill="none" stroke="#bababa"/>
<path d="M14.7 76.5a2.1 2.1 0 1 0 4.2 0a2.1 2.1 0 1 0 -4.2 0zM12.9 78.3a2.1 2.1 0 1 0 4.2 0a2.1 2.1 0 1 0 -4.2 0zM10.9 74.4a1.9 1.9 0 1 0 3.8 0a1.9 1.9 0 1 0 -3.8 0zM13.9 76.2a2.3 2.3 0 1 0 4.6 0a2.3 2.3 0 1 0 -4.6 0z" fill="none" stroke="#aeaeae" stroke-width="2.6"/>
<path d="M14.7 76.5a2.1 2.1 0 1 0 4.2 0a2.1 2.1 0 1 0 -4.2 0zM12.9 78.3a2.1 2.1 0 1 0 4.2 0a2.1 2.1 0 1 0 -4.2 0zM10.9 74.4a1.9 1.9 0 1 0 3.8 0a1.9 1.9 0 1 0 -3.8 0zM13.9 76.2a2.3 2.3 0 1 0 4.6 0a2.3 2.3 0 1 0 -4.6 0z" fill="#828282"/>
<path d="M14.7 76.5a2.1 2.1 0 1 0 4.2 0a2.1 2.1 0 1 0 -4.2 0zM12.9 78.3a2.1 2.1 0 1 0 4.2 0a2.1 2.1 0 1 0 -4.2 0zM10.9 74.4a1.9 1.9 0 1 0 3.8 0a1.9 1.9 0 1 0 -3.8 0zM13.9 76.2a2.3 2.3 0 1 0 4.6 0a2.3 2.3 0 1 0 -4.6 0z" fill="url(#pp)"/>
<circle class="u" cx="15.2" cy="77.7" r="3.6" fill="none" stroke="#b7b7b7"/>
<circle class="u" cx="11.2" cy="77.5" r="2.6" fill="none" stroke="#b7b7b7"/>
<path d="M141.7 50.5a2.0 2.0 0 1 0 4.0 0a2.0 2.0 0 1 0 -4.0 0z" fill="none" stroke="#aeaeae" stroke-width="2.6"/>
<path d="M141.7 50.5a2.0 2.0 0 1 0 4.0 0a2.0 2.0 0 1 0 -4.0 0z" fill="#828282"/>
<path d="M141.7 50.5a2.0 2.0 0 1 0 4.0 0a2.0 2.0 0 1 0 -4.0 0z" fill="url(#pp)"/>
<path d="M145.4 75.6a3.8 3.8 0 1 0 7.6 0a3.8 3.8 0 1 0 -7.6 0zM148.6 70.9a3.2 3.2 0 1 0 6.3 0a3.2 3.2 0 1 0 -6.3 0zM143.4 71.8a2.8 2.8 0 1 0 5.5 0a2.8 2.8 0 1 0 -5.5 0zM140.5 73.1a3.9 3.9 0 1 0 7.7 0a3.9 3.9 0 1 0 -7.7 0zM144.3 68.9a3.0 3.0 0 1 0 6.0 0a3.0 3.0 0 1 0 -6.0 0z" fill="none" stroke="#aeaeae" stroke-width="2.6"/>
<path d="M145.4 75.6a3.8 3.8 0 1 0 7.6 0a3.8 3.8 0 1 0 -7.6 0zM148.6 70.9a3.2 3.2 0 1 0 6.3 0a3.2 3.2 0 1 0 -6.3 0zM143.4 71.8a2.8 2.8 0 1 0 5.5 0a2.8 2.8 0 1 0 -5.5 0zM140.5 73.1a3.9 3.9 0 1 0 7.7 0a3.9 3.9 0 1 0 -7.7 0zM144.3 68.9a3.0 3.0 0 1 0 6.0 0a3.0 3.0 0 1 0 -6.0 0z" fill="#828282"/>
<path d="M145.4 75.6a3.8 3.8 0 1 0 7.6 0a3.8 3.8 0 1 0 -7.6 0zM148.6 70.9a3.2 3.2 0 1 0 6.3 0a3.2 3.2 0 1 0 -6.3 0zM143.4 71.8a2.8 2.8 0 1 0 5.5 0a2.8 2.8 0 1 0 -5.5 0zM140.5 73.1a3.9 3.9 0 1 0 7.7 0a3.9 3.9 0 1 0 -7.7 0zM144.3 68.9a3.0 3.0 0 1 0 6.0 0a3.0 3.0 0 1 0 -6.0 0z" fill="url(#pp)"/>
<circle class="u" cx="150.4" cy="76.7" r="2.5" fill="none" stroke="#a6a6a6"/>
<circle class="u" cx="143.9" cy="75.6" r="2.9" fill="none" stroke="#aaaaaa"/>
<circle class="u" cx="151.7" cy="67.6" r="2.8" fill="none" stroke="#a1a1a1"/>
<circle class="u" cx="154.2" cy="74.2" r="2.1" fill="none" stroke="#b9b9b9"/>
<circle class="u" cx="145.1" cy="71.5" r="3.4" fill="none" stroke="#9f9f9f"/>
<path d="M201.3 70.9a2.1 2.1 0 1 0 4.3 0a2.1 2.1 0 1 0 -4.3 0zM200.4 67.6a2.3 2.3 0 1 0 4.5 0a2.3 2.3 0 1 0 -4.5 0zM201.9 69.9a2.7 2.7 0 1 0 5.3 0a2.7 2.7 0 1 0 -5.3 0zM196.8 67.0a3.1 3.1 0 1 0 6.2 0a3.1 3.1 0 1 0 -6.2 0z" fill="none" stroke="#aeaeae" stroke-width="2.6"/>
<path d="M201.3 70.9a2.1 2.1 0 1 0 4.3 0a2.1 2.1 0 1 0 -4.3 0zM200.4 67.6a2.3 2.3 0 1 0 4.5 0a2.3 2.3 0 1 0 -4.5 0zM201.9 69.9a2.7 2.7 0 1 0 5.3 0a2.7 2.7 0 1 0 -5.3 0zM196.8 67.0a3.1 3.1 0 1 0 6.2 0a3.1 3.1 0 1 0 -6.2 0z" fill="#828282"/>
<path d="M201.3 70.9a2.1 2.1 0 1 0 4.3 0a2.1 2.1 0 1 0 -4.3 0zM200.4 67.6a2.3 2.3 0 1 0 4.5 0a2.3 2.3 0 1 0 -4.5 0zM201.9 69.9a2.7 2.7 0 1 0 5.3 0a2.7 2.7 0 1 0 -5.3 0zM196.8 67.0a3.1 3.1 0 1 0 6.2 0a3.1 3.1 0 1 0 -6.2 0z" fill="url(#pp)"/>
<circle class="u" cx="206.1" cy="68.0" r="2.4" fill="none" stroke="#b0b0b0"/>
<circle class="u" cx="202.1" cy="69.6" r="2.8" fill="none" stroke="#b9b9b9"/>
<circle class="u" cx="203.0" cy="71.6" r="2.6" fill="none" stroke="#b8b8b8"/>
<path d="M97.2 94.0a6.1 6.1 0 1 0 12.2 0a6.1 6.1 0 1 0 -12.2 0zM97.3 98.6a6.5 6.5 0 1 0 12.9 0a6.5 6.5 0 1 0 -12.9 0zM108.4 98.2a6.0 6.0 0 1 0 12.0 0a6.0 6.0 0 1 0 -12.0 0zM106.2 98.1a5.8 5.8 0 1 0 11.5 0a5.8 5.8 0 1 0 -11.5 0zM106.7 92.4a5.6 5.6 0 1 0 11.2 0a5.6 5.6 0 1 0 -11.2 0zM106.7 90.4a6.6 6.6 0 1 0 13.1 0a6.6 6.6 0 1 0 -13.1 0zM98.5 96.0a4.7 4.7 0 1 0 9.4 0a4.7 4.7 0 1 0 -9.4 0zM101.8 88.5a5.8 5.8 0 1 0 11.6 0a5.8 5.8 0 1 0 -11.6 0z" fill="none" stroke="#aeaeae" stroke-width="2.6"/>
<path d="M97.2 94.0a6.1 6.1 0 1 0 12.2 0a6.1 6.1 0 1 0 -12.2 0zM97.3 98.6a6.5 6.5 0 1 0 12.9 0a6.5 6.5 0 1 0 -12.9 0zM108.4 98.2a6.0 6.0 0 1 0 12.0 0a6.0 6.0 0 1 0 -12.0 0zM106.2 98.1a5.8 5.8 0 1 0 11.5 0a5.8 5.8 0 1 0 -11.5 0zM106.7 92.4a5.6 5.6 0 1 0 11.2 0a5.6 5.6 0 1 0 -11.2 0zM106.7 90.4a6.6 6.6 0 1 0 13.1 0a6.6 6.6 0 1 0 -13.1 0zM98.5 96.0a4.7 4.7 0 1 0 9.4 0a4.7 4.7 0 1 0 -9.4 0zM101.8 88.5a5.8 5.8 0 1 0 11.6 0a5.8 5.8 0 1 0 -11.6 0z" fill="#7e7e7e"/>
<path d="M97.2 94.0a6.1 6.1 0 1 0 12.2 0a6.1 6.1 0 1 0 -12.2 0zM97.3 98.6a6.5 6.5 0 1 0 12.9 0a6.5 6.5 0 1 0 -12.9 0zM108.4 98.2a6.0 6.0 0 1 0 12.0 0a6.0 6.0 0 1 0 -12.0 0zM106.2 98.1a5.8 5.8 0 1 0 11.5 0a5.8 5.8 0 1 0 -11.5 0zM106.7 92.4a5.6 5.6 0 1 0 11.2 0a5.6 5.6 0 1 0 -11.2 0zM106.7 90.4a6.6 6.6 0 1 0 13.1 0a6.6 6.6 0 1 0 -13.1 0zM98.5 96.0a4.7 4.7 0 1 0 9.4 0a4.7 4.7 0 1 0 -9.4 0zM101.8 88.5a5.8 5.8 0 1 0 11.6 0a5.8 5.8 0 1 0 -11.6 0z" fill="url(#pp)"/>
<circle class="u" cx="107.7" cy="90.0" r="3.6" fill="none" stroke="#c3c3c3"/>
<circle class="u" cx="116.3" cy="93.6" r="3.4" fill="none" stroke="#aaaaaa"/>
<circle class="u" cx="116.9" cy="89.5" r="2.6" fill="none" stroke="#a2a2a2"/>
<circle class="u" cx="101.5" cy="97.5" r="3.4" fill="none" stroke="#b1b1b1"/>
<circle class="u" cx="118.0" cy="96.4" r="2.1" fill="none" stroke="#bcbcbc"/>
<circle class="u" cx="111.5" cy="100.1" r="3.4" fill="none" stroke="#a4a4a4"/>
<circle class="u" cx="113.2" cy="100.8" r="3.3" fill="none" stroke="#bebebe"/>
<circle class="u" cx="104.9" cy="85.3" r="2.9" fill="none" stroke="#c2c2c2"/>
<circle class="u" cx="112.9" cy="97.3" r="2.9" fill="none" stroke="#a9a9a9"/>
<circle class="u" cx="107.6" cy="86.4" r="2.9" fill="none" stroke="#bebebe"/>
<circle class="u" cx="103.3" cy="92.6" r="2.7" fill="none" stroke="#bebebe"/>
<circle class="u" cx="112.6" cy="91.9" r="3.5" fill="none" stroke="#c2c2c2"/>
<circle class="u" cx="100.9" cy="93.5" r="2.4" fill="none" stroke="#b2b2b2"/>
<path d="M108.6 80.7a4.0 4.0 0 1 0 7.9 0a4.0 4.0 0 1 0 -7.9 0z" fill="none" stroke="#aeaeae" stroke-width="2.6"/>
<path d="M108.6 80.7a4.0 4.0 0 1 0 7.9 0a4.0 4.0 0 1 0 -7.9 0z" fill="#828282"/>
<path d="M108.6 80.7a4.0 4.0 0 1 0 7.9 0a4.0 4.0 0 1 0 -7.9 0z" fill="url(#pp)"/>
<circle class="u" cx="109.9" cy="80.7" r="2.0" fill="none" stroke="#c2c2c2"/>
<path d="M58.7 113.1a3.8 3.8 0 1 0 7.6 0a3.8 3.8 0 1 0 -7.6 0zM58.8 112.2a3.6 3.6 0 1 0 7.2 0a3.6 3.6 0 1 0 -7.2 0zM64.9 114.6a3.2 3.2 0 1 0 6.4 0a3.2 3.2 0 1 0 -6.4 0zM66.2 112.3a3.0 3.0 0 1 0 6.0 0a3.0 3.0 0 1 0 -6.0 0zM60.5 113.6a3.2 3.2 0 1 0 6.5 0a3.2 3.2 0 1 0 -6.5 0z" fill="none" stroke="#aeaeae" stroke-width="2.6"/>
<path d="M58.7 113.1a3.8 3.8 0 1 0 7.6 0a3.8 3.8 0 1 0 -7.6 0zM58.8 112.2a3.6 3.6 0 1 0 7.2 0a3.6 3.6 0 1 0 -7.2 0zM64.9 114.6a3.2 3.2 0 1 0 6.4 0a3.2 3.2 0 1 0 -6.4 0zM66.2 112.3a3.0 3.0 0 1 0 6.0 0a3.0 3.0 0 1 0 -6.0 0zM60.5 113.6a3.2 3.2 0 1 0 6.5 0a3.2 3.2 0 1 0 -6.5 0z" fill="#828282"/>
<path d="M58.7 113.1a3.8 3.8 0 1 0 7.6 0a3.8 3.8 0 1 0 -7.6 0zM58.8 112.2a3.6 3.6 0 1 0 7.2 0a3.6 3.6 0 1 0 -7.2 0zM64.9 114.6a3.2 3.2 0 1 0 6.4 0a3.2 3.2 0 1 0 -6.4 0zM66.2 112.3a3.0 3.0 0 1 0 6.0 0a3.0 3.0 0 1 0 -6.0 0zM60.5 113.6a3.2 3.2 0 1 0 6.5 0a3.2 3.2 0 1 0 -6.5 0z" fill="url(#pp)"/>
<circle class="u" cx="67.7" cy="107.8" r="2.9" fill="none" stroke="#aaaaaa"/>
<circle class="u" cx="67.0" cy="118.1" r="3.7" fill="none" stroke="#a3a3a3"/>
<circle class="u" cx="65.4" cy="112.4" r="2.3" fill="none" stroke="#a7a7a7"/>
<circle class="u" cx="63.8" cy="110.0" r="2.6" fill="none" stroke="#b5b5b5"/>
<circle class="u" cx="69.5" cy="116.7" r="2.2" fill="none" stroke="#b1b1b1"/>
<path d="M30.0 126.1a3.4 3.4 0 1 0 6.8 0a3.4 3.4 0 1 0 -6.8 0zM27.8 125.2a3.2 3.2 0 1 0 6.4 0a3.2 3.2 0 1 0 -6.4 0zM28.8 123.9a2.9 2.9 0 1 0 5.8 0a2.9 2.9 0 1 0 -5.8 0zM27.7 121.7a3.4 3.4 0 1 0 6.8 0a3.4 3.4 0 1 0 -6.8 0zM31.5 121.5a3.9 3.9 0 1 0 7.8 0a3.9 3.9 0 1 0 -7.8 0z" fill="none" stroke="#aeaeae" stroke-width="2.6"/>
<path d="M30.0 126.1a3.4 3.4 0 1 0 6.8 0a3.4 3.4 0 1 0 -6.8 0zM27.8 125.2a3.2 3.2 0 1 0 6.4 0a3.2 3.2 0 1 0 -6.4 0zM28.8 123.9a2.9 2.9 0 1 0 5.8 0a2.9 2.9 0 1 0 -5.8 0zM27.7 121.7a3.4 3.4 0 1 0 6.8 0a3.4 3.4 0 1 0 -6.8 0zM31.5 121.5a3.9 3.9 0 1 0 7.8 0a3.9 3.9 0 1 0 -7.8 0z" fill="#828282"/>
<path d="M30.0 126.1a3.4 3.4 0 1 0 6.8 0a3.4 3.4 0 1 0 -6.8 0zM27.8 125.2a3.2 3.2 0 1 0 6.4 0a3.2 3.2 0 1 0 -6.4 0zM28.8 123.9a2.9 2.9 0 1 0 5.8 0a2.9 2.9 0 1 0 -5.8 0zM27.7 121.7a3.4 3.4 0 1 0 6.8 0a3.4 3.4 0 1 0 -6.8 0zM31.5 121.5a3.9 3.9 0 1 0 7.8 0a3.9 3.9 0 1 0 -7.8 0z" fill="url(#pp)"/>
<circle class="u" cx="34.0" cy="129.7" r="3.5" fill="none" stroke="#c0c0c0"/>
<circle class="u" cx="31.9" cy="127.5" r="3.7" fill="none" stroke="#a7a7a7"/>
<circle class="u" cx="39.4" cy="124.2" r="2.2" fill="none" stroke="#a7a7a7"/>
<circle class="u" cx="32.9" cy="121.0" r="2.2" fill="none" stroke="#bdbdbd"/>
<circle class="u" cx="28.4" cy="126.9" r="2.2" fill="none" stroke="#adadad"/>
<path d="M115.5 131.0a5.2 5.2 0 1 0 10.4 0a5.2 5.2 0 1 0 -10.4 0zM110.7 125.2a7.4 7.4 0 1 0 14.7 0a7.4 7.4 0 1 0 -14.7 0zM118.5 135.6a6.8 6.8 0 1 0 13.6 0a6.8 6.8 0 1 0 -13.6 0zM109.5 131.9a5.2 5.2 0 1 0 10.4 0a5.2 5.2 0 1 0 -10.4 0zM118.6 133.1a4.8 4.8 0 1 0 9.5 0a4.8 4.8 0 1 0 -9.5 0zM109.6 130.2a6.2 6.2 0 1 0 12.5 0a6.2 6.2 0 1 0 -12.5 0zM117.9 134.6a5.2 5.2 0 1 0 10.5 0a5.2 5.2 0 1 0 -10.5 0zM118.0 125.5a7.2 7.2 0 1 0 14.5 0a7.2 7.2 0 1 0 -14.5 0zM115.4 133.1a7.3 7.3 0 1 0 14.6 0a7.3 7.3 0 1 0 -14.6 0z" fill="none" stroke="#aeaeae" stroke-width="2.6"/>
<path d="M115.5 131.0a5.2 5.2 0 1 0 10.4 0a5.2 5.2 0 1 0 -10.4 0zM110.7 125.2a7.4 7.4 0 1 0 14.7 0a7.4 7.4 0 1 0 -14.7 0zM118.5 135.6a6.8 6.8 0 1 0 13.6 0a6.8 6.8 0 1 0 -13.6 0zM109.5 131.9a5.2 5.2 0 1 0 10.4 0a5.2 5.2 0 1 0 -10.4 0zM118.6 133.1a4.8 4.8 0 1 0 9.5 0a4.8 4.8 0 1 0 -9.5 0zM109.6 130.2a6.2 6.2 0 1 0 12.5 0a6.2 6.2 0 1 0 -12.5 0zM117.9 134.6a5.2 5.2 0 1 0 10.5 0a5.2 5.2 0 1 0 -10.5 0zM118.0 125.5a7.2 7.2 0 1 0 14.5 0a7.2 7.2 0 1 0 -14.5 0zM115.4 133.1a7.3 7.3 0 1 0 14.6 0a7.3 7.3 0 1 0 -14.6 0z" fill="#7e7e7e"/>
<path d="M115.5 131.0a5.2 5.2 0 1 0 10.4 0a5.2 5.2 0 1 0 -10.4 0zM110.7 125.2a7.4 7.4 0 1 0 14.7 0a7.4 7.4 0 1 0 -14.7 0zM118.5 135.6a6.8 6.8 0 1 0 13.6 0a6.8 6.8 0 1 0 -13.6 0zM109.5 131.9a5.2 5.2 0 1 0 10.4 0a5.2 5.2 0 1 0 -10.4 0zM118.6 133.1a4.8 4.8 0 1 0 9.5 0a4.8 4.8 0 1 0 -9.5 0zM109.6 130.2a6.2 6.2 0 1 0 12.5 0a6.2 6.2 0 1 0 -12.5 0zM117.9 134.6a5.2 5.2 0 1 0 10.5 0a5.2 5.2 0 1 0 -10.5 0zM118.0 125.5a7.2 7.2 0 1 0 14.5 0a7.2 7.2 0 1 0 -14.5 0zM115.4 133.1a7.3 7.3 0 1 0 14.6 0a7.3 7.3 0 1 0 -14.6 0z" fill="url(#pp)"/>
<circle class="u" cx="111.2" cy="134.4" r="2.6" fill="none" stroke="#b0b0b0"/>
<circle class="u" cx="113.5" cy="131.3" r="3.1" fill="none" stroke="#9f9f9f"/>
<circle class="u" cx="117.9" cy="121.8" r="2.3" fill="none" stroke="#afafaf"/>
<circle class="u" cx="120.6" cy="124.6" r="2.4" fill="none" stroke="#a5a5a5"/>
<circle class="u" cx="119.7" cy="131.9" r="3.6" fill="none" stroke="#bcbcbc"/>
<circle class="u" cx="118.1" cy="121.6" r="3.1" fill="none" stroke="#adadad"/>
<circle class="u" cx="114.4" cy="127.1" r="3.8" fill="none" stroke="#bcbcbc"/>
<circle class="u" cx="120.5" cy="143.1" r="3.3" fill="none" stroke="#bbbbbb"/>
<circle class="u" cx="124.0" cy="125.2" r="3.6" fill="none" stroke="#bfbfbf"/>
<circle class="u" cx="117.6" cy="122.4" r="3.4" fill="none" stroke="#aeaeae"/>
<circle class="u" cx="120.6" cy="128.9" r="2.6" fill="none" stroke="#b0b0b0"/>
<circle class="u" cx="128.0" cy="132.4" r="3.1" fill="none" stroke="#b6b6b6"/>
<circle class="u" cx="122.4" cy="143.2" r="3.2" fill="none" stroke="#ababab"/>
<circle class="u" cx="116.4" cy="124.6" r="3.0" fill="none" stroke="#adadad"/>
<circle class="u" cx="130.5" cy="132.0" r="3.3" fill="none" stroke="#bbbbbb"/>
<circle class="u" cx="122.9" cy="131.8" r="3.1" fill="none" stroke="#bababa"/>
<path d="M210.2 93.2a3.3 3.3 0 1 0 6.6 0a3.3 3.3 0 1 0 -6.6 0z" fill="none" stroke="#aeaeae" stroke-width="2.6"/>
<path d="M210.2 93.2a3.3 3.3 0 1 0 6.6 0a3.3 3.3 0 1 0 -6.6 0z" fill="#828282"/>
<path d="M210.2 93.2a3.3 3.3 0 1 0 6.6 0a3.3 3.3 0 1 0 -6.6 0z" fill="url(#pp)"/>
<path d="M224.5 108.5a2.9 2.9 0 1 0 5.8 0a2.9 2.9 0 1 0 -5.8 0zM225.5 108.3a3.0 3.0 0 1 0 5.9 0a3.0 3.0 0 1 0 -5.9 0zM223.7 110.0a3.7 3.7 0 1 0 7.4 0a3.7 3.7 0 1 0 -7.4 0zM219.2 105.4a3.7 3.7 0 1 0 7.5 0a3.7 3.7 0 1 0 -7.5 0zM227.1 105.5a4.2 4.2 0 1 0 8.3 0a4.2 4.2 0 1 0 -8.3 0z" fill="none" stroke="#aeaeae" stroke-width="2.6"/>
<path d="M224.5 108.5a2.9 2.9 0 1 0 5.8 0a2.9 2.9 0 1 0 -5.8 0zM225.5 108.3a3.0 3.0 0 1 0 5.9 0a3.0 3.0 0 1 0 -5.9 0zM223.7 110.0a3.7 3.7 0 1 0 7.4 0a3.7 3.7 0 1 0 -7.4 0zM219.2 105.4a3.7 3.7 0 1 0 7.5 0a3.7 3.7 0 1 0 -7.5 0zM227.1 105.5a4.2 4.2 0 1 0 8.3 0a4.2 4.2 0 1 0 -8.3 0z" fill="#828282"/>
<path d="M224.5 108.5a2.9 2.9 0 1 0 5.8 0a2.9 2.9 0 1 0 -5.8 0zM225.5 108.3a3.0 3.0 0 1 0 5.9 0a3.0 3.0 0 1 0 -5.9 0zM223.7 110.0a3.7 3.7 0 1 0 7.4 0a3.7 3.7 0 1 0 -7.4 0zM219.2 105.4a3.7 3.7 0 1 0 7.5 0a3.7 3.7 0 1 0 -7.5 0zM227.1 105.5a4.2 4.2 0 1 0 8.3 0a4.2 4.2 0 1 0 -8.3 0z" fill="url(#pp)"/>
<circle class="u" cx="232.3" cy="108.1" r="3.4" fill="none" stroke="#a0a0a0"/>
<circle class="u" cx="230.0" cy="104.4" r="2.8" fill="none" stroke="#a5a5a5"/>
<circle class="u" cx="222.0" cy="105.7" r="2.1" fill="none" stroke="#c1c1c1"/>
<circle class="u" cx="223.0" cy="108.0" r="3.1" fill="none" stroke="#acacac"/>
<circle class="u" cx="226.2" cy="111.1" r="3.0" fill="none" stroke="#a9a9a9"/>
<circle class="u" cx="226.7" cy="101.9" r="2.0" fill="none" stroke="#a8a8a8"/>
<path d="M245.4 134.5a8.1 8.1 0 1 0 16.2 0a8.1 8.1 0 1 0 -16.2 0zM235.1 139.2a8.1 8.1 0 1 0 16.2 0a8.1 8.1 0 1 0 -16.2 0zM250.1 136.4a8.8 8.8 0 1 0 17.5 0a8.8 8.8 0 1 0 -17.5 0zM250.9 137.5a7.0 7.0 0 1 0 14.1 0a7.0 7.0 0 1 0 -14.1 0zM234.5 134.8a6.4 6.4 0 1 0 12.8 0a6.4 6.4 0 1 0 -12.8 0zM233.1 132.2a8.0 8.0 0 1 0 16.0 0a8.0 8.0 0 1 0 -16.0 0zM232.6 135.4a8.3 8.3 0 1 0 16.7 0a8.3 8.3 0 1 0 -16.7 0zM239.8 131.6a7.7 7.7 0 1 0 15.4 0a7.7 7.7 0 1 0 -15.4 0zM240.2 134.7a5.8 5.8 0 1 0 11.5 0a5.8 5.8 0 1 0 -11.5 0zM239.7 133.0a7.1 7.1 0 1 0 14.2 0a7.1 7.1 0 1 0 -14.2 0z" fill="none" stroke="#aeaeae" stroke-width="2.6"/>
<path d="M245.4 134.5a8.1 8.1 0 1 0 16.2 0a8.1 8.1 0 1 0 -16.2 0zM235.1 139.2a8.1 8.1 0 1 0 16.2 0a8.1 8.1 0 1 0 -16.2 0zM250.1 136.4a8.8 8.8 0 1 0 17.5 0a8.8 8.8 0 1 0 -17.5 0zM250.9 137.5a7.0 7.0 0 1 0 14.1 0a7.0 7.0 0 1 0 -14.1 0zM234.5 134.8a6.4 6.4 0 1 0 12.8 0a6.4 6.4 0 1 0 -12.8 0zM233.1 132.2a8.0 8.0 0 1 0 16.0 0a8.0 8.0 0 1 0 -16.0 0zM232.6 135.4a8.3 8.3 0 1 0 16.7 0a8.3 8.3 0 1 0 -16.7 0zM239.8 131.6a7.7 7.7 0 1 0 15.4 0a7.7 7.7 0 1 0 -15.4 0zM240.2 134.7a5.8 5.8 0 1 0 11.5 0a5.8 5.8 0 1 0 -11.5 0zM239.7 133.0a7.1 7.1 0 1 0 14.2 0a7.1 7.1 0 1 0 -14.2 0z" fill="#7e7e7e"/>
<path d="M245.4 134.5a8.1 8.1 0 1 0 16.2 0a8.1 8.1 0 1 0 -16.2 0zM235.1 139.2a8.1 8.1 0 1 0 16.2 0a8.1 8.1 0 1 0 -16.2 0zM250.1 136.4a8.8 8.8 0 1 0 17.5 0a8.8 8.8 0 1 0 -17.5 0zM250.9 137.5a7.0 7.0 0 1 0 14.1 0a7.0 7.0 0 1 0 -14.1 0zM234.5 134.8a6.4 6.4 0 1 0 12.8 0a6.4 6.4 0 1 0 -12.8 0zM233.1 132.2a8.0 8.0 0 1 0 16.0 0a8.0 8.0 0 1 0 -16.0 0zM232.6 135.4a8.3 8.3 0 1 0 16.7 0a8.3 8.3 0 1 0 -16.7 0zM239.8 131.6a7.7 7.7 0 1 0 15.4 0a7.7 7.7 0 1 0 -15.4 0zM240.2 134.7a5.8 5.8 0 1 0 11.5 0a5.8 5.8 0 1 0 -11.5 0zM239.7 133.0a7.1 7.1 0 1 0 14.2 0a7.1 7.1 0 1 0 -14.2 0z" fill="url(#pp)"/>
<circle class="u" cx="245.3" cy="125.3" r="2.5" fill="none" stroke="#b4b4b4"/>
<circle class="u" cx="239.2" cy="139.5" r="3.0" fill="none" stroke="#c3c3c3"/>
<circle class="u" cx="261.4" cy="130.0" r="2.4" fill="none" stroke="#a3a3a3"/>
<circle class="u" cx="259.7" cy="125.8" r="3.1" fill="none" stroke="#acacac"/>
<circle class="u" cx="248.4" cy="145.0" r="3.0" fill="none" stroke="#b4b4b4"/>
<circle class="u" cx="241.9" cy="124.5" r="2.3" fill="none" stroke="#a8a8a8"/>
<circle class="u" cx="263.3" cy="131.8" r="3.6" fill="none" stroke="#a0a0a0"/>
<circle class="u" cx="256.8" cy="136.3" r="2.8" fill="none" stroke="#b6b6b6"/>
<circle class="u" cx="258.2" cy="139.7" r="2.1" fill="none" stroke="#a2a2a2"/>
<circle class="u" cx="245.4" cy="124.3" r="3.1" fill="none" stroke="#acacac"/>
<circle class="u" cx="243.6" cy="134.4" r="2.6" fill="none" stroke="#bababa"/>
<circle class="u" cx="252.0" cy="130.3" r="2.2" fill="none" stroke="#bcbcbc"/>
<circle class="u" cx="241.3" cy="124.9" r="2.4" fill="none" stroke="#aeaeae"/>
<circle class="u" cx="249.4" cy="146.1" r="2.7" fill="none" stroke="#b7b7b7"/>
<circle class="u" cx="258.0" cy="133.0" r="3.0" fill="none" stroke="#bababa"/>
<circle class="u" cx="258.0" cy="129.2" r="2.7" fill="none" stroke="#a2a2a2"/>
<circle class="u" cx="252.8" cy="130.8" r="2.1" fill="none" stroke="#b3b3b3"/>
<circle class="u" cx="238.5" cy="134.6" r="2.5" fill="none" stroke="#bbbbbb"/>
<circle class="u" cx="255.7" cy="136.5" r="3.2" fill="none" stroke="#a2a2a2"/>
<circle class="u" cx="246.1" cy="144.8" r="3.2" fill="none" stroke="#a9a9a9"/>
<circle class="u" cx="255.2" cy="140.1" r="3.3" fill="none" stroke="#acacac"/>
<circle class="u" cx="258.7" cy="141.5" r="3.0" fill="none" stroke="#c0c0c0"/>
<circle class="u" cx="262.4" cy="128.6" r="2.8" fill="none" stroke="#bcbcbc"/>
<circle class="u" cx="247.3" cy="141.0" r="2.7" fill="none" stroke="#c1c1c1"/>
<path d="M222.7 149.8a4.0 4.0 0 1 0 7.9 0a4.0 4.0 0 1 0 -7.9 0z" fill="none" stroke="#aeaeae" stroke-width="2.6"/>
<path d="M222.7 149.8a4.0 4.0 0 1 0 7.9 0a4.0 4.0 0 1 0 -7.9 0z" fill="#828282"/>
<path d="M222.7 149.8a4.0 4.0 0 1 0 7.9 0a4.0 4.0 0 1 0 -7.9 0z" fill="url(#pp)"/>
<circle class="u" cx="228.1" cy="148.8" r="2.7" fill="none" stroke="#acacac"/>
<path d="M232.5 163.7a2.3 2.3 0 1 0 4.6 0a2.3 2.3 0 1 0 -4.6 0zM234.1 164.5a2.8 2.8 0 1 0 5.5 0a2.8 2.8 0 1 0 -5.5 0zM230.8 161.6a2.5 2.5 0 1 0 5.0 0a2.5 2.5 0 1 0 -5.0 0zM234.4 164.7a2.8 2.8 0 1 0 5.7 0a2.8 2.8 0 1 0 -5.7 0z" fill="none" stroke="#aeaeae" stroke-width="2.6"/>
<path d="M232.5 163.7a2.3 2.3 0 1 0 4.6 0a2.3 2.3 0 1 0 -4.6 0zM234.1 164.5a2.8 2.8 0 1 0 5.5 0a2.8 2.8 0 1 0 -5.5 0zM230.8 161.6a2.5 2.5 0 1 0 5.0 0a2.5 2.5 0 1 0 -5.0 0zM234.4 164.7a2.8 2.8 0 1 0 5.7 0a2.8 2.8 0 1 0 -5.7 0z" fill="#828282"/>
<path d="M232.5 163.7a2.3 2.3 0 1 0 4.6 0a2.3 2.3 0 1 0 -4.6 0zM234.1 164.5a2.8 2.8 0 1 0 5.5 0a2.8 2.8 0 1 0 -5.5 0zM230.8 161.6a2.5 2.5 0 1 0 5.0 0a2.5 2.5 0 1 0 -5.0 0zM234.4 164.7a2.8 2.8 0 1 0 5.7 0a2.8 2.8 0 1 0 -5.7 0z" fill="url(#pp)"/>
<circle class="u" cx="235.9" cy="162.9" r="2.9" fill="none" stroke="#b3b3b3"/>
<circle class="u" cx="231.9" cy="160.4" r="3.2" fill="none" stroke="#bcbcbc"/>
<path d="M200.8 167.7a4.8 4.8 0 1 0 9.6 0a4.8 4.8 0 1 0 -9.6 0zM198.5 166.9a4.7 4.7 0 1 0 9.4 0a4.7 4.7 0 1 0 -9.4 0zM198.6 165.2a4.5 4.5 0 1 0 9.0 0a4.5 4.5 0 1 0 -9.0 0zM200.2 169.8a4.5 4.5 0 1 0 9.1 0a4.5 4.5 0 1 0 -9.1 0zM197.2 168.7a4.8 4.8 0 1 0 9.5 0a4.8 4.8 0 1 0 -9.5 0zM193.1 165.5a4.0 4.0 0 1 0 8.1 0a4.0 4.0 0 1 0 -8.1 0z" fill="none" stroke="#aeaeae" stroke-width="2.6"/>
<path d="M200.8 167.7a4.8 4.8 0 1 0 9.6 0a4.8 4.8 0 1 0 -9.6 0zM198.5 166.9a4.7 4.7 0 1 0 9.4 0a4.7 4.7 0 1 0 -9.4 0zM198.6 165.2a4.5 4.5 0 1 0 9.0 0a4.5 4.5 0 1 0 -9.0 0zM200.2 169.8a4.5 4.5 0 1 0 9.1 0a4.5 4.5 0 1 0 -9.1 0zM197.2 168.7a4.8 4.8 0 1 0 9.5 0a4.8 4.8 0 1 0 -9.5 0zM193.1 165.5a4.0 4.0 0 1 0 8.1 0a4.0 4.0 0 1 0 -8.1 0z" fill="#828282"/>
<path d="M200.8 167.7a4.8 4.8 0 1 0 9.6 0a4.8 4.8 0 1 0 -9.6 0zM198.5 166.9a4.7 4.7 0 1 0 9.4 0a4.7 4.7 0 1 0 -9.4 0zM198.6 165.2a4.5 4.5 0 1 0 9.0 0a4.5 4.5 0 1 0 -9.0 0zM200.2 169.8a4.5 4.5 0 1 0 9.1 0a4.5 4.5 0 1 0 -9.1 0zM197.2 168.7a4.8 4.8 0 1 0 9.5 0a4.8 4.8 0 1 0 -9.5 0zM193.1 165.5a4.0 4.0 0 1 0 8.1 0a4.0 4.0 0 1 0 -8.1 0z" fill="url(#pp)"/>
<circle class="u" cx="197.7" cy="173.0" r="3.2" fill="none" stroke="#b1b1b1"/>
<circle class="u" cx="195.1" cy="164.5" r="3.3" fill="none" stroke="#c0c0c0"/>
<circle class="u" cx="195.6" cy="170.1" r="3.2" fill="none" stroke="#bebebe"/>
<circle class="u" cx="204.4" cy="159.2" r="3.6" fill="none" stroke="#c2c2c2"/>
<circle class="u" cx="198.1" cy="161.6" r="3.3" fill="none" stroke="#bcbcbc"/>
<circle class="u" cx="197.2" cy="168.6" r="2.3" fill="none" stroke="#bababa"/>
<circle class="u" cx="206.9" cy="165.9" r="2.3" fill="none" stroke="#a6a6a6"/>
<circle class="u" cx="197.9" cy="168.2" r="3.7" fill="none" stroke="#a1a1a1"/>
<path d="M246.0 170.8a4.0 4.0 0 1 0 7.9 0a4.0 4.0 0 1 0 -7.9 0z" fill="none" stroke="#aeaeae" stroke-width="2.6"/>
<path d="M246.0 170.8a4.0 4.0 0 1 0 7.9 0a4.0 4.0 0 1 0 -7.9 0z" fill="#828282"/>
<path d="M246.0 170.8a4.0 4.0 0 1 0 7.9 0a4.0 4.0 0 1 0 -7.9 0z" fill="url(#pp)"/>
<circle class="u" cx="249.6" cy="171.9" r="3.2" fill="none" stroke="#bbbbbb"/>
<path d="M160.0 183.2a2.7 2.7 0 1 0 5.3 0a2.7 2.7 0 1 0 -5.3 0zM157.2 180.8a2.1 2.1 0 1 0 4.3 0a2.1 2.1 0 1 0 -4.3 0zM161.1 183.4a2.4 2.4 0 1 0 4.7 0a2.4 2.4 0 1 0 -4.7 0zM159.7 185.4a2.8 2.8 0 1 0 5.7 0a2.8 2.8 0 1 0 -5.7 0z" fill="none" stroke="#aeaeae" stroke-width="2.6"/>
<path d="M160.0 183.2a2.7 2.7 0 1 0 5.3 0a2.7 2.7 0 1 0 -5.3 0zM157.2 180.8a2.1 2.1 0 1 0 4.3 0a2.1 2.1 0 1 0 -4.3 0zM161.1 183.4a2.4 2.4 0 1 0 4.7 0a2.4 2.4 0 1 0 -4.7 0zM159.7 185.4a2.8 2.8 0 1 0 5.7 0a2.8 2.8 0 1 0 -5.7 0z" fill="#828282"/>
<path d="M160.0 183.2a2.7 2.7 0 1 0 5.3 0a2.7 2.7 0 1 0 -5.3 0zM157.2 180.8a2.1 2.1 0 1 0 4.3 0a2.1 2.1 0 1 0 -4.3 0zM161.1 183.4a2.4 2.4 0 1 0 4.7 0a2.4 2.4 0 1 0 -4.7 0zM159.7 185.4a2.8 2.8 0 1 0 5.7 0a2.8 2.8 0 1 0 -5.7 0z" fill="url(#pp)"/>
<circle class="u" cx="162.6" cy="184.7" r="2.5" fill="none" stroke="#a5a5a5"/>
<circle class="u" cx="162.4" cy="179.5" r="3.0" fill="none" stroke="#bdbdbd"/>
<circle class="u" cx="159.6" cy="182.8" r="3.6" fill="none" stroke="#c0c0c0"/>
<path d="M125.7 188.5a3.3 3.3 0 1 0 6.6 0a3.3 3.3 0 1 0 -6.6 0zM126.6 186.5a2.2 2.2 0 1 0 4.3 0a2.2 2.2 0 1 0 -4.3 0zM130.8 185.3a2.6 2.6 0 1 0 5.2 0a2.6 2.6 0 1 0 -5.2 0zM125.5 185.9a2.4 2.4 0 1 0 4.9 0a2.4 2.4 0 1 0 -4.9 0z" fill="none" stroke="#aeaeae" stroke-width="2.6"/>
<path d="M125.7 188.5a3.3 3.3 0 1 0 6.6 0a3.3 3.3 0 1 0 -6.6 0zM126.6 186.5a2.2 2.2 0 1 0 4.3 0a2.2 2.2 0 1 0 -4.3 0zM130.8 185.3a2.6 2.6 0 1 0 5.2 0a2.6 2.6 0 1 0 -5.2 0zM125.5 185.9a2.4 2.4 0 1 0 4.9 0a2.4 2.4 0 1 0 -4.9 0z" fill="#828282"/>
<path d="M125.7 188.5a3.3 3.3 0 1 0 6.6 0a3.3 3.3 0 1 0 -6.6 0zM126.6 186.5a2.2 2.2 0 1 0 4.3 0a2.2 2.2 0 1 0 -4.3 0zM130.8 185.3a2.6 2.6 0 1 0 5.2 0a2.6 2.6 0 1 0 -5.2 0zM125.5 185.9a2.4 2.4 0 1 0 4.9 0a2.4 2.4 0 1 0 -4.9 0z" fill="url(#pp)"/>
<circle class="u" cx="134.7" cy="186.1" r="2.4" fill="none" stroke="#9f9f9f"/>
<circle class="u" cx="127.3" cy="186.9" r="3.4" fill="none" stroke="#b9b9b9"/>
<circle class="u" cx="128.8" cy="185.1" r="2.3" fill="none" stroke="#aaaaaa"/>
<path d="M35.6 172.4a4.0 4.0 0 1 0 7.9 0a4.0 4.0 0 1 0 -7.9 0z" fill="none" stroke="#aeaeae" stroke-width="2.6"/>
<path d="M35.6 172.4a4.0 4.0 0 1 0 7.9 0a4.0 4.0 0 1 0 -7.9 0z" fill="#828282"/>
<path d="M35.6 172.4a4.0 4.0 0 1 0 7.9 0a4.0 4.0 0 1 0 -7.9 0z" fill="url(#pp)"/>
<circle class="u" cx="39.4" cy="175.6" r="2.9" fill="none" stroke="#b6b6b6"/>
<path d="M31.0 187.1a4.0 4.0 0 1 0 7.9 0a4.0 4.0 0 1 0 -7.9 0z" fill="none" stroke="#aeaeae" stroke-width="2.6"/>
<path d="M31.0 187.1a4.0 4.0 0 1 0 7.9 0a4.0 4.0 0 1 0 -7.9 0z" fill="#828282"/>
<path d="M31.0 187.1a4.0 4.0 0 1 0 7.9 0a4.0 4.0 0 1 0 -7.9 0z" fill="url(#pp)"/>
<circle class="u" cx="36.7" cy="187.0" r="3.0" fill="none" stroke="#a4a4a4"/>
<path d="M61.4 194.7a3.8 3.8 0 1 0 7.6 0a3.8 3.8 0 1 0 -7.6 0zM64.7 191.7a2.7 2.7 0 1 0 5.4 0a2.7 2.7 0 1 0 -5.4 0zM62.1 198.5a2.7 2.7 0 1 0 5.4 0a2.7 2.7 0 1 0 -5.4 0zM58.3 195.2a4.0 4.0 0 1 0 8.1 0a4.0 4.0 0 1 0 -8.1 0zM58.8 192.8a3.0 3.0 0 1 0 6.1 0a3.0 3.0 0 1 0 -6.1 0z" fill="none" stroke="#aeaeae" stroke-width="2.6"/>
<path d="M61.4 194.7a3.8 3.8 0 1 0 7.6 0a3.8 3.8 0 1 0 -7.6 0zM64.7 191.7a2.7 2.7 0 1 0 5.4 0a2.7 2.7 0 1 0 -5.4 0zM62.1 198.5a2.7 2.7 0 1 0 5.4 0a2.7 2.7 0 1 0 -5.4 0zM58.3 195.2a4.0 4.0 0 1 0 8.1 0a4.0 4.0 0 1 0 -8.1 0zM58.8 192.8a3.0 3.0 0 1 0 6.1 0a3.0 3.0 0 1 0 -6.1 0z" fill="#828282"/>
<path d="M61.4 194.7a3.8 3.8 0 1 0 7.6 0a3.8 3.8 0 1 0 -7.6 0zM64.7 191.7a2.7 2.7 0 1 0 5.4 0a2.7 2.7 0 1 0 -5.4 0zM62.1 198.5a2.7 2.7 0 1 0 5.4 0a2.7 2.7 0 1 0 -5.4 0zM58.3 195.2a4.0 4.0 0 1 0 8.1 0a4.0 4.0 0 1 0 -8.1 0zM58.8 192.8a3.0 3.0 0 1 0 6.1 0a3.0 3.0 0 1 0 -6.1 0z" fill="url(#pp)"/>
<circle class="u" cx="66.2" cy="190.9" r="3.7" fill="none" stroke="#a2a2a2"/>
<circle class="u" cx="66.6" cy="192.3" r="3.0" fill="none" stroke="#b2b2b2"/>
<circle class="u" cx="68.4" cy="199.8" r="2.6" fill="none" stroke="#aaaaaa"/>
<circle class="u" cx="68.4" cy="196.5" r="2.8" fill="none" stroke="#b9b9b9"/>
<circle class="u" cx="61.8" cy="199.0" r="2.2" fill="none" stroke="#adadad"/>
<path d="M76.5 192.5a2.8 2.8 0 1 0 5.6 0a2.8 2.8 0 1 0 -5.6 0zM79.8 191.5a2.3 2.3 0 1 0 4.6 0a2.3 2.3 0 1 0 -4.6 0zM79.4 190.3a2.5 2.5 0 1 0 5.0 0a2.5 2.5 0 1 0 -5.0 0zM79.0 191.9a3.0 3.0 0 1 0 5.9 0a3.0 3.0 0 1 0 -5.9 0z" fill="none" stroke="#aeaeae" stroke-width="2.6"/>
<path d="M76.5 192.5a2.8 2.8 0 1 0 5.6 0a2.8 2.8 0 1 0 -5.6 0zM79.8 191.5a2.3 2.3 0 1 0 4.6 0a2.3 2.3 0 1 0 -4.6 0zM79.4 190.3a2.5 2.5 0 1 0 5.0 0a2.5 2.5 0 1 0 -5.0 0zM79.0 191.9a3.0 3.0 0 1 0 5.9 0a3.0 3.0 0 1 0 -5.9 0z" fill="#828282"/>
<path d="M76.5 192.5a2.8 2.8 0 1 0 5.6 0a2.8 2.8 0 1 0 -5.6 0zM79.8 191.5a2.3 2.3 0 1 0 4.6 0a2.3 2.3 0 1 0 -4.6 0zM79.4 190.3a2.5 2.5 0 1 0 5.0 0a2.5 2.5 0 1 0 -5.0 0zM79.0 191.9a3.0 3.0 0 1 0 5.9 0a3.0 3.0 0 1 0 -5.9 0z" fill="url(#pp)"/>
<circle class="u" cx="82.9" cy="189.8" r="3.1" fill="none" stroke="#a9a9a9"/>
<circle class="u" cx="79.9" cy="194.2" r="2.5" fill="none" stroke="#ababab"/>
</g>
</svg>
<svg x="613.3" y="694.4" width="266.8" height="200.2" overflow="hidden">
<rect width="266.8" height="200.2" fill="#898989"/>
<g filter="url(#soft)">
<path d="M210.5 18.5a3.9 3.9 0 1 0 7.8 0a3.9 3.9 0 1 0 -7.8 0zM215.0 18.2a3.4 3.4 0 1 0 6.8 0a3.4 3.4 0 1 0 -6.8 0zM213.6 22.0a4.0 4.0 0 1 0 7.9 0a4.0 4.0 0 1 0 -7.9 0zM211.5 15.8a3.9 3.9 0 1 0 7.8 0a3.9 3.9 0 1 0 -7.8 0zM217.0 20.3a3.1 3.1 0 1 0 6.1 0a3.1 3.1 0 1 0 -6.1 0z" fill="none" stroke="#bbbbbb" stroke-width="2.6"/>
<path d="M210.5 18.5a3.9 3.9 0 1 0 7.8 0a3.9 3.9 0 1 0 -7.8 0zM215.0 18.2a3.4 3.4 0 1 0 6.8 0a3.4 3.4 0 1 0 -6.8 0zM213.6 22.0a4.0 4.0 0 1 0 7.9 0a4.0 4.0 0 1 0 -7.9 0zM211.5 15.8a3.9 3.9 0 1 0 7.8 0a3.9 3.9 0 1 0 -7.8 0zM217.0 20.3a3.1 3.1 0 1 0 6.1 0a3.1 3.1 0 1 0 -6.1 0z" fill="#8f8f8f"/>
<path d="M210.5 18.5a3.9 3.9 0 1 0 7.8 0a3.9 3.9 0 1 0 -7.8 0zM215.0 18.2a3.4 3.4 0 1 0 6.8 0a3.4 3.4 0 1 0 -6.8 0zM213.6 22.0a4.0 4.0 0 1 0 7.9 0a4.0 4.0 0 1 0 -7.9 0zM211.5 15.8a3.9 3.9 0 1 0 7.8 0a3.9 3.9 0 1 0 -7.8 0zM217.0 20.3a3.1 3.1 0 1 0 6.1 0a3.1 3.1 0 1 0 -6.1 0z" fill="url(#pp)"/>
<circle class="u" cx="219.6" cy="16.9" r="3.5" fill="none" stroke="#aeaeae"/>
<circle class="u" cx="216.6" cy="14.1" r="2.7" fill="none" stroke="#cbcbcb"/>
<circle class="u" cx="219.9" cy="18.1" r="3.6" fill="none" stroke="#bebebe"/>
<circle class="u" cx="224.0" cy="21.6" r="3.7" fill="none" stroke="#b0b0b0"/>
<circle class="u" cx="215.9" cy="19.0" r="2.6" fill="none" stroke="#c2c2c2"/>
<circle class="u" cx="221.2" cy="22.9" r="2.1" fill="none" stroke="#b2b2b2"/>
<path d="M47.4 52.4a3.5 3.5 0 1 0 7.0 0a3.5 3.5 0 1 0 -7.0 0zM43.6 53.3a3.4 3.4 0 1 0 6.9 0a3.4 3.4 0 1 0 -6.9 0zM49.2 55.9a4.4 4.4 0 1 0 8.8 0a4.4 4.4 0 1 0 -8.8 0zM50.0 54.6a3.4 3.4 0 1 0 6.8 0a3.4 3.4 0 1 0 -6.8 0zM43.2 58.1a3.9 3.9 0 1 0 7.8 0a3.9 3.9 0 1 0 -7.8 0z" fill="none" stroke="#bbbbbb" stroke-width="2.6"/>
<path d="M47.4 52.4a3.5 3.5 0 1 0 7.0 0a3.5 3.5 0 1 0 -7.0 0zM43.6 53.3a3.4 3.4 0 1 0 6.9 0a3.4 3.4 0 1 0 -6.9 0zM49.2 55.9a4.4 4.4 0 1 0 8.8 0a4.4 4.4 0 1 0 -8.8 0zM50.0 54.6a3.4 3.4 0 1 0 6.8 0a3.4 3.4 0 1 0 -6.8 0zM43.2 58.1a3.9 3.9 0 1 0 7.8 0a3.9 3.9 0 1 0 -7.8 0z" fill="#8f8f8f"/>
<path d="M47.4 52.4a3.5 3.5 0 1 0 7.0 0a3.5 3.5 0 1 0 -7.0 0zM43.6 53.3a3.4 3.4 0 1 0 6.9 0a3.4 3.4 0 1 0 -6.9 0zM49.2 55.9a4.4 4.4 0 1 0 8.8 0a4.4 4.4 0 1 0 -8.8 0zM50.0 54.6a3.4 3.4 0 1 0 6.8 0a3.4 3.4 0 1 0 -6.8 0zM43.2 58.1a3.9 3.9 0 1 0 7.8 0a3.9 3.9 0 1 0 -7.8 0z" fill="url(#pp)"/>
<circle class="u" cx="52.2" cy="57.3" r="2.7" fill="none" stroke="#bebebe"/>
<circle class="u" cx="51.5" cy="50.5" r="2.1" fill="none" stroke="#cacaca"/>
<circle class="u" cx="45.1" cy="57.3" r="2.4" fill="none" stroke="#bbbbbb"/>
<circle class="u" cx="45.0" cy="59.1" r="2.2" fill="none" stroke="#c0c0c0"/>
<circle class="u" cx="52.2" cy="60.4" r="2.1" fill="none" stroke="#b6b6b6"/>
<circle class="u" cx="46.6" cy="59.8" r="2.1" fill="none" stroke="#bcbcbc"/>
<path d="M62.5 112.6a2.4 2.4 0 1 0 4.8 0a2.4 2.4 0 1 0 -4.8 0zM63.6 110.5a2.9 2.9 0 1 0 5.9 0a2.9 2.9 0 1 0 -5.9 0zM63.6 113.6a2.3 2.3 0 1 0 4.5 0a2.3 2.3 0 1 0 -4.5 0zM62.6 113.5a2.9 2.9 0 1 0 5.8 0a2.9 2.9 0 1 0 -5.8 0z" fill="none" stroke="#bbbbbb" stroke-width="2.6"/>
<path d="M62.5 112.6a2.4 2.4 0 1 0 4.8 0a2.4 2.4 0 1 0 -4.8 0zM63.6 110.5a2.9 2.9 0 1 0 5.9 0a2.9 2.9 0 1 0 -5.9 0zM63.6 113.6a2.3 2.3 0 1 0 4.5 0a2.3 2.3 0 1 0 -4.5 0zM62.6 113.5a2.9 2.9 0 1 0 5.8 0a2.9 2.9 0 1 0 -5.8 0z" fill="#8f8f8f"/>
<path d="M62.5 112.6a2.4 2.4 0 1 0 4.8 0a2.4 2.4 0 1 0 -4.8 0zM63.6 110.5a2.9 2.9 0 1 0 5.9 0a2.9 2.9 0 1 0 -5.9 0zM63.6 113.6a2.3 2.3 0 1 0 4.5 0a2.3 2.3 0 1 0 -4.5 0zM62.6 113.5a2.9 2.9 0 1 0 5.8 0a2.9 2.9 0 1 0 -5.8 0z" fill="url(#pp)"/>
<circle class="u" cx="66.9" cy="111.1" r="3.4" fill="none" stroke="#b8b8b8"/>
<circle class="u" cx="64.5" cy="111.5" r="2.1" fill="none" stroke="#c2c2c2"/>
<path d="M54.6 138.9a6.7 6.7 0 1 0 13.3 0a6.7 6.7 0 1 0 -13.3 0zM50.0 140.5a7.5 7.5 0 1 0 15.1 0a7.5 7.5 0 1 0 -15.1 0zM50.3 133.8a5.8 5.8 0 1 0 11.7 0a5.8 5.8 0 1 0 -11.7 0zM39.9 138.7a7.1 7.1 0 1 0 14.1 0a7.1 7.1 0 1 0 -14.1 0zM44.3 148.0a7.9 7.9 0 1 0 15.7 0a7.9 7.9 0 1 0 -15.7 0zM47.4 143.7a7.8 7.8 0 1 0 15.6 0a7.8 7.8 0 1 0 -15.6 0zM44.6 147.9a6.7 6.7 0 1 0 13.4 0a6.7 6.7 0 1 0 -13.4 0zM44.6 133.0a5.8 5.8 0 1 0 11.6 0a5.8 5.8 0 1 0 -11.6 0zM44.6 144.0a7.2 7.2 0 1 0 14.5 0a7.2 7.2 0 1 0 -14.5 0zM43.9 136.8a7.8 7.8 0 1 0 15.7 0a7.8 7.8 0 1 0 -15.7 0z" fill="none" stroke="#bbbbbb" stroke-width="2.6"/>
<path d="M54.6 138.9a6.7 6.7 0 1 0 13.3 0a6.7 6.7 0 1 0 -13.3 0zM50.0 140.5a7.5 7.5 0 1 0 15.1 0a7.5 7.5 0 1 0 -15.1 0zM50.3 133.8a5.8 5.8 0 1 0 11.7 0a5.8 5.8 0 1 0 -11.7 0zM39.9 138.7a7.1 7.1 0 1 0 14.1 0a7.1 7.1 0 1 0 -14.1 0zM44.3 148.0a7.9 7.9 0 1 0 15.7 0a7.9 7.9 0 1 0 -15.7 0zM47.4 143.7a7.8 7.8 0 1 0 15.6 0a7.8 7.8 0 1 0 -15.6 0zM44.6 147.9a6.7 6.7 0 1 0 13.4 0a6.7 6.7 0 1 0 -13.4 0zM44.6 133.0a5.8 5.8 0 1 0 11.6 0a5.8 5.8 0 1 0 -11.6 0zM44.6 144.0a7.2 7.2 0 1 0 14.5 0a7.2 7.2 0 1 0 -14.5 0zM43.9 136.8a7.8 7.8 0 1 0 15.7 0a7.8 7.8 0 1 0 -15.7 0z" fill="#8b8b8b"/>
<path d="M54.6 138.9a6.7 6.7 0 1 0 13.3 0a6.7 6.7 0 1 0 -13.3 0zM50.0 140.5a7.5 7.5 0 1 0 15.1 0a7.5 7.5 0 1 0 -15.1 0zM50.3 133.8a5.8 5.8 0 1 0 11.7 0a5.8 5.8 0 1 0 -11.7 0zM39.9 138.7a7.1 7.1 0 1 0 14.1 0a7.1 7.1 0 1 0 -14.1 0zM44.3 148.0a7.9 7.9 0 1 0 15.7 0a7.9 7.9 0 1 0 -15.7 0zM47.4 143.7a7.8 7.8 0 1 0 15.6 0a7.8 7.8 0 1 0 -15.6 0zM44.6 147.9a6.7 6.7 0 1 0 13.4 0a6.7 6.7 0 1 0 -13.4 0zM44.6 133.0a5.8 5.8 0 1 0 11.6 0a5.8 5.8 0 1 0 -11.6 0zM44.6 144.0a7.2 7.2 0 1 0 14.5 0a7.2 7.2 0 1 0 -14.5 0zM43.9 136.8a7.8 7.8 0 1 0 15.7 0a7.8 7.8 0 1 0 -15.7 0z" fill="url(#pp)"/>
<circle class="u" cx="47.3" cy="142.8" r="2.8" fill="none" stroke="#d0d0d0"/>
<circle class="u" cx="43.4" cy="136.0" r="3.7" fill="none" stroke="#cfcfcf"/>
<circle class="u" cx="53.3" cy="131.5" r="3.1" fill="none" stroke="#cdcdcd"/>
<circle class="u" cx="55.2" cy="130.3" r="2.6" fill="none" stroke="#b9b9b9"/>
<circle class="u" cx="51.9" cy="130.2" r="2.0" fill="none" stroke="#c6c6c6"/>
<circle class="u" cx="62.2" cy="133.2" r="3.6" fill="none" stroke="#cdcdcd"/>
<circle class="u" cx="41.7" cy="137.3" r="2.7" fill="none" stroke="#afafaf"/>
<circle class="u" cx="48.5" cy="145.5" r="3.7" fill="none" stroke="#c5c5c5"/>
<circle class="u" cx="43.0" cy="137.1" r="2.2" fill="none" stroke="#bfbfbf"/>
<circle class="u" cx="50.3" cy="132.1" r="2.4" fill="none" stroke="#bbbbbb"/>
<circle class="u" cx="48.1" cy="149.2" r="2.3" fill="none" stroke="#afafaf"/>
<circle class="u" cx="48.7" cy="149.6" r="3.4" fill="none" stroke="#c4c4c4"/>
<circle class="u" cx="59.9" cy="136.7" r="2.1" fill="none" stroke="#bebebe"/>
<circle class="u" cx="47.7" cy="141.6" r="3.2" fill="none" stroke="#b8b8b8"/>
<circle class="u" cx="53.3" cy="147.1" r="3.7" fill="none" stroke="#acacac"/>
<circle class="u" cx="48.5" cy="145.0" r="2.4" fill="none" stroke="#bcbcbc"/>
<circle class="u" cx="55.1" cy="151.8" r="2.9" fill="none" stroke="#c5c5c5"/>
<circle class="u" cx="57.4" cy="147.2" r="3.1" fill="none" stroke="#cbcbcb"/>
<circle class="u" cx="52.8" cy="148.4" r="3.5" fill="none" stroke="#cacaca"/>
<circle class="u" cx="54.1" cy="149.1" r="3.4" fill="none" stroke="#bababa"/>
<path d="M50.5 156.6a3.3 3.3 0 1 0 6.6 0a3.3 3.3 0 1 0 -6.6 0zM49.9 158.2a2.5 2.5 0 1 0 5.1 0a2.5 2.5 0 1 0 -5.1 0zM52.2 157.2a2.7 2.7 0 1 0 5.5 0a2.7 2.7 0 1 0 -5.5 0zM51.6 160.6a2.3 2.3 0 1 0 4.5 0a2.3 2.3 0 1 0 -4.5 0z" fill="none" stroke="#bbbbbb" stroke-width="2.6"/>
<path d="M50.5 156.6a3.3 3.3 0 1 0 6.6 0a3.3 3.3 0 1 0 -6.6 0zM49.9 158.2a2.5 2.5 0 1 0 5.1 0a2.5 2.5 0 1 0 -5.1 0zM52.2 157.2a2.7 2.7 0 1 0 5.5 0a2.7 2.7 0 1 0 -5.5 0zM51.6 160.6a2.3 2.3 0 1 0 4.5 0a2.3 2.3 0 1 0 -4.5 0z" fill="#8f8f8f"/>
<path d="M50.5 156.6a3.3 3.3 0 1 0 6.6 0a3.3 3.3 0 1 0 -6.6 0zM49.9 158.2a2.5 2.5 0 1 0 5.1 0a2.5 2.5 0 1 0 -5.1 0zM52.2 157.2a2.7 2.7 0 1 0 5.5 0a2.7 2.7 0 1 0 -5.5 0zM51.6 160.6a2.3 2.3 0 1 0 4.5 0a2.3 2.3 0 1 0 -4.5 0z" fill="url(#pp)"/>
<circle class="u" cx="55.7" cy="163.0" r="2.5" fill="none" stroke="#adadad"/>
<circle class="u" cx="56.0" cy="156.5" r="3.7" fill="none" stroke="#c2c2c2"/>
<circle class="u" cx="51.4" cy="162.3" r="3.6" fill="none" stroke="#b7b7b7"/>
<path d="M160.6 169.8a4.6 4.6 0 1 0 9.1 0a4.6 4.6 0 1 0 -9.1 0zM155.0 164.1a3.8 3.8 0 1 0 7.6 0a3.8 3.8 0 1 0 -7.6 0zM156.6 165.2a3.8 3.8 0 1 0 7.5 0a3.8 3.8 0 1 0 -7.5 0zM156.2 169.1a3.8 3.8 0 1 0 7.5 0a3.8 3.8 0 1 0 -7.5 0zM159.6 165.0a3.4 3.4 0 1 0 6.8 0a3.4 3.4 0 1 0 -6.8 0z" fill="none" stroke="#bbbbbb" stroke-width="2.6"/>
<path d="M160.6 169.8a4.6 4.6 0 1 0 9.1 0a4.6 4.6 0 1 0 -9.1 0zM155.0 164.1a3.8 3.8 0 1 0 7.6 0a3.8 3.8 0 1 0 -7.6 0zM156.6 165.2a3.8 3.8 0 1 0 7.5 0a3.8 3.8 0 1 0 -7.5 0zM156.2 169.1a3.8 3.8 0 1 0 7.5 0a3.8 3.8 0 1 0 -7.5 0zM159.6 165.0a3.4 3.4 0 1 0 6.8 0a3.4 3.4 0 1 0 -6.8 0z" fill="#8f8f8f"/>
<path d="M160.6 169.8a4.6 4.6 0 1 0 9.1 0a4.6 4.6 0 1 0 -9.1 0zM155.0 164.1a3.8 3.8 0 1 0 7.6 0a3.8 3.8 0 1 0 -7.6 0zM156.6 165.2a3.8 3.8 0 1 0 7.5 0a3.8 3.8 0 1 0 -7.5 0zM156.2 169.1a3.8 3.8 0 1 0 7.5 0a3.8 3.8 0 1 0 -7.5 0zM159.6 165.0a3.4 3.4 0 1 0 6.8 0a3.4 3.4 0 1 0 -6.8 0z" fill="url(#pp)"/>
<circle class="u" cx="162.0" cy="174.4" r="2.9" fill="none" stroke="#adadad"/>
<circle class="u" cx="165.9" cy="160.8" r="3.5" fill="none" stroke="#b9b9b9"/>
<circle class="u" cx="161.9" cy="162.8" r="2.2" fill="none" stroke="#cccccc"/>
<circle class="u" cx="164.0" cy="163.9" r="3.6" fill="none" stroke="#acacac"/>
<circle class="u" cx="162.0" cy="167.7" r="2.3" fill="none" stroke="#b2b2b2"/>
<circle class="u" cx="161.4" cy="162.9" r="2.3" fill="none" stroke="#b2b2b2"/>
<circle class="u" cx="159.6" cy="173.4" r="3.1" fill="none" stroke="#afafaf"/>
<path d="M9.9 191.0a3.3 3.3 0 1 0 6.6 0a3.3 3.3 0 1 0 -6.6 0z" fill="none" stroke="#bbbbbb" stroke-width="2.6"/>
<path d="M9.9 191.0a3.3 3.3 0 1 0 6.6 0a3.3 3.3 0 1 0 -6.6 0z" fill="#8f8f8f"/>
<path d="M9.9 191.0a3.3 3.3 0 1 0 6.6 0a3.3 3.3 0 1 0 -6.6 0z" fill="url(#pp)"/>
</g>
</svg>
<line x1="88.6" y1="670.0" x2="115.0" y2="670.0" stroke="#ff0000" stroke-width="2.6" />
<line x1="363.9" y1="672.0" x2="390.0" y2="672.0" stroke="#ff0000" stroke-width="2.6" />
<line x1="632.0" y1="672.0" x2="658.0" y2="672.0" stroke="#ff0000" stroke-width="2.6" />
<line x1="88.3" y1="871.4" x2="115.8" y2="871.4" stroke="#ff0000" stroke-width="2.6" />
<line x1="359.8" y1="870.0" x2="385.8" y2="870.0" stroke="#ff0000" stroke-width="2.6" />
<line x1="632.0" y1="874.3" x2="658.0" y2="874.3" stroke="#ff0000" stroke-width="2.6" />
<rect x="7.1" y="495.2" width="61.9" height="394.4" fill="none" stroke="#000" stroke-width="3.8" />
<line x1="7.1" y1="692.5" x2="69.0" y2="692.5" stroke="#000" stroke-width="3.8" />
<text transform="translate(30.4,618.3) scale(1,1.15)" font-size="58" font-weight="bold">-</text>
<text x="22.3" y="808" font-size="52" font-weight="bold">+</text>
<text x="1501.5" y="439.3" font-size="52.5" font-weight="bold" text-anchor="start" fill="#000" >c.</text>
<text transform="translate(1559.4,439.3) scale(1,1.07)" font-size="40.3" font-weight="bold" text-anchor="start" fill="#000" >ZR-75-1</text>
<text transform="translate(1426.6,482.3) scale(1,1.05)" font-size="33" font-weight="bold" text-anchor="start" fill="#000" >ADC</text>
<svg x="1496.4" y="490.3" width="266.6" height="200.2" overflow="hidden">
<rect width="266.6" height="200.2" fill="#a4a4a4"/>
<g filter="url(#soft)">
<path d="M38.8 26.2a4.4 4.4 0 1 0 8.8 0a4.4 4.4 0 1 0 -8.8 0zM44.0 25.7a3.9 3.9 0 1 0 7.8 0a3.9 3.9 0 1 0 -7.8 0zM42.2 29.3a3.3 3.3 0 1 0 6.6 0a3.3 3.3 0 1 0 -6.6 0zM39.8 25.2a4.4 4.4 0 1 0 8.8 0a4.4 4.4 0 1 0 -8.8 0zM43.9 28.1a2.9 2.9 0 1 0 5.9 0a2.9 2.9 0 1 0 -5.9 0z" fill="none" stroke="#848484" stroke-width="2.6"/>
<path d="M38.8 26.2a4.4 4.4 0 1 0 8.8 0a4.4 4.4 0 1 0 -8.8 0zM44.0 25.7a3.9 3.9 0 1 0 7.8 0a3.9 3.9 0 1 0 -7.8 0zM42.2 29.3a3.3 3.3 0 1 0 6.6 0a3.3 3.3 0 1 0 -6.6 0zM39.8 25.2a4.4 4.4 0 1 0 8.8 0a4.4 4.4 0 1 0 -8.8 0zM43.9 28.1a2.9 2.9 0 1 0 5.9 0a2.9 2.9 0 1 0 -5.9 0z" fill="#a1a1a1"/>
<path d="M38.8 26.2a4.4 4.4 0 1 0 8.8 0a4.4 4.4 0 1 0 -8.8 0zM44.0 25.7a3.9 3.9 0 1 0 7.8 0a3.9 3.9 0 1 0 -7.8 0zM42.2 29.3a3.3 3.3 0 1 0 6.6 0a3.3 3.3 0 1 0 -6.6 0zM39.8 25.2a4.4 4.4 0 1 0 8.8 0a4.4 4.4 0 1 0 -8.8 0zM43.9 28.1a2.9 2.9 0 1 0 5.9 0a2.9 2.9 0 1 0 -5.9 0z" fill="url(#pd)"/>
<circle class="u" cx="45.6" cy="23.0" r="2.8" fill="none" stroke="#7c7c7c"/>
<circle class="u" cx="45.5" cy="33.4" r="2.8" fill="none" stroke="#727272"/>
<circle class="u" cx="41.5" cy="28.8" r="2.2" fill="none" stroke="#c7c7c7"/>
<circle class="u" cx="42.6" cy="22.0" r="3.6" fill="none" stroke="#7c7c7c"/>
<circle class="u" cx="45.7" cy="23.9" r="2.1" fill="none" stroke="#c7c7c7"/>
<circle class="u" cx="44.8" cy="26.7" r="2.8" fill="none" stroke="#c7c7c7"/>
<path d="M123.5 29.3a4.3 4.3 0 1 0 8.5 0a4.3 4.3 0 1 0 -8.5 0zM116.3 28.7a5.2 5.2 0 1 0 10.4 0a5.2 5.2 0 1 0 -10.4 0zM123.2 26.1a4.1 4.1 0 1 0 8.2 0a4.1 4.1 0 1 0 -8.2 0zM118.2 22.7a5.6 5.6 0 1 0 11.1 0a5.6 5.6 0 1 0 -11.1 0zM121.4 21.5a4.7 4.7 0 1 0 9.4 0a4.7 4.7 0 1 0 -9.4 0zM121.6 31.0a4.6 4.6 0 1 0 9.1 0a4.6 4.6 0 1 0 -9.1 0z" fill="none" stroke="#848484" stroke-width="2.6"/>
<path d="M123.5 29.3a4.3 4.3 0 1 0 8.5 0a4.3 4.3 0 1 0 -8.5 0zM116.3 28.7a5.2 5.2 0 1 0 10.4 0a5.2 5.2 0 1 0 -10.4 0zM123.2 26.1a4.1 4.1 0 1 0 8.2 0a4.1 4.1 0 1 0 -8.2 0zM118.2 22.7a5.6 5.6 0 1 0 11.1 0a5.6 5.6 0 1 0 -11.1 0zM121.4 21.5a4.7 4.7 0 1 0 9.4 0a4.7 4.7 0 1 0 -9.4 0zM121.6 31.0a4.6 4.6 0 1 0 9.1 0a4.6 4.6 0 1 0 -9.1 0z" fill="#a1a1a1"/>
<path d="M123.5 29.3a4.3 4.3 0 1 0 8.5 0a4.3 4.3 0 1 0 -8.5 0zM116.3 28.7a5.2 5.2 0 1 0 10.4 0a5.2 5.2 0 1 0 -10.4 0zM123.2 26.1a4.1 4.1 0 1 0 8.2 0a4.1 4.1 0 1 0 -8.2 0zM118.2 22.7a5.6 5.6 0 1 0 11.1 0a5.6 5.6 0 1 0 -11.1 0zM121.4 21.5a4.7 4.7 0 1 0 9.4 0a4.7 4.7 0 1 0 -9.4 0zM121.6 31.0a4.6 4.6 0 1 0 9.1 0a4.6 4.6 0 1 0 -9.1 0z" fill="url(#pd)"/>
<circle class="u" cx="126.0" cy="23.7" r="3.0" fill="none" stroke="#727272"/>
<circle class="u" cx="125.6" cy="25.8" r="3.0" fill="none" stroke="#c7c7c7"/>
<circle class="u" cx="131.2" cy="23.7" r="3.5" fill="none" stroke="#727272"/>
<circle class="u" cx="120.4" cy="20.3" r="3.1" fill="none" stroke="#7c7c7c"/>
<circle class="u" cx="124.3" cy="23.2" r="2.3" fill="none" stroke="#727272"/>
<circle class="u" cx="122.8" cy="18.2" r="2.8" fill="none" stroke="#727272"/>
<circle class="u" cx="126.4" cy="28.0" r="2.6" fill="none" stroke="#7c7c7c"/>
<circle class="u" cx="129.3" cy="29.1" r="3.2" fill="none" stroke="#7c7c7c"/>
<circle class="u" cx="119.7" cy="27.3" r="3.2" fill="none" stroke="#7c7c7c"/>
<path d="M149.0 38.0a4.0 4.0 0 1 0 8.0 0a4.0 4.0 0 1 0 -8.0 0zM143.3 36.8a5.6 5.6 0 1 0 11.1 0a5.6 5.6 0 1 0 -11.1 0zM147.3 33.0a3.7 3.7 0 1 0 7.4 0a3.7 3.7 0 1 0 -7.4 0zM141.6 30.4a3.5 3.5 0 1 0 7.0 0a3.5 3.5 0 1 0 -7.0 0zM140.2 30.9a4.5 4.5 0 1 0 8.9 0a4.5 4.5 0 1 0 -8.9 0zM139.6 32.7a4.0 4.0 0 1 0 8.0 0a4.0 4.0 0 1 0 -8.0 0z" fill="none" stroke="#848484" stroke-width="2.6"/>
<path d="M149.0 38.0a4.0 4.0 0 1 0 8.0 0a4.0 4.0 0 1 0 -8.0 0zM143.3 36.8a5.6 5.6 0 1 0 11.1 0a5.6 5.6 0 1 0 -11.1 0zM147.3 33.0a3.7 3.7 0 1 0 7.4 0a3.7 3.7 0 1 0 -7.4 0zM141.6 30.4a3.5 3.5 0 1 0 7.0 0a3.5 3.5 0 1 0 -7.0 0zM140.2 30.9a4.5 4.5 0 1 0 8.9 0a4.5 4.5 0 1 0 -8.9 0zM139.6 32.7a4.0 4.0 0 1 0 8.0 0a4.0 4.0 0 1 0 -8.0 0z" fill="#a1a1a1"/>
<path d="M149.0 38.0a4.0 4.0 0 1 0 8.0 0a4.0 4.0 0 1 0 -8.0 0zM143.3 36.8a5.6 5.6 0 1 0 11.1 0a5.6 5.6 0 1 0 -11.1 0zM147.3 33.0a3.7 3.7 0 1 0 7.4 0a3.7 3.7 0 1 0 -7.4 0zM141.6 30.4a3.5 3.5 0 1 0 7.0 0a3.5 3.5 0 1 0 -7.0 0zM140.2 30.9a4.5 4.5 0 1 0 8.9 0a4.5 4.5 0 1 0 -8.9 0zM139.6 32.7a4.0 4.0 0 1 0 8.0 0a4.0 4.0 0 1 0 -8.0 0z" fill="url(#pd)"/>
<circle class="u" cx="147.3" cy="42.0" r="3.0" fill="none" stroke="#c7c7c7"/>
<circle class="u" cx="147.8" cy="36.0" r="2.2" fill="none" stroke="#7c7c7c"/>
<circle class="u" cx="144.7" cy="27.5" r="2.7" fill="none" stroke="#727272"/>
<circle class="u" cx="148.1" cy="28.7" r="2.4" fill="none" stroke="#c7c7c7"/>
<circle class="u" cx="152.0" cy="38.4" r="2.7" fill="none" stroke="#7c7c7c"/>
<circle class="u" cx="150.8" cy="31.9" r="3.2" fill="none" stroke="#7c7c7c"/>
<circle class="u" cx="141.4" cy="34.4" r="2.4" fill="none" stroke="#7c7c7c"/>
<circle class="u" cx="143.6" cy="33.5" r="3.2" fill="none" stroke="#c7c7c7"/>
<circle class="u" cx="148.0" cy="43.1" r="2.4" fill="none" stroke="#7c7c7c"/>
<path d="M164.3 28.0a2.6 2.6 0 1 0 5.3 0a2.6 2.6 0 1 0 -5.3 0z" fill="none" stroke="#848484" stroke-width="2.6"/>
<path d="M164.3 28.0a2.6 2.6 0 1 0 5.3 0a2.6 2.6 0 1 0 -5.3 0z" fill="#a1a1a1"/>
<path d="M164.3 28.0a2.6 2.6 0 1 0 5.3 0a2.6 2.6 0 1 0 -5.3 0z" fill="url(#pd)"/>
<path d="M183.7 19.4a5.0 5.0 0 1 0 10.0 0a5.0 5.0 0 1 0 -10.0 0zM180.8 27.4a4.7 4.7 0 1 0 9.4 0a4.7 4.7 0 1 0 -9.4 0zM188.9 24.0a4.2 4.2 0 1 0 8.4 0a4.2 4.2 0 1 0 -8.4 0zM188.5 23.8a5.9 5.9 0 1 0 11.8 0a5.9 5.9 0 1 0 -11.8 0zM180.7 18.7a3.8 3.8 0 1 0 7.5 0a3.8 3.8 0 1 0 -7.5 0zM187.8 20.3a5.4 5.4 0 1 0 10.9 0a5.4 5.4 0 1 0 -10.9 0zM187.3 21.3a5.5 5.5 0 1 0 11.1 0a5.5 5.5 0 1 0 -11.1 0z" fill="none" stroke="#848484" stroke-width="2.6"/>
<path d="M183.7 19.4a5.0 5.0 0 1 0 10.0 0a5.0 5.0 0 1 0 -10.0 0zM180.8 27.4a4.7 4.7 0 1 0 9.4 0a4.7 4.7 0 1 0 -9.4 0zM188.9 24.0a4.2 4.2 0 1 0 8.4 0a4.2 4.2 0 1 0 -8.4 0zM188.5 23.8a5.9 5.9 0 1 0 11.8 0a5.9 5.9 0 1 0 -11.8 0zM180.7 18.7a3.8 3.8 0 1 0 7.5 0a3.8 3.8 0 1 0 -7.5 0zM187.8 20.3a5.4 5.4 0 1 0 10.9 0a5.4 5.4 0 1 0 -10.9 0zM187.3 21.3a5.5 5.5 0 1 0 11.1 0a5.5 5.5 0 1 0 -11.1 0z" fill="#a1a1a1"/>
<path d="M183.7 19.4a5.0 5.0 0 1 0 10.0 0a5.0 5.0 0 1 0 -10.0 0zM180.8 27.4a4.7 4.7 0 1 0 9.4 0a4.7 4.7 0 1 0 -9.4 0zM188.9 24.0a4.2 4.2 0 1 0 8.4 0a4.2 4.2 0 1 0 -8.4 0zM188.5 23.8a5.9 5.9 0 1 0 11.8 0a5.9 5.9 0 1 0 -11.8 0zM180.7 18.7a3.8 3.8 0 1 0 7.5 0a3.8 3.8 0 1 0 -7.5 0zM187.8 20.3a5.4 5.4 0 1 0 10.9 0a5.4 5.4 0 1 0 -10.9 0zM187.3 21.3a5.5 5.5 0 1 0 11.1 0a5.5 5.5 0 1 0 -11.1 0z" fill="url(#pd)"/>
<circle class="u" cx="187.5" cy="21.2" r="3.6" fill="none" stroke="#c7c7c7"/>
<circle class="u" cx="183.7" cy="16.6" r="3.8" fill="none" stroke="#7c7c7c"/>
<circle class="u" cx="184.4" cy="29.3" r="2.3" fill="none" stroke="#c7c7c7"/>
<circle class="u" cx="191.7" cy="22.0" r="2.0" fill="none" stroke="#7c7c7c"/>
<circle class="u" cx="190.4" cy="30.6" r="2.2" fill="none" stroke="#727272"/>
<circle class="u" cx="187.9" cy="15.0" r="2.3" fill="none" stroke="#c7c7c7"/>
<circle class="u" cx="190.3" cy="14.7" r="2.3" fill="none" stroke="#727272"/>
<circle class="u" cx="192.6" cy="23.5" r="2.9" fill="none" stroke="#c7c7c7"/>
<circle class="u" cx="190.8" cy="15.1" r="3.6" fill="none" stroke="#727272"/>
<circle class="u" cx="181.1" cy="17.6" r="2.6" fill="none" stroke="#c7c7c7"/>
<path d="M174.6 44.1a4.5 4.5 0 1 0 9.0 0a4.5 4.5 0 1 0 -9.0 0zM173.2 48.0a3.6 3.6 0 1 0 7.2 0a3.6 3.6 0 1 0 -7.2 0zM166.1 43.4a5.6 5.6 0 1 0 11.2 0a5.6 5.6 0 1 0 -11.2 0zM166.5 43.1a4.3 4.3 0 1 0 8.7 0a4.3 4.3 0 1 0 -8.7 0zM172.3 47.6a4.1 4.1 0 1 0 8.2 0a4.1 4.1 0 1 0 -8.2 0zM165.7 45.5a4.1 4.1 0 1 0 8.2 0a4.1 4.1 0 1 0 -8.2 0z" fill="none" stroke="#848484" stroke-width="2.6"/>
<path d="M174.6 44.1a4.5 4.5 0 1 0 9.0 0a4.5 4.5 0 1 0 -9.0 0zM173.2 48.0a3.6 3.6 0 1 0 7.2 0a3.6 3.6 0 1 0 -7.2 0zM166.1 43.4a5.6 5.6 0 1 0 11.2 0a5.6 5.6 0 1 0 -11.2 0zM166.5 43.1a4.3 4.3 0 1 0 8.7 0a4.3 4.3 0 1 0 -8.7 0zM172.3 47.6a4.1 4.1 0 1 0 8.2 0a4.1 4.1 0 1 0 -8.2 0zM165.7 45.5a4.1 4.1 0 1 0 8.2 0a4.1 4.1 0 1 0 -8.2 0z" fill="#a1a1a1"/>
<path d="M174.6 44.1a4.5 4.5 0 1 0 9.0 0a4.5 4.5 0 1 0 -9.0 0zM173.2 48.0a3.6 3.6 0 1 0 7.2 0a3.6 3.6 0 1 0 -7.2 0zM166.1 43.4a5.6 5.6 0 1 0 11.2 0a5.6 5.6 0 1 0 -11.2 0zM166.5 43.1a4.3 4.3 0 1 0 8.7 0a4.3 4.3 0 1 0 -8.7 0zM172.3 47.6a4.1 4.1 0 1 0 8.2 0a4.1 4.1 0 1 0 -8.2 0zM165.7 45.5a4.1 4.1 0 1 0 8.2 0a4.1 4.1 0 1 0 -8.2 0z" fill="url(#pd)"/>
<circle class="u" cx="176.2" cy="54.0" r="2.7" fill="none" stroke="#c7c7c7"/>
<circle class="u" cx="169.8" cy="52.0" r="3.6" fill="none" stroke="#c7c7c7"/>
<circle class="u" cx="175.7" cy="38.1" r="2.6" fill="none" stroke="#727272"/>
<circle class="u" cx="175.8" cy="52.0" r="2.4" fill="none" stroke="#727272"/>
<circle class="u" cx="176.5" cy="49.8" r="2.3" fill="none" stroke="#7c7c7c"/>
<circle class="u" cx="171.6" cy="46.9" r="2.5" fill="none" stroke="#727272"/>
<circle class="u" cx="175.6" cy="42.8" r="3.4" fill="none" stroke="#727272"/>
<circle class="u" cx="173.8" cy="50.7" r="3.4" fill="none" stroke="#7c7c7c"/>
<circle class="u" cx="180.1" cy="51.4" r="3.2" fill="none" stroke="#c7c7c7"/>
<path d="M75.5 72.7a3.8 3.8 0 1 0 7.5 0a3.8 3.8 0 1 0 -7.5 0zM74.4 72.1a4.0 4.0 0 1 0 8.0 0a4.0 4.0 0 1 0 -8.0 0zM72.5 78.0a3.3 3.3 0 1 0 6.5 0a3.3 3.3 0 1 0 -6.5 0zM72.9 75.5a2.6 2.6 0 1 0 5.2 0a2.6 2.6 0 1 0 -5.2 0zM68.0 74.2a3.9 3.9 0 1 0 7.7 0a3.9 3.9 0 1 0 -7.7 0z" fill="none" stroke="#848484" stroke-width="2.6"/>
<path d="M75.5 72.7a3.8 3.8 0 1 0 7.5 0a3.8 3.8 0 1 0 -7.5 0zM74.4 72.1a4.0 4.0 0 1 0 8.0 0a4.0 4.0 0 1 0 -8.0 0zM72.5 78.0a3.3 3.3 0 1 0 6.5 0a3.3 3.3 0 1 0 -6.5 0zM72.9 75.5a2.6 2.6 0 1 0 5.2 0a2.6 2.6 0 1 0 -5.2 0zM68.0 74.2a3.9 3.9 0 1 0 7.7 0a3.9 3.9 0 1 0 -7.7 0z" fill="#a1a1a1"/>
<path d="M75.5 72.7a3.8 3.8 0 1 0 7.5 0a3.8 3.8 0 1 0 -7.5 0zM74.4 72.1a4.0 4.0 0 1 0 8.0 0a4.0 4.0 0 1 0 -8.0 0zM72.5 78.0a3.3 3.3 0 1 0 6.5 0a3.3 3.3 0 1 0 -6.5 0zM72.9 75.5a2.6 2.6 0 1 0 5.2 0a2.6 2.6 0 1 0 -5.2 0zM68.0 74.2a3.9 3.9 0 1 0 7.7 0a3.9 3.9 0 1 0 -7.7 0z" fill="url(#pd)"/>
<circle class="u" cx="73.2" cy="76.3" r="2.4" fill="none" stroke="#7c7c7c"/>
<circle class="u" cx="80.6" cy="78.3" r="3.5" fill="none" stroke="#c7c7c7"/>
<circle class="u" cx="78.2" cy="78.7" r="3.4" fill="none" stroke="#c7c7c7"/>
<circle class="u" cx="72.5" cy="75.2" r="3.5" fill="none" stroke="#727272"/>
<circle class="u" cx="74.7" cy="70.6" r="2.7" fill="none" stroke="#727272"/>
<path d="M53.6 92.7a5.8 5.8 0 1 0 11.6 0a5.8 5.8 0 1 0 -11.6 0zM54.8 95.9a3.8 3.8 0 1 0 7.7 0a3.8 3.8 0 1 0 -7.7 0zM54.8 92.2a3.8 3.8 0 1 0 7.5 0a3.8 3.8 0 1 0 -7.5 0zM57.4 90.0a5.1 5.1 0 1 0 10.3 0a5.1 5.1 0 1 0 -10.3 0zM56.2 91.6a5.8 5.8 0 1 0 11.7 0a5.8 5.8 0 1 0 -11.7 0zM59.1 95.5a4.7 4.7 0 1 0 9.4 0a4.7 4.7 0 1 0 -9.4 0zM60.1 93.9a5.4 5.4 0 1 0 10.9 0a5.4 5.4 0 1 0 -10.9 0z" fill="none" stroke="#848484" stroke-width="2.6"/>
<path d="M53.6 92.7a5.8 5.8 0 1 0 11.6 0a5.8 5.8 0 1 0 -11.6 0zM54.8 95.9a3.8 3.8 0 1 0 7.7 0a3.8 3.8 0 1 0 -7.7 0zM54.8 92.2a3.8 3.8 0 1 0 7.5 0a3.8 3.8 0 1 0 -7.5 0zM57.4 90.0a5.1 5.1 0 1 0 10.3 0a5.1 5.1 0 1 0 -10.3 0zM56.2 91.6a5.8 5.8 0 1 0 11.7 0a5.8 5.8 0 1 0 -11.7 0zM59.1 95.5a4.7 4.7 0 1 0 9.4 0a4.7 4.7 0 1 0 -9.4 0zM60.1 93.9a5.4 5.4 0 1 0 10.9 0a5.4 5.4 0 1 0 -10.9 0z" fill="#a1a1a1"/>
<path d="M53.6 92.7a5.8 5.8 0 1 0 11.6 0a5.8 5.8 0 1 0 -11.6 0zM54.8 95.9a3.8 3.8 0 1 0 7.7 0a3.8 3.8 0 1 0 -7.7 0zM54.8 92.2a3.8 3.8 0 1 0 7.5 0a3.8 3.8 0 1 0 -7.5 0zM57.4 90.0a5.1 5.1 0 1 0 10.3 0a5.1 5.1 0 1 0 -10.3 0zM56.2 91.6a5.8 5.8 0 1 0 11.7 0a5.8 5.8 0 1 0 -11.7 0zM59.1 95.5a4.7 4.7 0 1 0 9.4 0a4.7 4.7 0 1 0 -9.4 0zM60.1 93.9a5.4 5.4 0 1 0 10.9 0a5.4 5.4 0 1 0 -10.9 0z" fill="url(#pd)"/>
<circle class="u" cx="69.3" cy="97.1" r="3.6" fill="none" stroke="#7c7c7c"/>
<circle class="u" cx="62.9" cy="98.6" r="2.7" fill="none" stroke="#727272"/>
<circle class="u" cx="59.4" cy="91.6" r="3.4" fill="none" stroke="#c7c7c7"/>
<circle class="u" cx="55.8" cy="91.2" r="2.8" fill="none" stroke="#7c7c7c"/>
<circle class="u" cx="64.4" cy="84.3" r="2.1" fill="none" stroke="#c7c7c7"/>
<circle class="u" cx="65.2" cy="90.6" r="2.3" fill="none" stroke="#c7c7c7"/>
<circle class="u" cx="65.5" cy="95.9" r="3.3" fill="none" stroke="#c7c7c7"/>
<circle class="u" cx="55.7" cy="89.6" r="3.8" fill="none" stroke="#c7c7c7"/>
<circle class="u" cx="56.5" cy="90.2" r="2.3" fill="none" stroke="#727272"/>
<circle class="u" cx="55.8" cy="90.1" r="2.2" fill="none" stroke="#727272"/>
<path d="M82.0 102.3a3.9 3.9 0 1 0 7.8 0a3.9 3.9 0 1 0 -7.8 0zM88.7 105.5a4.5 4.5 0 1 0 9.0 0a4.5 4.5 0 1 0 -9.0 0zM89.5 103.0a5.4 5.4 0 1 0 10.7 0a5.4 5.4 0 1 0 -10.7 0zM85.9 100.7a3.5 3.5 0 1 0 7.0 0a3.5 3.5 0 1 0 -7.0 0zM88.7 101.6a4.1 4.1 0 1 0 8.1 0a4.1 4.1 0 1 0 -8.1 0zM90.3 99.9a5.6 5.6 0 1 0 11.2 0a5.6 5.6 0 1 0 -11.2 0z" fill="none" stroke="#848484" stroke-width="2.6"/>
<path d="M82.0 102.3a3.9 3.9 0 1 0 7.8 0a3.9 3.9 0 1 0 -7.8 0zM88.7 105.5a4.5 4.5 0 1 0 9.0 0a4.5 4.5 0 1 0 -9.0 0zM89.5 103.0a5.4 5.4 0 1 0 10.7 0a5.4 5.4 0 1 0 -10.7 0zM85.9 100.7a3.5 3.5 0 1 0 7.0 0a3.5 3.5 0 1 0 -7.0 0zM88.7 101.6a4.1 4.1 0 1 0 8.1 0a4.1 4.1 0 1 0 -8.1 0zM90.3 99.9a5.6 5.6 0 1 0 11.2 0a5.6 5.6 0 1 0 -11.2 0z" fill="#a1a1a1"/>
<path d="M82.0 102.3a3.9 3.9 0 1 0 7.8 0a3.9 3.9 0 1 0 -7.8 0zM88.7 105.5a4.5 4.5 0 1 0 9.0 0a4.5 4.5 0 1 0 -9.0 0zM89.5 103.0a5.4 5.4 0 1 0 10.7 0a5.4 5.4 0 1 0 -10.7 0zM85.9 100.7a3.5 3.5 0 1 0 7.0 0a3.5 3.5 0 1 0 -7.0 0zM88.7 101.6a4.1 4.1 0 1 0 8.1 0a4.1 4.1 0 1 0 -8.1 0zM90.3 99.9a5.6 5.6 0 1 0 11.2 0a5.6 5.6 0 1 0 -11.2 0z" fill="url(#pd)"/>
<circle class="u" cx="95.3" cy="97.5" r="3.1" fill="none" stroke="#727272"/>
<circle class="u" cx="88.3" cy="108.6" r="3.0" fill="none" stroke="#7c7c7c"/>
<circle class="u" cx="99.1" cy="98.7" r="2.7" fill="none" stroke="#727272"/>
<circle class="u" cx="87.4" cy="99.6" r="2.5" fill="none" stroke="#7c7c7c"/>
<circle class="u" cx="95.0" cy="101.2" r="3.6" fill="none" stroke="#c7c7c7"/>
<circle class="u" cx="96.9" cy="101.0" r="2.9" fill="none" stroke="#727272"/>
<circle class="u" cx="91.6" cy="107.5" r="3.7" fill="none" stroke="#727272"/>
<circle class="u" cx="93.4" cy="103.5" r="3.6" fill="none" stroke="#7c7c7c"/>
<circle class="u" cx="92.3" cy="101.0" r="2.3" fill="none" stroke="#727272"/>
<path d="M112.8 81.5a3.1 3.1 0 1 0 6.3 0a3.1 3.1 0 1 0 -6.3 0zM116.4 78.6a3.2 3.2 0 1 0 6.4 0a3.2 3.2 0 1 0 -6.4 0zM118.3 85.5a4.0 4.0 0 1 0 8.1 0a4.0 4.0 0 1 0 -8.1 0zM116.0 79.0a3.0 3.0 0 1 0 6.1 0a3.0 3.0 0 1 0 -6.1 0zM118.2 79.9a4.8 4.8 0 1 0 9.7 0a4.8 4.8 0 1 0 -9.7 0z" fill="none" stroke="#848484" stroke-width="2.6"/>
<path d="M112.8 81.5a3.1 3.1 0 1 0 6.3 0a3.1 3.1 0 1 0 -6.3 0zM116.4 78.6a3.2 3.2 0 1 0 6.4 0a3.2 3.2 0 1 0 -6.4 0zM118.3 85.5a4.0 4.0 0 1 0 8.1 0a4.0 4.0 0 1 0 -8.1 0zM116.0 79.0a3.0 3.0 0 1 0 6.1 0a3.0 3.0 0 1 0 -6.1 0zM118.2 79.9a4.8 4.8 0 1 0 9.7 0a4.8 4.8 0 1 0 -9.7 0z" fill="#a1a1a1"/>
<path d="M112.8 81.5a3.1 3.1 0 1 0 6.3 0a3.1 3.1 0 1 0 -6.3 0zM116.4 78.6a3.2 3.2 0 1 0 6.4 0a3.2 3.2 0 1 0 -6.4 0zM118.3 85.5a4.0 4.0 0 1 0 8.1 0a4.0 4.0 0 1 0 -8.1 0zM116.0 79.0a3.0 3.0 0 1 0 6.1 0a3.0 3.0 0 1 0 -6.1 0zM118.2 79.9a4.8 4.8 0 1 0 9.7 0a4.8 4.8 0 1 0 -9.7 0z" fill="url(#pd)"/>
<circle class="u" cx="113.6" cy="81.3" r="3.2" fill="none" stroke="#c7c7c7"/>
<circle class="u" cx="114.1" cy="80.4" r="2.4" fill="none" stroke="#7c7c7c"/>
<circle class="u" cx="122.8" cy="86.2" r="3.4" fill="none" stroke="#c7c7c7"/>
<circle class="u" cx="118.3" cy="77.9" r="2.8" fill="none" stroke="#727272"/>
<circle class="u" cx="115.9" cy="83.9" r="3.3" fill="none" stroke="#727272"/>
<circle class="u" cx="118.8" cy="77.3" r="2.1" fill="none" stroke="#727272"/>
<circle class="u" cx="116.5" cy="85.8" r="3.7" fill="none" stroke="#727272"/>
<path d="M158.6 95.1a3.1 3.1 0 1 0 6.3 0a3.1 3.1 0 1 0 -6.3 0zM156.2 96.9a2.8 2.8 0 1 0 5.7 0a2.8 2.8 0 1 0 -5.7 0zM151.7 92.2a2.8 2.8 0 1 0 5.5 0a2.8 2.8 0 1 0 -5.5 0zM152.3 93.0a3.9 3.9 0 1 0 7.8 0a3.9 3.9 0 1 0 -7.8 0zM158.2 95.3a3.1 3.1 0 1 0 6.2 0a3.1 3.1 0 1 0 -6.2 0z" fill="none" stroke="#848484" stroke-width="2.6"/>
<path d="M158.6 95.1a3.1 3.1 0 1 0 6.3 0a3.1 3.1 0 1 0 -6.3 0zM156.2 96.9a2.8 2.8 0 1 0 5.7 0a2.8 2.8 0 1 0 -5.7 0zM151.7 92.2a2.8 2.8 0 1 0 5.5 0a2.8 2.8 0 1 0 -5.5 0zM152.3 93.0a3.9 3.9 0 1 0 7.8 0a3.9 3.9 0 1 0 -7.8 0zM158.2 95.3a3.1 3.1 0 1 0 6.2 0a3.1 3.1 0 1 0 -6.2 0z" fill="#a1a1a1"/>
<path d="M158.6 95.1a3.1 3.1 0 1 0 6.3 0a3.1 3.1 0 1 0 -6.3 0zM156.2 96.9a2.8 2.8 0 1 0 5.7 0a2.8 2.8 0 1 0 -5.7 0zM151.7 92.2a2.8 2.8 0 1 0 5.5 0a2.8 2.8 0 1 0 -5.5 0zM152.3 93.0a3.9 3.9 0 1 0 7.8 0a3.9 3.9 0 1 0 -7.8 0zM158.2 95.3a3.1 3.1 0 1 0 6.2 0a3.1 3.1 0 1 0 -6.2 0z" fill="url(#pd)"/>
<circle class="u" cx="153.8" cy="89.0" r="3.1" fill="none" stroke="#c7c7c7"/>
<circle class="u" cx="157.1" cy="96.3" r="3.0" fill="none" stroke="#c7c7c7"/>
<circle class="u" cx="161.6" cy="97.3" r="2.9" fill="none" stroke="#727272"/>
<circle class="u" cx="156.9" cy="93.8" r="2.6" fill="none" stroke="#727272"/>
<circle class="u" cx="158.7" cy="96.8" r="2.3" fill="none" stroke="#c7c7c7"/>
<path d="M197.8 69.8a3.4 3.4 0 1 0 6.8 0a3.4 3.4 0 1 0 -6.8 0zM197.7 71.1a2.9 2.9 0 1 0 5.8 0a2.9 2.9 0 1 0 -5.8 0zM196.4 67.7a3.0 3.0 0 1 0 6.0 0a3.0 3.0 0 1 0 -6.0 0zM196.1 70.1a3.1 3.1 0 1 0 6.2 0a3.1 3.1 0 1 0 -6.2 0zM200.3 72.9a3.2 3.2 0 1 0 6.3 0a3.2 3.2 0 1 0 -6.3 0z" fill="none" stroke="#848484" stroke-width="2.6"/>
<path d="M197.8 69.8a3.4 3.4 0 1 0 6.8 0a3.4 3.4 0 1 0 -6.8 0zM197.7 71.1a2.9 2.9 0 1 0 5.8 0a2.9 2.9 0 1 0 -5.8 0zM196.4 67.7a3.0 3.0 0 1 0 6.0 0a3.0 3.0 0 1 0 -6.0 0zM196.1 70.1a3.1 3.1 0 1 0 6.2 0a3.1 3.1 0 1 0 -6.2 0zM200.3 72.9a3.2 3.2 0 1 0 6.3 0a3.2 3.2 0 1 0 -6.3 0z" fill="#a1a1a1"/>
<path d="M197.8 69.8a3.4 3.4 0 1 0 6.8 0a3.4 3.4 0 1 0 -6.8 0zM197.7 71.1a2.9 2.9 0 1 0 5.8 0a2.9 2.9 0 1 0 -5.8 0zM196.4 67.7a3.0 3.0 0 1 0 6.0 0a3.0 3.0 0 1 0 -6.0 0zM196.1 70.1a3.1 3.1 0 1 0 6.2 0a3.1 3.1 0 1 0 -6.2 0zM200.3 72.9a3.2 3.2 0 1 0 6.3 0a3.2 3.2 0 1 0 -6.3 0z" fill="url(#pd)"/>
<circle class="u" cx="199.5" cy="67.0" r="2.7" fill="none" stroke="#c7c7c7"/>
<circle class="u" cx="203.1" cy="72.9" r="2.8" fill="none" stroke="#c7c7c7"/>
<circle class="u" cx="202.9" cy="71.9" r="2.0" fill="none" stroke="#7c7c7c"/>
<circle class="u" cx="201.3" cy="72.2" r="3.4" fill="none" stroke="#c7c7c7"/>
<circle class="u" cx="198.0" cy="69.1" r="2.7" fill="none" stroke="#7c7c7c"/>
<path d="M186.7 89.2a2.5 2.5 0 1 0 4.9 0a2.5 2.5 0 1 0 -4.9 0zM186.6 86.4a3.2 3.2 0 1 0 6.5 0a3.2 3.2 0 1 0 -6.5 0zM186.3 89.3a2.9 2.9 0 1 0 5.8 0a2.9 2.9 0 1 0 -5.8 0zM185.6 85.3a2.1 2.1 0 1 0 4.3 0a2.1 2.1 0 1 0 -4.3 0z" fill="none" stroke="#848484" stroke-width="2.6"/>
<path d="M186.7 89.2a2.5 2.5 0 1 0 4.9 0a2.5 2.5 0 1 0 -4.9 0zM186.6 86.4a3.2 3.2 0 1 0 6.5 0a3.2 3.2 0 1 0 -6.5 0zM186.3 89.3a2.9 2.9 0 1 0 5.8 0a2.9 2.9 0 1 0 -5.8 0zM185.6 85.3a2.1 2.1 0 1 0 4.3 0a2.1 2.1 0 1 0 -4.3 0z" fill="#a1a1a1"/>
<path d="M186.7 89.2a2.5 2.5 0 1 0 4.9 0a2.5 2.5 0 1 0 -4.9 0zM186.6 86.4a3.2 3.2 0 1 0 6.5 0a3.2 3.2 0 1 0 -6.5 0zM186.3 89.3a2.9 2.9 0 1 0 5.8 0a2.9 2.9 0 1 0 -5.8 0zM185.6 85.3a2.1 2.1 0 1 0 4.3 0a2.1 2.1 0 1 0 -4.3 0z" fill="url(#pd)"/>
<circle class="u" cx="191.9" cy="86.8" r="2.6" fill="none" stroke="#c7c7c7"/>
<circle class="u" cx="187.8" cy="87.3" r="2.1" fill="none" stroke="#727272"/>
<circle class="u" cx="184.5" cy="90.3" r="3.5" fill="none" stroke="#727272"/>
<path d="M221.0 79.9a5.2 5.2 0 1 0 10.4 0a5.2 5.2 0 1 0 -10.4 0zM221.9 84.8a5.8 5.8 0 1 0 11.7 0a5.8 5.8 0 1 0 -11.7 0zM212.1 87.1a6.4 6.4 0 1 0 12.7 0a6.4 6.4 0 1 0 -12.7 0zM219.2 75.5a6.8 6.8 0 1 0 13.6 0a6.8 6.8 0 1 0 -13.6 0zM212.5 81.9a6.2 6.2 0 1 0 12.3 0a6.2 6.2 0 1 0 -12.3 0zM210.4 83.9a7.0 7.0 0 1 0 14.1 0a7.0 7.0 0 1 0 -14.1 0zM215.6 78.8a6.2 6.2 0 1 0 12.5 0a6.2 6.2 0 1 0 -12.5 0zM216.0 83.0a5.0 5.0 0 1 0 9.9 0a5.0 5.0 0 1 0 -9.9 0zM209.8 84.6a6.6 6.6 0 1 0 13.2 0a6.6 6.6 0 1 0 -13.2 0z" fill="none" stroke="#848484" stroke-width="2.6"/>
<path d="M221.0 79.9a5.2 5.2 0 1 0 10.4 0a5.2 5.2 0 1 0 -10.4 0zM221.9 84.8a5.8 5.8 0 1 0 11.7 0a5.8 5.8 0 1 0 -11.7 0zM212.1 87.1a6.4 6.4 0 1 0 12.7 0a6.4 6.4 0 1 0 -12.7 0zM219.2 75.5a6.8 6.8 0 1 0 13.6 0a6.8 6.8 0 1 0 -13.6 0zM212.5 81.9a6.2 6.2 0 1 0 12.3 0a6.2 6.2 0 1 0 -12.3 0zM210.4 83.9a7.0 7.0 0 1 0 14.1 0a7.0 7.0 0 1 0 -14.1 0zM215.6 78.8a6.2 6.2 0 1 0 12.5 0a6.2 6.2 0 1 0 -12.5 0zM216.0 83.0a5.0 5.0 0 1 0 9.9 0a5.0 5.0 0 1 0 -9.9 0zM209.8 84.6a6.6 6.6 0 1 0 13.2 0a6.6 6.6 0 1 0 -13.2 0z" fill="#a1a1a1"/>
<path d="M221.0 79.9a5.2 5.2 0 1 0 10.4 0a5.2 5.2 0 1 0 -10.4 0zM221.9 84.8a5.8 5.8 0 1 0 11.7 0a5.8 5.8 0 1 0 -11.7 0zM212.1 87.1a6.4 6.4 0 1 0 12.7 0a6.4 6.4 0 1 0 -12.7 0zM219.2 75.5a6.8 6.8 0 1 0 13.6 0a6.8 6.8 0 1 0 -13.6 0zM212.5 81.9a6.2 6.2 0 1 0 12.3 0a6.2 6.2 0 1 0 -12.3 0zM210.4 83.9a7.0 7.0 0 1 0 14.1 0a7.0 7.0 0 1 0 -14.1 0zM215.6 78.8a6.2 6.2 0 1 0 12.5 0a6.2 6.2 0 1 0 -12.5 0zM216.0 83.0a5.0 5.0 0 1 0 9.9 0a5.0 5.0 0 1 0 -9.9 0zM209.8 84.6a6.6 6.6 0 1 0 13.2 0a6.6 6.6 0 1 0 -13.2 0z" fill="url(#pd)"/>
<circle class="u" cx="234.1" cy="86.1" r="3.3" fill="none" stroke="#c7c7c7"/>
<circle class="u" cx="222.7" cy="78.2" r="2.4" fill="none" stroke="#727272"/>
<circle class="u" cx="219.5" cy="82.7" r="3.1" fill="none" stroke="#c7c7c7"/>
<circle class="u" cx="223.7" cy="76.5" r="3.5" fill="none" stroke="#7c7c7c"/>
<circle class="u" cx="231.6" cy="89.2" r="3.6" fill="none" stroke="#7c7c7c"/>
<circle class="u" cx="224.2" cy="76.6" r="2.5" fill="none" stroke="#727272"/>
<circle class="u" cx="217.5" cy="77.5" r="2.3" fill="none" stroke="#7c7c7c"/>
<circle class="u" cx="215.2" cy="76.2" r="3.5" fill="none" stroke="#727272"/>
<circle class="u" cx="222.8" cy="79.2" r="2.3" fill="none" stroke="#c7c7c7"/>
<circle class="u" cx="221.7" cy="73.3" r="2.7" fill="none" stroke="#7c7c7c"/>
<circle class="u" cx="217.5" cy="75.4" r="3.4" fill="none" stroke="#c7c7c7"/>
<circle class="u" cx="229.6" cy="88.6" r="2.9" fill="none" stroke="#c7c7c7"/>
<circle class="u" cx="222.1" cy="92.7" r="3.4" fill="none" stroke="#7c7c7c"/>
<circle class="u" cx="224.3" cy="72.5" r="3.5" fill="none" stroke="#c7c7c7"/>
<circle class="u" cx="214.7" cy="75.3" r="2.6" fill="none" stroke="#727272"/>
<circle class="u" cx="226.8" cy="89.4" r="3.7" fill="none" stroke="#7c7c7c"/>
<path d="M227.4 94.3a2.8 2.8 0 1 0 5.6 0a2.8 2.8 0 1 0 -5.6 0zM230.2 98.9a2.1 2.1 0 1 0 4.1 0a2.1 2.1 0 1 0 -4.1 0zM226.6 96.6a2.5 2.5 0 1 0 4.9 0a2.5 2.5 0 1 0 -4.9 0zM230.8 97.6a2.2 2.2 0 1 0 4.4 0a2.2 2.2 0 1 0 -4.4 0z" fill="none" stroke="#848484" stroke-width="2.6"/>
<path d="M227.4 94.3a2.8 2.8 0 1 0 5.6 0a2.8 2.8 0 1 0 -5.6 0zM230.2 98.9a2.1 2.1 0 1 0 4.1 0a2.1 2.1 0 1 0 -4.1 0zM226.6 96.6a2.5 2.5 0 1 0 4.9 0a2.5 2.5 0 1 0 -4.9 0zM230.8 97.6a2.2 2.2 0 1 0 4.4 0a2.2 2.2 0 1 0 -4.4 0z" fill="#a1a1a1"/>
<path d="M227.4 94.3a2.8 2.8 0 1 0 5.6 0a2.8 2.8 0 1 0 -5.6 0zM230.2 98.9a2.1 2.1 0 1 0 4.1 0a2.1 2.1 0 1 0 -4.1 0zM226.6 96.6a2.5 2.5 0 1 0 4.9 0a2.5 2.5 0 1 0 -4.9 0zM230.8 97.6a2.2 2.2 0 1 0 4.4 0a2.2 2.2 0 1 0 -4.4 0z" fill="url(#pd)"/>
<circle class="u" cx="230.9" cy="99.3" r="2.7" fill="none" stroke="#727272"/>
<circle class="u" cx="229.1" cy="94.7" r="2.0" fill="none" stroke="#c7c7c7"/>
<path d="M25.0 116.5a4.1 4.1 0 1 0 8.1 0a4.1 4.1 0 1 0 -8.1 0zM19.8 111.6a4.4 4.4 0 1 0 8.8 0a4.4 4.4 0 1 0 -8.8 0zM17.4 114.4a5.1 5.1 0 1 0 10.3 0a5.1 5.1 0 1 0 -10.3 0zM24.1 111.6a4.8 4.8 0 1 0 9.5 0a4.8 4.8 0 1 0 -9.5 0zM28.5 115.3a4.6 4.6 0 1 0 9.3 0a4.6 4.6 0 1 0 -9.3 0zM26.5 112.5a4.7 4.7 0 1 0 9.3 0a4.7 4.7 0 1 0 -9.3 0z" fill="none" stroke="#848484" stroke-width="2.6"/>
<path d="M25.0 116.5a4.1 4.1 0 1 0 8.1 0a4.1 4.1 0 1 0 -8.1 0zM19.8 111.6a4.4 4.4 0 1 0 8.8 0a4.4 4.4 0 1 0 -8.8 0zM17.4 114.4a5.1 5.1 0 1 0 10.3 0a5.1 5.1 0 1 0 -10.3 0zM24.1 111.6a4.8 4.8 0 1 0 9.5 0a4.8 4.8 0 1 0 -9.5 0zM28.5 115.3a4.6 4.6 0 1 0 9.3 0a4.6 4.6 0 1 0 -9.3 0zM26.5 112.5a4.7 4.7 0 1 0 9.3 0a4.7 4.7 0 1 0 -9.3 0z" fill="#a1a1a1"/>
<path d="M25.0 116.5a4.1 4.1 0 1 0 8.1 0a4.1 4.1 0 1 0 -8.1 0zM19.8 111.6a4.4 4.4 0 1 0 8.8 0a4.4 4.4 0 1 0 -8.8 0zM17.4 114.4a5.1 5.1 0 1 0 10.3 0a5.1 5.1 0 1 0 -10.3 0zM24.1 111.6a4.8 4.8 0 1 0 9.5 0a4.8 4.8 0 1 0 -9.5 0zM28.5 115.3a4.6 4.6 0 1 0 9.3 0a4.6 4.6 0 1 0 -9.3 0zM26.5 112.5a4.7 4.7 0 1 0 9.3 0a4.7 4.7 0 1 0 -9.3 0z" fill="url(#pd)"/>
<circle class="u" cx="27.9" cy="122.0" r="2.3" fill="none" stroke="#727272"/>
<circle class="u" cx="27.6" cy="111.1" r="3.4" fill="none" stroke="#7c7c7c"/>
<circle class="u" cx="30.3" cy="107.8" r="3.4" fill="none" stroke="#c7c7c7"/>
<circle class="u" cx="30.4" cy="115.2" r="2.5" fill="none" stroke="#727272"/>
<circle class="u" cx="20.7" cy="110.6" r="2.0" fill="none" stroke="#7c7c7c"/>
<circle class="u" cx="35.1" cy="118.0" r="2.7" fill="none" stroke="#7c7c7c"/>
<circle class="u" cx="29.8" cy="106.3" r="2.9" fill="none" stroke="#727272"/>
<circle class="u" cx="22.4" cy="114.5" r="3.1" fill="none" stroke="#727272"/>
<path d="M46.6 129.3a2.5 2.5 0 1 0 4.9 0a2.5 2.5 0 1 0 -4.9 0zM48.0 126.3a2.6 2.6 0 1 0 5.2 0a2.6 2.6 0 1 0 -5.2 0zM44.7 124.2a2.6 2.6 0 1 0 5.3 0a2.6 2.6 0 1 0 -5.3 0zM47.7 126.4a2.4 2.4 0 1 0 4.8 0a2.4 2.4 0 1 0 -4.8 0z" fill="none" stroke="#848484" stroke-width="2.6"/>
<path d="M46.6 129.3a2.5 2.5 0 1 0 4.9 0a2.5 2.5 0 1 0 -4.9 0zM48.0 126.3a2.6 2.6 0 1 0 5.2 0a2.6 2.6 0 1 0 -5.2 0zM44.7 124.2a2.6 2.6 0 1 0 5.3 0a2.6 2.6 0 1 0 -5.3 0zM47.7 126.4a2.4 2.4 0 1 0 4.8 0a2.4 2.4 0 1 0 -4.8 0z" fill="#a1a1a1"/>
<path d="M46.6 129.3a2.5 2.5 0 1 0 4.9 0a2.5 2.5 0 1 0 -4.9 0zM48.0 126.3a2.6 2.6 0 1 0 5.2 0a2.6 2.6 0 1 0 -5.2 0zM44.7 124.2a2.6 2.6 0 1 0 5.3 0a2.6 2.6 0 1 0 -5.3 0zM47.7 126.4a2.4 2.4 0 1 0 4.8 0a2.4 2.4 0 1 0 -4.8 0z" fill="url(#pd)"/>
<circle class="u" cx="51.4" cy="129.4" r="2.7" fill="none" stroke="#7c7c7c"/>
<circle class="u" cx="44.0" cy="126.3" r="2.2" fill="none" stroke="#7c7c7c"/>
<path d="M128.7 126.2a4.6 4.6 0 1 0 9.2 0a4.6 4.6 0 1 0 -9.2 0zM130.7 121.3a3.9 3.9 0 1 0 7.8 0a3.9 3.9 0 1 0 -7.8 0zM132.8 127.6a4.3 4.3 0 1 0 8.6 0a4.3 4.3 0 1 0 -8.6 0zM130.2 121.1a3.6 3.6 0 1 0 7.2 0a3.6 3.6 0 1 0 -7.2 0zM128.1 121.8a4.0 4.0 0 1 0 8.1 0a4.0 4.0 0 1 0 -8.1 0z" fill="none" stroke="#848484" stroke-width="2.6"/>
<path d="M128.7 126.2a4.6 4.6 0 1 0 9.2 0a4.6 4.6 0 1 0 -9.2 0zM130.7 121.3a3.9 3.9 0 1 0 7.8 0a3.9 3.9 0 1 0 -7.8 0zM132.8 127.6a4.3 4.3 0 1 0 8.6 0a4.3 4.3 0 1 0 -8.6 0zM130.2 121.1a3.6 3.6 0 1 0 7.2 0a3.6 3.6 0 1 0 -7.2 0zM128.1 121.8a4.0 4.0 0 1 0 8.1 0a4.0 4.0 0 1 0 -8.1 0z" fill="#a1a1a1"/>
<path d="M128.7 126.2a4.6 4.6 0 1 0 9.2 0a4.6 4.6 0 1 0 -9.2 0zM130.7 121.3a3.9 3.9 0 1 0 7.8 0a3.9 3.9 0 1 0 -7.8 0zM132.8 127.6a4.3 4.3 0 1 0 8.6 0a4.3 4.3 0 1 0 -8.6 0zM130.2 121.1a3.6 3.6 0 1 0 7.2 0a3.6 3.6 0 1 0 -7.2 0zM128.1 121.8a4.0 4.0 0 1 0 8.1 0a4.0 4.0 0 1 0 -8.1 0z" fill="url(#pd)"/>
<circle class="u" cx="131.5" cy="118.8" r="3.0" fill="none" stroke="#c7c7c7"/>
<circle class="u" cx="136.4" cy="117.5" r="2.6" fill="none" stroke="#c7c7c7"/>
<circle class="u" cx="139.0" cy="120.4" r="2.9" fill="none" stroke="#727272"/>
<circle class="u" cx="131.7" cy="129.2" r="3.6" fill="none" stroke="#7c7c7c"/>
<circle class="u" cx="135.6" cy="132.0" r="2.6" fill="none" stroke="#7c7c7c"/>
<circle class="u" cx="134.0" cy="117.8" r="3.5" fill="none" stroke="#727272"/>
<circle class="u" cx="130.4" cy="124.4" r="2.7" fill="none" stroke="#727272"/>
<path d="M178.3 142.5a3.5 3.5 0 1 0 6.9 0a3.5 3.5 0 1 0 -6.9 0zM178.8 138.9a3.3 3.3 0 1 0 6.6 0a3.3 3.3 0 1 0 -6.6 0zM184.1 141.3a3.7 3.7 0 1 0 7.3 0a3.7 3.7 0 1 0 -7.3 0zM179.2 141.1a3.6 3.6 0 1 0 7.3 0a3.6 3.6 0 1 0 -7.3 0zM185.2 141.5a2.9 2.9 0 1 0 5.8 0a2.9 2.9 0 1 0 -5.8 0z" fill="none" stroke="#848484" stroke-width="2.6"/>
<path d="M178.3 142.5a3.5 3.5 0 1 0 6.9 0a3.5 3.5 0 1 0 -6.9 0zM178.8 138.9a3.3 3.3 0 1 0 6.6 0a3.3 3.3 0 1 0 -6.6 0zM184.1 141.3a3.7 3.7 0 1 0 7.3 0a3.7 3.7 0 1 0 -7.3 0zM179.2 141.1a3.6 3.6 0 1 0 7.3 0a3.6 3.6 0 1 0 -7.3 0zM185.2 141.5a2.9 2.9 0 1 0 5.8 0a2.9 2.9 0 1 0 -5.8 0z" fill="#a1a1a1"/>
<path d="M178.3 142.5a3.5 3.5 0 1 0 6.9 0a3.5 3.5 0 1 0 -6.9 0zM178.8 138.9a3.3 3.3 0 1 0 6.6 0a3.3 3.3 0 1 0 -6.6 0zM184.1 141.3a3.7 3.7 0 1 0 7.3 0a3.7 3.7 0 1 0 -7.3 0zM179.2 141.1a3.6 3.6 0 1 0 7.3 0a3.6 3.6 0 1 0 -7.3 0zM185.2 141.5a2.9 2.9 0 1 0 5.8 0a2.9 2.9 0 1 0 -5.8 0z" fill="url(#pd)"/>
<circle class="u" cx="185.0" cy="146.9" r="2.1" fill="none" stroke="#c7c7c7"/>
<circle class="u" cx="184.4" cy="139.8" r="3.1" fill="none" stroke="#7c7c7c"/>
<circle class="u" cx="183.9" cy="146.2" r="3.6" fill="none" stroke="#7c7c7c"/>
<circle class="u" cx="187.5" cy="143.0" r="2.2" fill="none" stroke="#c7c7c7"/>
<circle class="u" cx="184.8" cy="136.9" r="3.5" fill="none" stroke="#727272"/>
<path d="M213.8 165.8a4.9 4.9 0 1 0 9.9 0a4.9 4.9 0 1 0 -9.9 0zM216.2 165.9a3.6 3.6 0 1 0 7.2 0a3.6 3.6 0 1 0 -7.2 0zM214.1 173.6a3.7 3.7 0 1 0 7.5 0a3.7 3.7 0 1 0 -7.5 0zM215.2 174.1a4.5 4.5 0 1 0 9.1 0a4.5 4.5 0 1 0 -9.1 0zM216.8 168.9a5.1 5.1 0 1 0 10.3 0a5.1 5.1 0 1 0 -10.3 0zM210.5 170.6a3.6 3.6 0 1 0 7.3 0a3.6 3.6 0 1 0 -7.3 0z" fill="none" stroke="#848484" stroke-width="2.6"/>
<path d="M213.8 165.8a4.9 4.9 0 1 0 9.9 0a4.9 4.9 0 1 0 -9.9 0zM216.2 165.9a3.6 3.6 0 1 0 7.2 0a3.6 3.6 0 1 0 -7.2 0zM214.1 173.6a3.7 3.7 0 1 0 7.5 0a3.7 3.7 0 1 0 -7.5 0zM215.2 174.1a4.5 4.5 0 1 0 9.1 0a4.5 4.5 0 1 0 -9.1 0zM216.8 168.9a5.1 5.1 0 1 0 10.3 0a5.1 5.1 0 1 0 -10.3 0zM210.5 170.6a3.6 3.6 0 1 0 7.3 0a3.6 3.6 0 1 0 -7.3 0z" fill="#a1a1a1"/>
<path d="M213.8 165.8a4.9 4.9 0 1 0 9.9 0a4.9 4.9 0 1 0 -9.9 0zM216.2 165.9a3.6 3.6 0 1 0 7.2 0a3.6 3.6 0 1 0 -7.2 0zM214.1 173.6a3.7 3.7 0 1 0 7.5 0a3.7 3.7 0 1 0 -7.5 0zM215.2 174.1a4.5 4.5 0 1 0 9.1 0a4.5 4.5 0 1 0 -9.1 0zM216.8 168.9a5.1 5.1 0 1 0 10.3 0a5.1 5.1 0 1 0 -10.3 0zM210.5 170.6a3.6 3.6 0 1 0 7.3 0a3.6 3.6 0 1 0 -7.3 0z" fill="url(#pd)"/>
<circle class="u" cx="217.7" cy="175.3" r="3.1" fill="none" stroke="#727272"/>
<circle class="u" cx="208.5" cy="170.3" r="2.6" fill="none" stroke="#7c7c7c"/>
<circle class="u" cx="213.2" cy="168.2" r="3.3" fill="none" stroke="#7c7c7c"/>
<circle class="u" cx="212.7" cy="175.0" r="2.9" fill="none" stroke="#c7c7c7"/>
<circle class="u" cx="209.8" cy="164.2" r="3.0" fill="none" stroke="#727272"/>
<circle class="u" cx="211.8" cy="172.0" r="2.1" fill="none" stroke="#727272"/>
<circle class="u" cx="221.9" cy="169.6" r="3.4" fill="none" stroke="#c7c7c7"/>
<circle class="u" cx="211.4" cy="171.1" r="2.4" fill="none" stroke="#7c7c7c"/>
<circle class="u" cx="220.7" cy="170.0" r="3.1" fill="none" stroke="#7c7c7c"/>
<path d="M131.8 180.1a3.3 3.3 0 1 0 6.6 0a3.3 3.3 0 1 0 -6.6 0z" fill="none" stroke="#848484" stroke-width="2.6"/>
<path d="M131.8 180.1a3.3 3.3 0 1 0 6.6 0a3.3 3.3 0 1 0 -6.6 0z" fill="#a1a1a1"/>
<path d="M131.8 180.1a3.3 3.3 0 1 0 6.6 0a3.3 3.3 0 1 0 -6.6 0z" fill="url(#pd)"/>
<path d="M242.2 186.3a4.0 4.0 0 1 0 7.9 0a4.0 4.0 0 1 0 -7.9 0z" fill="none" stroke="#848484" stroke-width="2.6"/>
<path d="M242.2 186.3a4.0 4.0 0 1 0 7.9 0a4.0 4.0 0 1 0 -7.9 0z" fill="#a1a1a1"/>
<path d="M242.2 186.3a4.0 4.0 0 1 0 7.9 0a4.0 4.0 0 1 0 -7.9 0z" fill="url(#pd)"/>
<circle class="u" cx="247.2" cy="189.6" r="3.7" fill="none" stroke="#7c7c7c"/>
<path d="M262.2 164.6a3.3 3.3 0 1 0 6.6 0a3.3 3.3 0 1 0 -6.6 0z" fill="none" stroke="#848484" stroke-width="2.6"/>
<path d="M262.2 164.6a3.3 3.3 0 1 0 6.6 0a3.3 3.3 0 1 0 -6.6 0z" fill="#a1a1a1"/>
<path d="M262.2 164.6a3.3 3.3 0 1 0 6.6 0a3.3 3.3 0 1 0 -6.6 0z" fill="url(#pd)"/>
<path d="M161.0 195.7a2.9 2.9 0 1 0 5.9 0a2.9 2.9 0 1 0 -5.9 0zM164.6 199.6a1.9 1.9 0 1 0 3.9 0a1.9 1.9 0 1 0 -3.9 0zM163.0 199.0a2.7 2.7 0 1 0 5.3 0a2.7 2.7 0 1 0 -5.3 0zM163.6 195.9a2.6 2.6 0 1 0 5.1 0a2.6 2.6 0 1 0 -5.1 0z" fill="none" stroke="#848484" stroke-width="2.6"/>
<path d="M161.0 195.7a2.9 2.9 0 1 0 5.9 0a2.9 2.9 0 1 0 -5.9 0zM164.6 199.6a1.9 1.9 0 1 0 3.9 0a1.9 1.9 0 1 0 -3.9 0zM163.0 199.0a2.7 2.7 0 1 0 5.3 0a2.7 2.7 0 1 0 -5.3 0zM163.6 195.9a2.6 2.6 0 1 0 5.1 0a2.6 2.6 0 1 0 -5.1 0z" fill="#a1a1a1"/>
<path d="M161.0 195.7a2.9 2.9 0 1 0 5.9 0a2.9 2.9 0 1 0 -5.9 0zM164.6 199.6a1.9 1.9 0 1 0 3.9 0a1.9 1.9 0 1 0 -3.9 0zM163.0 199.0a2.7 2.7 0 1 0 5.3 0a2.7 2.7 0 1 0 -5.3 0zM163.6 195.9a2.6 2.6 0 1 0 5.1 0a2.6 2.6 0 1 0 -5.1 0z" fill="url(#pd)"/>
<circle class="u" cx="166.6" cy="198.1" r="3.8" fill="none" stroke="#c7c7c7"/>
<circle class="u" cx="164.5" cy="199.4" r="2.2" fill="none" stroke="#727272"/>
</g>
</svg>
<svg x="1496.4" y="693.0" width="266.6" height="200.0" overflow="hidden">
<rect width="266.6" height="200.0" fill="#b0b0b0"/>
<g filter="url(#soft)">
<path d="M209.8 12.0a2.1 2.1 0 1 0 4.1 0a2.1 2.1 0 1 0 -4.1 0zM207.5 7.7a2.3 2.3 0 1 0 4.6 0a2.3 2.3 0 1 0 -4.6 0zM206.8 8.5a1.9 1.9 0 1 0 3.8 0a1.9 1.9 0 1 0 -3.8 0zM205.6 9.6a2.4 2.4 0 1 0 4.9 0a2.4 2.4 0 1 0 -4.9 0z" fill="none" stroke="#909090" stroke-width="2.6"/>
<path d="M209.8 12.0a2.1 2.1 0 1 0 4.1 0a2.1 2.1 0 1 0 -4.1 0zM207.5 7.7a2.3 2.3 0 1 0 4.6 0a2.3 2.3 0 1 0 -4.6 0zM206.8 8.5a1.9 1.9 0 1 0 3.8 0a1.9 1.9 0 1 0 -3.8 0zM205.6 9.6a2.4 2.4 0 1 0 4.9 0a2.4 2.4 0 1 0 -4.9 0z" fill="#adadad"/>
<path d="M209.8 12.0a2.1 2.1 0 1 0 4.1 0a2.1 2.1 0 1 0 -4.1 0zM207.5 7.7a2.3 2.3 0 1 0 4.6 0a2.3 2.3 0 1 0 -4.6 0zM206.8 8.5a1.9 1.9 0 1 0 3.8 0a1.9 1.9 0 1 0 -3.8 0zM205.6 9.6a2.4 2.4 0 1 0 4.9 0a2.4 2.4 0 1 0 -4.9 0z" fill="url(#pd)"/>
<circle class="u" cx="213.3" cy="7.3" r="2.7" fill="none" stroke="#7e7e7e"/>
<circle class="u" cx="209.0" cy="10.0" r="2.1" fill="none" stroke="#7e7e7e"/>
<path d="M86.3 35.0a2.7 2.7 0 1 0 5.5 0a2.7 2.7 0 1 0 -5.5 0zM89.0 39.0a2.3 2.3 0 1 0 4.6 0a2.3 2.3 0 1 0 -4.6 0zM85.9 34.6a2.9 2.9 0 1 0 5.9 0a2.9 2.9 0 1 0 -5.9 0zM88.3 37.6a2.5 2.5 0 1 0 5.0 0a2.5 2.5 0 1 0 -5.0 0z" fill="none" stroke="#909090" stroke-width="2.6"/>
<path d="M86.3 35.0a2.7 2.7 0 1 0 5.5 0a2.7 2.7 0 1 0 -5.5 0zM89.0 39.0a2.3 2.3 0 1 0 4.6 0a2.3 2.3 0 1 0 -4.6 0zM85.9 34.6a2.9 2.9 0 1 0 5.9 0a2.9 2.9 0 1 0 -5.9 0zM88.3 37.6a2.5 2.5 0 1 0 5.0 0a2.5 2.5 0 1 0 -5.0 0z" fill="#adadad"/>
<path d="M86.3 35.0a2.7 2.7 0 1 0 5.5 0a2.7 2.7 0 1 0 -5.5 0zM89.0 39.0a2.3 2.3 0 1 0 4.6 0a2.3 2.3 0 1 0 -4.6 0zM85.9 34.6a2.9 2.9 0 1 0 5.9 0a2.9 2.9 0 1 0 -5.9 0zM88.3 37.6a2.5 2.5 0 1 0 5.0 0a2.5 2.5 0 1 0 -5.0 0z" fill="url(#pd)"/>
<circle class="u" cx="89.4" cy="33.0" r="3.3" fill="none" stroke="#888888"/>
<circle class="u" cx="91.9" cy="34.9" r="3.4" fill="none" stroke="#888888"/>
<circle class="u" cx="91.9" cy="40.4" r="3.1" fill="none" stroke="#888888"/>
<path d="M116.6 70.3a3.3 3.3 0 1 0 6.6 0a3.3 3.3 0 1 0 -6.6 0zM115.7 66.5a2.5 2.5 0 1 0 5.0 0a2.5 2.5 0 1 0 -5.0 0zM115.1 65.5a2.8 2.8 0 1 0 5.5 0a2.8 2.8 0 1 0 -5.5 0zM117.7 65.8a2.7 2.7 0 1 0 5.5 0a2.7 2.7 0 1 0 -5.5 0z" fill="none" stroke="#909090" stroke-width="2.6"/>
<path d="M116.6 70.3a3.3 3.3 0 1 0 6.6 0a3.3 3.3 0 1 0 -6.6 0zM115.7 66.5a2.5 2.5 0 1 0 5.0 0a2.5 2.5 0 1 0 -5.0 0zM115.1 65.5a2.8 2.8 0 1 0 5.5 0a2.8 2.8 0 1 0 -5.5 0zM117.7 65.8a2.7 2.7 0 1 0 5.5 0a2.7 2.7 0 1 0 -5.5 0z" fill="#adadad"/>
<path d="M116.6 70.3a3.3 3.3 0 1 0 6.6 0a3.3 3.3 0 1 0 -6.6 0zM115.7 66.5a2.5 2.5 0 1 0 5.0 0a2.5 2.5 0 1 0 -5.0 0zM115.1 65.5a2.8 2.8 0 1 0 5.5 0a2.8 2.8 0 1 0 -5.5 0zM117.7 65.8a2.7 2.7 0 1 0 5.5 0a2.7 2.7 0 1 0 -5.5 0z" fill="url(#pd)"/>
<circle class="u" cx="118.7" cy="70.8" r="2.4" fill="none" stroke="#d3d3d3"/>
<circle class="u" cx="121.6" cy="66.2" r="3.0" fill="none" stroke="#888888"/>
<circle class="u" cx="114.8" cy="67.8" r="3.7" fill="none" stroke="#7e7e7e"/>
<path d="M147.4 79.2a4.0 4.0 0 1 0 7.9 0a4.0 4.0 0 1 0 -7.9 0z" fill="none" stroke="#909090" stroke-width="2.6"/>
<path d="M147.4 79.2a4.0 4.0 0 1 0 7.9 0a4.0 4.0 0 1 0 -7.9 0z" fill="#adadad"/>
<path d="M147.4 79.2a4.0 4.0 0 1 0 7.9 0a4.0 4.0 0 1 0 -7.9 0z" fill="url(#pd)"/>
<circle class="u" cx="150.3" cy="82.1" r="2.9" fill="none" stroke="#888888"/>
<path d="M91.8 87.7a1.3 1.3 0 1 0 2.6 0a1.3 1.3 0 1 0 -2.6 0z" fill="none" stroke="#909090" stroke-width="2.6"/>
<path d="M91.8 87.7a1.3 1.3 0 1 0 2.6 0a1.3 1.3 0 1 0 -2.6 0z" fill="#adadad"/>
<path d="M91.8 87.7a1.3 1.3 0 1 0 2.6 0a1.3 1.3 0 1 0 -2.6 0z" fill="url(#pd)"/>
<path d="M181.2 89.4a3.2 3.2 0 1 0 6.4 0a3.2 3.2 0 1 0 -6.4 0zM183.4 93.3a2.3 2.3 0 1 0 4.7 0a2.3 2.3 0 1 0 -4.7 0zM183.9 93.7a2.3 2.3 0 1 0 4.5 0a2.3 2.3 0 1 0 -4.5 0zM180.6 90.1a2.1 2.1 0 1 0 4.2 0a2.1 2.1 0 1 0 -4.2 0z" fill="none" stroke="#909090" stroke-width="2.6"/>
<path d="M181.2 89.4a3.2 3.2 0 1 0 6.4 0a3.2 3.2 0 1 0 -6.4 0zM183.4 93.3a2.3 2.3 0 1 0 4.7 0a2.3 2.3 0 1 0 -4.7 0zM183.9 93.7a2.3 2.3 0 1 0 4.5 0a2.3 2.3 0 1 0 -4.5 0zM180.6 90.1a2.1 2.1 0 1 0 4.2 0a2.1 2.1 0 1 0 -4.2 0z" fill="#adadad"/>
<path d="M181.2 89.4a3.2 3.2 0 1 0 6.4 0a3.2 3.2 0 1 0 -6.4 0zM183.4 93.3a2.3 2.3 0 1 0 4.7 0a2.3 2.3 0 1 0 -4.7 0zM183.9 93.7a2.3 2.3 0 1 0 4.5 0a2.3 2.3 0 1 0 -4.5 0zM180.6 90.1a2.1 2.1 0 1 0 4.2 0a2.1 2.1 0 1 0 -4.2 0z" fill="url(#pd)"/>
<circle class="u" cx="184.9" cy="94.4" r="2.2" fill="none" stroke="#7e7e7e"/>
<circle class="u" cx="187.5" cy="91.7" r="2.5" fill="none" stroke="#888888"/>
<circle class="u" cx="182.6" cy="92.9" r="2.3" fill="none" stroke="#888888"/>
<path d="M237.7 84.5a2.1 2.1 0 1 0 4.2 0a2.1 2.1 0 1 0 -4.2 0zM236.4 89.8a3.1 3.1 0 1 0 6.2 0a3.1 3.1 0 1 0 -6.2 0zM233.9 86.3a3.0 3.0 0 1 0 6.1 0a3.0 3.0 0 1 0 -6.1 0zM234.9 90.3a3.2 3.2 0 1 0 6.4 0a3.2 3.2 0 1 0 -6.4 0z" fill="none" stroke="#909090" stroke-width="2.6"/>
<path d="M237.7 84.5a2.1 2.1 0 1 0 4.2 0a2.1 2.1 0 1 0 -4.2 0zM236.4 89.8a3.1 3.1 0 1 0 6.2 0a3.1 3.1 0 1 0 -6.2 0zM233.9 86.3a3.0 3.0 0 1 0 6.1 0a3.0 3.0 0 1 0 -6.1 0zM234.9 90.3a3.2 3.2 0 1 0 6.4 0a3.2 3.2 0 1 0 -6.4 0z" fill="#adadad"/>
<path d="M237.7 84.5a2.1 2.1 0 1 0 4.2 0a2.1 2.1 0 1 0 -4.2 0zM236.4 89.8a3.1 3.1 0 1 0 6.2 0a3.1 3.1 0 1 0 -6.2 0zM233.9 86.3a3.0 3.0 0 1 0 6.1 0a3.0 3.0 0 1 0 -6.1 0zM234.9 90.3a3.2 3.2 0 1 0 6.4 0a3.2 3.2 0 1 0 -6.4 0z" fill="url(#pd)"/>
<circle class="u" cx="237.4" cy="82.8" r="3.4" fill="none" stroke="#d3d3d3"/>
<circle class="u" cx="237.9" cy="87.0" r="2.5" fill="none" stroke="#7e7e7e"/>
<circle class="u" cx="239.7" cy="90.1" r="3.7" fill="none" stroke="#7e7e7e"/>
<path d="M78.4 102.3a2.9 2.9 0 1 0 5.8 0a2.9 2.9 0 1 0 -5.8 0zM76.7 106.1a2.4 2.4 0 1 0 4.9 0a2.4 2.4 0 1 0 -4.9 0zM79.6 102.7a3.2 3.2 0 1 0 6.4 0a3.2 3.2 0 1 0 -6.4 0zM80.4 106.2a3.3 3.3 0 1 0 6.6 0a3.3 3.3 0 1 0 -6.6 0z" fill="none" stroke="#909090" stroke-width="2.6"/>
<path d="M78.4 102.3a2.9 2.9 0 1 0 5.8 0a2.9 2.9 0 1 0 -5.8 0zM76.7 106.1a2.4 2.4 0 1 0 4.9 0a2.4 2.4 0 1 0 -4.9 0zM79.6 102.7a3.2 3.2 0 1 0 6.4 0a3.2 3.2 0 1 0 -6.4 0zM80.4 106.2a3.3 3.3 0 1 0 6.6 0a3.3 3.3 0 1 0 -6.6 0z" fill="#adadad"/>
<path d="M78.4 102.3a2.9 2.9 0 1 0 5.8 0a2.9 2.9 0 1 0 -5.8 0zM76.7 106.1a2.4 2.4 0 1 0 4.9 0a2.4 2.4 0 1 0 -4.9 0zM79.6 102.7a3.2 3.2 0 1 0 6.4 0a3.2 3.2 0 1 0 -6.4 0zM80.4 106.2a3.3 3.3 0 1 0 6.6 0a3.3 3.3 0 1 0 -6.6 0z" fill="url(#pd)"/>
<circle class="u" cx="84.5" cy="108.3" r="3.1" fill="none" stroke="#888888"/>
<circle class="u" cx="82.2" cy="104.2" r="3.4" fill="none" stroke="#d3d3d3"/>
<circle class="u" cx="85.6" cy="109.3" r="2.8" fill="none" stroke="#7e7e7e"/>
<path d="M91.7 110.0a2.2 2.2 0 1 0 4.3 0a2.2 2.2 0 1 0 -4.3 0zM94.1 112.2a2.0 2.0 0 1 0 4.1 0a2.0 2.0 0 1 0 -4.1 0zM94.2 112.6a2.1 2.1 0 1 0 4.2 0a2.1 2.1 0 1 0 -4.2 0zM93.0 113.8a2.1 2.1 0 1 0 4.2 0a2.1 2.1 0 1 0 -4.2 0z" fill="none" stroke="#909090" stroke-width="2.6"/>
<path d="M91.7 110.0a2.2 2.2 0 1 0 4.3 0a2.2 2.2 0 1 0 -4.3 0zM94.1 112.2a2.0 2.0 0 1 0 4.1 0a2.0 2.0 0 1 0 -4.1 0zM94.2 112.6a2.1 2.1 0 1 0 4.2 0a2.1 2.1 0 1 0 -4.2 0zM93.0 113.8a2.1 2.1 0 1 0 4.2 0a2.1 2.1 0 1 0 -4.2 0z" fill="#adadad"/>
<path d="M91.7 110.0a2.2 2.2 0 1 0 4.3 0a2.2 2.2 0 1 0 -4.3 0zM94.1 112.2a2.0 2.0 0 1 0 4.1 0a2.0 2.0 0 1 0 -4.1 0zM94.2 112.6a2.1 2.1 0 1 0 4.2 0a2.1 2.1 0 1 0 -4.2 0zM93.0 113.8a2.1 2.1 0 1 0 4.2 0a2.1 2.1 0 1 0 -4.2 0z" fill="url(#pd)"/>
<circle class="u" cx="90.9" cy="113.4" r="2.9" fill="none" stroke="#d3d3d3"/>
<circle class="u" cx="90.6" cy="110.7" r="2.5" fill="none" stroke="#d3d3d3"/>
<path d="M210.0 139.3a3.3 3.3 0 1 0 6.6 0a3.3 3.3 0 1 0 -6.6 0zM207.3 141.0a3.0 3.0 0 1 0 5.9 0a3.0 3.0 0 1 0 -5.9 0zM210.7 143.2a2.9 2.9 0 1 0 5.8 0a2.9 2.9 0 1 0 -5.8 0zM209.4 142.6a2.2 2.2 0 1 0 4.4 0a2.2 2.2 0 1 0 -4.4 0z" fill="none" stroke="#909090" stroke-width="2.6"/>
<path d="M210.0 139.3a3.3 3.3 0 1 0 6.6 0a3.3 3.3 0 1 0 -6.6 0zM207.3 141.0a3.0 3.0 0 1 0 5.9 0a3.0 3.0 0 1 0 -5.9 0zM210.7 143.2a2.9 2.9 0 1 0 5.8 0a2.9 2.9 0 1 0 -5.8 0zM209.4 142.6a2.2 2.2 0 1 0 4.4 0a2.2 2.2 0 1 0 -4.4 0z" fill="#adadad"/>
<path d="M210.0 139.3a3.3 3.3 0 1 0 6.6 0a3.3 3.3 0 1 0 -6.6 0zM207.3 141.0a3.0 3.0 0 1 0 5.9 0a3.0 3.0 0 1 0 -5.9 0zM210.7 143.2a2.9 2.9 0 1 0 5.8 0a2.9 2.9 0 1 0 -5.8 0zM209.4 142.6a2.2 2.2 0 1 0 4.4 0a2.2 2.2 0 1 0 -4.4 0z" fill="url(#pd)"/>
<circle class="u" cx="213.5" cy="145.9" r="2.4" fill="none" stroke="#888888"/>
<circle class="u" cx="213.2" cy="143.6" r="2.9" fill="none" stroke="#888888"/>
<circle class="u" cx="210.9" cy="144.8" r="2.4" fill="none" stroke="#d3d3d3"/>
<path d="M137.5 183.3a4.3 4.3 0 1 0 8.6 0a4.3 4.3 0 1 0 -8.6 0zM135.1 184.7a4.3 4.3 0 1 0 8.6 0a4.3 4.3 0 1 0 -8.6 0zM138.0 182.3a4.3 4.3 0 1 0 8.6 0a4.3 4.3 0 1 0 -8.6 0zM138.1 181.6a3.8 3.8 0 1 0 7.7 0a3.8 3.8 0 1 0 -7.7 0zM141.1 181.5a4.8 4.8 0 1 0 9.7 0a4.8 4.8 0 1 0 -9.7 0z" fill="none" stroke="#909090" stroke-width="2.6"/>
<path d="M137.5 183.3a4.3 4.3 0 1 0 8.6 0a4.3 4.3 0 1 0 -8.6 0zM135.1 184.7a4.3 4.3 0 1 0 8.6 0a4.3 4.3 0 1 0 -8.6 0zM138.0 182.3a4.3 4.3 0 1 0 8.6 0a4.3 4.3 0 1 0 -8.6 0zM138.1 181.6a3.8 3.8 0 1 0 7.7 0a3.8 3.8 0 1 0 -7.7 0zM141.1 181.5a4.8 4.8 0 1 0 9.7 0a4.8 4.8 0 1 0 -9.7 0z" fill="#adadad"/>
<path d="M137.5 183.3a4.3 4.3 0 1 0 8.6 0a4.3 4.3 0 1 0 -8.6 0zM135.1 184.7a4.3 4.3 0 1 0 8.6 0a4.3 4.3 0 1 0 -8.6 0zM138.0 182.3a4.3 4.3 0 1 0 8.6 0a4.3 4.3 0 1 0 -8.6 0zM138.1 181.6a3.8 3.8 0 1 0 7.7 0a3.8 3.8 0 1 0 -7.7 0zM141.1 181.5a4.8 4.8 0 1 0 9.7 0a4.8 4.8 0 1 0 -9.7 0z" fill="url(#pd)"/>
<circle class="u" cx="134.0" cy="180.3" r="2.1" fill="none" stroke="#888888"/>
<circle class="u" cx="147.5" cy="180.3" r="2.1" fill="none" stroke="#7e7e7e"/>
<circle class="u" cx="136.9" cy="183.1" r="3.5" fill="none" stroke="#d3d3d3"/>
<circle class="u" cx="141.8" cy="185.9" r="3.4" fill="none" stroke="#d3d3d3"/>
<circle class="u" cx="147.4" cy="180.0" r="3.6" fill="none" stroke="#7e7e7e"/>
<circle class="u" cx="144.7" cy="176.7" r="2.5" fill="none" stroke="#7e7e7e"/>
<circle class="u" cx="145.6" cy="185.4" r="3.5" fill="none" stroke="#888888"/>
<path d="M175.6 185.7a2.3 2.3 0 1 0 4.7 0a2.3 2.3 0 1 0 -4.7 0zM178.4 184.7a2.8 2.8 0 1 0 5.6 0a2.8 2.8 0 1 0 -5.6 0zM176.3 185.9a2.4 2.4 0 1 0 4.9 0a2.4 2.4 0 1 0 -4.9 0zM176.4 183.1a2.4 2.4 0 1 0 4.7 0a2.4 2.4 0 1 0 -4.7 0z" fill="none" stroke="#909090" stroke-width="2.6"/>
<path d="M175.6 185.7a2.3 2.3 0 1 0 4.7 0a2.3 2.3 0 1 0 -4.7 0zM178.4 184.7a2.8 2.8 0 1 0 5.6 0a2.8 2.8 0 1 0 -5.6 0zM176.3 185.9a2.4 2.4 0 1 0 4.9 0a2.4 2.4 0 1 0 -4.9 0zM176.4 183.1a2.4 2.4 0 1 0 4.7 0a2.4 2.4 0 1 0 -4.7 0z" fill="#adadad"/>
<path d="M175.6 185.7a2.3 2.3 0 1 0 4.7 0a2.3 2.3 0 1 0 -4.7 0zM178.4 184.7a2.8 2.8 0 1 0 5.6 0a2.8 2.8 0 1 0 -5.6 0zM176.3 185.9a2.4 2.4 0 1 0 4.9 0a2.4 2.4 0 1 0 -4.9 0zM176.4 183.1a2.4 2.4 0 1 0 4.7 0a2.4 2.4 0 1 0 -4.7 0z" fill="url(#pd)"/>
<circle class="u" cx="180.5" cy="179.7" r="2.7" fill="none" stroke="#d3d3d3"/>
<circle class="u" cx="178.7" cy="187.2" r="2.3" fill="none" stroke="#888888"/>
<circle class="u" cx="174.8" cy="183.5" r="3.5" fill="none" stroke="#7e7e7e"/>
<path d="M-0.3 174.6a1.9 1.9 0 1 0 3.9 0a1.9 1.9 0 1 0 -3.9 0zM-0.6 173.7a2.0 2.0 0 1 0 3.9 0a2.0 2.0 0 1 0 -3.9 0zM-0.9 175.4a2.0 2.0 0 1 0 3.9 0a2.0 2.0 0 1 0 -3.9 0zM0.9 173.0a2.4 2.4 0 1 0 4.8 0a2.4 2.4 0 1 0 -4.8 0z" fill="none" stroke="#909090" stroke-width="2.6"/>
<path d="M-0.3 174.6a1.9 1.9 0 1 0 3.9 0a1.9 1.9 0 1 0 -3.9 0zM-0.6 173.7a2.0 2.0 0 1 0 3.9 0a2.0 2.0 0 1 0 -3.9 0zM-0.9 175.4a2.0 2.0 0 1 0 3.9 0a2.0 2.0 0 1 0 -3.9 0zM0.9 173.0a2.4 2.4 0 1 0 4.8 0a2.4 2.4 0 1 0 -4.8 0z" fill="#adadad"/>
<path d="M-0.3 174.6a1.9 1.9 0 1 0 3.9 0a1.9 1.9 0 1 0 -3.9 0zM-0.6 173.7a2.0 2.0 0 1 0 3.9 0a2.0 2.0 0 1 0 -3.9 0zM-0.9 175.4a2.0 2.0 0 1 0 3.9 0a2.0 2.0 0 1 0 -3.9 0zM0.9 173.0a2.4 2.4 0 1 0 4.8 0a2.4 2.4 0 1 0 -4.8 0z" fill="url(#pd)"/>
<circle class="u" cx="0.2" cy="177.1" r="3.6" fill="none" stroke="#d3d3d3"/>
<circle class="u" cx="3.5" cy="174.2" r="3.5" fill="none" stroke="#888888"/>
</g>
</svg>
<line x1="1513.0" y1="666.6" x2="1539.5" y2="666.6" stroke="#ff0000" stroke-width="2.6" />
<line x1="1518.6" y1="869.1" x2="1545.2" y2="869.1" stroke="#ff0000" stroke-width="2.6" />
<rect x="1433.3" y="495.3" width="59.7" height="392.7" fill="none" stroke="#000" stroke-width="3.6" />
<line x1="1433.3" y1="692.0" x2="1494.7" y2="692.0" stroke="#000" stroke-width="3.6" />
<text transform="translate(1457,634.9) scale(1,1.13)" font-size="55.6" font-weight="bold">-</text>
<text x="1445.1" y="826.4" font-size="52" font-weight="bold">+</text>
<line x1="959.2" y1="621.0" x2="959.2" y2="855.9" stroke="#000" stroke-width="3.4" />
<line x1="950.2" y1="854.2" x2="959.2" y2="854.2" stroke="#000" stroke-width="3.2" />
<text transform="translate(945.6,860.6) scale(1,1.05)" font-size="18" font-weight="bold" text-anchor="end" fill="#000" >0.0</text>
<line x1="950.2" y1="777.0" x2="959.2" y2="777.0" stroke="#000" stroke-width="3.2" />
<text transform="translate(945.6,783.4) scale(1,1.05)" font-size="18" font-weight="bold" text-anchor="end" fill="#000" >0.5</text>
<line x1="950.2" y1="699.7" x2="959.2" y2="699.7" stroke="#000" stroke-width="3.2" />
<text transform="translate(945.6,706.1) scale(1,1.05)" font-size="18" font-weight="bold" text-anchor="end" fill="#000" >1.0</text>
<line x1="950.2" y1="622.5" x2="959.2" y2="622.5" stroke="#000" stroke-width="3.2" />
<text transform="translate(945.6,628.9) scale(1,1.05)" font-size="18" font-weight="bold" text-anchor="end" fill="#000" >1.5</text>
<line x1="950.4" y1="854.6" x2="1110.5" y2="854.6" stroke="#000" stroke-width="3.0" />
<line x1="1112.0" y1="854.6" x2="1260.0" y2="854.6" stroke="#000" stroke-width="3.0" />
<line x1="1262.0" y1="854.6" x2="1413.5" y2="854.6" stroke="#000" stroke-width="3.0" />
<text transform="translate(910.5,738.5) rotate(-90)" font-size="19.3" font-weight="bold" text-anchor="middle">Relative SFE</text>
<rect x="983.8" y="700.9" width="39.5" height="153.3" fill="#d3d3d3" stroke="#000" stroke-width="3.5" />
<line x1="1003.5" y1="676.5" x2="1003.5" y2="722.8" stroke="#000" stroke-width="2" />
<line x1="992.5" y1="676.5" x2="1014.5" y2="676.5" stroke="#000" stroke-width="2" />
<line x1="992.5" y1="722.8" x2="1014.5" y2="722.8" stroke="#000" stroke-width="2" />
<circle cx="1003.6" cy="675.0" r="3.7" fill="none" stroke="#000" stroke-width="2.2"/>
<circle cx="1003.6" cy="703.4" r="3.7" fill="none" stroke="#000" stroke-width="2.2"/>
<circle cx="1003.6" cy="720.6" r="3.7" fill="none" stroke="#000" stroke-width="2.2"/>
<rect x="1049.8" y="823.0" width="39.5" height="31.2" fill="#5f5f5f" stroke="#000" stroke-width="3.5" />
<line x1="1069.6" y1="816.7" x2="1069.6" y2="824.5" stroke="#000" stroke-width="2" />
<line x1="1058.6" y1="816.7" x2="1080.6" y2="816.7" stroke="#000" stroke-width="2" />
<line x1="1058.6" y1="824.5" x2="1080.6" y2="824.5" stroke="#000" stroke-width="2" />
<circle cx="1063.0" cy="816.7" r="3.7" fill="none" stroke="#000" stroke-width="2.2"/>
<circle cx="1076.5" cy="818.9" r="3.7" fill="none" stroke="#000" stroke-width="2.2"/>
<circle cx="1062.4" cy="825.4" r="3.7" fill="none" stroke="#000" stroke-width="2.2"/>
<rect x="1133.2" y="700.9" width="39.5" height="153.3" fill="#d3d3d3" stroke="#000" stroke-width="3.5" />
<line x1="1153.0" y1="684.3" x2="1153.0" y2="715.0" stroke="#000" stroke-width="2" />
<line x1="1142.0" y1="684.3" x2="1164.0" y2="684.3" stroke="#000" stroke-width="2" />
<line x1="1142.0" y1="715.0" x2="1164.0" y2="715.0" stroke="#000" stroke-width="2" />
<circle cx="1153.2" cy="687.5" r="3.7" fill="none" stroke="#000" stroke-width="2.2"/>
<circle cx="1153.2" cy="694.7" r="3.7" fill="none" stroke="#000" stroke-width="2.2"/>
<circle cx="1153.2" cy="716.6" r="3.7" fill="none" stroke="#000" stroke-width="2.2"/>
<rect x="1199.5" y="824.5" width="39.5" height="29.7" fill="#5f5f5f" stroke="#000" stroke-width="3.5" />
<line x1="1219.2" y1="817.3" x2="1219.2" y2="825.4" stroke="#000" stroke-width="2" />
<line x1="1208.2" y1="817.3" x2="1230.2" y2="817.3" stroke="#000" stroke-width="2" />
<line x1="1208.2" y1="825.4" x2="1230.2" y2="825.4" stroke="#000" stroke-width="2" />
<circle cx="1212.3" cy="817.3" r="3.7" fill="none" stroke="#000" stroke-width="2.2"/>
<circle cx="1225.7" cy="821.4" r="3.7" fill="none" stroke="#000" stroke-width="2.2"/>
<circle cx="1213.2" cy="825.4" r="3.7" fill="none" stroke="#000" stroke-width="2.2"/>
<rect x="1282.7" y="700.9" width="39.5" height="153.3" fill="#d3d3d3" stroke="#000" stroke-width="3.5" />
<line x1="1302.4" y1="656.2" x2="1302.4" y2="743.2" stroke="#000" stroke-width="2" />
<line x1="1291.4" y1="656.2" x2="1313.4" y2="656.2" stroke="#000" stroke-width="2" />
<line x1="1291.4" y1="743.2" x2="1313.4" y2="743.2" stroke="#000" stroke-width="2" />
<circle cx="1302.4" cy="649.3" r="3.7" fill="none" stroke="#000" stroke-width="2.2"/>
<circle cx="1294.6" cy="726.9" r="3.7" fill="none" stroke="#000" stroke-width="2.2"/>
<circle cx="1309.6" cy="722.8" r="3.7" fill="none" stroke="#000" stroke-width="2.2"/>
<rect x="1348.7" y="798.2" width="39.5" height="56.0" fill="#5f5f5f" stroke="#000" stroke-width="3.5" />
<line x1="1368.4" y1="781.7" x2="1368.4" y2="808.9" stroke="#000" stroke-width="2" />
<line x1="1357.4" y1="781.7" x2="1379.4" y2="781.7" stroke="#000" stroke-width="2" />
<line x1="1357.4" y1="808.9" x2="1379.4" y2="808.9" stroke="#000" stroke-width="2" />
<circle cx="1368.7" cy="780.7" r="3.7" fill="none" stroke="#000" stroke-width="2.2"/>
<circle cx="1368.7" cy="797.0" r="3.7" fill="none" stroke="#000" stroke-width="2.2"/>
<circle cx="1368.7" cy="807.9" r="3.7" fill="none" stroke="#000" stroke-width="2.2"/>
<line x1="1836.7" y1="619.2" x2="1836.7" y2="854.8" stroke="#000" stroke-width="3.4" />
<line x1="1827.7" y1="853.1" x2="1836.7" y2="853.1" stroke="#000" stroke-width="3.2" />
<text transform="translate(1825.0,859.5) scale(1,1.05)" font-size="18" font-weight="bold" text-anchor="end" fill="#000" >0.0</text>
<line x1="1827.7" y1="775.6" x2="1836.7" y2="775.6" stroke="#000" stroke-width="3.2" />
<text transform="translate(1825.0,782.0) scale(1,1.05)" font-size="18" font-weight="bold" text-anchor="end" fill="#000" >0.5</text>
<line x1="1827.7" y1="698.2" x2="1836.7" y2="698.2" stroke="#000" stroke-width="3.2" />
<text transform="translate(1825.0,704.6) scale(1,1.05)" font-size="18" font-weight="bold" text-anchor="end" fill="#000" >1.0</text>
<line x1="1827.7" y1="620.8" x2="1836.7" y2="620.8" stroke="#000" stroke-width="3.2" />
<text transform="translate(1825.0,627.1) scale(1,1.05)" font-size="18" font-weight="bold" text-anchor="end" fill="#000" >1.5</text>
<line x1="1826.7" y1="853.5" x2="1993.0" y2="853.5" stroke="#000" stroke-width="3.0" />
<text transform="translate(1787.5,737.0) rotate(-90)" font-size="19.3" font-weight="bold" text-anchor="middle">Relative SFE</text>
<rect x="1860.8" y="699.4" width="39.5" height="153.7" fill="#d3d3d3" stroke="#000" stroke-width="3.5" />
<line x1="1880.5" y1="683.8" x2="1880.5" y2="714.7" stroke="#000" stroke-width="2" />
<line x1="1869.5" y1="683.8" x2="1891.5" y2="683.8" stroke="#000" stroke-width="2" />
<line x1="1869.5" y1="714.7" x2="1891.5" y2="714.7" stroke="#000" stroke-width="2" />
<circle cx="1880.5" cy="682.2" r="3.7" fill="none" stroke="#000" stroke-width="2.2"/>
<circle cx="1880.5" cy="702.1" r="3.7" fill="none" stroke="#000" stroke-width="2.2"/>
<circle cx="1880.5" cy="711.4" r="3.7" fill="none" stroke="#000" stroke-width="2.2"/>
<rect x="1927.7" y="835.7" width="39.5" height="17.4" fill="#5f5f5f" stroke="#000" stroke-width="3.5" />
<line x1="1947.4" y1="827.6" x2="1947.4" y2="840.2" stroke="#000" stroke-width="2" />
<line x1="1936.4" y1="827.6" x2="1958.4" y2="827.6" stroke="#000" stroke-width="2" />
<line x1="1936.4" y1="840.2" x2="1958.4" y2="840.2" stroke="#000" stroke-width="2" />
<circle cx="1941.2" cy="827.3" r="3.7" fill="none" stroke="#000" stroke-width="2.2"/>
<circle cx="1939.6" cy="840.5" r="3.7" fill="none" stroke="#000" stroke-width="2.2"/>
<circle cx="1953.9" cy="833.9" r="3.7" fill="none" stroke="#000" stroke-width="2.2"/>
<text transform="translate(891.0,594.5) scale(1,1.05)" font-size="33" font-weight="bold" text-anchor="start" fill="#000" >ADC</text>
<rect x="965.2" y="564.4" width="143.0" height="35.6" fill="none" stroke="#000" stroke-width="3.5" />
<line x1="1035.8" y1="562.6" x2="1035.8" y2="601.7" stroke="#000" stroke-width="3.5" />
<text x="999.6" y="592.7" font-size="34" font-weight="normal" text-anchor="middle" fill="#000" >-</text>
<text x="1072.9" y="594.7" font-size="34" font-weight="normal" text-anchor="middle" fill="#000" >+</text>
<rect x="1114.2" y="564.4" width="143.5" height="35.6" fill="none" stroke="#000" stroke-width="3.5" />
<line x1="1186.0" y1="562.6" x2="1186.0" y2="601.7" stroke="#000" stroke-width="3.5" />
<text x="1149.2" y="592.7" font-size="34" font-weight="normal" text-anchor="middle" fill="#000" >-</text>
<text x="1222.8" y="594.7" font-size="34" font-weight="normal" text-anchor="middle" fill="#000" >+</text>
<rect x="1263.5" y="564.4" width="143.0" height="35.6" fill="none" stroke="#000" stroke-width="3.5" />
<line x1="1335.3" y1="562.6" x2="1335.3" y2="601.7" stroke="#000" stroke-width="3.5" />
<text x="1298.5" y="592.7" font-size="34" font-weight="normal" text-anchor="middle" fill="#000" >-</text>
<text x="1371.8" y="594.7" font-size="34" font-weight="normal" text-anchor="middle" fill="#000" >+</text>
<text transform="translate(1767.0,592.5) scale(1,1.05)" font-size="33" font-weight="bold" text-anchor="start" fill="#000" >ADC</text>
<rect x="1842.8" y="563.4" width="142.5" height="34.7" fill="none" stroke="#000" stroke-width="3.5" />
<line x1="1914.7" y1="561.6" x2="1914.7" y2="599.8" stroke="#000" stroke-width="3.5" />
<text x="1877.8" y="590.8" font-size="34" font-weight="normal" text-anchor="middle" fill="#000" >-</text>
<text x="1950.8" y="592.8" font-size="34" font-weight="normal" text-anchor="middle" fill="#000" >+</text>
<text transform="translate(1037.4,543.0) scale(1,1.05)" font-size="33" font-weight="bold" text-anchor="middle" fill="#000" >WT</text>
<text transform="translate(1186.6,499.0) scale(1,1.05)" font-size="33" font-weight="bold" text-anchor="middle" fill="#000" >ER</text>
<text transform="translate(1186.0,538.2) scale(1,1.05)" font-size="33" font-weight="bold" text-anchor="middle" fill="#000" >(Y537S)</text>
<text transform="translate(1333.7,499.0) scale(1,1.05)" font-size="33" font-weight="bold" text-anchor="middle" fill="#000" >ER</text>
<text transform="translate(1332.7,538.2) scale(1,1.05)" font-size="33" font-weight="bold" text-anchor="middle" fill="#000" >(D538G)</text>
<line x1="1003.6" y1="647.4" x2="1069.9" y2="647.4" stroke="#000" stroke-width="2.5" />
<line x1="1153.2" y1="657.1" x2="1218.9" y2="657.1" stroke="#000" stroke-width="2.5" />
<line x1="1302.4" y1="634.3" x2="1368.1" y2="634.3" stroke="#000" stroke-width="2.5" />
<line x1="1880.8" y1="655.0" x2="1947.2" y2="655.0" stroke="#000" stroke-width="2.5" />
<text x="1017.2" y="641.9" font-size="24" font-weight="bold" style="font-family:DejaVu Sans,sans-serif" stroke="#000" stroke-width="0.53" letter-spacing="2.12">***</text>
<text x="1166.8" y="652.1" font-size="24" font-weight="bold" style="font-family:DejaVu Sans,sans-serif" stroke="#000" stroke-width="0.53" letter-spacing="2.12">***</text>
<text x="1329.1" y="630.5" font-size="24" font-weight="bold" style="font-family:DejaVu Sans,sans-serif" stroke="#000" stroke-width="0.53" letter-spacing="2.12">*</text>
<text x="1894.5" y="650.2" font-size="24" font-weight="bold" style="font-family:DejaVu Sans,sans-serif" stroke="#000" stroke-width="0.53" letter-spacing="2.12">***</text>
<text x="38.0" y="971.3" font-size="52" font-weight="bold" text-anchor="start" fill="#000" >d.</text>
<text transform="translate(97.6,971.3) scale(1,1.07)" font-size="40.6" font-weight="bold" text-anchor="start" fill="#000" >ZR-75-1</text>
<line x1="169.4" y1="1078.5" x2="169.4" y2="1559.2" stroke="#000" stroke-width="4.8" />
<line x1="167.0" y1="1540.2" x2="859.3" y2="1540.2" stroke="#000" stroke-width="4.8" />
<line x1="150.4" y1="1540.2" x2="169.4" y2="1540.2" stroke="#000" stroke-width="4.8" />
<text transform="translate(145.2,1552.8) scale(1,1.05)" font-size="35.5" font-weight="bold" text-anchor="end" fill="#000" >0</text>
<line x1="150.4" y1="1396.9" x2="169.4" y2="1396.9" stroke="#000" stroke-width="4.8" />
<text transform="translate(145.2,1409.5) scale(1,1.05)" font-size="35.5" font-weight="bold" text-anchor="end" fill="#000" >500</text>
<line x1="150.4" y1="1253.6" x2="169.4" y2="1253.6" stroke="#000" stroke-width="4.8" />
<text transform="translate(145.2,1266.2) scale(1,1.05)" font-size="35.5" font-weight="bold" text-anchor="end" fill="#000" >1000</text>
<line x1="150.4" y1="1110.3" x2="169.4" y2="1110.3" stroke="#000" stroke-width="4.8" />
<text transform="translate(145.2,1122.9) scale(1,1.05)" font-size="35.5" font-weight="bold" text-anchor="end" fill="#000" >1500</text>
<line x1="169.4" y1="1540.2" x2="169.4" y2="1559.2" stroke="#000" stroke-width="4.8" />
<text transform="translate(169.4,1599.5) scale(1,1.05)" font-size="35.5" font-weight="bold" text-anchor="middle" fill="#000" >0</text>
<line x1="360.6" y1="1540.2" x2="360.6" y2="1559.2" stroke="#000" stroke-width="4.8" />
<text transform="translate(360.6,1599.5) scale(1,1.05)" font-size="35.5" font-weight="bold" text-anchor="middle" fill="#000" >50</text>
<line x1="551.9" y1="1540.2" x2="551.9" y2="1559.2" stroke="#000" stroke-width="4.8" />
<text transform="translate(551.9,1599.5) scale(1,1.05)" font-size="35.5" font-weight="bold" text-anchor="middle" fill="#000" >100</text>
<line x1="743.1" y1="1540.2" x2="743.1" y2="1559.2" stroke="#000" stroke-width="4.8" />
<text transform="translate(743.1,1599.5) scale(1,1.05)" font-size="35.5" font-weight="bold" text-anchor="middle" fill="#000" >150</text>
<text transform="translate(514.6,1655.9) scale(1,1.06)" font-size="37.5" font-weight="bold" text-anchor="middle" fill="#000" >Days</text>
<text transform="translate(47.2,1307.8) rotate(-90)" font-size="37.9" font-weight="bold" text-anchor="middle">Tumor Volume (mm<tspan font-size="26" dy="-14.5">3</tspan><tspan dy="14.5">)</tspan></text>
<rect x="166.4" y="1016.5" width="6.4" height="31.5" fill="#000"/>
<polygon points="160.4,1044.0 178.8,1044.0 169.6,1068.0" fill="#000"/>
<rect x="200.6" y="1016.5" width="6.4" height="31.5" fill="#000"/>
<polygon points="194.6,1044.0 213.0,1044.0 203.8,1068.0" fill="#000"/>
<rect x="235.1" y="1016.5" width="6.4" height="31.5" fill="#000"/>
<polygon points="229.1,1044.0 247.5,1044.0 238.3,1068.0" fill="#000"/>
<rect x="267.9" y="1016.5" width="6.4" height="31.5" fill="#000"/>
<polygon points="261.9,1044.0 280.3,1044.0 271.1,1068.0" fill="#000"/>
<rect x="300.7" y="1016.5" width="6.4" height="31.5" fill="#000"/>
<polygon points="294.7,1044.0 313.1,1044.0 303.9,1068.0" fill="#000"/>
<line x1="386.5" y1="1004.5" x2="435.8" y2="1004.5" stroke="#0000c0" stroke-width="4.6" />
<circle cx="411.1" cy="1004.5" r="9.3" fill="#0000c0" stroke="none" stroke-width="0"/>
<line x1="386.5" y1="1054.9" x2="435.8" y2="1054.9" stroke="#f54346" stroke-width="4.6" />
<circle cx="411.1" cy="1054.9" r="9.3" fill="#f54346" stroke="none" stroke-width="0"/>
<text x="463.4" y="1017.7" font-size="37.7" font-weight="bold" text-anchor="start" fill="#000" >Vehicle</text>
<text x="463.4" y="1068.1" font-size="37.7" font-weight="bold" text-anchor="start" fill="#000" >Anti-MUC1-C ADC</text>
<polyline points="805.8,999.7 828.3,999.7 828.3,1062.2 805.8,1062.2" fill="none" stroke="#000" stroke-width="7"/>
<text x="843.1" y="1051.9" font-size="38" font-weight="bold" style="font-family:DejaVu Sans,sans-serif" stroke="#000" stroke-width="0.84" letter-spacing="2.94">****</text>
<polyline points="169.4,1496.0 180.9,1494.3 192.4,1492.5 207.7,1490.5 219.1,1511.8 234.4,1528.0 245.9,1529.3 261.2,1533.6 272.7,1535.6 288.0,1538.5 299.5,1539.5 314.8,1539.5 326.2,1539.5 341.5,1539.5 353.0,1539.5 368.3,1539.5 383.6,1539.5 395.1,1539.5 406.6,1539.5 421.9,1539.5 433.3,1539.5 448.6,1539.5 460.1,1539.5 475.4,1539.5 486.9,1539.5 502.2,1539.5 513.6,1539.5 529.0,1539.5 540.4,1539.5 555.7,1539.5 567.2,1539.5 582.5,1539.5 594.0,1539.5 609.3,1539.5 620.8,1539.5 636.1,1539.5 647.5,1539.5 662.8,1539.5 674.3,1539.5 689.6,1539.5 701.1,1539.5 716.4,1539.3 727.9,1539.0 743.1,1538.5 754.6,1538.0 769.9,1537.5 781.4,1536.5 796.7,1535.0 808.2,1534.0 823.5,1532.0 835.0,1530.5 850.2,1527.6" fill="none" stroke="#f54346" stroke-width="4.8" stroke-linejoin="round"/>
<circle cx="169.4" cy="1496.0" r="9.3" fill="#f54346" stroke="none" stroke-width="0"/>
<circle cx="180.9" cy="1494.3" r="9.3" fill="#f54346" stroke="none" stroke-width="0"/>
<circle cx="192.4" cy="1492.5" r="9.3" fill="#f54346" stroke="none" stroke-width="0"/>
<circle cx="207.7" cy="1490.5" r="9.3" fill="#f54346" stroke="none" stroke-width="0"/>
<circle cx="219.1" cy="1511.8" r="9.3" fill="#f54346" stroke="none" stroke-width="0"/>
<circle cx="234.4" cy="1528.0" r="9.3" fill="#f54346" stroke="none" stroke-width="0"/>
<circle cx="245.9" cy="1529.3" r="9.3" fill="#f54346" stroke="none" stroke-width="0"/>
<circle cx="261.2" cy="1533.6" r="9.3" fill="#f54346" stroke="none" stroke-width="0"/>
<circle cx="272.7" cy="1535.6" r="9.3" fill="#f54346" stroke="none" stroke-width="0"/>
<circle cx="288.0" cy="1538.5" r="9.3" fill="#f54346" stroke="none" stroke-width="0"/>
<circle cx="299.5" cy="1539.5" r="9.3" fill="#f54346" stroke="none" stroke-width="0"/>
<circle cx="314.8" cy="1539.5" r="9.3" fill="#f54346" stroke="none" stroke-width="0"/>
<circle cx="326.2" cy="1539.5" r="9.3" fill="#f54346" stroke="none" stroke-width="0"/>
<circle cx="341.5" cy="1539.5" r="9.3" fill="#f54346" stroke="none" stroke-width="0"/>
<circle cx="353.0" cy="1539.5" r="9.3" fill="#f54346" stroke="none" stroke-width="0"/>
<circle cx="368.3" cy="1539.5" r="9.3" fill="#f54346" stroke="none" stroke-width="0"/>
<circle cx="383.6" cy="1539.5" r="9.3" fill="#f54346" stroke="none" stroke-width="0"/>
<circle cx="395.1" cy="1539.5" r="9.3" fill="#f54346" stroke="none" stroke-width="0"/>
<circle cx="406.6" cy="1539.5" r="9.3" fill="#f54346" stroke="none" stroke-width="0"/>
<circle cx="421.9" cy="1539.5" r="9.3" fill="#f54346" stroke="none" stroke-width="0"/>
<circle cx="433.3" cy="1539.5" r="9.3" fill="#f54346" stroke="none" stroke-width="0"/>
<circle cx="448.6" cy="1539.5" r="9.3" fill="#f54346" stroke="none" stroke-width="0"/>
<circle cx="460.1" cy="1539.5" r="9.3" fill="#f54346" stroke="none" stroke-width="0"/>
<circle cx="475.4" cy="1539.5" r="9.3" fill="#f54346" stroke="none" stroke-width="0"/>
<circle cx="486.9" cy="1539.5" r="9.3" fill="#f54346" stroke="none" stroke-width="0"/>
<circle cx="502.2" cy="1539.5" r="9.3" fill="#f54346" stroke="none" stroke-width="0"/>
<circle cx="513.6" cy="1539.5" r="9.3" fill="#f54346" stroke="none" stroke-width="0"/>
<circle cx="529.0" cy="1539.5" r="9.3" fill="#f54346" stroke="none" stroke-width="0"/>
<circle cx="540.4" cy="1539.5" r="9.3" fill="#f54346" stroke="none" stroke-width="0"/>
<circle cx="555.7" cy="1539.5" r="9.3" fill="#f54346" stroke="none" stroke-width="0"/>
<circle cx="567.2" cy="1539.5" r="9.3" fill="#f54346" stroke="none" stroke-width="0"/>
<circle cx="582.5" cy="1539.5" r="9.3" fill="#f54346" stroke="none" stroke-width="0"/>
<circle cx="594.0" cy="1539.5" r="9.3" fill="#f54346" stroke="none" stroke-width="0"/>
<circle cx="609.3" cy="1539.5" r="9.3" fill="#f54346" stroke="none" stroke-width="0"/>
<circle cx="620.8" cy="1539.5" r="9.3" fill="#f54346" stroke="none" stroke-width="0"/>
<circle cx="636.1" cy="1539.5" r="9.3" fill="#f54346" stroke="none" stroke-width="0"/>
<circle cx="647.5" cy="1539.5" r="9.3" fill="#f54346" stroke="none" stroke-width="0"/>
<circle cx="662.8" cy="1539.5" r="9.3" fill="#f54346" stroke="none" stroke-width="0"/>
<circle cx="674.3" cy="1539.5" r="9.3" fill="#f54346" stroke="none" stroke-width="0"/>
<circle cx="689.6" cy="1539.5" r="9.3" fill="#f54346" stroke="none" stroke-width="0"/>
<circle cx="701.1" cy="1539.5" r="9.3" fill="#f54346" stroke="none" stroke-width="0"/>
<circle cx="716.4" cy="1539.3" r="9.3" fill="#f54346" stroke="none" stroke-width="0"/>
<circle cx="727.9" cy="1539.0" r="9.3" fill="#f54346" stroke="none" stroke-width="0"/>
<circle cx="743.1" cy="1538.5" r="9.3" fill="#f54346" stroke="none" stroke-width="0"/>
<circle cx="754.6" cy="1538.0" r="9.3" fill="#f54346" stroke="none" stroke-width="0"/>
<circle cx="769.9" cy="1537.5" r="9.3" fill="#f54346" stroke="none" stroke-width="0"/>
<circle cx="781.4" cy="1536.5" r="9.3" fill="#f54346" stroke="none" stroke-width="0"/>
<circle cx="796.7" cy="1535.0" r="9.3" fill="#f54346" stroke="none" stroke-width="0"/>
<circle cx="808.2" cy="1534.0" r="9.3" fill="#f54346" stroke="none" stroke-width="0"/>
<circle cx="823.5" cy="1532.0" r="9.3" fill="#f54346" stroke="none" stroke-width="0"/>
<circle cx="835.0" cy="1530.5" r="9.3" fill="#f54346" stroke="none" stroke-width="0"/>
<circle cx="850.2" cy="1527.6" r="9.3" fill="#f54346" stroke="none" stroke-width="0"/>
<line x1="272.1" y1="1411.9" x2="272.1" y2="1429.9" stroke="#0000c0" stroke-width="2.6" />
<line x1="263.4" y1="1411.9" x2="280.9" y2="1411.9" stroke="#0000c0" stroke-width="2.6" />
<line x1="263.4" y1="1429.9" x2="280.9" y2="1429.9" stroke="#0000c0" stroke-width="2.6" />
<line x1="287.7" y1="1399.8" x2="287.7" y2="1421.0" stroke="#0000c0" stroke-width="2.6" />
<line x1="278.9" y1="1399.8" x2="296.4" y2="1399.8" stroke="#0000c0" stroke-width="2.6" />
<line x1="278.9" y1="1421.0" x2="296.4" y2="1421.0" stroke="#0000c0" stroke-width="2.6" />
<line x1="298.9" y1="1395.4" x2="298.9" y2="1415.4" stroke="#0000c0" stroke-width="2.6" />
<line x1="290.1" y1="1395.4" x2="307.6" y2="1395.4" stroke="#0000c0" stroke-width="2.6" />
<line x1="290.1" y1="1415.4" x2="307.6" y2="1415.4" stroke="#0000c0" stroke-width="2.6" />
<line x1="313.9" y1="1391.4" x2="313.9" y2="1409.4" stroke="#0000c0" stroke-width="2.6" />
<line x1="305.1" y1="1391.4" x2="322.6" y2="1391.4" stroke="#0000c0" stroke-width="2.6" />
<line x1="305.1" y1="1409.4" x2="322.6" y2="1409.4" stroke="#0000c0" stroke-width="2.6" />
<line x1="325.2" y1="1380.9" x2="325.2" y2="1400.9" stroke="#0000c0" stroke-width="2.6" />
<line x1="316.4" y1="1380.9" x2="333.9" y2="1380.9" stroke="#0000c0" stroke-width="2.6" />
<line x1="316.4" y1="1400.9" x2="333.9" y2="1400.9" stroke="#0000c0" stroke-width="2.6" />
<line x1="341.5" y1="1368.4" x2="341.5" y2="1388.4" stroke="#0000c0" stroke-width="2.6" />
<line x1="332.8" y1="1368.4" x2="350.2" y2="1368.4" stroke="#0000c0" stroke-width="2.6" />
<line x1="332.8" y1="1388.4" x2="350.2" y2="1388.4" stroke="#0000c0" stroke-width="2.6" />
<line x1="352.7" y1="1357.4" x2="352.7" y2="1378.4" stroke="#0000c0" stroke-width="2.6" />
<line x1="343.9" y1="1357.4" x2="361.4" y2="1357.4" stroke="#0000c0" stroke-width="2.6" />
<line x1="343.9" y1="1378.4" x2="361.4" y2="1378.4" stroke="#0000c0" stroke-width="2.6" />
<line x1="368.5" y1="1348.1" x2="368.5" y2="1370.1" stroke="#0000c0" stroke-width="2.6" />
<line x1="359.8" y1="1348.1" x2="377.2" y2="1348.1" stroke="#0000c0" stroke-width="2.6" />
<line x1="359.8" y1="1370.1" x2="377.2" y2="1370.1" stroke="#0000c0" stroke-width="2.6" />
<line x1="383.5" y1="1341.4" x2="383.5" y2="1366.8" stroke="#0000c0" stroke-width="2.6" />
<line x1="374.8" y1="1341.4" x2="392.2" y2="1341.4" stroke="#0000c0" stroke-width="2.6" />
<line x1="374.8" y1="1366.8" x2="392.2" y2="1366.8" stroke="#0000c0" stroke-width="2.6" />
<line x1="395.3" y1="1328.6" x2="395.3" y2="1356.0" stroke="#0000c0" stroke-width="2.6" />
<line x1="386.6" y1="1328.6" x2="404.1" y2="1328.6" stroke="#0000c0" stroke-width="2.6" />
<line x1="386.6" y1="1356.0" x2="404.1" y2="1356.0" stroke="#0000c0" stroke-width="2.6" />
<line x1="406.6" y1="1315.7" x2="406.6" y2="1344.9" stroke="#0000c0" stroke-width="2.6" />
<line x1="397.9" y1="1315.7" x2="415.4" y2="1315.7" stroke="#0000c0" stroke-width="2.6" />
<line x1="397.9" y1="1344.9" x2="415.4" y2="1344.9" stroke="#0000c0" stroke-width="2.6" />
<line x1="422.1" y1="1302.2" x2="422.1" y2="1333.4" stroke="#0000c0" stroke-width="2.6" />
<line x1="413.4" y1="1302.2" x2="430.9" y2="1302.2" stroke="#0000c0" stroke-width="2.6" />
<line x1="413.4" y1="1333.4" x2="430.9" y2="1333.4" stroke="#0000c0" stroke-width="2.6" />
<line x1="433.6" y1="1294.8" x2="433.6" y2="1330.8" stroke="#0000c0" stroke-width="2.6" />
<line x1="424.9" y1="1294.8" x2="442.4" y2="1294.8" stroke="#0000c0" stroke-width="2.6" />
<line x1="424.9" y1="1330.8" x2="442.4" y2="1330.8" stroke="#0000c0" stroke-width="2.6" />
<line x1="448.6" y1="1305.3" x2="448.6" y2="1325.3" stroke="#0000c0" stroke-width="2.6" />
<line x1="439.9" y1="1305.3" x2="457.4" y2="1305.3" stroke="#0000c0" stroke-width="2.6" />
<line x1="439.9" y1="1325.3" x2="457.4" y2="1325.3" stroke="#0000c0" stroke-width="2.6" />
<line x1="459.9" y1="1294.5" x2="459.9" y2="1318.5" stroke="#0000c0" stroke-width="2.6" />
<line x1="451.1" y1="1294.5" x2="468.6" y2="1294.5" stroke="#0000c0" stroke-width="2.6" />
<line x1="451.1" y1="1318.5" x2="468.6" y2="1318.5" stroke="#0000c0" stroke-width="2.6" />
<line x1="475.4" y1="1282.7" x2="475.4" y2="1307.9" stroke="#0000c0" stroke-width="2.6" />
<line x1="466.6" y1="1282.7" x2="484.1" y2="1282.7" stroke="#0000c0" stroke-width="2.6" />
<line x1="466.6" y1="1307.9" x2="484.1" y2="1307.9" stroke="#0000c0" stroke-width="2.6" />
<line x1="486.7" y1="1261.7" x2="486.7" y2="1288.7" stroke="#0000c0" stroke-width="2.6" />
<line x1="477.9" y1="1261.7" x2="495.4" y2="1261.7" stroke="#0000c0" stroke-width="2.6" />
<line x1="477.9" y1="1288.7" x2="495.4" y2="1288.7" stroke="#0000c0" stroke-width="2.6" />
<line x1="501.7" y1="1240.7" x2="501.7" y2="1274.7" stroke="#0000c0" stroke-width="2.6" />
<line x1="492.9" y1="1240.7" x2="510.4" y2="1240.7" stroke="#0000c0" stroke-width="2.6" />
<line x1="492.9" y1="1274.7" x2="510.4" y2="1274.7" stroke="#0000c0" stroke-width="2.6" />
<line x1="513.4" y1="1217.2" x2="513.4" y2="1259.2" stroke="#0000c0" stroke-width="2.6" />
<line x1="504.6" y1="1217.2" x2="522.1" y2="1217.2" stroke="#0000c0" stroke-width="2.6" />
<line x1="504.6" y1="1259.2" x2="522.1" y2="1259.2" stroke="#0000c0" stroke-width="2.6" />
<line x1="528.5" y1="1203.7" x2="528.5" y2="1245.7" stroke="#0000c0" stroke-width="2.6" />
<line x1="519.8" y1="1203.7" x2="537.2" y2="1203.7" stroke="#0000c0" stroke-width="2.6" />
<line x1="519.8" y1="1245.7" x2="537.2" y2="1245.7" stroke="#0000c0" stroke-width="2.6" />
<line x1="539.7" y1="1189.0" x2="539.7" y2="1233.8" stroke="#0000c0" stroke-width="2.6" />
<line x1="531.0" y1="1189.0" x2="548.5" y2="1189.0" stroke="#0000c0" stroke-width="2.6" />
<line x1="531.0" y1="1233.8" x2="548.5" y2="1233.8" stroke="#0000c0" stroke-width="2.6" />
<line x1="555.5" y1="1169.1" x2="555.5" y2="1217.1" stroke="#0000c0" stroke-width="2.6" />
<line x1="546.8" y1="1169.1" x2="564.2" y2="1169.1" stroke="#0000c0" stroke-width="2.6" />
<line x1="546.8" y1="1217.1" x2="564.2" y2="1217.1" stroke="#0000c0" stroke-width="2.6" />
<line x1="567.3" y1="1178.6" x2="567.3" y2="1216.6" stroke="#0000c0" stroke-width="2.6" />
<line x1="558.5" y1="1178.6" x2="576.0" y2="1178.6" stroke="#0000c0" stroke-width="2.6" />
<line x1="558.5" y1="1216.6" x2="576.0" y2="1216.6" stroke="#0000c0" stroke-width="2.6" />
<line x1="583.0" y1="1161.4" x2="583.0" y2="1201.4" stroke="#0000c0" stroke-width="2.6" />
<line x1="574.2" y1="1161.4" x2="591.8" y2="1161.4" stroke="#0000c0" stroke-width="2.6" />
<line x1="574.2" y1="1201.4" x2="591.8" y2="1201.4" stroke="#0000c0" stroke-width="2.6" />
<line x1="593.8" y1="1167.7" x2="593.8" y2="1197.7" stroke="#0000c0" stroke-width="2.6" />
<line x1="585.0" y1="1167.7" x2="602.5" y2="1167.7" stroke="#0000c0" stroke-width="2.6" />
<line x1="585.0" y1="1197.7" x2="602.5" y2="1197.7" stroke="#0000c0" stroke-width="2.6" />
<line x1="609.6" y1="1144.9" x2="609.6" y2="1172.9" stroke="#0000c0" stroke-width="2.6" />
<line x1="600.9" y1="1144.9" x2="618.4" y2="1144.9" stroke="#0000c0" stroke-width="2.6" />
<line x1="600.9" y1="1172.9" x2="618.4" y2="1172.9" stroke="#0000c0" stroke-width="2.6" />
<line x1="620.6" y1="1132.4" x2="620.6" y2="1160.4" stroke="#0000c0" stroke-width="2.6" />
<line x1="611.9" y1="1132.4" x2="629.4" y2="1132.4" stroke="#0000c0" stroke-width="2.6" />
<line x1="611.9" y1="1160.4" x2="629.4" y2="1160.4" stroke="#0000c0" stroke-width="2.6" />
<line x1="636.3" y1="1117.3" x2="636.3" y2="1151.3" stroke="#0000c0" stroke-width="2.6" />
<line x1="627.5" y1="1117.3" x2="645.0" y2="1117.3" stroke="#0000c0" stroke-width="2.6" />
<line x1="627.5" y1="1151.3" x2="645.0" y2="1151.3" stroke="#0000c0" stroke-width="2.6" />
<line x1="647.6" y1="1123.1" x2="647.6" y2="1147.1" stroke="#0000c0" stroke-width="2.6" />
<line x1="638.9" y1="1123.1" x2="656.4" y2="1123.1" stroke="#0000c0" stroke-width="2.6" />
<line x1="638.9" y1="1147.1" x2="656.4" y2="1147.1" stroke="#0000c0" stroke-width="2.6" />
<polyline points="169.3,1498.0 180.0,1484.7 191.8,1471.7 207.6,1464.7 218.8,1452.2 234.3,1446.2 245.9,1438.7 260.9,1432.9 272.1,1420.9 287.7,1410.4 298.9,1405.4 313.9,1400.4 325.2,1390.9 341.5,1378.4 352.7,1367.9 368.5,1359.1 383.5,1354.1 395.3,1342.3 406.6,1330.3 422.1,1317.8 433.6,1312.8 448.6,1315.3 459.9,1306.5 475.4,1295.3 486.7,1275.2 501.7,1257.7 513.4,1238.2 528.5,1224.7 539.7,1211.4 555.5,1193.1 567.3,1197.6 583.0,1181.4 593.8,1182.7 609.6,1158.9 620.6,1146.4 636.3,1134.3 647.6,1135.1 662.6,1127.1 674.4,1112.6 689.4,1100.1" fill="none" stroke="#0000c0" stroke-width="4.8" stroke-linejoin="round"/>
<circle cx="169.3" cy="1498.0" r="9.3" fill="#0000c0" stroke="none" stroke-width="0"/>
<circle cx="180.0" cy="1484.7" r="9.3" fill="#0000c0" stroke="none" stroke-width="0"/>
<circle cx="191.8" cy="1471.7" r="9.3" fill="#0000c0" stroke="none" stroke-width="0"/>
<circle cx="207.6" cy="1464.7" r="9.3" fill="#0000c0" stroke="none" stroke-width="0"/>
<circle cx="218.8" cy="1452.2" r="9.3" fill="#0000c0" stroke="none" stroke-width="0"/>
<circle cx="234.3" cy="1446.2" r="9.3" fill="#0000c0" stroke="none" stroke-width="0"/>
<circle cx="245.9" cy="1438.7" r="9.3" fill="#0000c0" stroke="none" stroke-width="0"/>
<circle cx="260.9" cy="1432.9" r="9.3" fill="#0000c0" stroke="none" stroke-width="0"/>
<circle cx="272.1" cy="1420.9" r="9.3" fill="#0000c0" stroke="none" stroke-width="0"/>
<circle cx="287.7" cy="1410.4" r="9.3" fill="#0000c0" stroke="none" stroke-width="0"/>
<circle cx="298.9" cy="1405.4" r="9.3" fill="#0000c0" stroke="none" stroke-width="0"/>
<circle cx="313.9" cy="1400.4" r="9.3" fill="#0000c0" stroke="none" stroke-width="0"/>
<circle cx="325.2" cy="1390.9" r="9.3" fill="#0000c0" stroke="none" stroke-width="0"/>
<circle cx="341.5" cy="1378.4" r="9.3" fill="#0000c0" stroke="none" stroke-width="0"/>
<circle cx="352.7" cy="1367.9" r="9.3" fill="#0000c0" stroke="none" stroke-width="0"/>
<circle cx="368.5" cy="1359.1" r="9.3" fill="#0000c0" stroke="none" stroke-width="0"/>
<circle cx="383.5" cy="1354.1" r="9.3" fill="#0000c0" stroke="none" stroke-width="0"/>
<circle cx="395.3" cy="1342.3" r="9.3" fill="#0000c0" stroke="none" stroke-width="0"/>
<circle cx="406.6" cy="1330.3" r="9.3" fill="#0000c0" stroke="none" stroke-width="0"/>
<circle cx="422.1" cy="1317.8" r="9.3" fill="#0000c0" stroke="none" stroke-width="0"/>
<circle cx="433.6" cy="1312.8" r="9.3" fill="#0000c0" stroke="none" stroke-width="0"/>
<circle cx="448.6" cy="1315.3" r="9.3" fill="#0000c0" stroke="none" stroke-width="0"/>
<circle cx="459.9" cy="1306.5" r="9.3" fill="#0000c0" stroke="none" stroke-width="0"/>
<circle cx="475.4" cy="1295.3" r="9.3" fill="#0000c0" stroke="none" stroke-width="0"/>
<circle cx="486.7" cy="1275.2" r="9.3" fill="#0000c0" stroke="none" stroke-width="0"/>
<circle cx="501.7" cy="1257.7" r="9.3" fill="#0000c0" stroke="none" stroke-width="0"/>
<circle cx="513.4" cy="1238.2" r="9.3" fill="#0000c0" stroke="none" stroke-width="0"/>
<circle cx="528.5" cy="1224.7" r="9.3" fill="#0000c0" stroke="none" stroke-width="0"/>
<circle cx="539.7" cy="1211.4" r="9.3" fill="#0000c0" stroke="none" stroke-width="0"/>
<circle cx="555.5" cy="1193.1" r="9.3" fill="#0000c0" stroke="none" stroke-width="0"/>
<circle cx="567.3" cy="1197.6" r="9.3" fill="#0000c0" stroke="none" stroke-width="0"/>
<circle cx="583.0" cy="1181.4" r="9.3" fill="#0000c0" stroke="none" stroke-width="0"/>
<circle cx="593.8" cy="1182.7" r="9.3" fill="#0000c0" stroke="none" stroke-width="0"/>
<circle cx="609.6" cy="1158.9" r="9.3" fill="#0000c0" stroke="none" stroke-width="0"/>
<circle cx="620.6" cy="1146.4" r="9.3" fill="#0000c0" stroke="none" stroke-width="0"/>
<circle cx="636.3" cy="1134.3" r="9.3" fill="#0000c0" stroke="none" stroke-width="0"/>
<circle cx="647.6" cy="1135.1" r="9.3" fill="#0000c0" stroke="none" stroke-width="0"/>
<circle cx="662.6" cy="1127.1" r="9.3" fill="#0000c0" stroke="none" stroke-width="0"/>
<circle cx="674.4" cy="1112.6" r="9.3" fill="#0000c0" stroke="none" stroke-width="0"/>
<circle cx="689.4" cy="1100.1" r="9.3" fill="#0000c0" stroke="none" stroke-width="0"/>
<text x="1015.5" y="971.3" font-size="52" font-weight="bold" text-anchor="start" fill="#000" >e.</text>
<text transform="translate(1073.0,971.3) scale(1,1.07)" font-size="40.6" font-weight="bold" text-anchor="start" fill="#000" >ZR-75-1</text>
<line x1="1177.0" y1="1080.2" x2="1177.0" y2="1559.3" stroke="#000" stroke-width="4.8" />
<line x1="1174.6" y1="1540.3" x2="1868.7" y2="1540.3" stroke="#000" stroke-width="4.8" />
<line x1="1158.0" y1="1540.3" x2="1177.0" y2="1540.3" stroke="#000" stroke-width="4.8" />
<text transform="translate(1153.0,1552.9) scale(1,1.05)" font-size="35.5" font-weight="bold" text-anchor="end" fill="#000" >24</text>
<line x1="1158.0" y1="1448.5" x2="1177.0" y2="1448.5" stroke="#000" stroke-width="4.8" />
<text transform="translate(1153.0,1461.1) scale(1,1.05)" font-size="35.5" font-weight="bold" text-anchor="end" fill="#000" >26</text>
<line x1="1158.0" y1="1356.7" x2="1177.0" y2="1356.7" stroke="#000" stroke-width="4.8" />
<text transform="translate(1153.0,1369.3) scale(1,1.05)" font-size="35.5" font-weight="bold" text-anchor="end" fill="#000" >28</text>
<line x1="1158.0" y1="1264.9" x2="1177.0" y2="1264.9" stroke="#000" stroke-width="4.8" />
<text transform="translate(1153.0,1277.5) scale(1,1.05)" font-size="35.5" font-weight="bold" text-anchor="end" fill="#000" >30</text>
<line x1="1158.0" y1="1173.1" x2="1177.0" y2="1173.1" stroke="#000" stroke-width="4.8" />
<text transform="translate(1153.0,1185.7) scale(1,1.05)" font-size="35.5" font-weight="bold" text-anchor="end" fill="#000" >32</text>
<line x1="1158.0" y1="1081.3" x2="1177.0" y2="1081.3" stroke="#000" stroke-width="4.8" />
<text transform="translate(1153.0,1093.9) scale(1,1.05)" font-size="35.5" font-weight="bold" text-anchor="end" fill="#000" >34</text>
<line x1="1177.0" y1="1540.3" x2="1177.0" y2="1559.3" stroke="#000" stroke-width="4.8" />
<text transform="translate(1177.0,1599.5) scale(1,1.05)" font-size="35.5" font-weight="bold" text-anchor="middle" fill="#000" >0</text>
<line x1="1368.5" y1="1540.3" x2="1368.5" y2="1559.3" stroke="#000" stroke-width="4.8" />
<text transform="translate(1368.5,1599.5) scale(1,1.05)" font-size="35.5" font-weight="bold" text-anchor="middle" fill="#000" >50</text>
<line x1="1560.0" y1="1540.3" x2="1560.0" y2="1559.3" stroke="#000" stroke-width="4.8" />
<text transform="translate(1560.0,1599.5) scale(1,1.05)" font-size="35.5" font-weight="bold" text-anchor="middle" fill="#000" >100</text>
<line x1="1751.5" y1="1540.3" x2="1751.5" y2="1559.3" stroke="#000" stroke-width="4.8" />
<text transform="translate(1751.5,1599.5) scale(1,1.05)" font-size="35.5" font-weight="bold" text-anchor="middle" fill="#000" >150</text>
<text transform="translate(1522.3,1655.9) scale(1,1.06)" font-size="37.5" font-weight="bold" text-anchor="middle" fill="#000" >Days</text>
<text transform="translate(1091.8,1310.8) rotate(-90)" font-size="38.1" font-weight="bold" text-anchor="middle">Body Weight (g)</text>
<rect x="1173.7" y="1013.4" width="6.4" height="30.6" fill="#000"/>
<polygon points="1167.7,1040.0 1186.1,1040.0 1176.9,1064.0" fill="#000"/>
<rect x="1208.1" y="1013.4" width="6.4" height="30.6" fill="#000"/>
<polygon points="1202.1,1040.0 1220.5,1040.0 1211.3,1064.0" fill="#000"/>
<rect x="1243.2" y="1013.4" width="6.4" height="30.6" fill="#000"/>
<polygon points="1237.2,1040.0 1255.6,1040.0 1246.4,1064.0" fill="#000"/>
<rect x="1276.6" y="1013.4" width="6.4" height="30.6" fill="#000"/>
<polygon points="1270.6,1040.0 1289.0,1040.0 1279.8,1064.0" fill="#000"/>
<rect x="1309.4" y="1013.4" width="6.4" height="30.6" fill="#000"/>
<polygon points="1303.4,1040.0 1321.8,1040.0 1312.6,1064.0" fill="#000"/>
<line x1="1379.9" y1="1031.2" x2="1428.3" y2="1031.2" stroke="#0000c0" stroke-width="4.6" />
<circle cx="1404.1" cy="1031.2" r="9.3" fill="#0000c0" stroke="none" stroke-width="0"/>
<line x1="1379.9" y1="1083.0" x2="1428.3" y2="1083.0" stroke="#f54346" stroke-width="4.6" />
<circle cx="1404.1" cy="1083.0" r="9.3" fill="#f54346" stroke="none" stroke-width="0"/>
<text x="1455.0" y="1044.4" font-size="37.7" font-weight="bold" text-anchor="start" fill="#000" >Vehicle</text>
<text x="1455.0" y="1096.2" font-size="37.7" font-weight="bold" text-anchor="start" fill="#000" >Anti-MUC1-C ADC</text>
<polyline points="1177.0,1417.8 1188.8,1459.1 1200.1,1440.3 1215.6,1475.9 1227.1,1426.6 1242.6,1471.6 1253.9,1424.8 1269.4,1412.3 1280.9,1397.8 1295.9,1395.3 1307.7,1417.3 1322.7,1417.8 1334.5,1403.5 1349.7,1397.8 1361.5,1382.3 1376.5,1410.8 1392.0,1399.0 1403.3,1426.6 1414.8,1380.8 1430.3,1404.0 1441.6,1352.7 1456.6,1379.0 1468.4,1367.7 1483.7,1374.0 1494.9,1364.0 1510.4,1325.2 1522.2,1312.7 1537.2,1325.9 1548.8,1302.0 1563.8,1307.2 1575.0,1330.3 1591.3,1301.5 1602.6,1210.1 1618.1,1243.4 1628.9,1257.2 1644.6,1258.9 1656.4,1278.4 1671.4,1283.5 1682.7,1245.2 1698.4,1291.0 1709.7,1208.1 1725.2,1201.4 1736.5,1220.9 1752.3,1235.1 1763.5,1232.6 1779.0,1277.7 1790.3,1210.1 1805.3,1265.2 1816.6,1273.2 1832.1,1242.7 1843.6,1183.3 1859.1,1255.9" fill="none" stroke="#f54346" stroke-width="4.8" stroke-linejoin="round"/>
<circle cx="1177.0" cy="1417.8" r="8.6" fill="#f54346" stroke="none" stroke-width="0"/>
<circle cx="1188.8" cy="1459.1" r="8.6" fill="#f54346" stroke="none" stroke-width="0"/>
<circle cx="1200.1" cy="1440.3" r="8.6" fill="#f54346" stroke="none" stroke-width="0"/>
<circle cx="1215.6" cy="1475.9" r="8.6" fill="#f54346" stroke="none" stroke-width="0"/>
<circle cx="1227.1" cy="1426.6" r="8.6" fill="#f54346" stroke="none" stroke-width="0"/>
<circle cx="1242.6" cy="1471.6" r="8.6" fill="#f54346" stroke="none" stroke-width="0"/>
<circle cx="1253.9" cy="1424.8" r="8.6" fill="#f54346" stroke="none" stroke-width="0"/>
<circle cx="1269.4" cy="1412.3" r="8.6" fill="#f54346" stroke="none" stroke-width="0"/>
<circle cx="1280.9" cy="1397.8" r="8.6" fill="#f54346" stroke="none" stroke-width="0"/>
<circle cx="1295.9" cy="1395.3" r="8.6" fill="#f54346" stroke="none" stroke-width="0"/>
<circle cx="1307.7" cy="1417.3" r="8.6" fill="#f54346" stroke="none" stroke-width="0"/>
<circle cx="1322.7" cy="1417.8" r="8.6" fill="#f54346" stroke="none" stroke-width="0"/>
<circle cx="1334.5" cy="1403.5" r="8.6" fill="#f54346" stroke="none" stroke-width="0"/>
<circle cx="1349.7" cy="1397.8" r="8.6" fill="#f54346" stroke="none" stroke-width="0"/>
<circle cx="1361.5" cy="1382.3" r="8.6" fill="#f54346" stroke="none" stroke-width="0"/>
<circle cx="1376.5" cy="1410.8" r="8.6" fill="#f54346" stroke="none" stroke-width="0"/>
<circle cx="1392.0" cy="1399.0" r="8.6" fill="#f54346" stroke="none" stroke-width="0"/>
<circle cx="1403.3" cy="1426.6" r="8.6" fill="#f54346" stroke="none" stroke-width="0"/>
<circle cx="1414.8" cy="1380.8" r="8.6" fill="#f54346" stroke="none" stroke-width="0"/>
<circle cx="1430.3" cy="1404.0" r="8.6" fill="#f54346" stroke="none" stroke-width="0"/>
<circle cx="1441.6" cy="1352.7" r="8.6" fill="#f54346" stroke="none" stroke-width="0"/>
<circle cx="1456.6" cy="1379.0" r="8.6" fill="#f54346" stroke="none" stroke-width="0"/>
<circle cx="1468.4" cy="1367.7" r="8.6" fill="#f54346" stroke="none" stroke-width="0"/>
<circle cx="1483.7" cy="1374.0" r="8.6" fill="#f54346" stroke="none" stroke-width="0"/>
<circle cx="1494.9" cy="1364.0" r="8.6" fill="#f54346" stroke="none" stroke-width="0"/>
<circle cx="1510.4" cy="1325.2" r="8.6" fill="#f54346" stroke="none" stroke-width="0"/>
<circle cx="1522.2" cy="1312.7" r="8.6" fill="#f54346" stroke="none" stroke-width="0"/>
<circle cx="1537.2" cy="1325.9" r="8.6" fill="#f54346" stroke="none" stroke-width="0"/>
<circle cx="1548.8" cy="1302.0" r="8.6" fill="#f54346" stroke="none" stroke-width="0"/>
<circle cx="1563.8" cy="1307.2" r="8.6" fill="#f54346" stroke="none" stroke-width="0"/>
<circle cx="1575.0" cy="1330.3" r="8.6" fill="#f54346" stroke="none" stroke-width="0"/>
<circle cx="1591.3" cy="1301.5" r="8.6" fill="#f54346" stroke="none" stroke-width="0"/>
<circle cx="1602.6" cy="1210.1" r="8.6" fill="#f54346" stroke="none" stroke-width="0"/>
<circle cx="1618.1" cy="1243.4" r="8.6" fill="#f54346" stroke="none" stroke-width="0"/>
<circle cx="1628.9" cy="1257.2" r="8.6" fill="#f54346" stroke="none" stroke-width="0"/>
<circle cx="1644.6" cy="1258.9" r="8.6" fill="#f54346" stroke="none" stroke-width="0"/>
<circle cx="1656.4" cy="1278.4" r="8.6" fill="#f54346" stroke="none" stroke-width="0"/>
<circle cx="1671.4" cy="1283.5" r="8.6" fill="#f54346" stroke="none" stroke-width="0"/>
<circle cx="1682.7" cy="1245.2" r="8.6" fill="#f54346" stroke="none" stroke-width="0"/>
<circle cx="1698.4" cy="1291.0" r="8.6" fill="#f54346" stroke="none" stroke-width="0"/>
<circle cx="1709.7" cy="1208.1" r="8.6" fill="#f54346" stroke="none" stroke-width="0"/>
<circle cx="1725.2" cy="1201.4" r="8.6" fill="#f54346" stroke="none" stroke-width="0"/>
<circle cx="1736.5" cy="1220.9" r="8.6" fill="#f54346" stroke="none" stroke-width="0"/>
<circle cx="1752.3" cy="1235.1" r="8.6" fill="#f54346" stroke="none" stroke-width="0"/>
<circle cx="1763.5" cy="1232.6" r="8.6" fill="#f54346" stroke="none" stroke-width="0"/>
<circle cx="1779.0" cy="1277.7" r="8.6" fill="#f54346" stroke="none" stroke-width="0"/>
<circle cx="1790.3" cy="1210.1" r="8.6" fill="#f54346" stroke="none" stroke-width="0"/>
<circle cx="1805.3" cy="1265.2" r="8.6" fill="#f54346" stroke="none" stroke-width="0"/>
<circle cx="1816.6" cy="1273.2" r="8.6" fill="#f54346" stroke="none" stroke-width="0"/>
<circle cx="1832.1" cy="1242.7" r="8.6" fill="#f54346" stroke="none" stroke-width="0"/>
<circle cx="1843.6" cy="1183.3" r="8.6" fill="#f54346" stroke="none" stroke-width="0"/>
<circle cx="1859.1" cy="1255.9" r="8.6" fill="#f54346" stroke="none" stroke-width="0"/>
<polyline points="1177.0,1424.1 1188.8,1495.9 1200.1,1465.4 1215.6,1457.8 1227.1,1457.3 1242.6,1500.4 1253.9,1448.6 1269.4,1470.4 1280.9,1434.8 1295.9,1457.3 1307.7,1444.1 1322.7,1435.3 1334.5,1450.3 1349.7,1439.1 1361.5,1427.8 1376.5,1431.1 1392.0,1423.3 1403.3,1452.8 1414.8,1434.8 1430.3,1420.3 1441.6,1409.0 1456.6,1436.6 1468.4,1434.1 1483.7,1449.8 1494.9,1399.8 1510.4,1399.0 1522.2,1376.5 1537.2,1397.8 1548.8,1364.1 1563.8,1384.1 1575.0,1340.8 1591.3,1344.0 1602.6,1334.0 1618.1,1332.8 1629.4,1351.5 1644.6,1398.3 1656.4,1371.1 1671.4,1356.5 1683.2,1324.0 1698.4,1332.3" fill="none" stroke="#0000c0" stroke-width="4.8" stroke-linejoin="round"/>
<circle cx="1177.0" cy="1424.1" r="8.6" fill="#0000c0" stroke="none" stroke-width="0"/>
<circle cx="1188.8" cy="1495.9" r="8.6" fill="#0000c0" stroke="none" stroke-width="0"/>
<circle cx="1200.1" cy="1465.4" r="8.6" fill="#0000c0" stroke="none" stroke-width="0"/>
<circle cx="1215.6" cy="1457.8" r="8.6" fill="#0000c0" stroke="none" stroke-width="0"/>
<circle cx="1227.1" cy="1457.3" r="8.6" fill="#0000c0" stroke="none" stroke-width="0"/>
<circle cx="1242.6" cy="1500.4" r="8.6" fill="#0000c0" stroke="none" stroke-width="0"/>
<circle cx="1253.9" cy="1448.6" r="8.6" fill="#0000c0" stroke="none" stroke-width="0"/>
<circle cx="1269.4" cy="1470.4" r="8.6" fill="#0000c0" stroke="none" stroke-width="0"/>
<circle cx="1280.9" cy="1434.8" r="8.6" fill="#0000c0" stroke="none" stroke-width="0"/>
<circle cx="1295.9" cy="1457.3" r="8.6" fill="#0000c0" stroke="none" stroke-width="0"/>
<circle cx="1307.7" cy="1444.1" r="8.6" fill="#0000c0" stroke="none" stroke-width="0"/>
<circle cx="1322.7" cy="1435.3" r="8.6" fill="#0000c0" stroke="none" stroke-width="0"/>
<circle cx="1334.5" cy="1450.3" r="8.6" fill="#0000c0" stroke="none" stroke-width="0"/>
<circle cx="1349.7" cy="1439.1" r="8.6" fill="#0000c0" stroke="none" stroke-width="0"/>
<circle cx="1361.5" cy="1427.8" r="8.6" fill="#0000c0" stroke="none" stroke-width="0"/>
<circle cx="1376.5" cy="1431.1" r="8.6" fill="#0000c0" stroke="none" stroke-width="0"/>
<circle cx="1392.0" cy="1423.3" r="8.6" fill="#0000c0" stroke="none" stroke-width="0"/>
<circle cx="1403.3" cy="1452.8" r="8.6" fill="#0000c0" stroke="none" stroke-width="0"/>
<circle cx="1414.8" cy="1434.8" r="8.6" fill="#0000c0" stroke="none" stroke-width="0"/>
<circle cx="1430.3" cy="1420.3" r="8.6" fill="#0000c0" stroke="none" stroke-width="0"/>
<circle cx="1441.6" cy="1409.0" r="8.6" fill="#0000c0" stroke="none" stroke-width="0"/>
<circle cx="1456.6" cy="1436.6" r="8.6" fill="#0000c0" stroke="none" stroke-width="0"/>
<circle cx="1468.4" cy="1434.1" r="8.6" fill="#0000c0" stroke="none" stroke-width="0"/>
<circle cx="1483.7" cy="1449.8" r="8.6" fill="#0000c0" stroke="none" stroke-width="0"/>
<circle cx="1494.9" cy="1399.8" r="8.6" fill="#0000c0" stroke="none" stroke-width="0"/>
<circle cx="1510.4" cy="1399.0" r="8.6" fill="#0000c0" stroke="none" stroke-width="0"/>
<circle cx="1522.2" cy="1376.5" r="8.6" fill="#0000c0" stroke="none" stroke-width="0"/>
<circle cx="1537.2" cy="1397.8" r="8.6" fill="#0000c0" stroke="none" stroke-width="0"/>
<circle cx="1548.8" cy="1364.1" r="8.6" fill="#0000c0" stroke="none" stroke-width="0"/>
<circle cx="1563.8" cy="1384.1" r="8.6" fill="#0000c0" stroke="none" stroke-width="0"/>
<circle cx="1575.0" cy="1340.8" r="8.6" fill="#0000c0" stroke="none" stroke-width="0"/>
<circle cx="1591.3" cy="1344.0" r="8.6" fill="#0000c0" stroke="none" stroke-width="0"/>
<circle cx="1602.6" cy="1334.0" r="8.6" fill="#0000c0" stroke="none" stroke-width="0"/>
<circle cx="1618.1" cy="1332.8" r="8.6" fill="#0000c0" stroke="none" stroke-width="0"/>
<circle cx="1629.4" cy="1351.5" r="8.6" fill="#0000c0" stroke="none" stroke-width="0"/>
<circle cx="1644.6" cy="1398.3" r="8.6" fill="#0000c0" stroke="none" stroke-width="0"/>
<circle cx="1656.4" cy="1371.1" r="8.6" fill="#0000c0" stroke="none" stroke-width="0"/>
<circle cx="1671.4" cy="1356.5" r="8.6" fill="#0000c0" stroke="none" stroke-width="0"/>
<circle cx="1683.2" cy="1324.0" r="8.6" fill="#0000c0" stroke="none" stroke-width="0"/>
<circle cx="1698.4" cy="1332.3" r="8.6" fill="#0000c0" stroke="none" stroke-width="0"/>
<text x="37.6" y="1787.0" font-size="52" font-weight="bold" text-anchor="start" fill="#000" >f.</text>
<text transform="translate(84.5,1787.0) scale(1,1.075)" font-size="41" font-weight="bold" text-anchor="start" fill="#000" >PDX1415</text>
<line x1="171.2" y1="1904.0" x2="171.2" y2="2384.4" stroke="#000" stroke-width="4.8" />
<line x1="168.8" y1="2365.4" x2="863.3" y2="2365.4" stroke="#000" stroke-width="4.8" />
<line x1="152.2" y1="2365.4" x2="171.2" y2="2365.4" stroke="#000" stroke-width="4.8" />
<text transform="translate(149.0,2378.0) scale(1,1.05)" font-size="35.5" font-weight="bold" text-anchor="end" fill="#000" >0</text>
<line x1="152.2" y1="2237.7" x2="171.2" y2="2237.7" stroke="#000" stroke-width="4.8" />
<text transform="translate(149.0,2250.3) scale(1,1.05)" font-size="35.5" font-weight="bold" text-anchor="end" fill="#000" >500</text>
<line x1="152.2" y1="2110.0" x2="171.2" y2="2110.0" stroke="#000" stroke-width="4.8" />
<text transform="translate(149.0,2122.6) scale(1,1.05)" font-size="35.5" font-weight="bold" text-anchor="end" fill="#000" >1000</text>
<line x1="152.2" y1="1982.3" x2="171.2" y2="1982.3" stroke="#000" stroke-width="4.8" />
<text transform="translate(149.0,1994.9) scale(1,1.05)" font-size="35.5" font-weight="bold" text-anchor="end" fill="#000" >1500</text>
<line x1="171.2" y1="2365.4" x2="171.2" y2="2384.4" stroke="#000" stroke-width="4.8" />
<text transform="translate(171.2,2423.5) scale(1,1.05)" font-size="35.5" font-weight="bold" text-anchor="middle" fill="#000" >0</text>
<line x1="389.8" y1="2365.4" x2="389.8" y2="2384.4" stroke="#000" stroke-width="4.8" />
<text transform="translate(389.8,2423.5) scale(1,1.05)" font-size="35.5" font-weight="bold" text-anchor="middle" fill="#000" >20</text>
<line x1="608.4" y1="2365.4" x2="608.4" y2="2384.4" stroke="#000" stroke-width="4.8" />
<text transform="translate(608.4,2423.5) scale(1,1.05)" font-size="35.5" font-weight="bold" text-anchor="middle" fill="#000" >40</text>
<line x1="827.0" y1="2365.4" x2="827.0" y2="2384.4" stroke="#000" stroke-width="4.8" />
<text transform="translate(827.0,2423.5) scale(1,1.05)" font-size="35.5" font-weight="bold" text-anchor="middle" fill="#000" >60</text>
<text transform="translate(517.0,2479.5) scale(1,1.06)" font-size="37.5" font-weight="bold" text-anchor="middle" fill="#000" >Days</text>
<text transform="translate(47.5,2133) rotate(-90)" font-size="37.9" font-weight="bold" text-anchor="middle">Tumor Volume (mm<tspan font-size="26" dy="-14.5">3</tspan><tspan dy="14.5">)</tspan></text>
<rect x="167.6" y="1842.0" width="6.4" height="28.5" fill="#000"/>
<polygon points="161.6,1866.5 180.0,1866.5 170.8,1890.5" fill="#000"/>
<rect x="247.1" y="1842.0" width="6.4" height="28.5" fill="#000"/>
<polygon points="241.1,1866.5 259.5,1866.5 250.3,1890.5" fill="#000"/>
<rect x="321.0" y="1842.0" width="6.4" height="28.5" fill="#000"/>
<polygon points="315.0,1866.5 333.4,1866.5 324.2,1890.5" fill="#000"/>
<rect x="400.4" y="1842.0" width="6.4" height="28.5" fill="#000"/>
<polygon points="394.4,1866.5 412.8,1866.5 403.6,1890.5" fill="#000"/>
<rect x="474.3" y="1842.0" width="6.4" height="28.5" fill="#000"/>
<polygon points="468.3,1866.5 486.7,1866.5 477.5,1890.5" fill="#000"/>
<line x1="539.4" y1="1821.4" x2="588.2" y2="1821.4" stroke="#0000c0" stroke-width="4.6" />
<circle cx="563.8" cy="1821.4" r="9.3" fill="#0000c0" stroke="none" stroke-width="0"/>
<line x1="539.4" y1="1877.7" x2="588.2" y2="1877.7" stroke="#f54346" stroke-width="4.6" />
<circle cx="563.8" cy="1877.7" r="9.3" fill="#f54346" stroke="none" stroke-width="0"/>
<text x="615.4" y="1834.6" font-size="37.7" font-weight="bold" text-anchor="start" fill="#000" >Vehicle</text>
<text x="615.4" y="1890.9" font-size="37.7" font-weight="bold" text-anchor="start" fill="#000" >Anti-MUC1-C ADC</text>
<polyline points="949.5,1819.9 972.3,1819.9 972.3,1881.7 949.5,1881.7" fill="none" stroke="#000" stroke-width="7.2"/>
<text x="987.0" y="1870.9" font-size="38" font-weight="bold" style="font-family:DejaVu Sans,sans-serif" stroke="#000" stroke-width="0.84" letter-spacing="2.74">***</text>
<line x1="209.3" y1="2301.3" x2="209.3" y2="2320.6" stroke="#f54346" stroke-width="2.6" />
<line x1="200.6" y1="2301.3" x2="218.1" y2="2301.3" stroke="#f54346" stroke-width="2.6" />
<line x1="200.6" y1="2320.6" x2="218.1" y2="2320.6" stroke="#f54346" stroke-width="2.6" />
<polyline points="171.3,2326.8 209.3,2313.0 247.6,2321.8 285.9,2334.3 324.0,2342.6 362.3,2341.8 400.3,2346.1 433.6,2345.6 477.1,2351.3 515.4,2356.3 553.7,2354.3 592.0,2355.6 630.6,2356.3 668.4,2352.3 707.2,2351.3 745.2,2355.6 783.5,2356.8 821.6,2357.3 859.9,2350.1" fill="none" stroke="#f54346" stroke-width="4.8" stroke-linejoin="round"/>
<circle cx="171.3" cy="2326.8" r="9" fill="#f54346" stroke="none" stroke-width="0"/>
<circle cx="209.3" cy="2313.0" r="9" fill="#f54346" stroke="none" stroke-width="0"/>
<circle cx="247.6" cy="2321.8" r="9" fill="#f54346" stroke="none" stroke-width="0"/>
<circle cx="285.9" cy="2334.3" r="9" fill="#f54346" stroke="none" stroke-width="0"/>
<circle cx="324.0" cy="2342.6" r="9" fill="#f54346" stroke="none" stroke-width="0"/>
<circle cx="362.3" cy="2341.8" r="9" fill="#f54346" stroke="none" stroke-width="0"/>
<circle cx="400.3" cy="2346.1" r="9" fill="#f54346" stroke="none" stroke-width="0"/>
<circle cx="433.6" cy="2345.6" r="9" fill="#f54346" stroke="none" stroke-width="0"/>
<circle cx="477.1" cy="2351.3" r="9" fill="#f54346" stroke="none" stroke-width="0"/>
<circle cx="515.4" cy="2356.3" r="9" fill="#f54346" stroke="none" stroke-width="0"/>
<circle cx="553.7" cy="2354.3" r="9" fill="#f54346" stroke="none" stroke-width="0"/>
<circle cx="592.0" cy="2355.6" r="9" fill="#f54346" stroke="none" stroke-width="0"/>
<circle cx="630.6" cy="2356.3" r="9" fill="#f54346" stroke="none" stroke-width="0"/>
<circle cx="668.4" cy="2352.3" r="9" fill="#f54346" stroke="none" stroke-width="0"/>
<circle cx="707.2" cy="2351.3" r="9" fill="#f54346" stroke="none" stroke-width="0"/>
<circle cx="745.2" cy="2355.6" r="9" fill="#f54346" stroke="none" stroke-width="0"/>
<circle cx="783.5" cy="2356.8" r="9" fill="#f54346" stroke="none" stroke-width="0"/>
<circle cx="821.6" cy="2357.3" r="9" fill="#f54346" stroke="none" stroke-width="0"/>
<circle cx="859.9" cy="2350.1" r="9" fill="#f54346" stroke="none" stroke-width="0"/>
<line x1="209.3" y1="2305.5" x2="209.3" y2="2324.3" stroke="#0000c0" stroke-width="2.6" />
<line x1="200.6" y1="2305.5" x2="218.1" y2="2305.5" stroke="#0000c0" stroke-width="2.6" />
<line x1="200.6" y1="2324.3" x2="218.1" y2="2324.3" stroke="#0000c0" stroke-width="2.6" />
<line x1="247.6" y1="2291.8" x2="247.6" y2="2318.0" stroke="#0000c0" stroke-width="2.6" />
<line x1="238.9" y1="2291.8" x2="256.4" y2="2291.8" stroke="#0000c0" stroke-width="2.6" />
<line x1="238.9" y1="2318.0" x2="256.4" y2="2318.0" stroke="#0000c0" stroke-width="2.6" />
<line x1="285.9" y1="2275.5" x2="285.9" y2="2301.3" stroke="#0000c0" stroke-width="2.6" />
<line x1="277.2" y1="2275.5" x2="294.7" y2="2275.5" stroke="#0000c0" stroke-width="2.6" />
<line x1="277.2" y1="2301.3" x2="294.7" y2="2301.3" stroke="#0000c0" stroke-width="2.6" />
<line x1="324.0" y1="2256.7" x2="324.0" y2="2288.8" stroke="#0000c0" stroke-width="2.6" />
<line x1="315.2" y1="2256.7" x2="332.7" y2="2256.7" stroke="#0000c0" stroke-width="2.6" />
<line x1="315.2" y1="2288.8" x2="332.7" y2="2288.8" stroke="#0000c0" stroke-width="2.6" />
<line x1="362.3" y1="2194.1" x2="362.3" y2="2247.2" stroke="#0000c0" stroke-width="2.6" />
<line x1="353.5" y1="2194.1" x2="371.0" y2="2194.1" stroke="#0000c0" stroke-width="2.6" />
<line x1="353.5" y1="2247.2" x2="371.0" y2="2247.2" stroke="#0000c0" stroke-width="2.6" />
<line x1="400.3" y1="2164.6" x2="400.3" y2="2247.2" stroke="#0000c0" stroke-width="2.6" />
<line x1="391.6" y1="2164.6" x2="409.1" y2="2164.6" stroke="#0000c0" stroke-width="2.6" />
<line x1="391.6" y1="2247.2" x2="409.1" y2="2247.2" stroke="#0000c0" stroke-width="2.6" />
<line x1="433.6" y1="2094.8" x2="433.6" y2="2187.4" stroke="#0000c0" stroke-width="2.6" />
<line x1="424.8" y1="2094.8" x2="442.3" y2="2094.8" stroke="#0000c0" stroke-width="2.6" />
<line x1="424.8" y1="2187.4" x2="442.3" y2="2187.4" stroke="#0000c0" stroke-width="2.6" />
<line x1="477.1" y1="2005.2" x2="477.1" y2="2209.9" stroke="#0000c0" stroke-width="2.6" />
<line x1="468.4" y1="2005.2" x2="485.9" y2="2005.2" stroke="#0000c0" stroke-width="2.6" />
<line x1="468.4" y1="2209.9" x2="485.9" y2="2209.9" stroke="#0000c0" stroke-width="2.6" />
<line x1="515.4" y1="1940.8" x2="515.4" y2="2172.4" stroke="#0000c0" stroke-width="2.6" />
<line x1="506.7" y1="1940.8" x2="524.2" y2="1940.8" stroke="#0000c0" stroke-width="2.6" />
<line x1="506.7" y1="2172.4" x2="524.2" y2="2172.4" stroke="#0000c0" stroke-width="2.6" />
<line x1="553.7" y1="2068.5" x2="553.7" y2="2203.7" stroke="#0000c0" stroke-width="2.6" />
<line x1="545.0" y1="2068.5" x2="562.5" y2="2068.5" stroke="#0000c0" stroke-width="2.6" />
<line x1="545.0" y1="2203.7" x2="562.5" y2="2203.7" stroke="#0000c0" stroke-width="2.6" />
<line x1="592.0" y1="2023.4" x2="592.0" y2="2154.8" stroke="#0000c0" stroke-width="2.6" />
<line x1="583.3" y1="2023.4" x2="600.8" y2="2023.4" stroke="#0000c0" stroke-width="2.6" />
<line x1="583.3" y1="2154.8" x2="600.8" y2="2154.8" stroke="#0000c0" stroke-width="2.6" />
<line x1="630.6" y1="2072.0" x2="630.6" y2="2189.6" stroke="#0000c0" stroke-width="2.6" />
<line x1="621.8" y1="2072.0" x2="639.3" y2="2072.0" stroke="#0000c0" stroke-width="2.6" />
<line x1="621.8" y1="2189.6" x2="639.3" y2="2189.6" stroke="#0000c0" stroke-width="2.6" />
<line x1="668.4" y1="2050.2" x2="668.4" y2="2185.4" stroke="#0000c0" stroke-width="2.6" />
<line x1="659.6" y1="2050.2" x2="677.1" y2="2050.2" stroke="#0000c0" stroke-width="2.6" />
<line x1="659.6" y1="2185.4" x2="677.1" y2="2185.4" stroke="#0000c0" stroke-width="2.6" />
<line x1="707.2" y1="1947.6" x2="707.2" y2="2163.4" stroke="#0000c0" stroke-width="2.6" />
<line x1="698.4" y1="1947.6" x2="715.9" y2="1947.6" stroke="#0000c0" stroke-width="2.6" />
<line x1="698.4" y1="2163.4" x2="715.9" y2="2163.4" stroke="#0000c0" stroke-width="2.6" />
<line x1="745.2" y1="2035.7" x2="745.2" y2="2172.4" stroke="#0000c0" stroke-width="2.6" />
<line x1="736.5" y1="2035.7" x2="754.0" y2="2035.7" stroke="#0000c0" stroke-width="2.6" />
<line x1="736.5" y1="2172.4" x2="754.0" y2="2172.4" stroke="#0000c0" stroke-width="2.6" />
<line x1="783.5" y1="2015.7" x2="783.5" y2="2141.1" stroke="#0000c0" stroke-width="2.6" />
<line x1="774.8" y1="2015.7" x2="792.3" y2="2015.7" stroke="#0000c0" stroke-width="2.6" />
<line x1="774.8" y1="2141.1" x2="792.3" y2="2141.1" stroke="#0000c0" stroke-width="2.6" />
<line x1="821.6" y1="1994.6" x2="821.6" y2="2098.5" stroke="#0000c0" stroke-width="2.6" />
<line x1="812.8" y1="1994.6" x2="830.3" y2="1994.6" stroke="#0000c0" stroke-width="2.6" />
<line x1="812.8" y1="2098.5" x2="830.3" y2="2098.5" stroke="#0000c0" stroke-width="2.6" />
<line x1="859.9" y1="1937.1" x2="859.9" y2="2057.2" stroke="#0000c0" stroke-width="2.6" />
<line x1="851.1" y1="1937.1" x2="868.6" y2="1937.1" stroke="#0000c0" stroke-width="2.6" />
<line x1="851.1" y1="2057.2" x2="868.6" y2="2057.2" stroke="#0000c0" stroke-width="2.6" />
<polyline points="171.3,2326.8 209.3,2314.3 247.6,2305.5 285.9,2288.0 324.0,2272.5 362.3,2220.4 400.3,2205.9 433.6,2140.3 477.1,2107.8 515.4,2056.5 553.7,2136.1 592.0,2089.0 630.6,2130.8 668.4,2117.8 707.2,2056.0 745.2,2103.5 783.5,2078.5 821.6,2046.5 859.9,1997.1" fill="none" stroke="#0000c0" stroke-width="4.8" stroke-linejoin="round"/>
<circle cx="171.3" cy="2326.8" r="9" fill="#0000c0" stroke="none" stroke-width="0"/>
<circle cx="209.3" cy="2314.3" r="9" fill="#0000c0" stroke="none" stroke-width="0"/>
<circle cx="247.6" cy="2305.5" r="9" fill="#0000c0" stroke="none" stroke-width="0"/>
<circle cx="285.9" cy="2288.0" r="9" fill="#0000c0" stroke="none" stroke-width="0"/>
<circle cx="324.0" cy="2272.5" r="9" fill="#0000c0" stroke="none" stroke-width="0"/>
<circle cx="362.3" cy="2220.4" r="9" fill="#0000c0" stroke="none" stroke-width="0"/>
<circle cx="400.3" cy="2205.9" r="9" fill="#0000c0" stroke="none" stroke-width="0"/>
<circle cx="433.6" cy="2140.3" r="9" fill="#0000c0" stroke="none" stroke-width="0"/>
<circle cx="477.1" cy="2107.8" r="9" fill="#0000c0" stroke="none" stroke-width="0"/>
<circle cx="515.4" cy="2056.5" r="9" fill="#0000c0" stroke="none" stroke-width="0"/>
<circle cx="553.7" cy="2136.1" r="9" fill="#0000c0" stroke="none" stroke-width="0"/>
<circle cx="592.0" cy="2089.0" r="9" fill="#0000c0" stroke="none" stroke-width="0"/>
<circle cx="630.6" cy="2130.8" r="9" fill="#0000c0" stroke="none" stroke-width="0"/>
<circle cx="668.4" cy="2117.8" r="9" fill="#0000c0" stroke="none" stroke-width="0"/>
<circle cx="707.2" cy="2056.0" r="9" fill="#0000c0" stroke="none" stroke-width="0"/>
<circle cx="745.2" cy="2103.5" r="9" fill="#0000c0" stroke="none" stroke-width="0"/>
<circle cx="783.5" cy="2078.5" r="9" fill="#0000c0" stroke="none" stroke-width="0"/>
<circle cx="821.6" cy="2046.5" r="9" fill="#0000c0" stroke="none" stroke-width="0"/>
<circle cx="859.9" cy="1997.1" r="9" fill="#0000c0" stroke="none" stroke-width="0"/>
<text x="1125.7" y="1787.2" font-size="52" font-weight="bold" text-anchor="start" fill="#000" >g.</text>
<text transform="translate(1186.5,1787.2) scale(1,1.075)" font-size="41" font-weight="bold" text-anchor="start" fill="#000" >PDX1415</text>
<line x1="1173.8" y1="1905.7" x2="1173.8" y2="2384.0" stroke="#000" stroke-width="4.8" />
<line x1="1171.4" y1="2365.0" x2="1864.2" y2="2365.0" stroke="#000" stroke-width="4.8" />
<line x1="1154.8" y1="2365.0" x2="1173.8" y2="2365.0" stroke="#000" stroke-width="4.8" />
<text transform="translate(1150.0,2377.6) scale(1,1.05)" font-size="35.5" font-weight="bold" text-anchor="end" fill="#000" >24</text>
<line x1="1154.8" y1="2250.4" x2="1173.8" y2="2250.4" stroke="#000" stroke-width="4.8" />
<text transform="translate(1150.0,2263.0) scale(1,1.05)" font-size="35.5" font-weight="bold" text-anchor="end" fill="#000" >26</text>
<line x1="1154.8" y1="2135.8" x2="1173.8" y2="2135.8" stroke="#000" stroke-width="4.8" />
<text transform="translate(1150.0,2148.4) scale(1,1.05)" font-size="35.5" font-weight="bold" text-anchor="end" fill="#000" >28</text>
<line x1="1154.8" y1="2021.2" x2="1173.8" y2="2021.2" stroke="#000" stroke-width="4.8" />
<text transform="translate(1150.0,2033.8) scale(1,1.05)" font-size="35.5" font-weight="bold" text-anchor="end" fill="#000" >30</text>
<line x1="1154.8" y1="1906.6" x2="1173.8" y2="1906.6" stroke="#000" stroke-width="4.8" />
<text transform="translate(1150.0,1919.2) scale(1,1.05)" font-size="35.5" font-weight="bold" text-anchor="end" fill="#000" >32</text>
<line x1="1173.8" y1="2365.0" x2="1173.8" y2="2384.0" stroke="#000" stroke-width="4.8" />
<text transform="translate(1173.8,2423.5) scale(1,1.05)" font-size="35.5" font-weight="bold" text-anchor="middle" fill="#000" >0</text>
<line x1="1392.0" y1="2365.0" x2="1392.0" y2="2384.0" stroke="#000" stroke-width="4.8" />
<text transform="translate(1392.0,2423.5) scale(1,1.05)" font-size="35.5" font-weight="bold" text-anchor="middle" fill="#000" >20</text>
<line x1="1610.2" y1="2365.0" x2="1610.2" y2="2384.0" stroke="#000" stroke-width="4.8" />
<text transform="translate(1610.2,2423.5) scale(1,1.05)" font-size="35.5" font-weight="bold" text-anchor="middle" fill="#000" >40</text>
<line x1="1828.4" y1="2365.0" x2="1828.4" y2="2384.0" stroke="#000" stroke-width="4.8" />
<text transform="translate(1828.4,2423.5) scale(1,1.05)" font-size="35.5" font-weight="bold" text-anchor="middle" fill="#000" >60</text>
<text transform="translate(1519.0,2479.5) scale(1,1.06)" font-size="37.5" font-weight="bold" text-anchor="middle" fill="#000" >Days</text>
<text transform="translate(1088,2135.5) rotate(-90)" font-size="38.1" font-weight="bold" text-anchor="middle">Body Weight (g)</text>
<rect x="1170.6" y="1842.4" width="6.4" height="32.1" fill="#000"/>
<polygon points="1164.6,1870.5 1183.0,1870.5 1173.8,1894.5" fill="#000"/>
<rect x="1250.0" y="1842.4" width="6.4" height="32.1" fill="#000"/>
<polygon points="1244.0,1870.5 1262.4,1870.5 1253.2,1894.5" fill="#000"/>
<rect x="1324.8" y="1842.4" width="6.4" height="32.1" fill="#000"/>
<polygon points="1318.8,1870.5 1337.2,1870.5 1328.0,1894.5" fill="#000"/>
<rect x="1403.0" y="1842.4" width="6.4" height="32.1" fill="#000"/>
<polygon points="1397.0,1870.5 1415.4,1870.5 1406.2,1894.5" fill="#000"/>
<rect x="1477.2" y="1842.4" width="6.4" height="32.1" fill="#000"/>
<polygon points="1471.2,1870.5 1489.6,1870.5 1480.4,1894.5" fill="#000"/>
<line x1="1528.2" y1="1863.7" x2="1577.1" y2="1863.7" stroke="#0000c0" stroke-width="4.6" />
<circle cx="1552.7" cy="1863.7" r="9.3" fill="#0000c0" stroke="none" stroke-width="0"/>
<line x1="1528.2" y1="1921.2" x2="1577.1" y2="1921.2" stroke="#f54346" stroke-width="4.6" />
<circle cx="1552.7" cy="1921.2" r="9.3" fill="#f54346" stroke="none" stroke-width="0"/>
<text x="1603.1" y="1876.9" font-size="37.7" font-weight="bold" text-anchor="start" fill="#000" >Vehicle</text>
<text x="1603.1" y="1934.4" font-size="37.7" font-weight="bold" text-anchor="start" fill="#000" >Anti-MUC1-C ADC</text>
<polyline points="1173.8,2230.3 1211.8,2297.9 1250.1,2244.1 1288.2,2228.3 1326.5,2243.3 1364.8,2187.2 1403.3,2150.9 1436.6,2106.4 1479.6,2121.9 1517.9,2113.1 1556.2,2115.6 1595.0,2095.1 1633.1,2141.4 1671.4,2085.1 1709.7,2103.9 1747.7,2107.6 1786.0,2053.8 1824.6,2120.2 1862.9,2107.1" fill="none" stroke="#f54346" stroke-width="4.8" stroke-linejoin="round"/>
<circle cx="1173.8" cy="2230.3" r="8.8" fill="#f54346" stroke="none" stroke-width="0"/>
<circle cx="1211.8" cy="2297.9" r="8.8" fill="#f54346" stroke="none" stroke-width="0"/>
<circle cx="1250.1" cy="2244.1" r="8.8" fill="#f54346" stroke="none" stroke-width="0"/>
<circle cx="1288.2" cy="2228.3" r="8.8" fill="#f54346" stroke="none" stroke-width="0"/>
<circle cx="1326.5" cy="2243.3" r="8.8" fill="#f54346" stroke="none" stroke-width="0"/>
<circle cx="1364.8" cy="2187.2" r="8.8" fill="#f54346" stroke="none" stroke-width="0"/>
<circle cx="1403.3" cy="2150.9" r="8.8" fill="#f54346" stroke="none" stroke-width="0"/>
<circle cx="1436.6" cy="2106.4" r="8.8" fill="#f54346" stroke="none" stroke-width="0"/>
<circle cx="1479.6" cy="2121.9" r="8.8" fill="#f54346" stroke="none" stroke-width="0"/>
<circle cx="1517.9" cy="2113.1" r="8.8" fill="#f54346" stroke="none" stroke-width="0"/>
<circle cx="1556.2" cy="2115.6" r="8.8" fill="#f54346" stroke="none" stroke-width="0"/>
<circle cx="1595.0" cy="2095.1" r="8.8" fill="#f54346" stroke="none" stroke-width="0"/>
<circle cx="1633.1" cy="2141.4" r="8.8" fill="#f54346" stroke="none" stroke-width="0"/>
<circle cx="1671.4" cy="2085.1" r="8.8" fill="#f54346" stroke="none" stroke-width="0"/>
<circle cx="1709.7" cy="2103.9" r="8.8" fill="#f54346" stroke="none" stroke-width="0"/>
<circle cx="1747.7" cy="2107.6" r="8.8" fill="#f54346" stroke="none" stroke-width="0"/>
<circle cx="1786.0" cy="2053.8" r="8.8" fill="#f54346" stroke="none" stroke-width="0"/>
<circle cx="1824.6" cy="2120.2" r="8.8" fill="#f54346" stroke="none" stroke-width="0"/>
<circle cx="1862.9" cy="2107.1" r="8.8" fill="#f54346" stroke="none" stroke-width="0"/>
<polyline points="1173.8,2230.3 1211.8,2182.2 1250.1,2226.5 1288.2,2204.8 1326.5,2204.8 1364.8,2167.2 1403.3,2220.8 1436.6,2143.9 1479.6,2200.3 1517.9,2111.9 1556.2,2129.7 1595.0,2114.6 1633.1,2117.6 1671.4,2117.6 1709.7,2077.6 1747.7,2101.4 1786.0,2093.1 1824.6,2072.6 1862.9,2096.4" fill="none" stroke="#0000c0" stroke-width="4.8" stroke-linejoin="round"/>
<circle cx="1173.8" cy="2230.3" r="8.8" fill="#0000c0" stroke="none" stroke-width="0"/>
<circle cx="1211.8" cy="2182.2" r="8.8" fill="#0000c0" stroke="none" stroke-width="0"/>
<circle cx="1250.1" cy="2226.5" r="8.8" fill="#0000c0" stroke="none" stroke-width="0"/>
<circle cx="1288.2" cy="2204.8" r="8.8" fill="#0000c0" stroke="none" stroke-width="0"/>
<circle cx="1326.5" cy="2204.8" r="8.8" fill="#0000c0" stroke="none" stroke-width="0"/>
<circle cx="1364.8" cy="2167.2" r="8.8" fill="#0000c0" stroke="none" stroke-width="0"/>
<circle cx="1403.3" cy="2220.8" r="8.8" fill="#0000c0" stroke="none" stroke-width="0"/>
<circle cx="1436.6" cy="2143.9" r="8.8" fill="#0000c0" stroke="none" stroke-width="0"/>
<circle cx="1479.6" cy="2200.3" r="8.8" fill="#0000c0" stroke="none" stroke-width="0"/>
<circle cx="1517.9" cy="2111.9" r="8.8" fill="#0000c0" stroke="none" stroke-width="0"/>
<circle cx="1556.2" cy="2129.7" r="8.8" fill="#0000c0" stroke="none" stroke-width="0"/>
<circle cx="1595.0" cy="2114.6" r="8.8" fill="#0000c0" stroke="none" stroke-width="0"/>
<circle cx="1633.1" cy="2117.6" r="8.8" fill="#0000c0" stroke="none" stroke-width="0"/>
<circle cx="1671.4" cy="2117.6" r="8.8" fill="#0000c0" stroke="none" stroke-width="0"/>
<circle cx="1709.7" cy="2077.6" r="8.8" fill="#0000c0" stroke="none" stroke-width="0"/>
<circle cx="1747.7" cy="2101.4" r="8.8" fill="#0000c0" stroke="none" stroke-width="0"/>
<circle cx="1786.0" cy="2093.1" r="8.8" fill="#0000c0" stroke="none" stroke-width="0"/>
<circle cx="1824.6" cy="2072.6" r="8.8" fill="#0000c0" stroke="none" stroke-width="0"/>
<circle cx="1862.9" cy="2096.4" r="8.8" fill="#0000c0" stroke="none" stroke-width="0"/>
</svg>
</body></html>
